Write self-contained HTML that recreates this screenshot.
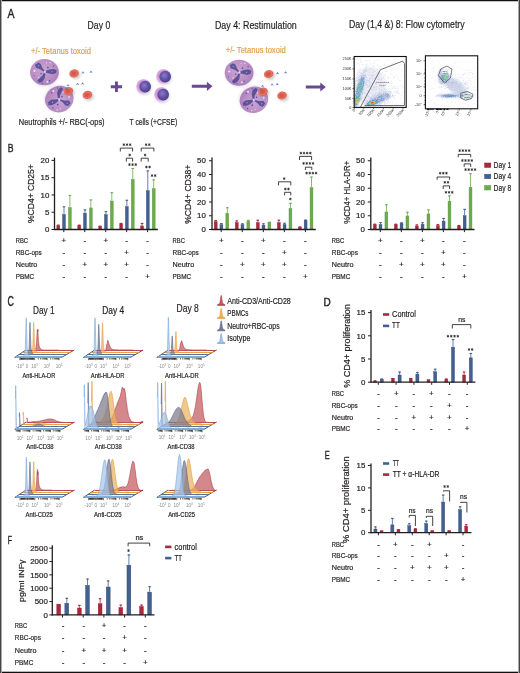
<!DOCTYPE html>
<html><head><meta charset="utf-8"><style>
html,body{margin:0;padding:0;background:#fff;}
svg{display:block;will-change:transform;}
text{font-family:"Liberation Sans", sans-serif;}
</style></head><body>
<svg width="520" height="673" viewBox="0 0 520 673" fill="#231f20" stroke="none">
<rect width="520" height="673" fill="#fff"/>
<defs>
<radialGradient id="neu" cx="0.45" cy="0.42" r="0.62">
 <stop offset="0" stop-color="#cca4d4"/><stop offset="0.6" stop-color="#bc90c6"/><stop offset="0.9" stop-color="#ae82bd"/><stop offset="1" stop-color="#bf95c9"/>
</radialGradient>
<radialGradient id="rbc" cx="0.46" cy="0.5" r="0.6">
 <stop offset="0" stop-color="#cf5a50"/><stop offset="0.35" stop-color="#d8584c"/><stop offset="0.62" stop-color="#ea7462"/><stop offset="1" stop-color="#d4483c"/>
</radialGradient>
<radialGradient id="tco" cx="0.5" cy="0.5" r="0.5">
 <stop offset="0.55" stop-color="#c98fd2"/><stop offset="0.85" stop-color="#d9a2db"/><stop offset="1" stop-color="#ecc3ec"/>
</radialGradient>
<radialGradient id="tci" cx="0.42" cy="0.4" r="0.62">
 <stop offset="0" stop-color="#8a7cc6"/><stop offset="0.55" stop-color="#6353a8"/><stop offset="0.9" stop-color="#514294"/><stop offset="1" stop-color="#45388a"/>
</radialGradient>
<filter id="blur1" x="-50%" y="-50%" width="200%" height="200%"><feGaussianBlur stdDeviation="1.2"/></filter>
<filter id="blur05" x="-50%" y="-50%" width="200%" height="200%"><feGaussianBlur stdDeviation="0.45"/></filter>
</defs>
<rect x="0" y="0" width="520" height="1" fill="#111"/>
<rect x="0" y="1" width="520" height="0.6" fill="#999"/>
<rect x="0" y="672" width="520" height="1" fill="#111"/>
<rect x="0" y="671" width="520" height="0.6" fill="#888"/>
<rect x="0" y="0" width="1" height="673" fill="#444"/>
<rect x="1" y="0" width="1" height="673" fill="#aaa"/>
<rect x="519" y="0" width="1" height="673" fill="#444"/>
<rect x="518" y="0" width="1" height="673" fill="#aaa"/>
<text x="7.8" y="152.2" font-size="11.83" stroke="#231f20" stroke-width="0.4" textLength="5.8" lengthAdjust="spacingAndGlyphs">B</text>
<rect x="56.85" y="225.55" width="2.9" height="3.95" fill="#a9283d" stroke="#9a1a30" stroke-width="0.4"/>
<line x1="58.3" y1="225.35" x2="58.3" y2="224.66" stroke="#a9283d" stroke-width="0.8"/>
<line x1="57" y1="225.16" x2="59.6" y2="225.16" stroke="#a9283d" stroke-width="1.1"/>
<rect x="62.55" y="214.5" width="2.9" height="15" fill="#44608e" stroke="#2f4a7c" stroke-width="0.4"/>
<line x1="64" y1="214.3" x2="64" y2="206.35" stroke="#44608e" stroke-width="0.8"/>
<line x1="62.7" y1="206.85" x2="65.3" y2="206.85" stroke="#44608e" stroke-width="1.1"/>
<rect x="68.45" y="207.59" width="2.9" height="21.91" fill="#6caa4c" stroke="#5a9a3e" stroke-width="0.4"/>
<line x1="69.9" y1="207.39" x2="69.9" y2="194.95" stroke="#6caa4c" stroke-width="0.8"/>
<line x1="68.6" y1="195.45" x2="71.2" y2="195.45" stroke="#6caa4c" stroke-width="1.1"/>
<rect x="77.8" y="225.21" width="2.9" height="4.29" fill="#a9283d" stroke="#9a1a30" stroke-width="0.4"/>
<line x1="79.25" y1="225.01" x2="79.25" y2="224.66" stroke="#a9283d" stroke-width="0.8"/>
<line x1="77.95" y1="225.16" x2="80.55" y2="225.16" stroke="#a9283d" stroke-width="1.1"/>
<rect x="83.5" y="213.12" width="2.9" height="16.38" fill="#44608e" stroke="#2f4a7c" stroke-width="0.4"/>
<line x1="84.95" y1="212.92" x2="84.95" y2="209.46" stroke="#44608e" stroke-width="0.8"/>
<line x1="83.65" y1="209.96" x2="86.25" y2="209.96" stroke="#44608e" stroke-width="1.1"/>
<rect x="89.4" y="207.93" width="2.9" height="21.57" fill="#6caa4c" stroke="#5a9a3e" stroke-width="0.4"/>
<line x1="90.85" y1="207.73" x2="90.85" y2="199.44" stroke="#6caa4c" stroke-width="0.8"/>
<line x1="89.55" y1="199.94" x2="92.15" y2="199.94" stroke="#6caa4c" stroke-width="1.1"/>
<rect x="98.75" y="226.59" width="2.9" height="2.91" fill="#a9283d" stroke="#9a1a30" stroke-width="0.4"/>
<line x1="100.2" y1="226.39" x2="100.2" y2="225.7" stroke="#a9283d" stroke-width="0.8"/>
<line x1="98.9" y1="226.2" x2="101.5" y2="226.2" stroke="#a9283d" stroke-width="1.1"/>
<rect x="104.45" y="214.5" width="2.9" height="15" fill="#44608e" stroke="#2f4a7c" stroke-width="0.4"/>
<line x1="105.9" y1="214.3" x2="105.9" y2="211.19" stroke="#44608e" stroke-width="0.8"/>
<line x1="104.6" y1="211.69" x2="107.2" y2="211.69" stroke="#44608e" stroke-width="1.1"/>
<rect x="110.35" y="201.02" width="2.9" height="28.48" fill="#6caa4c" stroke="#5a9a3e" stroke-width="0.4"/>
<line x1="111.8" y1="200.82" x2="111.8" y2="192.19" stroke="#6caa4c" stroke-width="0.8"/>
<line x1="110.5" y1="192.69" x2="113.1" y2="192.69" stroke="#6caa4c" stroke-width="1.1"/>
<rect x="119.7" y="223.83" width="2.9" height="5.67" fill="#a9283d" stroke="#9a1a30" stroke-width="0.4"/>
<line x1="121.15" y1="223.63" x2="121.15" y2="222.94" stroke="#a9283d" stroke-width="0.8"/>
<line x1="119.85" y1="223.44" x2="122.45" y2="223.44" stroke="#a9283d" stroke-width="1.1"/>
<rect x="125.4" y="206.55" width="2.9" height="22.95" fill="#44608e" stroke="#2f4a7c" stroke-width="0.4"/>
<line x1="126.85" y1="206.35" x2="126.85" y2="199.79" stroke="#44608e" stroke-width="0.8"/>
<line x1="125.55" y1="200.29" x2="128.15" y2="200.29" stroke="#44608e" stroke-width="1.1"/>
<rect x="131.3" y="179.26" width="2.9" height="50.24" fill="#6caa4c" stroke="#5a9a3e" stroke-width="0.4"/>
<line x1="132.75" y1="179.06" x2="132.75" y2="168" stroke="#6caa4c" stroke-width="0.8"/>
<line x1="131.45" y1="168.5" x2="134.05" y2="168.5" stroke="#6caa4c" stroke-width="1.1"/>
<rect x="140.65" y="225.9" width="2.9" height="3.6" fill="#a9283d" stroke="#9a1a30" stroke-width="0.4"/>
<line x1="142.1" y1="225.7" x2="142.1" y2="222.94" stroke="#a9283d" stroke-width="0.8"/>
<line x1="140.8" y1="223.44" x2="143.4" y2="223.44" stroke="#a9283d" stroke-width="1.1"/>
<rect x="146.35" y="190.66" width="2.9" height="38.84" fill="#44608e" stroke="#2f4a7c" stroke-width="0.4"/>
<line x1="147.8" y1="190.46" x2="147.8" y2="170.42" stroke="#44608e" stroke-width="0.8"/>
<line x1="146.5" y1="170.92" x2="149.1" y2="170.92" stroke="#44608e" stroke-width="1.1"/>
<rect x="152.25" y="188.59" width="2.9" height="40.91" fill="#6caa4c" stroke="#5a9a3e" stroke-width="0.4"/>
<line x1="153.7" y1="188.39" x2="153.7" y2="179.4" stroke="#6caa4c" stroke-width="0.8"/>
<line x1="152.4" y1="179.9" x2="155" y2="179.9" stroke="#6caa4c" stroke-width="1.1"/>
<line x1="54.5" y1="157.6" x2="54.5" y2="230.1" stroke="#231f20" stroke-width="1.3"/>
<line x1="53.9" y1="229.5" x2="157.9" y2="229.5" stroke="#231f20" stroke-width="1.3"/>
<line x1="51.5" y1="229.5" x2="54.5" y2="229.5" stroke="#231f20" stroke-width="1"/>
<text x="49.4" y="232.22" font-size="7.9" text-anchor="end" stroke="#231f20" stroke-width="0.2">0</text>
<line x1="51.5" y1="212.22" x2="54.5" y2="212.22" stroke="#231f20" stroke-width="1"/>
<text x="49.4" y="214.94" font-size="7.9" text-anchor="end" stroke="#231f20" stroke-width="0.2">5</text>
<line x1="51.5" y1="194.95" x2="54.5" y2="194.95" stroke="#231f20" stroke-width="1"/>
<text x="49.4" y="197.67" font-size="7.9" text-anchor="end" stroke="#231f20" stroke-width="0.2">10</text>
<line x1="51.5" y1="177.68" x2="54.5" y2="177.68" stroke="#231f20" stroke-width="1"/>
<text x="49.4" y="180.39" font-size="7.9" text-anchor="end" stroke="#231f20" stroke-width="0.2">15</text>
<line x1="51.5" y1="160.4" x2="54.5" y2="160.4" stroke="#231f20" stroke-width="1"/>
<text x="49.4" y="163.12" font-size="7.9" text-anchor="end" stroke="#231f20" stroke-width="0.2">20</text>
<line x1="63.8" y1="229.5" x2="63.8" y2="232.1" stroke="#231f20" stroke-width="1"/>
<line x1="84.75" y1="229.5" x2="84.75" y2="232.1" stroke="#231f20" stroke-width="1"/>
<line x1="105.7" y1="229.5" x2="105.7" y2="232.1" stroke="#231f20" stroke-width="1"/>
<line x1="126.65" y1="229.5" x2="126.65" y2="232.1" stroke="#231f20" stroke-width="1"/>
<line x1="147.6" y1="229.5" x2="147.6" y2="232.1" stroke="#231f20" stroke-width="1"/>
<text x="33.7" y="193.6" font-size="8.4" text-anchor="middle" stroke="#231f20" stroke-width="0.2" textLength="58.8" lengthAdjust="spacingAndGlyphs" transform="rotate(-90 33.7 193.6)">%CD4+ CD25+</text>
<text x="15.7" y="242.82" font-size="7.9" stroke="#231f20" stroke-width="0.2" textLength="12.3" lengthAdjust="spacingAndGlyphs">RBC</text>
<text x="63.8" y="242.82" font-size="7.9" text-anchor="middle" stroke="#231f20" stroke-width="0.2">+</text>
<text x="84.75" y="242.82" font-size="7.9" text-anchor="middle" stroke="#231f20" stroke-width="0.2">-</text>
<text x="105.7" y="242.82" font-size="7.9" text-anchor="middle" stroke="#231f20" stroke-width="0.2">+</text>
<text x="126.65" y="242.82" font-size="7.9" text-anchor="middle" stroke="#231f20" stroke-width="0.2">-</text>
<text x="147.6" y="242.82" font-size="7.9" text-anchor="middle" stroke="#231f20" stroke-width="0.2">-</text>
<text x="15.7" y="254.82" font-size="7.9" stroke="#231f20" stroke-width="0.2" textLength="26.1" lengthAdjust="spacingAndGlyphs">RBC-ops</text>
<text x="63.8" y="254.82" font-size="7.9" text-anchor="middle" stroke="#231f20" stroke-width="0.2">-</text>
<text x="84.75" y="254.82" font-size="7.9" text-anchor="middle" stroke="#231f20" stroke-width="0.2">-</text>
<text x="105.7" y="254.82" font-size="7.9" text-anchor="middle" stroke="#231f20" stroke-width="0.2">-</text>
<text x="126.65" y="254.82" font-size="7.9" text-anchor="middle" stroke="#231f20" stroke-width="0.2">+</text>
<text x="147.6" y="254.82" font-size="7.9" text-anchor="middle" stroke="#231f20" stroke-width="0.2">-</text>
<text x="15.7" y="266.82" font-size="7.9" stroke="#231f20" stroke-width="0.2" textLength="21.7" lengthAdjust="spacingAndGlyphs">Neutro</text>
<text x="63.8" y="266.82" font-size="7.9" text-anchor="middle" stroke="#231f20" stroke-width="0.2">-</text>
<text x="84.75" y="266.82" font-size="7.9" text-anchor="middle" stroke="#231f20" stroke-width="0.2">+</text>
<text x="105.7" y="266.82" font-size="7.9" text-anchor="middle" stroke="#231f20" stroke-width="0.2">+</text>
<text x="126.65" y="266.82" font-size="7.9" text-anchor="middle" stroke="#231f20" stroke-width="0.2">+</text>
<text x="147.6" y="266.82" font-size="7.9" text-anchor="middle" stroke="#231f20" stroke-width="0.2">-</text>
<text x="15.7" y="278.82" font-size="7.9" stroke="#231f20" stroke-width="0.2" textLength="18.5" lengthAdjust="spacingAndGlyphs">PBMC</text>
<text x="63.8" y="278.82" font-size="7.9" text-anchor="middle" stroke="#231f20" stroke-width="0.2">-</text>
<text x="84.75" y="278.82" font-size="7.9" text-anchor="middle" stroke="#231f20" stroke-width="0.2">-</text>
<text x="105.7" y="278.82" font-size="7.9" text-anchor="middle" stroke="#231f20" stroke-width="0.2">-</text>
<text x="126.65" y="278.82" font-size="7.9" text-anchor="middle" stroke="#231f20" stroke-width="0.2">-</text>
<text x="147.6" y="278.82" font-size="7.9" text-anchor="middle" stroke="#231f20" stroke-width="0.2">+</text>
<path d="M120.3 151.5V148.1H132.6V151.5" fill="none" stroke="#231f20" stroke-width="0.85"/>
<path d="M123.85 145.65L123.85 143.75M123.03 145.17L124.67 144.22M123.03 144.22L124.67 145.17M127.00 145.65L127.00 143.75M126.18 145.17L127.82 144.22M126.18 144.22L127.82 145.17M130.15 145.65L130.15 143.75M129.33 145.17L130.97 144.22M129.33 144.22L130.97 145.17" stroke="#2a2627" stroke-width="0.75" stroke-linecap="round" fill="none"/>
<path d="M126.3 161.6V158.2H132.6V161.6" fill="none" stroke="#231f20" stroke-width="0.85"/>
<path d="M129.70 155.95L129.70 154.05M128.88 155.47L130.52 154.53M128.88 154.53L130.52 155.47" stroke="#2a2627" stroke-width="0.75" stroke-linecap="round" fill="none"/>
<path d="M129.45 165.55L129.45 163.65M128.63 165.07L130.27 164.12M128.63 164.12L130.27 165.07M132.60 165.55L132.60 163.65M131.78 165.07L133.42 164.12M131.78 164.12L133.42 165.07M135.75 165.55L135.75 163.65M134.93 165.07L136.57 164.12M134.93 164.12L136.57 165.07" stroke="#2a2627" stroke-width="0.75" stroke-linecap="round" fill="none"/>
<path d="M141.2 151.5V148.1H153.9V151.5" fill="none" stroke="#231f20" stroke-width="0.85"/>
<path d="M146.12 145.65L146.12 143.75M145.30 145.17L146.95 144.22M145.30 144.22L146.95 145.17M149.27 145.65L149.27 143.75M148.45 145.17L150.10 144.22M148.45 144.22L150.10 145.17" stroke="#2a2627" stroke-width="0.75" stroke-linecap="round" fill="none"/>
<path d="M141.2 161.6V158.2H148.2V161.6" fill="none" stroke="#231f20" stroke-width="0.85"/>
<path d="M145.10 155.95L145.10 154.05M144.28 155.47L145.92 154.53M144.28 154.53L145.92 155.47" stroke="#2a2627" stroke-width="0.75" stroke-linecap="round" fill="none"/>
<path d="M146.43 167.95L146.43 166.05M145.60 167.47L147.25 166.53M145.60 166.53L147.25 167.47M149.57 167.95L149.57 166.05M148.75 167.47L150.40 166.53M148.75 166.53L150.40 167.47" stroke="#2a2627" stroke-width="0.75" stroke-linecap="round" fill="none"/>
<path d="M152.03 176.55L152.03 174.65M151.20 176.07L152.85 175.12M151.20 175.12L152.85 176.07M155.17 176.55L155.17 174.65M154.35 176.07L156.00 175.12M154.35 175.12L156.00 176.07" stroke="#2a2627" stroke-width="0.75" stroke-linecap="round" fill="none"/>
<rect x="214.25" y="221.72" width="2.9" height="7.77" fill="#a9283d" stroke="#9a1a30" stroke-width="0.4"/>
<line x1="215.7" y1="221.53" x2="215.7" y2="220.01" stroke="#a9283d" stroke-width="0.8"/>
<line x1="214.4" y1="220.51" x2="217" y2="220.51" stroke="#a9283d" stroke-width="1.1"/>
<rect x="219.95" y="224.75" width="2.9" height="4.75" fill="#44608e" stroke="#2f4a7c" stroke-width="0.4"/>
<line x1="221.4" y1="224.55" x2="221.4" y2="223.04" stroke="#44608e" stroke-width="0.8"/>
<line x1="220.1" y1="223.54" x2="222.7" y2="223.54" stroke="#44608e" stroke-width="1.1"/>
<rect x="225.85" y="213.2" width="2.9" height="16.3" fill="#6caa4c" stroke="#5a9a3e" stroke-width="0.4"/>
<line x1="227.3" y1="213" x2="227.3" y2="207.22" stroke="#6caa4c" stroke-width="0.8"/>
<line x1="226" y1="207.72" x2="228.6" y2="207.72" stroke="#6caa4c" stroke-width="1.1"/>
<rect x="235.3" y="222.55" width="2.9" height="6.95" fill="#a9283d" stroke="#9a1a30" stroke-width="0.4"/>
<line x1="236.75" y1="222.35" x2="236.75" y2="220.43" stroke="#a9283d" stroke-width="0.8"/>
<line x1="235.45" y1="220.93" x2="238.05" y2="220.93" stroke="#a9283d" stroke-width="1.1"/>
<rect x="241" y="224.75" width="2.9" height="4.75" fill="#44608e" stroke="#2f4a7c" stroke-width="0.4"/>
<line x1="242.45" y1="224.55" x2="242.45" y2="223.31" stroke="#44608e" stroke-width="0.8"/>
<line x1="241.15" y1="223.81" x2="243.75" y2="223.81" stroke="#44608e" stroke-width="1.1"/>
<rect x="246.9" y="221.31" width="2.9" height="8.19" fill="#6caa4c" stroke="#5a9a3e" stroke-width="0.4"/>
<line x1="248.35" y1="221.11" x2="248.35" y2="219.88" stroke="#6caa4c" stroke-width="0.8"/>
<line x1="247.05" y1="220.38" x2="249.65" y2="220.38" stroke="#6caa4c" stroke-width="1.1"/>
<rect x="256.35" y="222.55" width="2.9" height="6.95" fill="#a9283d" stroke="#9a1a30" stroke-width="0.4"/>
<line x1="257.8" y1="222.35" x2="257.8" y2="219.74" stroke="#a9283d" stroke-width="0.8"/>
<line x1="256.5" y1="220.24" x2="259.1" y2="220.24" stroke="#a9283d" stroke-width="1.1"/>
<rect x="262.05" y="225.16" width="2.9" height="4.34" fill="#44608e" stroke="#2f4a7c" stroke-width="0.4"/>
<line x1="263.5" y1="224.96" x2="263.5" y2="223.31" stroke="#44608e" stroke-width="0.8"/>
<line x1="262.2" y1="223.81" x2="264.8" y2="223.81" stroke="#44608e" stroke-width="1.1"/>
<rect x="267.95" y="222" width="2.9" height="7.5" fill="#6caa4c" stroke="#5a9a3e" stroke-width="0.4"/>
<rect x="277.4" y="222.55" width="2.9" height="6.95" fill="#a9283d" stroke="#9a1a30" stroke-width="0.4"/>
<line x1="278.85" y1="222.35" x2="278.85" y2="219.74" stroke="#a9283d" stroke-width="0.8"/>
<line x1="277.55" y1="220.24" x2="280.15" y2="220.24" stroke="#a9283d" stroke-width="1.1"/>
<rect x="283.1" y="224.47" width="2.9" height="5.02" fill="#44608e" stroke="#2f4a7c" stroke-width="0.4"/>
<line x1="284.55" y1="224.28" x2="284.55" y2="222.76" stroke="#44608e" stroke-width="0.8"/>
<line x1="283.25" y1="223.26" x2="285.85" y2="223.26" stroke="#44608e" stroke-width="1.1"/>
<rect x="289" y="208.39" width="2.9" height="21.11" fill="#6caa4c" stroke="#5a9a3e" stroke-width="0.4"/>
<line x1="290.45" y1="208.19" x2="290.45" y2="202.82" stroke="#6caa4c" stroke-width="0.8"/>
<line x1="289.15" y1="203.32" x2="291.75" y2="203.32" stroke="#6caa4c" stroke-width="1.1"/>
<rect x="298.45" y="227.09" width="2.9" height="2.41" fill="#a9283d" stroke="#9a1a30" stroke-width="0.4"/>
<line x1="299.9" y1="226.89" x2="299.9" y2="226.47" stroke="#a9283d" stroke-width="0.8"/>
<line x1="298.6" y1="226.97" x2="301.2" y2="226.97" stroke="#a9283d" stroke-width="1.1"/>
<rect x="304.15" y="220.21" width="2.9" height="9.29" fill="#44608e" stroke="#2f4a7c" stroke-width="0.4"/>
<line x1="305.6" y1="220.01" x2="305.6" y2="219.6" stroke="#44608e" stroke-width="0.8"/>
<line x1="304.3" y1="220.1" x2="306.9" y2="220.1" stroke="#44608e" stroke-width="1.1"/>
<rect x="310.05" y="187.62" width="2.9" height="41.87" fill="#6caa4c" stroke="#5a9a3e" stroke-width="0.4"/>
<line x1="311.5" y1="187.43" x2="311.5" y2="176.56" stroke="#6caa4c" stroke-width="0.8"/>
<line x1="310.2" y1="177.06" x2="312.8" y2="177.06" stroke="#6caa4c" stroke-width="1.1"/>
<line x1="212" y1="157.6" x2="212" y2="230.1" stroke="#231f20" stroke-width="1.3"/>
<line x1="211.4" y1="229.5" x2="315.8" y2="229.5" stroke="#231f20" stroke-width="1.3"/>
<line x1="209" y1="229.5" x2="212" y2="229.5" stroke="#231f20" stroke-width="1"/>
<text x="205.9" y="232.22" font-size="7.9" text-anchor="end" stroke="#231f20" stroke-width="0.2">0</text>
<line x1="209" y1="215.75" x2="212" y2="215.75" stroke="#231f20" stroke-width="1"/>
<text x="205.9" y="218.47" font-size="7.9" text-anchor="end" stroke="#231f20" stroke-width="0.2">10</text>
<line x1="209" y1="202" x2="212" y2="202" stroke="#231f20" stroke-width="1"/>
<text x="205.9" y="204.72" font-size="7.9" text-anchor="end" stroke="#231f20" stroke-width="0.2">20</text>
<line x1="209" y1="188.25" x2="212" y2="188.25" stroke="#231f20" stroke-width="1"/>
<text x="205.9" y="190.97" font-size="7.9" text-anchor="end" stroke="#231f20" stroke-width="0.2">30</text>
<line x1="209" y1="174.5" x2="212" y2="174.5" stroke="#231f20" stroke-width="1"/>
<text x="205.9" y="177.22" font-size="7.9" text-anchor="end" stroke="#231f20" stroke-width="0.2">40</text>
<line x1="209" y1="160.75" x2="212" y2="160.75" stroke="#231f20" stroke-width="1"/>
<text x="205.9" y="163.47" font-size="7.9" text-anchor="end" stroke="#231f20" stroke-width="0.2">50</text>
<line x1="221.2" y1="229.5" x2="221.2" y2="232.1" stroke="#231f20" stroke-width="1"/>
<line x1="242.25" y1="229.5" x2="242.25" y2="232.1" stroke="#231f20" stroke-width="1"/>
<line x1="263.3" y1="229.5" x2="263.3" y2="232.1" stroke="#231f20" stroke-width="1"/>
<line x1="284.35" y1="229.5" x2="284.35" y2="232.1" stroke="#231f20" stroke-width="1"/>
<line x1="305.4" y1="229.5" x2="305.4" y2="232.1" stroke="#231f20" stroke-width="1"/>
<text x="190.8" y="194.2" font-size="8.4" text-anchor="middle" stroke="#231f20" stroke-width="0.2" textLength="59.2" lengthAdjust="spacingAndGlyphs" transform="rotate(-90 190.8 194.2)">%CD4+ CD38+</text>
<text x="172.6" y="242.82" font-size="7.9" stroke="#231f20" stroke-width="0.2" textLength="12.3" lengthAdjust="spacingAndGlyphs">RBC</text>
<text x="221.2" y="242.82" font-size="7.9" text-anchor="middle" stroke="#231f20" stroke-width="0.2">+</text>
<text x="242.25" y="242.82" font-size="7.9" text-anchor="middle" stroke="#231f20" stroke-width="0.2">-</text>
<text x="263.3" y="242.82" font-size="7.9" text-anchor="middle" stroke="#231f20" stroke-width="0.2">+</text>
<text x="284.35" y="242.82" font-size="7.9" text-anchor="middle" stroke="#231f20" stroke-width="0.2">-</text>
<text x="305.4" y="242.82" font-size="7.9" text-anchor="middle" stroke="#231f20" stroke-width="0.2">-</text>
<text x="172.6" y="254.82" font-size="7.9" stroke="#231f20" stroke-width="0.2" textLength="26.1" lengthAdjust="spacingAndGlyphs">RBC-ops</text>
<text x="221.2" y="254.82" font-size="7.9" text-anchor="middle" stroke="#231f20" stroke-width="0.2">-</text>
<text x="242.25" y="254.82" font-size="7.9" text-anchor="middle" stroke="#231f20" stroke-width="0.2">-</text>
<text x="263.3" y="254.82" font-size="7.9" text-anchor="middle" stroke="#231f20" stroke-width="0.2">-</text>
<text x="284.35" y="254.82" font-size="7.9" text-anchor="middle" stroke="#231f20" stroke-width="0.2">+</text>
<text x="305.4" y="254.82" font-size="7.9" text-anchor="middle" stroke="#231f20" stroke-width="0.2">-</text>
<text x="172.6" y="266.82" font-size="7.9" stroke="#231f20" stroke-width="0.2" textLength="21.7" lengthAdjust="spacingAndGlyphs">Neutro</text>
<text x="221.2" y="266.82" font-size="7.9" text-anchor="middle" stroke="#231f20" stroke-width="0.2">-</text>
<text x="242.25" y="266.82" font-size="7.9" text-anchor="middle" stroke="#231f20" stroke-width="0.2">+</text>
<text x="263.3" y="266.82" font-size="7.9" text-anchor="middle" stroke="#231f20" stroke-width="0.2">+</text>
<text x="284.35" y="266.82" font-size="7.9" text-anchor="middle" stroke="#231f20" stroke-width="0.2">+</text>
<text x="305.4" y="266.82" font-size="7.9" text-anchor="middle" stroke="#231f20" stroke-width="0.2">-</text>
<text x="172.6" y="278.82" font-size="7.9" stroke="#231f20" stroke-width="0.2" textLength="18.5" lengthAdjust="spacingAndGlyphs">PBMC</text>
<text x="221.2" y="278.82" font-size="7.9" text-anchor="middle" stroke="#231f20" stroke-width="0.2">-</text>
<text x="242.25" y="278.82" font-size="7.9" text-anchor="middle" stroke="#231f20" stroke-width="0.2">-</text>
<text x="263.3" y="278.82" font-size="7.9" text-anchor="middle" stroke="#231f20" stroke-width="0.2">-</text>
<text x="284.35" y="278.82" font-size="7.9" text-anchor="middle" stroke="#231f20" stroke-width="0.2">-</text>
<text x="305.4" y="278.82" font-size="7.9" text-anchor="middle" stroke="#231f20" stroke-width="0.2">+</text>
<path d="M278.5 185.4V181.8H290.8V185.4" fill="none" stroke="#231f20" stroke-width="0.85"/>
<path d="M284.20 179.55L284.20 177.65M283.38 179.07L285.02 178.12M283.38 178.12L285.02 179.07" stroke="#2a2627" stroke-width="0.75" stroke-linecap="round" fill="none"/>
<path d="M284.6 195.4V192.3H290.8V195.4" fill="none" stroke="#231f20" stroke-width="0.85"/>
<path d="M285.32 189.95L285.32 188.05M284.50 189.47L286.15 188.53M284.50 188.53L286.15 189.47M288.47 189.95L288.47 188.05M287.65 189.47L289.30 188.53M287.65 188.53L289.30 189.47" stroke="#2a2627" stroke-width="0.75" stroke-linecap="round" fill="none"/>
<path d="M290.30 199.95L290.30 198.05M289.48 199.47L291.12 198.53M289.48 198.53L291.12 199.47" stroke="#2a2627" stroke-width="0.75" stroke-linecap="round" fill="none"/>
<path d="M299.5 160V156.4H311.6V160" fill="none" stroke="#231f20" stroke-width="0.85"/>
<path d="M300.88 154.05L300.88 152.15M300.05 153.57L301.70 152.62M300.05 152.62L301.70 153.57M304.03 154.05L304.03 152.15M303.20 153.57L304.85 152.62M303.20 152.62L304.85 153.57M307.18 154.05L307.18 152.15M306.35 153.57L308.00 152.62M306.35 152.62L308.00 153.57M310.33 154.05L310.33 152.15M309.50 153.57L311.15 152.62M309.50 152.62L311.15 153.57" stroke="#2a2627" stroke-width="0.75" stroke-linecap="round" fill="none"/>
<path d="M305.4 170V167.2H311.8V170" fill="none" stroke="#231f20" stroke-width="0.85"/>
<path d="M303.57 164.35L303.57 162.45M302.75 163.88L304.40 162.93M302.75 162.93L304.40 163.88M306.73 164.35L306.73 162.45M305.90 163.88L307.55 162.93M305.90 162.93L307.55 163.88M309.88 164.35L309.88 162.45M309.05 163.88L310.70 162.93M309.05 162.93L310.70 163.88M313.03 164.35L313.03 162.45M312.20 163.88L313.85 162.93M312.20 162.93L313.85 163.88" stroke="#2a2627" stroke-width="0.75" stroke-linecap="round" fill="none"/>
<path d="M306.57 174.05L306.57 172.15M305.75 173.57L307.40 172.62M305.75 172.62L307.40 173.57M309.73 174.05L309.73 172.15M308.90 173.57L310.55 172.62M308.90 172.62L310.55 173.57M312.88 174.05L312.88 172.15M312.05 173.57L313.70 172.62M312.05 172.62L313.70 173.57M316.03 174.05L316.03 172.15M315.20 173.57L316.85 172.62M315.20 172.62L316.85 173.57" stroke="#2a2627" stroke-width="0.75" stroke-linecap="round" fill="none"/>
<rect x="373.35" y="224.75" width="2.9" height="4.75" fill="#a9283d" stroke="#9a1a30" stroke-width="0.4"/>
<line x1="374.8" y1="224.55" x2="374.8" y2="223.72" stroke="#a9283d" stroke-width="0.8"/>
<line x1="373.5" y1="224.22" x2="376.1" y2="224.22" stroke="#a9283d" stroke-width="1.1"/>
<rect x="379.05" y="224.47" width="2.9" height="5.02" fill="#44608e" stroke="#2f4a7c" stroke-width="0.4"/>
<line x1="380.5" y1="224.28" x2="380.5" y2="222.07" stroke="#44608e" stroke-width="0.8"/>
<line x1="379.2" y1="222.57" x2="381.8" y2="222.57" stroke="#44608e" stroke-width="1.1"/>
<rect x="384.95" y="211.96" width="2.9" height="17.54" fill="#6caa4c" stroke="#5a9a3e" stroke-width="0.4"/>
<line x1="386.4" y1="211.76" x2="386.4" y2="204.2" stroke="#6caa4c" stroke-width="0.8"/>
<line x1="385.1" y1="204.7" x2="387.7" y2="204.7" stroke="#6caa4c" stroke-width="1.1"/>
<rect x="394.38" y="224.75" width="2.9" height="4.75" fill="#a9283d" stroke="#9a1a30" stroke-width="0.4"/>
<line x1="395.83" y1="224.55" x2="395.83" y2="223.72" stroke="#a9283d" stroke-width="0.8"/>
<line x1="394.53" y1="224.22" x2="397.13" y2="224.22" stroke="#a9283d" stroke-width="1.1"/>
<rect x="400.08" y="223.24" width="2.9" height="6.26" fill="#44608e" stroke="#2f4a7c" stroke-width="0.4"/>
<line x1="401.53" y1="223.04" x2="401.53" y2="222.35" stroke="#44608e" stroke-width="0.8"/>
<line x1="400.23" y1="222.85" x2="402.83" y2="222.85" stroke="#44608e" stroke-width="1.1"/>
<rect x="405.98" y="215.95" width="2.9" height="13.55" fill="#6caa4c" stroke="#5a9a3e" stroke-width="0.4"/>
<line x1="407.43" y1="215.75" x2="407.43" y2="211.76" stroke="#6caa4c" stroke-width="0.8"/>
<line x1="406.13" y1="212.26" x2="408.73" y2="212.26" stroke="#6caa4c" stroke-width="1.1"/>
<rect x="415.41" y="225.99" width="2.9" height="3.51" fill="#a9283d" stroke="#9a1a30" stroke-width="0.4"/>
<line x1="416.86" y1="225.79" x2="416.86" y2="224.41" stroke="#a9283d" stroke-width="0.8"/>
<line x1="415.56" y1="224.91" x2="418.16" y2="224.91" stroke="#a9283d" stroke-width="1.1"/>
<rect x="421.11" y="224.2" width="2.9" height="5.3" fill="#44608e" stroke="#2f4a7c" stroke-width="0.4"/>
<line x1="422.56" y1="224" x2="422.56" y2="222.21" stroke="#44608e" stroke-width="0.8"/>
<line x1="421.26" y1="222.71" x2="423.86" y2="222.71" stroke="#44608e" stroke-width="1.1"/>
<rect x="427.01" y="213.89" width="2.9" height="15.61" fill="#6caa4c" stroke="#5a9a3e" stroke-width="0.4"/>
<line x1="428.46" y1="213.69" x2="428.46" y2="209.43" stroke="#6caa4c" stroke-width="0.8"/>
<line x1="427.16" y1="209.93" x2="429.76" y2="209.93" stroke="#6caa4c" stroke-width="1.1"/>
<rect x="436.44" y="225.57" width="2.9" height="3.92" fill="#a9283d" stroke="#9a1a30" stroke-width="0.4"/>
<line x1="437.89" y1="225.38" x2="437.89" y2="224" stroke="#a9283d" stroke-width="0.8"/>
<line x1="436.59" y1="224.5" x2="439.19" y2="224.5" stroke="#a9283d" stroke-width="1.1"/>
<rect x="442.14" y="221.04" width="2.9" height="8.46" fill="#44608e" stroke="#2f4a7c" stroke-width="0.4"/>
<line x1="443.59" y1="220.84" x2="443.59" y2="217.95" stroke="#44608e" stroke-width="0.8"/>
<line x1="442.29" y1="218.45" x2="444.89" y2="218.45" stroke="#44608e" stroke-width="1.1"/>
<rect x="448.04" y="201.1" width="2.9" height="28.4" fill="#6caa4c" stroke="#5a9a3e" stroke-width="0.4"/>
<line x1="449.49" y1="200.9" x2="449.49" y2="195.4" stroke="#6caa4c" stroke-width="0.8"/>
<line x1="448.19" y1="195.9" x2="450.79" y2="195.9" stroke="#6caa4c" stroke-width="1.1"/>
<rect x="457.47" y="225.99" width="2.9" height="3.51" fill="#a9283d" stroke="#9a1a30" stroke-width="0.4"/>
<line x1="458.92" y1="225.79" x2="458.92" y2="224.96" stroke="#a9283d" stroke-width="0.8"/>
<line x1="457.62" y1="225.46" x2="460.22" y2="225.46" stroke="#a9283d" stroke-width="1.1"/>
<rect x="463.17" y="215.67" width="2.9" height="13.83" fill="#44608e" stroke="#2f4a7c" stroke-width="0.4"/>
<line x1="464.62" y1="215.47" x2="464.62" y2="208.88" stroke="#44608e" stroke-width="0.8"/>
<line x1="463.32" y1="209.38" x2="465.92" y2="209.38" stroke="#44608e" stroke-width="1.1"/>
<rect x="469.07" y="187.21" width="2.9" height="42.29" fill="#6caa4c" stroke="#5a9a3e" stroke-width="0.4"/>
<line x1="470.52" y1="187.01" x2="470.52" y2="173.26" stroke="#6caa4c" stroke-width="0.8"/>
<line x1="469.22" y1="173.76" x2="471.82" y2="173.76" stroke="#6caa4c" stroke-width="1.1"/>
<line x1="370.8" y1="157.6" x2="370.8" y2="230.1" stroke="#231f20" stroke-width="1.3"/>
<line x1="370.2" y1="229.5" x2="474.5" y2="229.5" stroke="#231f20" stroke-width="1.3"/>
<line x1="367.8" y1="229.5" x2="370.8" y2="229.5" stroke="#231f20" stroke-width="1"/>
<text x="364.9" y="232.22" font-size="7.9" text-anchor="end" stroke="#231f20" stroke-width="0.2">0</text>
<line x1="367.8" y1="215.75" x2="370.8" y2="215.75" stroke="#231f20" stroke-width="1"/>
<text x="364.9" y="218.47" font-size="7.9" text-anchor="end" stroke="#231f20" stroke-width="0.2">10</text>
<line x1="367.8" y1="202" x2="370.8" y2="202" stroke="#231f20" stroke-width="1"/>
<text x="364.9" y="204.72" font-size="7.9" text-anchor="end" stroke="#231f20" stroke-width="0.2">20</text>
<line x1="367.8" y1="188.25" x2="370.8" y2="188.25" stroke="#231f20" stroke-width="1"/>
<text x="364.9" y="190.97" font-size="7.9" text-anchor="end" stroke="#231f20" stroke-width="0.2">30</text>
<line x1="367.8" y1="174.5" x2="370.8" y2="174.5" stroke="#231f20" stroke-width="1"/>
<text x="364.9" y="177.22" font-size="7.9" text-anchor="end" stroke="#231f20" stroke-width="0.2">40</text>
<line x1="367.8" y1="160.75" x2="370.8" y2="160.75" stroke="#231f20" stroke-width="1"/>
<text x="364.9" y="163.47" font-size="7.9" text-anchor="end" stroke="#231f20" stroke-width="0.2">50</text>
<line x1="380.3" y1="229.5" x2="380.3" y2="232.1" stroke="#231f20" stroke-width="1"/>
<line x1="401.33" y1="229.5" x2="401.33" y2="232.1" stroke="#231f20" stroke-width="1"/>
<line x1="422.36" y1="229.5" x2="422.36" y2="232.1" stroke="#231f20" stroke-width="1"/>
<line x1="443.39" y1="229.5" x2="443.39" y2="232.1" stroke="#231f20" stroke-width="1"/>
<line x1="464.42" y1="229.5" x2="464.42" y2="232.1" stroke="#231f20" stroke-width="1"/>
<text x="350" y="192.3" font-size="8.4" text-anchor="middle" stroke="#231f20" stroke-width="0.2" textLength="63" lengthAdjust="spacingAndGlyphs" transform="rotate(-90 350 192.3)">%CD4+ HLA-DR+</text>
<text x="331.8" y="242.82" font-size="7.9" stroke="#231f20" stroke-width="0.2" textLength="12.3" lengthAdjust="spacingAndGlyphs">RBC</text>
<text x="380.3" y="242.82" font-size="7.9" text-anchor="middle" stroke="#231f20" stroke-width="0.2">+</text>
<text x="401.33" y="242.82" font-size="7.9" text-anchor="middle" stroke="#231f20" stroke-width="0.2">-</text>
<text x="422.36" y="242.82" font-size="7.9" text-anchor="middle" stroke="#231f20" stroke-width="0.2">+</text>
<text x="443.39" y="242.82" font-size="7.9" text-anchor="middle" stroke="#231f20" stroke-width="0.2">-</text>
<text x="464.42" y="242.82" font-size="7.9" text-anchor="middle" stroke="#231f20" stroke-width="0.2">-</text>
<text x="331.8" y="254.82" font-size="7.9" stroke="#231f20" stroke-width="0.2" textLength="26.1" lengthAdjust="spacingAndGlyphs">RBC-ops</text>
<text x="380.3" y="254.82" font-size="7.9" text-anchor="middle" stroke="#231f20" stroke-width="0.2">-</text>
<text x="401.33" y="254.82" font-size="7.9" text-anchor="middle" stroke="#231f20" stroke-width="0.2">-</text>
<text x="422.36" y="254.82" font-size="7.9" text-anchor="middle" stroke="#231f20" stroke-width="0.2">-</text>
<text x="443.39" y="254.82" font-size="7.9" text-anchor="middle" stroke="#231f20" stroke-width="0.2">+</text>
<text x="464.42" y="254.82" font-size="7.9" text-anchor="middle" stroke="#231f20" stroke-width="0.2">-</text>
<text x="331.8" y="266.82" font-size="7.9" stroke="#231f20" stroke-width="0.2" textLength="21.7" lengthAdjust="spacingAndGlyphs">Neutro</text>
<text x="380.3" y="266.82" font-size="7.9" text-anchor="middle" stroke="#231f20" stroke-width="0.2">-</text>
<text x="401.33" y="266.82" font-size="7.9" text-anchor="middle" stroke="#231f20" stroke-width="0.2">+</text>
<text x="422.36" y="266.82" font-size="7.9" text-anchor="middle" stroke="#231f20" stroke-width="0.2">+</text>
<text x="443.39" y="266.82" font-size="7.9" text-anchor="middle" stroke="#231f20" stroke-width="0.2">+</text>
<text x="464.42" y="266.82" font-size="7.9" text-anchor="middle" stroke="#231f20" stroke-width="0.2">-</text>
<text x="331.8" y="278.82" font-size="7.9" stroke="#231f20" stroke-width="0.2" textLength="18.5" lengthAdjust="spacingAndGlyphs">PBMC</text>
<text x="380.3" y="278.82" font-size="7.9" text-anchor="middle" stroke="#231f20" stroke-width="0.2">-</text>
<text x="401.33" y="278.82" font-size="7.9" text-anchor="middle" stroke="#231f20" stroke-width="0.2">-</text>
<text x="422.36" y="278.82" font-size="7.9" text-anchor="middle" stroke="#231f20" stroke-width="0.2">-</text>
<text x="443.39" y="278.82" font-size="7.9" text-anchor="middle" stroke="#231f20" stroke-width="0.2">-</text>
<text x="464.42" y="278.82" font-size="7.9" text-anchor="middle" stroke="#231f20" stroke-width="0.2">+</text>
<path d="M437.1 179.8V177H449.6V179.8" fill="none" stroke="#231f20" stroke-width="0.85"/>
<path d="M440.15 174.15L440.15 172.25M439.33 173.67L440.97 172.72M439.33 172.72L440.97 173.67M443.30 174.15L443.30 172.25M442.48 173.67L444.12 172.72M442.48 172.72L444.12 173.67M446.45 174.15L446.45 172.25M445.63 173.67L447.27 172.72M445.63 172.72L447.27 173.67" stroke="#2a2627" stroke-width="0.75" stroke-linecap="round" fill="none"/>
<path d="M443.2 189V185.9H449.6V189" fill="none" stroke="#231f20" stroke-width="0.85"/>
<path d="M444.82 183.25L444.82 181.35M444.00 182.78L445.65 181.83M444.00 181.83L445.65 182.78M447.97 183.25L447.97 181.35M447.15 182.78L448.80 181.83M447.15 181.83L448.80 182.78" stroke="#2a2627" stroke-width="0.75" stroke-linecap="round" fill="none"/>
<path d="M445.95 193.25L445.95 191.35M445.13 192.78L446.77 191.83M445.13 191.83L446.77 192.78M449.10 193.25L449.10 191.35M448.28 192.78L449.92 191.83M448.28 191.83L449.92 192.78M452.25 193.25L452.25 191.35M451.43 192.78L453.07 191.83M451.43 191.83L453.07 192.78" stroke="#2a2627" stroke-width="0.75" stroke-linecap="round" fill="none"/>
<path d="M458.2 157.3V154.4H470.7V157.3" fill="none" stroke="#231f20" stroke-width="0.85"/>
<path d="M459.67 151.55L459.67 149.65M458.85 151.07L460.50 150.12M458.85 150.12L460.50 151.07M462.82 151.55L462.82 149.65M462.00 151.07L463.65 150.12M462.00 150.12L463.65 151.07M465.97 151.55L465.97 149.65M465.15 151.07L466.80 150.12M465.15 150.12L466.80 151.07M469.12 151.55L469.12 149.65M468.30 151.07L469.95 150.12M468.30 150.12L469.95 151.07" stroke="#2a2627" stroke-width="0.75" stroke-linecap="round" fill="none"/>
<path d="M464.2 166.9V163.9H470.7V166.9" fill="none" stroke="#231f20" stroke-width="0.85"/>
<path d="M462.38 161.45L462.38 159.55M461.55 160.97L463.20 160.03M461.55 160.03L463.20 160.97M465.53 161.45L465.53 159.55M464.70 160.97L466.35 160.03M464.70 160.03L466.35 160.97M468.68 161.45L468.68 159.55M467.85 160.97L469.50 160.03M467.85 160.03L469.50 160.97M471.83 161.45L471.83 159.55M471.00 160.97L472.65 160.03M471.00 160.03L472.65 160.97" stroke="#2a2627" stroke-width="0.75" stroke-linecap="round" fill="none"/>
<path d="M465.57 170.55L465.57 168.65M464.75 170.07L466.40 169.12M464.75 169.12L466.40 170.07M468.73 170.55L468.73 168.65M467.90 170.07L469.55 169.12M467.90 169.12L469.55 170.07M471.88 170.55L471.88 168.65M471.05 170.07L472.70 169.12M471.05 169.12L472.70 170.07M475.03 170.55L475.03 168.65M474.20 170.07L475.85 169.12M474.20 169.12L475.85 170.07" stroke="#2a2627" stroke-width="0.75" stroke-linecap="round" fill="none"/>
<rect x="484.7" y="163" width="6.1" height="4.4" fill="#a9283d" stroke="#9a1a30" stroke-width="0.5"/>
<text x="493.6" y="168.1" font-size="9.27" stroke="#231f20" stroke-width="0.2" textLength="17.7" lengthAdjust="spacingAndGlyphs">Day 1</text>
<rect x="484.7" y="174.3" width="6.1" height="4.4" fill="#44608e" stroke="#2f4a7c" stroke-width="0.5"/>
<text x="493.6" y="179.4" font-size="9.27" stroke="#231f20" stroke-width="0.2" textLength="17.7" lengthAdjust="spacingAndGlyphs">Day 4</text>
<rect x="484.7" y="185.6" width="6.1" height="4.4" fill="#6caa4c" stroke="#5a9a3e" stroke-width="0.5"/>
<text x="493.6" y="190.7" font-size="9.27" stroke="#231f20" stroke-width="0.2" textLength="17.7" lengthAdjust="spacingAndGlyphs">Day 8</text>
<text x="323.5" y="305.9" font-size="11.83" stroke="#231f20" stroke-width="0.4" textLength="7.2" lengthAdjust="spacingAndGlyphs">D</text>
<rect x="373.65" y="381.01" width="2.9" height="1.19" fill="#a9283d" stroke="#9a1a30" stroke-width="0.4"/>
<line x1="375.1" y1="380.81" x2="375.1" y2="380.34" stroke="#a9283d" stroke-width="0.8"/>
<line x1="373.8" y1="380.84" x2="376.4" y2="380.84" stroke="#a9283d" stroke-width="1.1"/>
<rect x="380.25" y="379.15" width="3.1" height="3.05" fill="#44608e" stroke="#2f4a7c" stroke-width="0.4"/>
<line x1="381.8" y1="378.95" x2="381.8" y2="378.49" stroke="#44608e" stroke-width="0.8"/>
<line x1="380.5" y1="378.99" x2="383.1" y2="378.99" stroke="#44608e" stroke-width="1.1"/>
<rect x="391.45" y="378.69" width="2.9" height="3.51" fill="#a9283d" stroke="#9a1a30" stroke-width="0.4"/>
<line x1="392.9" y1="378.49" x2="392.9" y2="378.02" stroke="#a9283d" stroke-width="0.8"/>
<line x1="391.6" y1="378.52" x2="394.2" y2="378.52" stroke="#a9283d" stroke-width="1.1"/>
<rect x="398.05" y="374.98" width="3.1" height="7.22" fill="#44608e" stroke="#2f4a7c" stroke-width="0.4"/>
<line x1="399.6" y1="374.78" x2="399.6" y2="371.53" stroke="#44608e" stroke-width="0.8"/>
<line x1="398.3" y1="372.03" x2="400.9" y2="372.03" stroke="#44608e" stroke-width="1.1"/>
<rect x="409.25" y="378.69" width="2.9" height="3.51" fill="#a9283d" stroke="#9a1a30" stroke-width="0.4"/>
<line x1="410.7" y1="378.49" x2="410.7" y2="378.02" stroke="#a9283d" stroke-width="0.8"/>
<line x1="409.4" y1="378.52" x2="412" y2="378.52" stroke="#a9283d" stroke-width="1.1"/>
<rect x="415.85" y="374.05" width="3.1" height="8.15" fill="#44608e" stroke="#2f4a7c" stroke-width="0.4"/>
<line x1="417.4" y1="373.85" x2="417.4" y2="371.99" stroke="#44608e" stroke-width="0.8"/>
<line x1="416.1" y1="372.49" x2="418.7" y2="372.49" stroke="#44608e" stroke-width="1.1"/>
<rect x="427.05" y="379.62" width="2.9" height="2.58" fill="#a9283d" stroke="#9a1a30" stroke-width="0.4"/>
<rect x="433.65" y="371.73" width="3.1" height="10.47" fill="#44608e" stroke="#2f4a7c" stroke-width="0.4"/>
<line x1="435.2" y1="371.53" x2="435.2" y2="368.74" stroke="#44608e" stroke-width="0.8"/>
<line x1="433.9" y1="369.24" x2="436.5" y2="369.24" stroke="#44608e" stroke-width="1.1"/>
<rect x="444.85" y="379.15" width="2.9" height="3.05" fill="#a9283d" stroke="#9a1a30" stroke-width="0.4"/>
<line x1="446.3" y1="378.95" x2="446.3" y2="378.49" stroke="#a9283d" stroke-width="0.8"/>
<line x1="445" y1="378.99" x2="447.6" y2="378.99" stroke="#a9283d" stroke-width="1.1"/>
<rect x="451.45" y="347.14" width="3.1" height="35.06" fill="#44608e" stroke="#2f4a7c" stroke-width="0.4"/>
<line x1="453" y1="346.94" x2="453" y2="339.05" stroke="#44608e" stroke-width="0.8"/>
<line x1="451.7" y1="339.55" x2="454.3" y2="339.55" stroke="#44608e" stroke-width="1.1"/>
<rect x="462.65" y="374.98" width="2.9" height="7.22" fill="#a9283d" stroke="#9a1a30" stroke-width="0.4"/>
<line x1="464.1" y1="374.78" x2="464.1" y2="371.53" stroke="#a9283d" stroke-width="0.8"/>
<line x1="462.8" y1="372.03" x2="465.4" y2="372.03" stroke="#a9283d" stroke-width="1.1"/>
<rect x="469.25" y="357.81" width="3.1" height="24.39" fill="#44608e" stroke="#2f4a7c" stroke-width="0.4"/>
<line x1="470.8" y1="357.61" x2="470.8" y2="352.97" stroke="#44608e" stroke-width="0.8"/>
<line x1="469.5" y1="353.47" x2="472.1" y2="353.47" stroke="#44608e" stroke-width="1.1"/>
<line x1="371" y1="310" x2="371" y2="382.8" stroke="#231f20" stroke-width="1.3"/>
<line x1="370.4" y1="382.2" x2="475.4" y2="382.2" stroke="#231f20" stroke-width="1.3"/>
<line x1="368" y1="382.2" x2="371" y2="382.2" stroke="#231f20" stroke-width="1"/>
<text x="365.3" y="384.92" font-size="7.9" text-anchor="end" stroke="#231f20" stroke-width="0.2">0</text>
<line x1="368" y1="359" x2="371" y2="359" stroke="#231f20" stroke-width="1"/>
<text x="365.3" y="361.72" font-size="7.9" text-anchor="end" stroke="#231f20" stroke-width="0.2">5</text>
<line x1="368" y1="335.8" x2="371" y2="335.8" stroke="#231f20" stroke-width="1"/>
<text x="365.3" y="338.52" font-size="7.9" text-anchor="end" stroke="#231f20" stroke-width="0.2">10</text>
<line x1="368" y1="312.6" x2="371" y2="312.6" stroke="#231f20" stroke-width="1"/>
<text x="365.3" y="315.32" font-size="7.9" text-anchor="end" stroke="#231f20" stroke-width="0.2">15</text>
<line x1="378.3" y1="382.2" x2="378.3" y2="384.8" stroke="#231f20" stroke-width="1"/>
<line x1="396.1" y1="382.2" x2="396.1" y2="384.8" stroke="#231f20" stroke-width="1"/>
<line x1="413.9" y1="382.2" x2="413.9" y2="384.8" stroke="#231f20" stroke-width="1"/>
<line x1="431.7" y1="382.2" x2="431.7" y2="384.8" stroke="#231f20" stroke-width="1"/>
<line x1="449.5" y1="382.2" x2="449.5" y2="384.8" stroke="#231f20" stroke-width="1"/>
<line x1="467.3" y1="382.2" x2="467.3" y2="384.8" stroke="#231f20" stroke-width="1"/>
<text x="349.9" y="346" font-size="8.3" text-anchor="middle" stroke="#231f20" stroke-width="0.2" textLength="83.7" lengthAdjust="spacingAndGlyphs" transform="rotate(-90 349.9 346)">% CD4+ proliferation</text>
<rect x="383" y="313.2" width="6.2" height="2.6" fill="#a9283d"/>
<text x="392.1" y="317.2" font-size="8.47" stroke="#231f20" stroke-width="0.2" textLength="23.7" lengthAdjust="spacingAndGlyphs">Control</text>
<rect x="383" y="324.6" width="6.2" height="2.6" fill="#44608e"/>
<text x="392.1" y="328.4" font-size="8.47" stroke="#231f20" stroke-width="0.2" textLength="7.7" lengthAdjust="spacingAndGlyphs">TT</text>
<path d="M447.95 337.15L447.95 335.25M447.13 336.68L448.77 335.72M447.13 335.72L448.77 336.68M451.25 337.15L451.25 335.25M450.43 336.68L452.07 335.72M450.43 335.72L452.07 336.68M454.55 337.15L454.55 335.25M453.73 336.68L455.37 335.72M453.73 335.72L455.37 336.68M457.85 337.15L457.85 335.25M457.03 336.68L458.67 335.72M457.03 335.72L458.67 336.68" stroke="#2a2627" stroke-width="0.75" stroke-linecap="round" fill="none"/>
<path d="M469.03 350.45L469.03 348.55M468.20 349.98L469.85 349.02M468.20 349.02L469.85 349.98M472.18 350.45L472.18 348.55M471.35 349.98L473.00 349.02M471.35 349.02L473.00 349.98" stroke="#2a2627" stroke-width="0.75" stroke-linecap="round" fill="none"/>
<path d="M452.3 328.5V324.6H470.8V328.5" fill="none" stroke="#231f20" stroke-width="0.85"/>
<text x="461.8" y="321.6" font-size="7.3" text-anchor="middle" stroke="#231f20" stroke-width="0.2" textLength="7.2" lengthAdjust="spacingAndGlyphs">ns</text>
<text x="331.7" y="396.32" font-size="7.9" stroke="#231f20" stroke-width="0.2" textLength="12.3" lengthAdjust="spacingAndGlyphs">RBC</text>
<text x="378.5" y="396.32" font-size="7.9" text-anchor="middle" stroke="#231f20" stroke-width="0.2">-</text>
<text x="396.3" y="396.32" font-size="7.9" text-anchor="middle" stroke="#231f20" stroke-width="0.2">+</text>
<text x="413.8" y="396.32" font-size="7.9" text-anchor="middle" stroke="#231f20" stroke-width="0.2">-</text>
<text x="431.4" y="396.32" font-size="7.9" text-anchor="middle" stroke="#231f20" stroke-width="0.2">+</text>
<text x="449.2" y="396.32" font-size="7.9" text-anchor="middle" stroke="#231f20" stroke-width="0.2">-</text>
<text x="467.1" y="396.32" font-size="7.9" text-anchor="middle" stroke="#231f20" stroke-width="0.2">-</text>
<text x="331.7" y="407.92" font-size="7.9" stroke="#231f20" stroke-width="0.2" textLength="26.1" lengthAdjust="spacingAndGlyphs">RBC-ops</text>
<text x="378.5" y="407.92" font-size="7.9" text-anchor="middle" stroke="#231f20" stroke-width="0.2">-</text>
<text x="396.3" y="407.92" font-size="7.9" text-anchor="middle" stroke="#231f20" stroke-width="0.2">-</text>
<text x="413.8" y="407.92" font-size="7.9" text-anchor="middle" stroke="#231f20" stroke-width="0.2">-</text>
<text x="431.4" y="407.92" font-size="7.9" text-anchor="middle" stroke="#231f20" stroke-width="0.2">-</text>
<text x="449.2" y="407.92" font-size="7.9" text-anchor="middle" stroke="#231f20" stroke-width="0.2">+</text>
<text x="467.1" y="407.92" font-size="7.9" text-anchor="middle" stroke="#231f20" stroke-width="0.2">-</text>
<text x="331.7" y="419.52" font-size="7.9" stroke="#231f20" stroke-width="0.2" textLength="21.7" lengthAdjust="spacingAndGlyphs">Neutro</text>
<text x="378.5" y="419.52" font-size="7.9" text-anchor="middle" stroke="#231f20" stroke-width="0.2">-</text>
<text x="396.3" y="419.52" font-size="7.9" text-anchor="middle" stroke="#231f20" stroke-width="0.2">-</text>
<text x="413.8" y="419.52" font-size="7.9" text-anchor="middle" stroke="#231f20" stroke-width="0.2">+</text>
<text x="431.4" y="419.52" font-size="7.9" text-anchor="middle" stroke="#231f20" stroke-width="0.2">+</text>
<text x="449.2" y="419.52" font-size="7.9" text-anchor="middle" stroke="#231f20" stroke-width="0.2">+</text>
<text x="467.1" y="419.52" font-size="7.9" text-anchor="middle" stroke="#231f20" stroke-width="0.2">-</text>
<text x="331.7" y="431.12" font-size="7.9" stroke="#231f20" stroke-width="0.2" textLength="18.5" lengthAdjust="spacingAndGlyphs">PBMC</text>
<text x="378.5" y="431.12" font-size="7.9" text-anchor="middle" stroke="#231f20" stroke-width="0.2">-</text>
<text x="396.3" y="431.12" font-size="7.9" text-anchor="middle" stroke="#231f20" stroke-width="0.2">-</text>
<text x="413.8" y="431.12" font-size="7.9" text-anchor="middle" stroke="#231f20" stroke-width="0.2">-</text>
<text x="431.4" y="431.12" font-size="7.9" text-anchor="middle" stroke="#231f20" stroke-width="0.2">-</text>
<text x="449.2" y="431.12" font-size="7.9" text-anchor="middle" stroke="#231f20" stroke-width="0.2">-</text>
<text x="467.1" y="431.12" font-size="7.9" text-anchor="middle" stroke="#231f20" stroke-width="0.2">+</text>
<text x="324.8" y="459.3" font-size="11.83" stroke="#231f20" stroke-width="0.4" textLength="5" lengthAdjust="spacingAndGlyphs">E</text>
<rect x="373.9" y="529" width="3.1" height="3.7" fill="#44608e" stroke="#2f4a7c" stroke-width="0.4"/>
<line x1="375.45" y1="528.8" x2="375.45" y2="526.43" stroke="#44608e" stroke-width="0.8"/>
<line x1="374.15" y1="526.93" x2="376.75" y2="526.93" stroke="#44608e" stroke-width="1.1"/>
<rect x="380.1" y="530.66" width="2.9" height="2.04" fill="#a9283d" stroke="#9a1a30" stroke-width="0.4"/>
<rect x="390.83" y="524.84" width="3.1" height="7.86" fill="#44608e" stroke="#2f4a7c" stroke-width="0.4"/>
<line x1="392.38" y1="524.64" x2="392.38" y2="517.92" stroke="#44608e" stroke-width="0.8"/>
<line x1="391.08" y1="518.42" x2="393.68" y2="518.42" stroke="#44608e" stroke-width="1.1"/>
<rect x="397.03" y="529.76" width="2.9" height="2.94" fill="#a9283d" stroke="#9a1a30" stroke-width="0.4"/>
<line x1="398.48" y1="529.56" x2="398.48" y2="529.12" stroke="#a9283d" stroke-width="0.8"/>
<line x1="397.18" y1="529.62" x2="399.78" y2="529.62" stroke="#a9283d" stroke-width="1.1"/>
<rect x="407.76" y="525.73" width="3.1" height="6.97" fill="#44608e" stroke="#2f4a7c" stroke-width="0.4"/>
<line x1="409.31" y1="525.53" x2="409.31" y2="523.29" stroke="#44608e" stroke-width="0.8"/>
<line x1="408.01" y1="523.79" x2="410.61" y2="523.79" stroke="#44608e" stroke-width="1.1"/>
<rect x="413.96" y="529" width="2.9" height="3.7" fill="#a9283d" stroke="#9a1a30" stroke-width="0.4"/>
<line x1="415.41" y1="528.8" x2="415.41" y2="528.22" stroke="#a9283d" stroke-width="0.8"/>
<line x1="414.11" y1="528.72" x2="416.71" y2="528.72" stroke="#a9283d" stroke-width="1.1"/>
<rect x="424.69" y="523.49" width="3.1" height="9.21" fill="#44608e" stroke="#2f4a7c" stroke-width="0.4"/>
<line x1="426.24" y1="523.29" x2="426.24" y2="520.6" stroke="#44608e" stroke-width="0.8"/>
<line x1="424.94" y1="521.1" x2="427.54" y2="521.1" stroke="#44608e" stroke-width="1.1"/>
<rect x="430.89" y="530.39" width="2.9" height="2.31" fill="#a9283d" stroke="#9a1a30" stroke-width="0.4"/>
<rect x="441.62" y="501.99" width="3.1" height="30.71" fill="#44608e" stroke="#2f4a7c" stroke-width="0.4"/>
<line x1="443.17" y1="501.79" x2="443.17" y2="494.62" stroke="#44608e" stroke-width="0.8"/>
<line x1="441.87" y1="495.12" x2="444.47" y2="495.12" stroke="#44608e" stroke-width="1.1"/>
<rect x="447.82" y="530.39" width="2.9" height="2.31" fill="#a9283d" stroke="#9a1a30" stroke-width="0.4"/>
<rect x="458.55" y="509.6" width="3.1" height="23.1" fill="#44608e" stroke="#2f4a7c" stroke-width="0.4"/>
<line x1="460.1" y1="509.4" x2="460.1" y2="506.27" stroke="#44608e" stroke-width="0.8"/>
<line x1="458.8" y1="506.77" x2="461.4" y2="506.77" stroke="#44608e" stroke-width="1.1"/>
<rect x="464.75" y="526.18" width="2.9" height="6.52" fill="#a9283d" stroke="#9a1a30" stroke-width="0.4"/>
<line x1="466.2" y1="525.98" x2="466.2" y2="524.19" stroke="#a9283d" stroke-width="0.8"/>
<line x1="464.9" y1="524.69" x2="467.5" y2="524.69" stroke="#a9283d" stroke-width="1.1"/>
<line x1="371" y1="463.5" x2="371" y2="533.3" stroke="#231f20" stroke-width="1.3"/>
<line x1="370.4" y1="532.7" x2="471.5" y2="532.7" stroke="#231f20" stroke-width="1.3"/>
<line x1="368" y1="532.7" x2="371" y2="532.7" stroke="#231f20" stroke-width="1"/>
<text x="365.3" y="535.42" font-size="7.9" text-anchor="end" stroke="#231f20" stroke-width="0.2">0</text>
<line x1="368" y1="510.3" x2="371" y2="510.3" stroke="#231f20" stroke-width="1"/>
<text x="365.3" y="513.02" font-size="7.9" text-anchor="end" stroke="#231f20" stroke-width="0.2">5</text>
<line x1="368" y1="487.9" x2="371" y2="487.9" stroke="#231f20" stroke-width="1"/>
<text x="365.3" y="490.62" font-size="7.9" text-anchor="end" stroke="#231f20" stroke-width="0.2">10</text>
<line x1="368" y1="465.5" x2="371" y2="465.5" stroke="#231f20" stroke-width="1"/>
<text x="365.3" y="468.22" font-size="7.9" text-anchor="end" stroke="#231f20" stroke-width="0.2">15</text>
<line x1="378.4" y1="532.7" x2="378.4" y2="535.3" stroke="#231f20" stroke-width="1"/>
<line x1="395.33" y1="532.7" x2="395.33" y2="535.3" stroke="#231f20" stroke-width="1"/>
<line x1="412.26" y1="532.7" x2="412.26" y2="535.3" stroke="#231f20" stroke-width="1"/>
<line x1="429.19" y1="532.7" x2="429.19" y2="535.3" stroke="#231f20" stroke-width="1"/>
<line x1="446.12" y1="532.7" x2="446.12" y2="535.3" stroke="#231f20" stroke-width="1"/>
<line x1="463.05" y1="532.7" x2="463.05" y2="535.3" stroke="#231f20" stroke-width="1"/>
<text x="349.2" y="499.6" font-size="8.3" text-anchor="middle" stroke="#231f20" stroke-width="0.2" textLength="86.6" lengthAdjust="spacingAndGlyphs" transform="rotate(-90 349.2 499.6)">% CD4+ proliferation</text>
<rect x="383" y="462.2" width="6.2" height="2.6" fill="#44608e"/>
<text x="392.7" y="466.1" font-size="8.47" stroke="#231f20" stroke-width="0.2" textLength="6.3" lengthAdjust="spacingAndGlyphs">TT</text>
<rect x="383" y="473.3" width="6.2" height="2.6" fill="#a9283d"/>
<text x="392.7" y="477.3" font-size="8.47" stroke="#231f20" stroke-width="0.2" textLength="46.7" lengthAdjust="spacingAndGlyphs">TT + α-HLA-DR</text>
<path d="M409.2 517.5V515.4H415.4V526" fill="none" stroke="#231f20" stroke-width="0.85"/>
<text x="412.2" y="512.5" font-size="7.3" text-anchor="middle" stroke="#231f20" stroke-width="0.2" textLength="7" lengthAdjust="spacingAndGlyphs">ns</text>
<path d="M426.3 518V516.3H432.7V526" fill="none" stroke="#231f20" stroke-width="0.85"/>
<text x="429.5" y="512.5" font-size="7.3" text-anchor="middle" stroke="#231f20" stroke-width="0.2" textLength="7" lengthAdjust="spacingAndGlyphs">ns</text>
<path d="M443.3 491.5V490.8H449.6V501.5" fill="none" stroke="#231f20" stroke-width="0.85"/>
<path d="M444.62 487.45L444.62 485.55M443.80 486.98L445.45 486.02M443.80 486.02L445.45 486.98M447.77 487.45L447.77 485.55M446.95 486.98L448.60 486.02M446.95 486.02L448.60 486.98" stroke="#2a2627" stroke-width="0.75" stroke-linecap="round" fill="none"/>
<path d="M460.6 503V502.3H466.9V512.5" fill="none" stroke="#231f20" stroke-width="0.85"/>
<text x="463.6" y="499" font-size="7.3" text-anchor="middle" stroke="#231f20" stroke-width="0.2" textLength="7" lengthAdjust="spacingAndGlyphs">ns</text>
<text x="331.7" y="546.62" font-size="7.9" stroke="#231f20" stroke-width="0.2" textLength="12.3" lengthAdjust="spacingAndGlyphs">RBC</text>
<text x="378.5" y="546.62" font-size="7.9" text-anchor="middle" stroke="#231f20" stroke-width="0.2">-</text>
<text x="395.4" y="546.62" font-size="7.9" text-anchor="middle" stroke="#231f20" stroke-width="0.2">+</text>
<text x="412.3" y="546.62" font-size="7.9" text-anchor="middle" stroke="#231f20" stroke-width="0.2">-</text>
<text x="429.2" y="546.62" font-size="7.9" text-anchor="middle" stroke="#231f20" stroke-width="0.2">+</text>
<text x="463.1" y="546.62" font-size="7.9" text-anchor="middle" stroke="#231f20" stroke-width="0.2">-</text>
<text x="331.7" y="558.22" font-size="7.9" stroke="#231f20" stroke-width="0.2" textLength="26.1" lengthAdjust="spacingAndGlyphs">RBC-ops</text>
<text x="378.5" y="558.22" font-size="7.9" text-anchor="middle" stroke="#231f20" stroke-width="0.2">-</text>
<text x="395.4" y="558.22" font-size="7.9" text-anchor="middle" stroke="#231f20" stroke-width="0.2">-</text>
<text x="412.3" y="558.22" font-size="7.9" text-anchor="middle" stroke="#231f20" stroke-width="0.2">-</text>
<text x="429.2" y="558.22" font-size="7.9" text-anchor="middle" stroke="#231f20" stroke-width="0.2">-</text>
<text x="446.2" y="558.22" font-size="7.9" text-anchor="middle" stroke="#231f20" stroke-width="0.2">+</text>
<text x="463.1" y="558.22" font-size="7.9" text-anchor="middle" stroke="#231f20" stroke-width="0.2">-</text>
<text x="331.7" y="569.92" font-size="7.9" stroke="#231f20" stroke-width="0.2" textLength="21.7" lengthAdjust="spacingAndGlyphs">Neutro</text>
<text x="378.5" y="569.92" font-size="7.9" text-anchor="middle" stroke="#231f20" stroke-width="0.2">-</text>
<text x="395.4" y="569.92" font-size="7.9" text-anchor="middle" stroke="#231f20" stroke-width="0.2">-</text>
<text x="412.3" y="569.92" font-size="7.9" text-anchor="middle" stroke="#231f20" stroke-width="0.2">+</text>
<text x="429.2" y="569.92" font-size="7.9" text-anchor="middle" stroke="#231f20" stroke-width="0.2">+</text>
<text x="446.2" y="569.92" font-size="7.9" text-anchor="middle" stroke="#231f20" stroke-width="0.2">+</text>
<text x="463.1" y="569.92" font-size="7.9" text-anchor="middle" stroke="#231f20" stroke-width="0.2">-</text>
<text x="331.7" y="581.62" font-size="7.9" stroke="#231f20" stroke-width="0.2" textLength="18.5" lengthAdjust="spacingAndGlyphs">PBMC</text>
<text x="378.5" y="581.62" font-size="7.9" text-anchor="middle" stroke="#231f20" stroke-width="0.2">-</text>
<text x="395.4" y="581.62" font-size="7.9" text-anchor="middle" stroke="#231f20" stroke-width="0.2">-</text>
<text x="412.3" y="581.62" font-size="7.9" text-anchor="middle" stroke="#231f20" stroke-width="0.2">-</text>
<text x="429.2" y="581.62" font-size="7.9" text-anchor="middle" stroke="#231f20" stroke-width="0.2">-</text>
<text x="446.2" y="581.62" font-size="7.9" text-anchor="middle" stroke="#231f20" stroke-width="0.2">-</text>
<text x="463.1" y="581.62" font-size="7.9" text-anchor="middle" stroke="#231f20" stroke-width="0.2">+</text>
<text x="7.7" y="543.8" font-size="11.03" stroke="#231f20" stroke-width="0.4" textLength="4.3" lengthAdjust="spacingAndGlyphs">F</text>
<rect x="56.8" y="604.1" width="3.8" height="10.8" fill="#a9283d" stroke="#9a1a30" stroke-width="0.4"/>
<rect x="64.85" y="603.22" width="3.9" height="11.68" fill="#44608e" stroke="#2f4a7c" stroke-width="0.4"/>
<line x1="66.8" y1="603.02" x2="66.8" y2="597.81" stroke="#44608e" stroke-width="0.8"/>
<line x1="65.5" y1="598.31" x2="68.1" y2="598.31" stroke="#44608e" stroke-width="1.1"/>
<rect x="77.5" y="608" width="3.8" height="6.9" fill="#a9283d" stroke="#9a1a30" stroke-width="0.4"/>
<line x1="79.4" y1="607.8" x2="79.4" y2="604.89" stroke="#a9283d" stroke-width="0.8"/>
<line x1="78.1" y1="605.39" x2="80.7" y2="605.39" stroke="#a9283d" stroke-width="1.1"/>
<rect x="85.55" y="585.3" width="3.9" height="29.6" fill="#44608e" stroke="#2f4a7c" stroke-width="0.4"/>
<line x1="87.5" y1="585.1" x2="87.5" y2="578.59" stroke="#44608e" stroke-width="0.8"/>
<line x1="86.2" y1="579.09" x2="88.8" y2="579.09" stroke="#44608e" stroke-width="1.1"/>
<rect x="98.2" y="603.7" width="3.8" height="11.2" fill="#a9283d" stroke="#9a1a30" stroke-width="0.4"/>
<line x1="100.1" y1="603.5" x2="100.1" y2="598.19" stroke="#a9283d" stroke-width="0.8"/>
<line x1="98.8" y1="598.69" x2="101.4" y2="598.69" stroke="#a9283d" stroke-width="1.1"/>
<rect x="106.25" y="586.96" width="3.9" height="27.94" fill="#44608e" stroke="#2f4a7c" stroke-width="0.4"/>
<line x1="108.2" y1="586.76" x2="108.2" y2="580.46" stroke="#44608e" stroke-width="0.8"/>
<line x1="106.9" y1="580.96" x2="109.5" y2="580.96" stroke="#44608e" stroke-width="1.1"/>
<rect x="118.9" y="607.49" width="3.8" height="7.41" fill="#a9283d" stroke="#9a1a30" stroke-width="0.4"/>
<line x1="120.8" y1="607.29" x2="120.8" y2="604.59" stroke="#a9283d" stroke-width="0.8"/>
<line x1="119.5" y1="605.09" x2="122.1" y2="605.09" stroke="#a9283d" stroke-width="1.1"/>
<rect x="126.95" y="565.17" width="3.9" height="49.73" fill="#44608e" stroke="#2f4a7c" stroke-width="0.4"/>
<line x1="128.9" y1="564.97" x2="128.9" y2="554.4" stroke="#44608e" stroke-width="0.8"/>
<line x1="127.6" y1="554.9" x2="130.2" y2="554.9" stroke="#44608e" stroke-width="1.1"/>
<rect x="139.6" y="606.5" width="3.8" height="8.4" fill="#a9283d" stroke="#9a1a30" stroke-width="0.4"/>
<line x1="141.5" y1="606.3" x2="141.5" y2="604.59" stroke="#a9283d" stroke-width="0.8"/>
<line x1="140.2" y1="605.09" x2="142.8" y2="605.09" stroke="#a9283d" stroke-width="1.1"/>
<rect x="147.65" y="592.11" width="3.9" height="22.79" fill="#44608e" stroke="#2f4a7c" stroke-width="0.4"/>
<line x1="149.6" y1="591.91" x2="149.6" y2="586.2" stroke="#44608e" stroke-width="0.8"/>
<line x1="148.3" y1="586.7" x2="150.9" y2="586.7" stroke="#44608e" stroke-width="1.1"/>
<line x1="52.3" y1="545.2" x2="52.3" y2="615.5" stroke="#231f20" stroke-width="1.3"/>
<line x1="51.7" y1="614.9" x2="154.5" y2="614.9" stroke="#231f20" stroke-width="1.3"/>
<line x1="49.3" y1="614.9" x2="52.3" y2="614.9" stroke="#231f20" stroke-width="1"/>
<text x="47.8" y="617.62" font-size="7.9" text-anchor="end" stroke="#231f20" stroke-width="0.2">0</text>
<line x1="49.3" y1="601.55" x2="52.3" y2="601.55" stroke="#231f20" stroke-width="1"/>
<text x="47.8" y="604.27" font-size="7.9" text-anchor="end" stroke="#231f20" stroke-width="0.2">500</text>
<line x1="49.3" y1="588.2" x2="52.3" y2="588.2" stroke="#231f20" stroke-width="1"/>
<text x="47.8" y="590.92" font-size="7.9" text-anchor="end" stroke="#231f20" stroke-width="0.2">1000</text>
<line x1="49.3" y1="574.85" x2="52.3" y2="574.85" stroke="#231f20" stroke-width="1"/>
<text x="47.8" y="577.57" font-size="7.9" text-anchor="end" stroke="#231f20" stroke-width="0.2">1500</text>
<line x1="49.3" y1="561.5" x2="52.3" y2="561.5" stroke="#231f20" stroke-width="1"/>
<text x="47.8" y="564.22" font-size="7.9" text-anchor="end" stroke="#231f20" stroke-width="0.2">2000</text>
<line x1="49.3" y1="548.15" x2="52.3" y2="548.15" stroke="#231f20" stroke-width="1"/>
<text x="47.8" y="550.87" font-size="7.9" text-anchor="end" stroke="#231f20" stroke-width="0.2">2500</text>
<line x1="62.5" y1="614.9" x2="62.5" y2="617.5" stroke="#231f20" stroke-width="1"/>
<line x1="83.2" y1="614.9" x2="83.2" y2="617.5" stroke="#231f20" stroke-width="1"/>
<line x1="103.9" y1="614.9" x2="103.9" y2="617.5" stroke="#231f20" stroke-width="1"/>
<line x1="124.6" y1="614.9" x2="124.6" y2="617.5" stroke="#231f20" stroke-width="1"/>
<line x1="145.3" y1="614.9" x2="145.3" y2="617.5" stroke="#231f20" stroke-width="1"/>
<text x="23.5" y="580.75" font-size="7.3" text-anchor="middle" stroke="#231f20" stroke-width="0.2" textLength="42.3" lengthAdjust="spacingAndGlyphs" transform="rotate(-90 23.5 580.75)">pg/ml INFγ</text>
<path d="M128.50 551.55L128.50 549.65M127.68 551.08L129.32 550.12M127.68 550.12L129.32 551.08" stroke="#2a2627" stroke-width="0.75" stroke-linecap="round" fill="none"/>
<path d="M128.1 546.3V543.1H149.7V546.3" fill="none" stroke="#231f20" stroke-width="0.85"/>
<text x="139.4" y="540.3" font-size="7.3" text-anchor="middle" stroke="#231f20" stroke-width="0.2" textLength="7.8" lengthAdjust="spacingAndGlyphs">ns</text>
<rect x="165.1" y="545.6" width="6.3" height="2.6" fill="#a9283d"/>
<text x="174.6" y="550.2" font-size="8.47" stroke="#231f20" stroke-width="0.2" textLength="22.2" lengthAdjust="spacingAndGlyphs">control</text>
<rect x="165.1" y="556.8" width="6.3" height="2.6" fill="#44608e"/>
<text x="174.6" y="560.8" font-size="8.47" stroke="#231f20" stroke-width="0.2" textLength="7.4" lengthAdjust="spacingAndGlyphs">TT</text>
<text x="14.8" y="628.32" font-size="7.9" stroke="#231f20" stroke-width="0.2" textLength="12.3" lengthAdjust="spacingAndGlyphs">RBC</text>
<text x="63.1" y="628.32" font-size="7.9" text-anchor="middle" stroke="#231f20" stroke-width="0.2">-</text>
<text x="83.7" y="628.32" font-size="7.9" text-anchor="middle" stroke="#231f20" stroke-width="0.2">-</text>
<text x="104" y="628.32" font-size="7.9" text-anchor="middle" stroke="#231f20" stroke-width="0.2">+</text>
<text x="124.6" y="628.32" font-size="7.9" text-anchor="middle" stroke="#231f20" stroke-width="0.2">-</text>
<text x="145.2" y="628.32" font-size="7.9" text-anchor="middle" stroke="#231f20" stroke-width="0.2">-</text>
<text x="14.8" y="640.32" font-size="7.9" stroke="#231f20" stroke-width="0.2" textLength="26.1" lengthAdjust="spacingAndGlyphs">RBC-ops</text>
<text x="63.1" y="640.32" font-size="7.9" text-anchor="middle" stroke="#231f20" stroke-width="0.2">-</text>
<text x="83.7" y="640.32" font-size="7.9" text-anchor="middle" stroke="#231f20" stroke-width="0.2">-</text>
<text x="104" y="640.32" font-size="7.9" text-anchor="middle" stroke="#231f20" stroke-width="0.2">-</text>
<text x="124.6" y="640.32" font-size="7.9" text-anchor="middle" stroke="#231f20" stroke-width="0.2">+</text>
<text x="145.2" y="640.32" font-size="7.9" text-anchor="middle" stroke="#231f20" stroke-width="0.2">-</text>
<text x="14.8" y="652.52" font-size="7.9" stroke="#231f20" stroke-width="0.2" textLength="21.7" lengthAdjust="spacingAndGlyphs">Neutro</text>
<text x="63.1" y="652.52" font-size="7.9" text-anchor="middle" stroke="#231f20" stroke-width="0.2">-</text>
<text x="83.7" y="652.52" font-size="7.9" text-anchor="middle" stroke="#231f20" stroke-width="0.2">+</text>
<text x="104" y="652.52" font-size="7.9" text-anchor="middle" stroke="#231f20" stroke-width="0.2">+</text>
<text x="124.6" y="652.52" font-size="7.9" text-anchor="middle" stroke="#231f20" stroke-width="0.2">+</text>
<text x="145.2" y="652.52" font-size="7.9" text-anchor="middle" stroke="#231f20" stroke-width="0.2">-</text>
<text x="14.8" y="664.52" font-size="7.9" stroke="#231f20" stroke-width="0.2" textLength="18.5" lengthAdjust="spacingAndGlyphs">PBMC</text>
<text x="63.1" y="664.52" font-size="7.9" text-anchor="middle" stroke="#231f20" stroke-width="0.2">-</text>
<text x="83.7" y="664.52" font-size="7.9" text-anchor="middle" stroke="#231f20" stroke-width="0.2">-</text>
<text x="104" y="664.52" font-size="7.9" text-anchor="middle" stroke="#231f20" stroke-width="0.2">-</text>
<text x="124.6" y="664.52" font-size="7.9" text-anchor="middle" stroke="#231f20" stroke-width="0.2">-</text>
<text x="145.2" y="664.52" font-size="7.9" text-anchor="middle" stroke="#231f20" stroke-width="0.2">+</text>
<text x="7.6" y="17.6" font-size="13.11" stroke="#231f20" stroke-width="0.4" textLength="7" lengthAdjust="spacingAndGlyphs">A</text>
<text x="87.6" y="28.5" font-size="11.35" stroke="#231f20" stroke-width="0.2" textLength="22.6" lengthAdjust="spacingAndGlyphs">Day 0</text>
<text x="214.9" y="28.5" font-size="11.67" stroke="#231f20" stroke-width="0.2" textLength="81.9" lengthAdjust="spacingAndGlyphs">Day 4: Restimulation</text>
<text x="348.9" y="28.3" font-size="11.83" stroke="#231f20" stroke-width="0.2" textLength="115.8" lengthAdjust="spacingAndGlyphs">Day (1,4 &amp;) 8: Flow cytometry</text>
<text x="31" y="54.2" font-size="9.59" fill="#dc9f4f" stroke="#dc9f4f" stroke-width="0.2" textLength="60" lengthAdjust="spacingAndGlyphs">+/- Tetanus toxoid</text>
<text x="225.8" y="53.2" font-size="9.91" fill="#dc9f4f" stroke="#dc9f4f" stroke-width="0.2" textLength="60" lengthAdjust="spacingAndGlyphs">+/- Tetanus toxoid</text>
<text x="18.8" y="125.2" font-size="9.59" stroke="#231f20" stroke-width="0.2" textLength="85.8" lengthAdjust="spacingAndGlyphs">Neutrophils +/- RBC(-ops)</text>
<text x="129.5" y="125.2" font-size="9.27" stroke="#231f20" stroke-width="0.2" textLength="47.8" lengthAdjust="spacingAndGlyphs">T cells (+CFSE)</text>
<g transform="translate(44.5 72.2) rotate(0)">
<ellipse cx="0.6" cy="1.2" rx="14.4" ry="13.2" fill="#8a7090" opacity="0.18" filter="url(#blur1)"/>
<ellipse cx="0" cy="0" rx="14.4" ry="13.1" fill="url(#neu)"/>

<g fill="#44448e" opacity="0.8">
<path d="M-9.5 -7.5 L-6 -9.6 L-3.5 -8 L-2.2 -4.5 L0.2 -1.4 L-1.2 -0.8 L-4.5 -3 L-8.5 -4.5 Z"/>
<path d="M0.6 -1.1 L4.8 -2.8 L9 -3.2 L12.2 -2 L11.6 0.9 L8 2.1 L4.5 1.2 L0.8 0.4 Z"/>
<path d="M-0.6 0.6 L-2.2 3.5 L-4.8 6 L-7.2 8.4 L-5.6 10.6 L-2.5 9.7 L0 6.6 L1 1.8 Z"/>
<circle cx="3.4" cy="-4.6" r="0.9"/><circle cx="9" cy="-6.2" r="0.7"/><circle cx="-3.4" cy="1.4" r="0.8"/>
<circle cx="5.1" cy="8.5" r="0.7"/><circle cx="-2.1" cy="11" r="0.6"/><circle cx="-10.5" cy="3.5" r="0.5"/>
</g>
<g fill="#ffffff" opacity="0.7">
<circle cx="-10" cy="-1.3" r="1.1"/><circle cx="0.5" cy="-0.5" r="1"/><circle cx="2.8" cy="9.5" r="1"/>
<circle cx="-6" cy="5.2" r="0.7"/><circle cx="5.7" cy="-9.5" r="0.7"/><circle cx="2.1" cy="-9.5" r="0.6"/>
<circle cx="-6" cy="-6.5" r="0.5"/><circle cx="7.5" cy="-0.5" r="0.5"/>
</g>
</g>
<g transform="translate(59.3 99.1) rotate(160)">
<ellipse cx="0.6" cy="1.2" rx="14.4" ry="13.2" fill="#8a7090" opacity="0.18" filter="url(#blur1)"/>
<ellipse cx="0" cy="0" rx="14.4" ry="13.1" fill="url(#neu)"/>

<g fill="#44448e" opacity="0.8">
<path d="M-9.5 -7.5 L-6 -9.6 L-3.5 -8 L-2.2 -4.5 L0.2 -1.4 L-1.2 -0.8 L-4.5 -3 L-8.5 -4.5 Z"/>
<path d="M0.6 -1.1 L4.8 -2.8 L9 -3.2 L12.2 -2 L11.6 0.9 L8 2.1 L4.5 1.2 L0.8 0.4 Z"/>
<path d="M-0.6 0.6 L-2.2 3.5 L-4.8 6 L-7.2 8.4 L-5.6 10.6 L-2.5 9.7 L0 6.6 L1 1.8 Z"/>
<circle cx="3.4" cy="-4.6" r="0.9"/><circle cx="9" cy="-6.2" r="0.7"/><circle cx="-3.4" cy="1.4" r="0.8"/>
<circle cx="5.1" cy="8.5" r="0.7"/><circle cx="-2.1" cy="11" r="0.6"/><circle cx="-10.5" cy="3.5" r="0.5"/>
</g>
<g fill="#ffffff" opacity="0.7">
<circle cx="-10" cy="-1.3" r="1.1"/><circle cx="0.5" cy="-0.5" r="1"/><circle cx="2.8" cy="9.5" r="1"/>
<circle cx="-6" cy="5.2" r="0.7"/><circle cx="5.7" cy="-9.5" r="0.7"/><circle cx="2.1" cy="-9.5" r="0.6"/>
<circle cx="-6" cy="-6.5" r="0.5"/><circle cx="7.5" cy="-0.5" r="0.5"/>
</g>
</g>
<ellipse cx="75.5" cy="75" rx="5" ry="4.3" fill="#777" opacity="0.35" filter="url(#blur1)"/>
<ellipse cx="74.1" cy="73.4" rx="4.8" ry="4.0" fill="url(#rbc)" transform="rotate(-15 74.1 73.4)"/>
<ellipse cx="69.8" cy="92.6" rx="5" ry="4.3" fill="#777" opacity="0.35" filter="url(#blur1)"/>
<ellipse cx="68.4" cy="91" rx="4.8" ry="4.0" fill="url(#rbc)" transform="rotate(-15 68.4 91)"/>
<ellipse cx="88.8" cy="96.5" rx="5" ry="4.3" fill="#777" opacity="0.35" filter="url(#blur1)"/>
<ellipse cx="87.4" cy="94.9" rx="4.8" ry="4.0" fill="url(#rbc)" transform="rotate(-15 87.4 94.9)"/>
<path d="M81.7 73.4 L82.9 71.5 L84.1 73.4 L82.9 72.8 Z" fill="#4f72b8" stroke="#4f72b8" stroke-width="0.3"/>
<path d="M89.8 72.7 L91 70.8 L92.2 72.7 L91 72.1 Z" fill="#4f72b8" stroke="#4f72b8" stroke-width="0.3"/>
<path d="M76.3 84.8 L77.5 82.9 L78.7 84.8 L77.5 84.2 Z" fill="#4f72b8" stroke="#4f72b8" stroke-width="0.3"/>
<path d="M81.4 84.4 L82.6 82.5 L83.8 84.4 L82.6 83.8 Z" fill="#4f72b8" stroke="#4f72b8" stroke-width="0.3"/>
<path d="M66.8 86.2 L68 84.3 L69.2 86.2 L68 85.6 Z" fill="#4f72b8" stroke="#4f72b8" stroke-width="0.3"/>
<path d="M65.3 89.7 L66.5 87.8 L67.7 89.7 L66.5 89.1 Z" fill="#4f72b8" stroke="#4f72b8" stroke-width="0.3"/>
<g transform="translate(239.1 72.8) rotate(0)">
<ellipse cx="0.6" cy="1.2" rx="14.4" ry="13.2" fill="#8a7090" opacity="0.18" filter="url(#blur1)"/>
<ellipse cx="0" cy="0" rx="14.4" ry="13.1" fill="url(#neu)"/>

<g fill="#44448e" opacity="0.8">
<path d="M-9.5 -7.5 L-6 -9.6 L-3.5 -8 L-2.2 -4.5 L0.2 -1.4 L-1.2 -0.8 L-4.5 -3 L-8.5 -4.5 Z"/>
<path d="M0.6 -1.1 L4.8 -2.8 L9 -3.2 L12.2 -2 L11.6 0.9 L8 2.1 L4.5 1.2 L0.8 0.4 Z"/>
<path d="M-0.6 0.6 L-2.2 3.5 L-4.8 6 L-7.2 8.4 L-5.6 10.6 L-2.5 9.7 L0 6.6 L1 1.8 Z"/>
<circle cx="3.4" cy="-4.6" r="0.9"/><circle cx="9" cy="-6.2" r="0.7"/><circle cx="-3.4" cy="1.4" r="0.8"/>
<circle cx="5.1" cy="8.5" r="0.7"/><circle cx="-2.1" cy="11" r="0.6"/><circle cx="-10.5" cy="3.5" r="0.5"/>
</g>
<g fill="#ffffff" opacity="0.7">
<circle cx="-10" cy="-1.3" r="1.1"/><circle cx="0.5" cy="-0.5" r="1"/><circle cx="2.8" cy="9.5" r="1"/>
<circle cx="-6" cy="5.2" r="0.7"/><circle cx="5.7" cy="-9.5" r="0.7"/><circle cx="2.1" cy="-9.5" r="0.6"/>
<circle cx="-6" cy="-6.5" r="0.5"/><circle cx="7.5" cy="-0.5" r="0.5"/>
</g>
</g>
<g transform="translate(253.9 99.7) rotate(160)">
<ellipse cx="0.6" cy="1.2" rx="14.4" ry="13.2" fill="#8a7090" opacity="0.18" filter="url(#blur1)"/>
<ellipse cx="0" cy="0" rx="14.4" ry="13.1" fill="url(#neu)"/>

<g fill="#44448e" opacity="0.8">
<path d="M-9.5 -7.5 L-6 -9.6 L-3.5 -8 L-2.2 -4.5 L0.2 -1.4 L-1.2 -0.8 L-4.5 -3 L-8.5 -4.5 Z"/>
<path d="M0.6 -1.1 L4.8 -2.8 L9 -3.2 L12.2 -2 L11.6 0.9 L8 2.1 L4.5 1.2 L0.8 0.4 Z"/>
<path d="M-0.6 0.6 L-2.2 3.5 L-4.8 6 L-7.2 8.4 L-5.6 10.6 L-2.5 9.7 L0 6.6 L1 1.8 Z"/>
<circle cx="3.4" cy="-4.6" r="0.9"/><circle cx="9" cy="-6.2" r="0.7"/><circle cx="-3.4" cy="1.4" r="0.8"/>
<circle cx="5.1" cy="8.5" r="0.7"/><circle cx="-2.1" cy="11" r="0.6"/><circle cx="-10.5" cy="3.5" r="0.5"/>
</g>
<g fill="#ffffff" opacity="0.7">
<circle cx="-10" cy="-1.3" r="1.1"/><circle cx="0.5" cy="-0.5" r="1"/><circle cx="2.8" cy="9.5" r="1"/>
<circle cx="-6" cy="5.2" r="0.7"/><circle cx="5.7" cy="-9.5" r="0.7"/><circle cx="2.1" cy="-9.5" r="0.6"/>
<circle cx="-6" cy="-6.5" r="0.5"/><circle cx="7.5" cy="-0.5" r="0.5"/>
</g>
</g>
<ellipse cx="270.1" cy="75.6" rx="5" ry="4.3" fill="#777" opacity="0.35" filter="url(#blur1)"/>
<ellipse cx="268.7" cy="74" rx="4.8" ry="4.0" fill="url(#rbc)" transform="rotate(-15 268.7 74)"/>
<ellipse cx="264.4" cy="93.2" rx="5" ry="4.3" fill="#777" opacity="0.35" filter="url(#blur1)"/>
<ellipse cx="263" cy="91.6" rx="4.8" ry="4.0" fill="url(#rbc)" transform="rotate(-15 263 91.6)"/>
<ellipse cx="283.4" cy="97.1" rx="5" ry="4.3" fill="#777" opacity="0.35" filter="url(#blur1)"/>
<ellipse cx="282" cy="95.5" rx="4.8" ry="4.0" fill="url(#rbc)" transform="rotate(-15 282 95.5)"/>
<path d="M276.3 74 L277.5 72.1 L278.7 74 L277.5 73.4 Z" fill="#4f72b8" stroke="#4f72b8" stroke-width="0.3"/>
<path d="M284.4 73.3 L285.6 71.4 L286.8 73.3 L285.6 72.7 Z" fill="#4f72b8" stroke="#4f72b8" stroke-width="0.3"/>
<path d="M270.9 85.4 L272.1 83.5 L273.3 85.4 L272.1 84.8 Z" fill="#4f72b8" stroke="#4f72b8" stroke-width="0.3"/>
<path d="M276 85 L277.2 83.1 L278.4 85 L277.2 84.4 Z" fill="#4f72b8" stroke="#4f72b8" stroke-width="0.3"/>
<path d="M261.4 86.8 L262.6 84.9 L263.8 86.8 L262.6 86.2 Z" fill="#4f72b8" stroke="#4f72b8" stroke-width="0.3"/>
<path d="M259.9 90.3 L261.1 88.4 L262.3 90.3 L261.1 89.7 Z" fill="#4f72b8" stroke="#4f72b8" stroke-width="0.3"/>
<path d="M115 81.4 h2.9 v3.9 h4.2 v2.9 h-4.2 v3.9 h-2.9 v-3.9 h-4.2 v-2.9 h4.2 Z" fill="#6a4a8e"/>
<ellipse cx="144.3" cy="88.1" rx="7.6" ry="7.2" fill="#888" opacity="0.3" filter="url(#blur1)"/>
<circle cx="143.5" cy="86.3" r="7.4" fill="url(#tco)"/>
<circle cx="145.2" cy="86.6" r="5.8" fill="url(#tci)"/>
<ellipse cx="164.3" cy="78.1" rx="7.6" ry="7.2" fill="#888" opacity="0.3" filter="url(#blur1)"/>
<circle cx="163.5" cy="76.3" r="7.4" fill="url(#tco)"/>
<circle cx="165.2" cy="76.6" r="5.8" fill="url(#tci)"/>
<ellipse cx="162.3" cy="96.1" rx="7.6" ry="7.2" fill="#888" opacity="0.3" filter="url(#blur1)"/>
<circle cx="161.5" cy="94.3" r="7.4" fill="url(#tco)"/>
<circle cx="163.2" cy="94.6" r="5.8" fill="url(#tci)"/>
<path d="M191.8 84.8 H206.9 V81.7 L212.4 86.3 L206.9 90.9 V87.8 H191.8 Z" fill="#6a4a8e"/>
<path d="M305.8 85.5 H320.3 V82.4 L325.8 87 L320.3 91.6 V88.5 H305.8 Z" fill="#6a4a8e"/>
<g filter="url(#blur1)" opacity="0.55"><ellipse cx="370" cy="86" rx="16" ry="19" fill="#c8cce2" opacity="0.6"/><ellipse cx="359.5" cy="90" rx="3.6" ry="15" fill="#8fa6cc" transform="rotate(16 359.5 90)"/><ellipse cx="379" cy="99" rx="12" ry="4.5" fill="#9fb0d4" transform="rotate(-22 379 99)"/></g>
<path fill="#a5acd4" opacity="0.5" d="M356.2 63.9h.6v.6h-.6zM356.4 98.5h.6v.6h-.6zM357.1 94.2h.6v.6h-.6zM357.2 71.9h.6v.6h-.6zM357.6 78.7h.6v.6h-.6zM357.7 63.1h.6v.6h-.6zM357.9 96.9h.6v.6h-.6zM358.3 80.8h.6v.6h-.6zM358.6 71.6h.6v.6h-.6zM359.3 89.5h.6v.6h-.6zM359.6 81.5h.6v.6h-.6zM359.7 99.7h.6v.6h-.6zM359.7 79.1h.6v.6h-.6zM360.2 99.2h.6v.6h-.6zM360.4 78.3h.6v.6h-.6zM360.4 98.5h.6v.6h-.6zM360.4 60.3h.6v.6h-.6zM360.6 82.4h.6v.6h-.6zM360.9 96.9h.6v.6h-.6zM361.1 91.9h.6v.6h-.6zM361.2 85.0h.6v.6h-.6zM361.6 61.9h.6v.6h-.6zM361.7 64.3h.6v.6h-.6zM362.0 89.9h.6v.6h-.6zM362.5 93.0h.6v.6h-.6zM362.9 73.1h.6v.6h-.6zM363.2 89.2h.6v.6h-.6zM363.2 68.0h.6v.6h-.6zM363.7 69.6h.6v.6h-.6zM363.7 79.2h.6v.6h-.6zM363.9 102.7h.6v.6h-.6zM364.3 97.2h.6v.6h-.6zM365.2 104.2h.6v.6h-.6zM365.2 100.0h.6v.6h-.6zM365.5 104.9h.6v.6h-.6zM365.6 60.4h.6v.6h-.6zM365.6 93.1h.6v.6h-.6zM365.9 70.7h.6v.6h-.6zM366.1 105.8h.6v.6h-.6zM366.1 94.0h.6v.6h-.6zM366.2 84.0h.6v.6h-.6zM366.6 63.4h.6v.6h-.6zM366.6 95.7h.6v.6h-.6zM366.8 100.5h.6v.6h-.6zM366.9 60.0h.6v.6h-.6zM367.2 79.2h.6v.6h-.6zM367.3 97.3h.6v.6h-.6zM367.9 96.4h.6v.6h-.6zM368.2 74.0h.6v.6h-.6zM368.3 86.3h.6v.6h-.6zM368.3 68.5h.6v.6h-.6zM368.5 80.9h.6v.6h-.6zM368.6 96.4h.6v.6h-.6zM368.6 94.8h.6v.6h-.6zM368.9 83.6h.6v.6h-.6zM369.9 87.0h.6v.6h-.6zM370.3 63.3h.6v.6h-.6zM370.6 96.5h.6v.6h-.6zM370.8 103.7h.6v.6h-.6zM371.2 87.9h.6v.6h-.6zM371.3 88.4h.6v.6h-.6zM371.4 68.5h.6v.6h-.6zM371.5 97.4h.6v.6h-.6zM371.7 71.9h.6v.6h-.6zM372.0 83.6h.6v.6h-.6zM372.6 78.7h.6v.6h-.6zM372.8 90.6h.6v.6h-.6zM373.2 100.3h.6v.6h-.6zM373.6 71.6h.6v.6h-.6zM373.8 102.0h.6v.6h-.6zM374.1 98.7h.6v.6h-.6zM374.4 81.3h.6v.6h-.6zM374.6 99.9h.6v.6h-.6zM375.4 102.1h.6v.6h-.6zM375.6 97.8h.6v.6h-.6zM375.6 62.7h.6v.6h-.6zM375.9 81.9h.6v.6h-.6zM376.1 81.5h.6v.6h-.6zM376.2 101.3h.6v.6h-.6zM376.3 89.2h.6v.6h-.6zM376.5 86.8h.6v.6h-.6zM377.4 97.7h.6v.6h-.6zM377.8 103.5h.6v.6h-.6zM378.0 59.6h.6v.6h-.6zM378.1 100.1h.6v.6h-.6zM378.2 100.8h.6v.6h-.6zM378.7 82.6h.6v.6h-.6zM379.3 78.8h.6v.6h-.6zM379.4 65.8h.6v.6h-.6zM379.5 73.2h.6v.6h-.6zM380.1 70.0h.6v.6h-.6zM380.1 99.3h.6v.6h-.6zM380.4 103.9h.6v.6h-.6zM380.5 59.9h.6v.6h-.6zM380.9 98.4h.6v.6h-.6zM381.3 78.1h.6v.6h-.6zM381.5 105.3h.6v.6h-.6zM381.6 91.1h.6v.6h-.6zM383.1 99.8h.6v.6h-.6zM383.5 95.3h.6v.6h-.6zM383.8 88.6h.6v.6h-.6zM384.0 63.8h.6v.6h-.6zM384.2 75.0h.6v.6h-.6zM384.4 103.9h.6v.6h-.6zM384.8 71.1h.6v.6h-.6zM384.9 76.7h.6v.6h-.6zM385.2 74.1h.6v.6h-.6zM385.3 73.9h.6v.6h-.6zM385.5 68.9h.6v.6h-.6zM386.5 65.5h.6v.6h-.6zM387.6 80.7h.6v.6h-.6zM387.6 101.1h.6v.6h-.6zM387.8 58.6h.6v.6h-.6zM388.5 81.9h.6v.6h-.6zM388.6 102.4h.6v.6h-.6zM389.6 96.0h.6v.6h-.6zM390.1 77.5h.6v.6h-.6zM390.3 67.8h.6v.6h-.6zM390.4 67.6h.6v.6h-.6zM390.5 101.3h.6v.6h-.6zM390.6 69.0h.6v.6h-.6zM390.7 63.2h.6v.6h-.6zM390.7 83.7h.6v.6h-.6zM390.8 69.8h.6v.6h-.6zM390.8 83.1h.6v.6h-.6zM390.9 105.9h.6v.6h-.6zM391.0 80.8h.6v.6h-.6zM391.1 85.2h.6v.6h-.6zM391.1 65.0h.6v.6h-.6zM392.9 97.1h.6v.6h-.6zM392.9 68.3h.6v.6h-.6zM393.0 65.2h.6v.6h-.6zM393.1 101.2h.6v.6h-.6zM394.3 76.0h.6v.6h-.6zM394.3 76.8h.6v.6h-.6zM394.8 99.5h.6v.6h-.6zM394.8 58.6h.6v.6h-.6zM395.3 103.2h.6v.6h-.6zM396.2 87.6h.6v.6h-.6zM396.5 68.3h.6v.6h-.6zM396.7 75.6h.6v.6h-.6zM396.8 59.2h.6v.6h-.6zM397.6 62.5h.6v.6h-.6zM398.8 67.9h.6v.6h-.6zM398.9 80.3h.6v.6h-.6zM399.7 95.0h.6v.6h-.6zM400.3 64.6h.6v.6h-.6zM400.6 79.9h.6v.6h-.6zM401.2 74.4h.6v.6h-.6zM401.2 70.1h.6v.6h-.6zM401.2 60.9h.6v.6h-.6zM401.4 75.9h.6v.6h-.6zM401.9 103.1h.6v.6h-.6zM402.3 86.6h.6v.6h-.6zM403.1 64.9h.6v.6h-.6zM403.2 101.9h.6v.6h-.6zM403.5 96.5h.6v.6h-.6zM403.6 87.0h.6v.6h-.6zM403.8 102.9h.6v.6h-.6zM403.9 59.3h.6v.6h-.6zM392.3 63.5h.6v.6h-.6zM362.5 101.3h.6v.6h-.6zM396.0 103.8h.6v.6h-.6zM392.9 68.9h.6v.6h-.6zM398.0 77.2h.6v.6h-.6zM398.3 78.4h.6v.6h-.6zM398.6 93.0h.6v.6h-.6zM364.2 107.4h.6v.6h-.6zM358.2 104.1h.6v.6h-.6zM360.9 56.5h.6v.6h-.6zM364.8 95.9h.6v.6h-.6zM361.5 91.4h.6v.6h-.6zM384.4 65.0h.6v.6h-.6zM376.5 60.3h.6v.6h-.6zM389.8 105.1h.6v.6h-.6zM393.4 77.3h.6v.6h-.6zM391.1 73.4h.6v.6h-.6zM356.1 58.2h.6v.6h-.6zM359.7 57.9h.6v.6h-.6zM400.1 97.8h.6v.6h-.6zM387.5 102.3h.6v.6h-.6zM357.0 58.4h.6v.6h-.6zM384.0 104.0h.6v.6h-.6zM354.6 99.3h.6v.6h-.6zM354.9 99.5h.6v.6h-.6zM384.6 103.2h.6v.6h-.6zM392.6 95.8h.6v.6h-.6zM390.6 74.2h.6v.6h-.6zM394.7 85.8h.6v.6h-.6zM361.5 58.5h.6v.6h-.6zM367.6 104.6h.6v.6h-.6zM391.9 95.5h.6v.6h-.6zM374.3 61.6h.6v.6h-.6zM363.8 103.1h.6v.6h-.6zM392.9 93.0h.6v.6h-.6zM359.9 69.3h.6v.6h-.6zM402.0 95.1h.6v.6h-.6zM358.1 59.6h.6v.6h-.6zM369.1 72.0h.6v.6h-.6zM387.5 71.5h.6v.6h-.6zM384.7 68.6h.6v.6h-.6zM359.6 59.6h.6v.6h-.6zM365.9 59.8h.6v.6h-.6zM370.2 93.0h.6v.6h-.6zM368.9 60.4h.6v.6h-.6zM393.4 86.0h.6v.6h-.6zM384.7 68.9h.6v.6h-.6zM385.5 106.6h.6v.6h-.6zM386.4 71.0h.6v.6h-.6zM397.1 83.9h.6v.6h-.6zM368.9 72.5h.6v.6h-.6zM386.6 71.5h.6v.6h-.6zM392.8 85.8h.6v.6h-.6zM380.3 66.0h.6v.6h-.6zM392.4 82.9h.6v.6h-.6zM368.0 60.9h.6v.6h-.6zM366.9 60.9h.6v.6h-.6zM380.0 102.6h.6v.6h-.6zM388.7 97.1h.6v.6h-.6zM379.6 102.5h.6v.6h-.6zM363.8 60.8h.6v.6h-.6zM354.7 95.2h.6v.6h-.6zM356.4 61.8h.6v.6h-.6zM379.8 102.1h.6v.6h-.6zM390.8 80.3h.6v.6h-.6zM376.3 102.8h.6v.6h-.6zM376.2 64.5h.6v.6h-.6zM376.2 64.5h.6v.6h-.6zM392.1 102.6h.6v.6h-.6zM373.0 63.3h.6v.6h-.6zM359.1 105.5h.6v.6h-.6zM369.0 69.5h.6v.6h-.6zM390.9 82.6h.6v.6h-.6zM361.6 61.5h.6v.6h-.6zM384.9 99.0h.6v.6h-.6zM368.9 70.2h.6v.6h-.6zM360.7 101.5h.6v.6h-.6zM390.8 83.3h.6v.6h-.6zM361.3 99.1h.6v.6h-.6zM360.2 62.0h.6v.6h-.6zM389.2 93.7h.6v.6h-.6zM364.0 100.5h.6v.6h-.6zM367.2 101.3h.6v.6h-.6zM388.2 76.9h.6v.6h-.6zM370.7 101.8h.6v.6h-.6zM363.4 100.1h.6v.6h-.6zM388.4 77.8h.6v.6h-.6zM400.7 85.5h.6v.6h-.6zM378.4 67.2h.6v.6h-.6zM388.6 85.7h.6v.6h-.6zM370.7 101.4h.6v.6h-.6zM402.6 92.1h.6v.6h-.6zM378.1 104.3h.6v.6h-.6zM389.7 83.3h.6v.6h-.6zM387.3 77.0h.6v.6h-.6zM399.5 85.5h.6v.6h-.6zM389.0 82.4h.6v.6h-.6zM387.6 78.4h.6v.6h-.6zM361.3 103.7h.6v.6h-.6zM373.1 65.2h.6v.6h-.6zM366.5 100.0h.6v.6h-.6zM367.6 96.0h.6v.6h-.6zM370.5 64.4h.6v.6h-.6zM359.1 63.8h.6v.6h-.6zM387.1 93.5h.6v.6h-.6zM389.0 88.5h.6v.6h-.6zM373.4 65.8h.6v.6h-.6zM368.6 70.3h.6v.6h-.6zM372.3 65.6h.6v.6h-.6zM382.0 106.9h.6v.6h-.6zM370.8 107.0h.6v.6h-.6zM399.6 85.9h.6v.6h-.6zM366.2 64.2h.6v.6h-.6zM361.7 104.4h.6v.6h-.6zM367.1 64.8h.6v.6h-.6zM362.9 64.6h.6v.6h-.6zM365.6 98.4h.6v.6h-.6zM377.3 69.1h.6v.6h-.6zM386.8 90.2h.6v.6h-.6zM363.2 101.4h.6v.6h-.6zM360.9 96.1h.6v.6h-.6zM361.3 97.9h.6v.6h-.6zM358.6 105.9h.6v.6h-.6zM377.4 69.4h.6v.6h-.6zM357.0 93.5h.6v.6h-.6zM387.1 83.7h.6v.6h-.6zM362.3 97.1h.6v.6h-.6zM359.1 65.7h.6v.6h-.6zM377.7 98.0h.6v.6h-.6zM375.3 98.5h.6v.6h-.6zM368.1 98.2h.6v.6h-.6zM386.6 82.8h.6v.6h-.6zM374.9 98.4h.6v.6h-.6zM360.1 95.1h.6v.6h-.6zM386.3 104.7h.6v.6h-.6zM370.6 98.6h.6v.6h-.6zM381.0 96.1h.6v.6h-.6zM382.7 94.5h.6v.6h-.6zM400.2 94.0h.6v.6h-.6zM382.4 94.7h.6v.6h-.6zM385.9 89.0h.6v.6h-.6zM382.2 94.4h.6v.6h-.6zM365.7 66.2h.6v.6h-.6zM370.4 97.7h.6v.6h-.6zM383.0 76.6h.6v.6h-.6zM360.2 94.3h.6v.6h-.6zM385.8 83.9h.6v.6h-.6zM376.8 97.0h.6v.6h-.6zM385.1 89.6h.6v.6h-.6zM379.1 72.3h.6v.6h-.6zM379.6 89.6h.6v.6h-.6zM379.9 73.3h.6v.6h-.6zM386.2 104.5h.6v.6h-.6zM385.1 82.3h.6v.6h-.6zM366.1 66.8h.6v.6h-.6zM358.8 92.8h.6v.6h-.6zM369.5 97.1h.6v.6h-.6zM389.9 102.5h.6v.6h-.6zM397.1 86.3h.6v.6h-.6zM369.9 96.9h.6v.6h-.6zM384.7 88.5h.6v.6h-.6zM358.6 68.0h.6v.6h-.6zM370.5 68.1h.6v.6h-.6zM361.3 99.3h.6v.6h-.6zM384.9 84.2h.6v.6h-.6zM354.4 88.0h.6v.6h-.6zM384.3 81.5h.6v.6h-.6zM372.7 69.0h.6v.6h-.6zM358.6 92.2h.6v.6h-.6zM381.3 93.4h.6v.6h-.6zM383.3 105.7h.6v.6h-.6zM380.1 74.5h.6v.6h-.6zM384.1 81.1h.6v.6h-.6zM373.7 69.8h.6v.6h-.6zM355.4 94.9h.6v.6h-.6zM368.3 96.2h.6v.6h-.6zM383.2 90.6h.6v.6h-.6zM374.4 97.8h.6v.6h-.6zM355.4 83.6h.6v.6h-.6zM384.0 88.3h.6v.6h-.6zM373.5 96.2h.6v.6h-.6zM381.6 92.2h.6v.6h-.6zM376.3 71.7h.6v.6h-.6zM365.5 64.3h.6v.6h-.6zM354.2 72.2h.6v.6h-.6zM357.7 69.5h.6v.6h-.6zM366.4 68.1h.6v.6h-.6zM365.1 100.3h.6v.6h-.6zM379.1 74.4h.6v.6h-.6zM362.4 93.7h.6v.6h-.6zM365.4 64.4h.6v.6h-.6zM377.8 73.3h.6v.6h-.6zM375.1 71.3h.6v.6h-.6zM376.8 72.5h.6v.6h-.6zM357.0 89.5h.6v.6h-.6zM370.8 69.3h.6v.6h-.6zM367.7 74.0h.6v.6h-.6zM371.1 106.7h.6v.6h-.6zM366.9 95.0h.6v.6h-.6zM374.0 70.9h.6v.6h-.6zM365.6 94.6h.6v.6h-.6zM360.9 99.8h.6v.6h-.6zM360.4 69.2h.6v.6h-.6zM379.1 93.1h.6v.6h-.6zM379.1 93.1h.6v.6h-.6zM359.0 69.7h.6v.6h-.6zM354.8 85.8h.6v.6h-.6zM383.0 83.1h.6v.6h-.6zM378.0 93.7h.6v.6h-.6zM378.5 90.6h.6v.6h-.6zM376.1 91.8h.6v.6h-.6zM365.4 68.9h.6v.6h-.6zM358.7 90.2h.6v.6h-.6zM381.5 79.1h.6v.6h-.6zM379.4 92.4h.6v.6h-.6zM382.8 86.6h.6v.6h-.6zM379.4 92.4h.6v.6h-.6zM361.3 92.0h.6v.6h-.6zM372.8 71.0h.6v.6h-.6zM380.8 78.2h.6v.6h-.6zM381.8 89.2h.6v.6h-.6zM374.9 94.5h.6v.6h-.6zM356.2 87.2h.6v.6h-.6zM381.0 90.5h.6v.6h-.6zM381.1 89.5h.6v.6h-.6zM381.3 89.9h.6v.6h-.6zM358.7 70.4h.6v.6h-.6zM360.6 91.4h.6v.6h-.6zM366.3 69.2h.6v.6h-.6zM377.5 93.4h.6v.6h-.6zM364.6 93.5h.6v.6h-.6zM361.8 92.1h.6v.6h-.6zM363.7 91.8h.6v.6h-.6zM354.3 83.3h.6v.6h-.6zM363.1 92.7h.6v.6h-.6zM378.4 92.4h.6v.6h-.6zM378.2 92.6h.6v.6h-.6zM381.8 87.7h.6v.6h-.6zM357.2 87.7h.6v.6h-.6zM358.7 71.1h.6v.6h-.6zM360.8 99.7h.6v.6h-.6zM382.1 84.8h.6v.6h-.6zM355.6 85.2h.6v.6h-.6zM365.9 93.5h.6v.6h-.6zM363.9 92.6h.6v.6h-.6zM354.6 76.0h.6v.6h-.6zM381.8 86.7h.6v.6h-.6zM357.6 72.0h.6v.6h-.6zM354.4 77.2h.6v.6h-.6zM398.8 93.8h.6v.6h-.6zM381.0 80.6h.6v.6h-.6zM355.0 83.2h.6v.6h-.6zM377.7 75.6h.6v.6h-.6zM375.1 97.9h.6v.6h-.6zM367.0 70.2h.6v.6h-.6zM355.2 83.3h.6v.6h-.6zM354.7 81.2h.6v.6h-.6zM355.2 83.0h.6v.6h-.6zM388.8 102.4h.6v.6h-.6zM377.3 92.0h.6v.6h-.6zM366.9 70.4h.6v.6h-.6zM398.9 93.4h.6v.6h-.6zM375.8 74.3h.6v.6h-.6zM398.0 87.9h.6v.6h-.6zM356.9 86.1h.6v.6h-.6zM379.6 89.8h.6v.6h-.6zM373.2 93.8h.6v.6h-.6zM364.1 92.1h.6v.6h-.6zM362.7 70.6h.6v.6h-.6zM380.8 87.0h.6v.6h-.6zM364.4 103.8h.6v.6h-.6zM378.1 76.9h.6v.6h-.6zM371.7 72.0h.6v.6h-.6zM378.7 90.5h.6v.6h-.6zM355.2 81.7h.6v.6h-.6zM355.0 80.6h.6v.6h-.6zM381.0 85.0h.6v.6h-.6zM380.6 81.8h.6v.6h-.6zM372.7 72.6h.6v.6h-.6zM364.8 70.6h.6v.6h-.6zM359.3 72.1h.6v.6h-.6zM364.9 92.1h.6v.6h-.6zM356.8 74.3h.6v.6h-.6zM357.2 73.9h.6v.6h-.6zM380.8 85.1h.6v.6h-.6zM379.6 88.9h.6v.6h-.6zM361.6 97.4h.6v.6h-.6zM372.2 94.6h.6v.6h-.6zM379.3 89.1h.6v.6h-.6zM375.0 92.4h.6v.6h-.6zM367.5 92.7h.6v.6h-.6zM360.9 89.5h.6v.6h-.6zM379.3 79.5h.6v.6h-.6zM371.9 93.0h.6v.6h-.6zM358.1 86.7h.6v.6h-.6zM364.0 71.0h.6v.6h-.6zM375.5 92.0h.6v.6h-.6zM355.7 78.0h.6v.6h-.6zM377.2 76.6h.6v.6h-.6zM372.3 72.9h.6v.6h-.6zM378.8 79.0h.6v.6h-.6zM377.3 76.8h.6v.6h-.6zM358.5 86.9h.6v.6h-.6zM363.8 71.3h.6v.6h-.6zM358.0 86.0h.6v.6h-.6zM355.9 80.1h.6v.6h-.6zM356.9 84.0h.6v.6h-.6zM366.7 71.4h.6v.6h-.6zM368.4 71.7h.6v.6h-.6zM380.0 84.5h.6v.6h-.6zM380.7 99.8h.6v.6h-.6zM364.7 71.5h.6v.6h-.6zM378.9 88.5h.6v.6h-.6zM379.1 98.3h.6v.6h-.6zM379.1 87.9h.6v.6h-.6zM356.5 77.2h.6v.6h-.6zM394.0 87.2h.6v.6h-.6zM395.8 96.9h.6v.6h-.6zM379.7 85.7h.6v.6h-.6zM366.3 100.3h.6v.6h-.6zM376.5 76.7h.6v.6h-.6zM376.0 76.1h.6v.6h-.6zM378.0 78.7h.6v.6h-.6zM356.5 77.8h.6v.6h-.6zM360.6 72.8h.6v.6h-.6zM356.4 80.8h.6v.6h-.6zM373.5 74.4h.6v.6h-.6zM378.7 87.8h.6v.6h-.6zM369.2 92.1h.6v.6h-.6zM361.9 89.2h.6v.6h-.6zM372.3 73.7h.6v.6h-.6zM368.1 91.9h.6v.6h-.6zM377.9 79.1h.6v.6h-.6zM379.1 86.5h.6v.6h-.6zM362.1 89.2h.6v.6h-.6zM362.6 89.6h.6v.6h-.6zM357.5 76.3h.6v.6h-.6zM361.2 73.0h.6v.6h-.6zM369.7 91.9h.6v.6h-.6zM371.3 91.9h.6v.6h-.6zM357.9 84.2h.6v.6h-.6zM358.9 85.7h.6v.6h-.6zM361.8 88.8h.6v.6h-.6zM372.7 91.6h.6v.6h-.6zM363.3 72.4h.6v.6h-.6zM361.5 88.4h.6v.6h-.6zM373.7 75.0h.6v.6h-.6z"/>
<path fill="#91a0d0" opacity="0.5" d="M380.2 99.0h.6v.6h-.6zM378.9 84.3h.6v.6h-.6zM392.8 87.4h.6v.6h-.6zM376.7 89.2h.6v.6h-.6zM378.7 82.9h.6v.6h-.6zM358.7 75.4h.6v.6h-.6zM377.0 78.8h.6v.6h-.6zM381.5 90.0h.6v.6h-.6zM358.4 84.2h.6v.6h-.6zM365.2 104.0h.6v.6h-.6zM366.3 90.6h.6v.6h-.6zM372.5 74.7h.6v.6h-.6zM375.8 98.0h.6v.6h-.6zM367.5 90.8h.6v.6h-.6zM378.0 81.6h.6v.6h-.6zM374.5 76.4h.6v.6h-.6zM377.8 81.3h.6v.6h-.6zM377.8 81.6h.6v.6h-.6zM373.8 94.0h.6v.6h-.6zM373.2 75.5h.6v.6h-.6zM359.1 76.1h.6v.6h-.6zM358.1 81.7h.6v.6h-.6zM365.6 66.1h.6v.6h-.6zM359.0 76.3h.6v.6h-.6zM372.0 74.9h.6v.6h-.6zM358.0 79.8h.6v.6h-.6zM385.7 103.5h.6v.6h-.6zM376.6 87.9h.6v.6h-.6zM375.2 89.2h.6v.6h-.6zM375.7 88.7h.6v.6h-.6zM378.9 98.3h.6v.6h-.6zM358.7 83.0h.6v.6h-.6zM371.4 74.8h.6v.6h-.6zM369.8 74.1h.6v.6h-.6zM365.4 103.9h.6v.6h-.6zM374.1 89.6h.6v.6h-.6zM358.4 78.8h.6v.6h-.6zM358.8 77.7h.6v.6h-.6zM365.7 89.5h.6v.6h-.6zM369.2 90.4h.6v.6h-.6zM367.4 73.7h.6v.6h-.6zM380.1 105.8h.6v.6h-.6zM358.5 80.1h.6v.6h-.6zM358.6 80.2h.6v.6h-.6zM360.2 75.9h.6v.6h-.6zM367.5 73.9h.6v.6h-.6zM367.8 90.0h.6v.6h-.6zM372.5 75.9h.6v.6h-.6zM375.1 78.3h.6v.6h-.6zM370.2 90.2h.6v.6h-.6zM365.1 73.9h.6v.6h-.6zM376.8 86.1h.6v.6h-.6zM360.2 84.6h.6v.6h-.6zM386.7 102.9h.6v.6h-.6zM372.4 89.7h.6v.6h-.6zM359.2 82.2h.6v.6h-.6zM396.9 88.6h.6v.6h-.6zM375.1 107.0h.6v.6h-.6zM362.2 86.7h.6v.6h-.6zM359.2 79.0h.6v.6h-.6zM392.1 87.7h.6v.6h-.6zM365.9 102.1h.6v.6h-.6zM373.8 77.4h.6v.6h-.6zM394.3 97.8h.6v.6h-.6zM361.5 75.6h.6v.6h-.6zM363.3 74.6h.6v.6h-.6zM374.4 78.0h.6v.6h-.6zM369.0 106.7h.6v.6h-.6zM361.0 85.3h.6v.6h-.6zM376.4 86.1h.6v.6h-.6zM374.0 88.7h.6v.6h-.6zM364.5 74.5h.6v.6h-.6zM371.3 75.8h.6v.6h-.6zM376.5 84.4h.6v.6h-.6zM371.6 89.3h.6v.6h-.6zM364.7 74.7h.6v.6h-.6zM378.5 98.3h.6v.6h-.6zM359.7 79.1h.6v.6h-.6zM366.7 100.8h.6v.6h-.6zM379.7 98.9h.6v.6h-.6zM370.5 75.7h.6v.6h-.6zM360.7 77.5h.6v.6h-.6zM374.6 87.4h.6v.6h-.6zM369.3 75.4h.6v.6h-.6zM394.8 88.1h.6v.6h-.6zM371.8 88.8h.6v.6h-.6zM361.4 84.6h.6v.6h-.6zM398.0 92.4h.6v.6h-.6zM361.2 77.0h.6v.6h-.6zM360.5 78.0h.6v.6h-.6zM373.7 87.9h.6v.6h-.6zM373.7 78.5h.6v.6h-.6zM375.8 83.7h.6v.6h-.6zM373.9 87.4h.6v.6h-.6zM394.4 97.5h.6v.6h-.6zM363.9 89.4h.6v.6h-.6zM367.0 100.6h.6v.6h-.6zM362.1 85.0h.6v.6h-.6zM375.6 82.7h.6v.6h-.6zM371.5 76.9h.6v.6h-.6zM361.4 77.5h.6v.6h-.6zM394.1 88.0h.6v.6h-.6zM374.9 86.0h.6v.6h-.6zM360.7 95.0h.6v.6h-.6zM397.8 90.1h.6v.6h-.6zM388.8 88.2h.6v.6h-.6zM361.8 84.4h.6v.6h-.6zM365.9 87.7h.6v.6h-.6zM375.3 84.2h.6v.6h-.6zM373.8 87.0h.6v.6h-.6zM363.7 104.5h.6v.6h-.6zM375.2 82.9h.6v.6h-.6zM361.0 79.0h.6v.6h-.6zM361.0 81.9h.6v.6h-.6zM365.0 102.3h.6v.6h-.6zM374.9 82.6h.6v.6h-.6zM373.8 86.5h.6v.6h-.6zM361.6 82.9h.6v.6h-.6zM370.4 107.0h.6v.6h-.6zM374.7 81.9h.6v.6h-.6zM361.2 81.1h.6v.6h-.6zM373.6 86.4h.6v.6h-.6zM365.8 81.8h.6v.6h-.6zM363.1 85.0h.6v.6h-.6zM373.2 86.6h.6v.6h-.6zM357.8 104.9h.6v.6h-.6zM362.3 78.0h.6v.6h-.6zM368.0 106.3h.6v.6h-.6zM368.0 87.5h.6v.6h-.6zM370.6 77.4h.6v.6h-.6zM372.2 95.5h.6v.6h-.6zM371.8 78.3h.6v.6h-.6zM370.3 87.6h.6v.6h-.6zM367.1 87.2h.6v.6h-.6zM372.9 86.2h.6v.6h-.6zM362.6 83.3h.6v.6h-.6zM363.8 84.9h.6v.6h-.6zM386.6 88.8h.6v.6h-.6zM361.0 97.9h.6v.6h-.6zM364.4 85.2h.6v.6h-.6zM362.6 79.3h.6v.6h-.6zM362.4 80.1h.6v.6h-.6zM391.3 99.7h.6v.6h-.6zM364.7 77.6h.6v.6h-.6zM367.3 86.6h.6v.6h-.6zM372.2 79.8h.6v.6h-.6zM371.9 95.8h.6v.6h-.6zM370.7 86.5h.6v.6h-.6zM363.6 78.5h.6v.6h-.6zM366.3 77.3h.6v.6h-.6zM373.3 83.6h.6v.6h-.6zM373.3 83.0h.6v.6h-.6zM372.8 95.2h.6v.6h-.6zM363.3 83.0h.6v.6h-.6zM364.0 78.4h.6v.6h-.6zM373.2 106.8h.6v.6h-.6zM370.0 78.5h.6v.6h-.6zM369.1 78.1h.6v.6h-.6zM363.1 81.1h.6v.6h-.6zM372.8 83.5h.6v.6h-.6zM365.9 85.2h.6v.6h-.6zM369.5 78.5h.6v.6h-.6zM364.6 84.0h.6v.6h-.6zM364.0 79.4h.6v.6h-.6zM368.1 85.9h.6v.6h-.6zM363.7 80.2h.6v.6h-.6zM369.6 78.8h.6v.6h-.6zM372.4 83.2h.6v.6h-.6zM363.6 81.1h.6v.6h-.6zM363.7 81.5h.6v.6h-.6zM366.7 78.2h.6v.6h-.6zM380.7 105.1h.6v.6h-.6zM375.7 93.4h.6v.6h-.6zM363.8 81.7h.6v.6h-.6zM363.9 81.9h.6v.6h-.6zM373.5 98.4h.6v.6h-.6zM368.9 85.6h.6v.6h-.6zM367.4 85.3h.6v.6h-.6zM364.0 80.9h.6v.6h-.6zM371.6 83.9h.6v.6h-.6zM365.9 84.3h.6v.6h-.6zM370.0 85.2h.6v.6h-.6zM369.4 85.2h.6v.6h-.6zM379.4 91.5h.6v.6h-.6zM365.6 79.2h.6v.6h-.6zM369.1 85.1h.6v.6h-.6zM369.2 79.5h.6v.6h-.6zM371.2 81.7h.6v.6h-.6zM371.2 83.2h.6v.6h-.6zM365.9 83.8h.6v.6h-.6zM397.0 93.3h.6v.6h-.6zM368.9 84.5h.6v.6h-.6zM384.9 89.5h.6v.6h-.6zM367.3 84.2h.6v.6h-.6zM368.7 79.9h.6v.6h-.6zM370.1 81.3h.6v.6h-.6zM397.2 90.8h.6v.6h-.6zM367.5 79.9h.6v.6h-.6zM366.4 80.1h.6v.6h-.6zM366.0 82.4h.6v.6h-.6zM366.7 80.4h.6v.6h-.6zM368.6 80.5h.6v.6h-.6zM366.6 80.6h.6v.6h-.6zM369.1 80.9h.6v.6h-.6zM369.5 81.4h.6v.6h-.6zM369.8 82.6h.6v.6h-.6zM367.0 80.5h.6v.6h-.6zM369.0 83.4h.6v.6h-.6zM368.1 80.5h.6v.6h-.6zM366.6 82.1h.6v.6h-.6zM362.4 93.8h.6v.6h-.6zM369.3 82.3h.6v.6h-.6zM365.5 67.5h.6v.6h-.6zM376.3 104.3h.6v.6h-.6zM392.9 98.2h.6v.6h-.6zM384.2 103.5h.6v.6h-.6zM392.4 88.5h.6v.6h-.6zM365.5 82.4h.6v.6h-.6zM397.0 92.0h.6v.6h-.6zM394.7 89.0h.6v.6h-.6zM374.7 106.3h.6v.6h-.6zM378.9 105.3h.6v.6h-.6zM369.9 106.0h.6v.6h-.6zM379.7 99.5h.6v.6h-.6zM391.2 88.7h.6v.6h-.6zM378.7 105.3h.6v.6h-.6zM368.9 105.4h.6v.6h-.6zM395.4 94.9h.6v.6h-.6zM366.0 101.7h.6v.6h-.6zM366.1 106.3h.6v.6h-.6zM360.0 93.9h.6v.6h-.6zM369.0 105.4h.6v.6h-.6zM379.3 105.1h.6v.6h-.6zM369.1 99.9h.6v.6h-.6zM374.9 94.4h.6v.6h-.6zM365.4 106.1h.6v.6h-.6zM356.7 105.7h.6v.6h-.6zM366.2 69.7h.6v.6h-.6zM389.8 89.0h.6v.6h-.6zM366.8 106.4h.6v.6h-.6zM371.1 97.5h.6v.6h-.6zM373.8 95.3h.6v.6h-.6zM396.0 91.0h.6v.6h-.6zM366.2 76.6h.6v.6h-.6zM358.1 78.7h.6v.6h-.6zM396.1 92.3h.6v.6h-.6zM381.1 104.3h.6v.6h-.6zM379.1 92.3h.6v.6h-.6zM366.3 71.3h.6v.6h-.6zM384.5 90.2h.6v.6h-.6zM387.9 89.4h.6v.6h-.6zM394.9 94.9h.6v.6h-.6zM369.9 98.9h.6v.6h-.6zM388.0 101.0h.6v.6h-.6zM385.4 102.4h.6v.6h-.6zM370.5 98.3h.6v.6h-.6zM359.5 93.5h.6v.6h-.6zM357.4 80.8h.6v.6h-.6zM395.7 93.0h.6v.6h-.6zM358.6 93.3h.6v.6h-.6zM394.3 95.7h.6v.6h-.6zM380.3 91.9h.6v.6h-.6zM375.2 94.6h.6v.6h-.6zM365.1 82.8h.6v.6h-.6zM358.2 78.7h.6v.6h-.6zM395.5 91.3h.6v.6h-.6zM356.5 106.9h.6v.6h-.6zM370.8 105.3h.6v.6h-.6zM360.1 99.0h.6v.6h-.6zM361.1 72.7h.6v.6h-.6zM368.7 101.4h.6v.6h-.6zM360.4 98.0h.6v.6h-.6zM378.8 104.7h.6v.6h-.6zM383.1 90.9h.6v.6h-.6zM358.1 104.8h.6v.6h-.6zM395.1 91.4h.6v.6h-.6zM376.9 103.7h.6v.6h-.6zM368.9 103.5h.6v.6h-.6zM370.4 99.0h.6v.6h-.6zM362.3 92.8h.6v.6h-.6zM359.2 100.6h.6v.6h-.6zM371.0 98.3h.6v.6h-.6zM372.2 105.3h.6v.6h-.6zM365.3 69.6h.6v.6h-.6zM376.3 105.1h.6v.6h-.6zM369.7 104.2h.6v.6h-.6zM377.8 98.7h.6v.6h-.6zM363.8 87.8h.6v.6h-.6zM377.4 98.7h.6v.6h-.6zM376.6 104.9h.6v.6h-.6zM369.7 100.6h.6v.6h-.6zM355.3 107.4h.6v.6h-.6zM369.3 101.6h.6v.6h-.6zM388.1 100.3h.6v.6h-.6zM358.9 101.0h.6v.6h-.6zM363.6 70.0h.6v.6h-.6zM379.4 104.2h.6v.6h-.6zM355.5 87.5h.6v.6h-.6zM394.5 91.9h.6v.6h-.6zM373.3 98.8h.6v.6h-.6zM358.7 101.4h.6v.6h-.6zM355.6 87.2h.6v.6h-.6zM378.5 99.1h.6v.6h-.6zM371.8 98.1h.6v.6h-.6zM371.3 104.5h.6v.6h-.6zM369.9 103.5h.6v.6h-.6zM379.0 93.1h.6v.6h-.6zM394.1 91.9h.6v.6h-.6zM384.9 90.9h.6v.6h-.6zM370.1 103.5h.6v.6h-.6zM381.2 103.4h.6v.6h-.6zM383.9 102.3h.6v.6h-.6zM393.7 91.4h.6v.6h-.6zM365.2 70.5h.6v.6h-.6zM370.3 100.4h.6v.6h-.6zM358.9 103.0h.6v.6h-.6zM389.9 90.2h.6v.6h-.6zM375.5 104.7h.6v.6h-.6zM377.4 94.1h.6v.6h-.6zM359.7 100.6h.6v.6h-.6zM354.5 91.8h.6v.6h-.6zM378.5 102.1h.6v.6h-.6zM390.7 97.9h.6v.6h-.6zM392.7 95.9h.6v.6h-.6zM393.2 95.0h.6v.6h-.6zM360.6 74.5h.6v.6h-.6zM356.2 85.5h.6v.6h-.6zM372.4 98.0h.6v.6h-.6zM356.0 95.7h.6v.6h-.6zM373.8 104.5h.6v.6h-.6zM370.3 101.4h.6v.6h-.6zM363.9 70.5h.6v.6h-.6zM359.2 102.0h.6v.6h-.6zM371.2 103.6h.6v.6h-.6zM364.7 82.9h.6v.6h-.6zM385.4 91.1h.6v.6h-.6zM392.6 95.7h.6v.6h-.6zM375.9 95.3h.6v.6h-.6zM364.2 70.6h.6v.6h-.6zM378.3 93.9h.6v.6h-.6zM363.0 89.5h.6v.6h-.6zM360.4 97.0h.6v.6h-.6zM377.5 103.0h.6v.6h-.6zM361.6 73.0h.6v.6h-.6zM388.5 99.3h.6v.6h-.6zM370.6 101.9h.6v.6h-.6zM392.3 95.8h.6v.6h-.6zM383.1 91.9h.6v.6h-.6zM387.5 90.8h.6v.6h-.6zM370.9 100.7h.6v.6h-.6zM356.8 84.1h.6v.6h-.6zM357.6 105.2h.6v.6h-.6zM372.8 104.0h.6v.6h-.6zM356.4 104.2h.6v.6h-.6zM372.7 98.2h.6v.6h-.6zM387.2 90.9h.6v.6h-.6zM371.0 102.8h.6v.6h-.6zM373.4 104.0h.6v.6h-.6zM374.7 98.8h.6v.6h-.6zM374.1 104.1h.6v.6h-.6zM390.2 90.9h.6v.6h-.6z"/>
<path fill="#7e94cd" opacity="0.5" d="M376.8 98.9h.6v.6h-.6zM371.0 101.1h.6v.6h-.6zM389.9 98.0h.6v.6h-.6zM384.2 91.7h.6v.6h-.6zM387.5 99.7h.6v.6h-.6zM354.3 106.7h.6v.6h-.6zM379.7 103.3h.6v.6h-.6zM389.6 91.0h.6v.6h-.6zM355.6 104.6h.6v.6h-.6zM392.8 93.9h.6v.6h-.6zM360.5 75.3h.6v.6h-.6zM392.0 95.5h.6v.6h-.6zM371.3 101.9h.6v.6h-.6zM372.5 105.3h.6v.6h-.6zM391.5 96.1h.6v.6h-.6zM376.0 95.8h.6v.6h-.6zM377.5 99.1h.6v.6h-.6zM356.3 106.4h.6v.6h-.6zM355.6 106.8h.6v.6h-.6zM387.7 91.3h.6v.6h-.6zM365.4 76.1h.6v.6h-.6zM371.6 100.7h.6v.6h-.6zM359.7 98.2h.6v.6h-.6zM365.3 73.9h.6v.6h-.6zM376.2 95.7h.6v.6h-.6zM382.9 92.4h.6v.6h-.6zM390.4 91.5h.6v.6h-.6zM377.3 99.1h.6v.6h-.6zM390.2 97.3h.6v.6h-.6zM369.9 100.0h.6v.6h-.6zM365.6 103.0h.6v.6h-.6zM361.7 73.5h.6v.6h-.6zM372.1 99.3h.6v.6h-.6zM386.0 91.6h.6v.6h-.6zM392.0 94.8h.6v.6h-.6zM379.8 102.9h.6v.6h-.6zM378.8 100.6h.6v.6h-.6zM388.3 91.4h.6v.6h-.6zM390.9 96.4h.6v.6h-.6zM367.3 101.5h.6v.6h-.6zM373.7 98.0h.6v.6h-.6zM392.0 94.6h.6v.6h-.6zM376.6 99.0h.6v.6h-.6zM377.3 102.9h.6v.6h-.6zM389.5 91.5h.6v.6h-.6zM357.7 104.8h.6v.6h-.6zM378.1 94.7h.6v.6h-.6zM355.3 106.7h.6v.6h-.6zM376.3 103.5h.6v.6h-.6zM380.7 93.4h.6v.6h-.6zM358.7 79.5h.6v.6h-.6zM365.2 75.6h.6v.6h-.6zM374.4 97.4h.6v.6h-.6zM378.7 94.4h.6v.6h-.6zM390.7 91.9h.6v.6h-.6zM377.1 95.4h.6v.6h-.6zM372.6 105.2h.6v.6h-.6zM357.9 101.4h.6v.6h-.6zM380.3 93.7h.6v.6h-.6zM386.0 100.1h.6v.6h-.6zM382.2 102.0h.6v.6h-.6zM372.1 101.2h.6v.6h-.6zM384.9 92.1h.6v.6h-.6zM355.1 97.6h.6v.6h-.6zM374.2 104.6h.6v.6h-.6zM372.2 101.3h.6v.6h-.6zM364.5 72.2h.6v.6h-.6zM366.2 102.5h.6v.6h-.6zM379.4 94.2h.6v.6h-.6zM376.5 103.4h.6v.6h-.6zM358.6 94.3h.6v.6h-.6zM384.9 92.1h.6v.6h-.6zM354.5 103.6h.6v.6h-.6zM373.3 102.8h.6v.6h-.6zM366.1 105.3h.6v.6h-.6zM391.1 92.6h.6v.6h-.6zM375.2 103.2h.6v.6h-.6zM354.5 94.0h.6v.6h-.6zM375.6 96.8h.6v.6h-.6zM355.5 106.6h.6v.6h-.6zM356.0 103.4h.6v.6h-.6zM372.9 102.0h.6v.6h-.6zM363.9 72.3h.6v.6h-.6zM377.7 99.4h.6v.6h-.6zM378.0 95.2h.6v.6h-.6zM355.1 91.3h.6v.6h-.6zM375.6 103.0h.6v.6h-.6zM388.4 98.1h.6v.6h-.6zM359.6 99.9h.6v.6h-.6zM374.0 102.7h.6v.6h-.6zM376.3 99.1h.6v.6h-.6zM371.3 105.5h.6v.6h-.6zM382.2 101.6h.6v.6h-.6zM385.9 99.8h.6v.6h-.6zM383.3 92.8h.6v.6h-.6zM390.1 92.5h.6v.6h-.6zM354.4 106.2h.6v.6h-.6zM388.6 97.8h.6v.6h-.6zM359.4 78.4h.6v.6h-.6zM375.4 97.2h.6v.6h-.6zM375.7 102.9h.6v.6h-.6zM387.5 98.7h.6v.6h-.6zM375.9 102.9h.6v.6h-.6zM376.0 102.9h.6v.6h-.6zM384.4 92.6h.6v.6h-.6zM389.3 97.1h.6v.6h-.6zM387.6 98.6h.6v.6h-.6zM384.0 100.7h.6v.6h-.6zM357.7 94.6h.6v.6h-.6zM354.5 102.9h.6v.6h-.6zM363.3 86.8h.6v.6h-.6zM388.6 97.7h.6v.6h-.6zM390.4 92.9h.6v.6h-.6zM360.9 94.4h.6v.6h-.6zM387.1 98.9h.6v.6h-.6zM373.4 101.7h.6v.6h-.6zM355.9 88.6h.6v.6h-.6zM374.8 104.3h.6v.6h-.6zM388.5 92.3h.6v.6h-.6zM389.7 92.6h.6v.6h-.6zM390.2 95.7h.6v.6h-.6zM389.2 97.0h.6v.6h-.6zM366.1 105.1h.6v.6h-.6zM378.3 102.5h.6v.6h-.6zM374.6 99.1h.6v.6h-.6zM373.3 100.8h.6v.6h-.6zM364.2 82.7h.6v.6h-.6zM361.3 75.0h.6v.6h-.6zM389.3 96.8h.6v.6h-.6zM369.5 100.4h.6v.6h-.6zM363.6 72.9h.6v.6h-.6zM362.9 73.2h.6v.6h-.6zM368.3 105.7h.6v.6h-.6zM378.8 102.3h.6v.6h-.6zM377.4 102.5h.6v.6h-.6zM354.5 95.7h.6v.6h-.6zM386.3 92.5h.6v.6h-.6zM355.7 103.0h.6v.6h-.6zM389.0 97.0h.6v.6h-.6zM382.2 101.3h.6v.6h-.6zM373.8 101.4h.6v.6h-.6zM387.1 98.6h.6v.6h-.6zM361.4 92.9h.6v.6h-.6zM357.0 101.9h.6v.6h-.6zM359.2 95.0h.6v.6h-.6zM386.3 92.7h.6v.6h-.6zM362.3 89.8h.6v.6h-.6zM364.8 76.7h.6v.6h-.6zM374.3 99.2h.6v.6h-.6zM359.8 98.4h.6v.6h-.6zM381.1 94.2h.6v.6h-.6zM365.9 104.7h.6v.6h-.6zM374.0 100.1h.6v.6h-.6zM389.8 95.4h.6v.6h-.6zM374.1 99.8h.6v.6h-.6zM390.0 94.2h.6v.6h-.6zM386.7 98.6h.6v.6h-.6zM374.2 99.8h.6v.6h-.6zM375.4 102.1h.6v.6h-.6zM358.8 94.8h.6v.6h-.6zM363.3 86.2h.6v.6h-.6zM387.9 97.7h.6v.6h-.6zM359.8 97.3h.6v.6h-.6zM358.0 100.4h.6v.6h-.6zM364.6 75.0h.6v.6h-.6zM389.4 96.0h.6v.6h-.6zM374.5 101.5h.6v.6h-.6zM389.7 95.2h.6v.6h-.6zM374.7 101.6h.6v.6h-.6zM385.1 93.0h.6v.6h-.6zM355.0 102.4h.6v.6h-.6zM354.8 94.4h.6v.6h-.6zM354.4 100.9h.6v.6h-.6zM376.3 102.1h.6v.6h-.6zM355.1 106.3h.6v.6h-.6zM389.1 96.2h.6v.6h-.6zM378.9 101.9h.6v.6h-.6zM375.1 98.6h.6v.6h-.6zM383.7 100.3h.6v.6h-.6zM354.5 101.3h.6v.6h-.6zM375.3 101.8h.6v.6h-.6zM356.9 85.7h.6v.6h-.6zM366.2 105.0h.6v.6h-.6zM380.8 101.4h.6v.6h-.6zM364.6 75.4h.6v.6h-.6zM362.0 74.5h.6v.6h-.6zM371.9 99.6h.6v.6h-.6zM369.4 100.6h.6v.6h-.6zM376.5 103.2h.6v.6h-.6zM389.3 95.5h.6v.6h-.6zM359.7 96.5h.6v.6h-.6zM388.7 96.4h.6v.6h-.6zM388.8 96.3h.6v.6h-.6zM376.4 97.4h.6v.6h-.6zM381.1 94.5h.6v.6h-.6zM382.5 100.7h.6v.6h-.6zM356.3 105.8h.6v.6h-.6zM380.8 94.6h.6v.6h-.6zM369.6 100.5h.6v.6h-.6zM378.1 96.1h.6v.6h-.6zM354.9 98.6h.6v.6h-.6zM355.3 97.7h.6v.6h-.6zM388.1 93.4h.6v.6h-.6zM355.5 91.2h.6v.6h-.6zM358.3 81.7h.6v.6h-.6zM355.3 102.2h.6v.6h-.6zM388.6 93.7h.6v.6h-.6zM381.0 94.7h.6v.6h-.6zM387.3 97.6h.6v.6h-.6zM383.3 100.2h.6v.6h-.6zM387.1 97.8h.6v.6h-.6zM383.1 100.3h.6v.6h-.6zM374.4 99.2h.6v.6h-.6zM384.5 99.5h.6v.6h-.6zM377.8 101.6h.6v.6h-.6zM356.2 101.9h.6v.6h-.6zM367.0 105.3h.6v.6h-.6zM375.5 101.1h.6v.6h-.6zM354.5 99.9h.6v.6h-.6zM373.1 104.8h.6v.6h-.6zM364.5 76.9h.6v.6h-.6zM379.2 95.7h.6v.6h-.6zM379.5 95.6h.6v.6h-.6zM386.4 93.4h.6v.6h-.6zM388.7 95.2h.6v.6h-.6zM385.1 93.5h.6v.6h-.6zM388.3 94.0h.6v.6h-.6zM387.1 93.5h.6v.6h-.6zM386.7 97.9h.6v.6h-.6zM368.2 105.5h.6v.6h-.6z"/>
<path fill="#6a89ca" opacity="0.85" d="M381.7 94.6h.6v.6h-.6zM377.1 101.4h.6v.6h-.6zM375.5 100.6h.6v.6h-.6zM388.4 94.3h.6v.6h-.6zM377.5 101.4h.6v.6h-.6zM385.5 93.6h.6v.6h-.6zM380.7 100.9h.6v.6h-.6zM385.6 93.6h.6v.6h-.6zM378.4 101.4h.6v.6h-.6zM377.3 102.3h.6v.6h-.6zM376.8 99.5h.6v.6h-.6zM359.5 96.2h.6v.6h-.6zM387.7 96.7h.6v.6h-.6zM371.7 99.8h.6v.6h-.6zM376.5 103.0h.6v.6h-.6zM388.3 95.9h.6v.6h-.6zM376.8 99.5h.6v.6h-.6zM355.0 94.2h.6v.6h-.6zM386.7 93.7h.6v.6h-.6zM382.4 100.3h.6v.6h-.6zM378.7 101.3h.6v.6h-.6zM375.7 100.5h.6v.6h-.6zM375.6 100.3h.6v.6h-.6zM361.6 91.6h.6v.6h-.6zM387.9 94.2h.6v.6h-.6zM376.9 101.2h.6v.6h-.6zM379.5 101.1h.6v.6h-.6zM387.2 93.8h.6v.6h-.6zM383.4 94.1h.6v.6h-.6zM355.6 91.1h.6v.6h-.6zM379.8 95.6h.6v.6h-.6zM357.5 100.4h.6v.6h-.6zM372.7 104.9h.6v.6h-.6zM386.8 97.5h.6v.6h-.6zM364.0 74.9h.6v.6h-.6zM354.6 99.7h.6v.6h-.6zM377.6 97.3h.6v.6h-.6zM379.0 96.3h.6v.6h-.6zM382.2 100.2h.6v.6h-.6zM363.3 85.2h.6v.6h-.6zM376.5 100.7h.6v.6h-.6zM356.1 89.3h.6v.6h-.6zM380.5 100.7h.6v.6h-.6zM379.4 96.1h.6v.6h-.6zM387.9 95.0h.6v.6h-.6zM383.2 94.4h.6v.6h-.6zM387.8 95.3h.6v.6h-.6zM378.6 96.7h.6v.6h-.6zM376.7 100.6h.6v.6h-.6zM385.2 94.1h.6v.6h-.6zM380.2 95.7h.6v.6h-.6zM377.9 97.2h.6v.6h-.6zM377.6 101.7h.6v.6h-.6zM381.4 95.2h.6v.6h-.6zM387.2 96.4h.6v.6h-.6zM383.9 99.2h.6v.6h-.6zM362.2 75.2h.6v.6h-.6zM377.2 98.0h.6v.6h-.6zM386.4 94.3h.6v.6h-.6zM358.7 95.2h.6v.6h-.6zM379.2 96.4h.6v.6h-.6zM381.1 100.3h.6v.6h-.6zM381.5 100.2h.6v.6h-.6zM382.9 99.6h.6v.6h-.6zM359.1 100.9h.6v.6h-.6zM378.1 97.3h.6v.6h-.6zM355.1 94.2h.6v.6h-.6zM381.5 95.2h.6v.6h-.6zM380.1 95.9h.6v.6h-.6zM377.0 102.5h.6v.6h-.6zM375.5 99.4h.6v.6h-.6zM354.8 99.3h.6v.6h-.6zM361.5 76.1h.6v.6h-.6zM387.2 94.9h.6v.6h-.6zM377.1 98.4h.6v.6h-.6zM376.8 100.0h.6v.6h-.6zM355.0 95.2h.6v.6h-.6zM376.9 102.5h.6v.6h-.6zM373.8 99.4h.6v.6h-.6zM386.3 94.5h.6v.6h-.6zM383.2 99.4h.6v.6h-.6zM379.2 96.5h.6v.6h-.6zM386.6 94.6h.6v.6h-.6zM359.4 79.8h.6v.6h-.6zM376.9 99.0h.6v.6h-.6zM378.4 97.1h.6v.6h-.6zM378.7 97.0h.6v.6h-.6zM355.5 101.0h.6v.6h-.6zM363.4 84.1h.6v.6h-.6zM358.5 98.3h.6v.6h-.6zM372.6 104.8h.6v.6h-.6zM382.6 95.0h.6v.6h-.6zM373.9 99.4h.6v.6h-.6zM377.3 102.1h.6v.6h-.6zM378.6 97.1h.6v.6h-.6zM356.1 101.0h.6v.6h-.6zM377.7 101.4h.6v.6h-.6zM372.1 99.8h.6v.6h-.6zM386.8 95.5h.6v.6h-.6zM380.0 100.3h.6v.6h-.6zM381.3 99.9h.6v.6h-.6zM380.1 100.2h.6v.6h-.6zM379.7 96.5h.6v.6h-.6zM381.0 95.8h.6v.6h-.6zM378.8 97.1h.6v.6h-.6zM384.6 94.7h.6v.6h-.6zM359.5 98.0h.6v.6h-.6zM359.4 96.5h.6v.6h-.6zM380.0 96.3h.6v.6h-.6zM377.4 99.3h.6v.6h-.6zM363.4 83.6h.6v.6h-.6zM369.9 100.6h.6v.6h-.6zM377.6 99.6h.6v.6h-.6zM383.5 98.8h.6v.6h-.6zM386.3 96.3h.6v.6h-.6zM372.8 99.7h.6v.6h-.6zM363.1 85.4h.6v.6h-.6zM363.2 84.7h.6v.6h-.6zM384.2 98.3h.6v.6h-.6zM377.7 99.2h.6v.6h-.6zM377.4 101.7h.6v.6h-.6zM357.1 100.1h.6v.6h-.6zM384.6 98.0h.6v.6h-.6zM378.3 99.7h.6v.6h-.6zM386.1 95.9h.6v.6h-.6zM356.8 87.2h.6v.6h-.6zM362.8 75.4h.6v.6h-.6zM378.8 99.8h.6v.6h-.6zM385.9 95.7h.6v.6h-.6zM382.2 99.2h.6v.6h-.6zM379.8 99.8h.6v.6h-.6zM366.3 104.0h.6v.6h-.6zM380.0 99.8h.6v.6h-.6zM379.5 97.1h.6v.6h-.6zM385.4 96.9h.6v.6h-.6zM381.4 99.4h.6v.6h-.6zM381.4 96.1h.6v.6h-.6zM373.3 104.5h.6v.6h-.6zM375.1 99.5h.6v.6h-.6zM355.8 91.5h.6v.6h-.6zM385.6 96.0h.6v.6h-.6zM384.7 95.4h.6v.6h-.6zM359.5 96.0h.6v.6h-.6zM361.4 91.0h.6v.6h-.6zM385.3 95.7h.6v.6h-.6zM355.1 96.2h.6v.6h-.6zM355.2 96.0h.6v.6h-.6zM355.3 94.4h.6v.6h-.6zM382.1 95.9h.6v.6h-.6zM385.1 97.0h.6v.6h-.6zM379.6 99.5h.6v.6h-.6zM382.0 96.0h.6v.6h-.6zM363.8 80.8h.6v.6h-.6zM383.5 98.3h.6v.6h-.6zM379.0 99.3h.6v.6h-.6zM384.3 95.6h.6v.6h-.6zM355.2 98.6h.6v.6h-.6zM355.7 100.1h.6v.6h-.6zM379.0 99.2h.6v.6h-.6zM379.6 99.3h.6v.6h-.6zM381.0 99.2h.6v.6h-.6zM359.4 96.2h.6v.6h-.6zM355.2 95.8h.6v.6h-.6zM363.5 82.4h.6v.6h-.6zM366.6 103.2h.6v.6h-.6zM381.6 98.9h.6v.6h-.6zM362.2 88.1h.6v.6h-.6zM368.5 105.3h.6v.6h-.6zM375.9 99.6h.6v.6h-.6zM381.7 98.8h.6v.6h-.6zM379.9 97.6h.6v.6h-.6zM360.7 77.9h.6v.6h-.6zM355.7 97.6h.6v.6h-.6zM380.9 96.9h.6v.6h-.6zM382.5 98.4h.6v.6h-.6zM358.2 83.5h.6v.6h-.6zM357.9 84.3h.6v.6h-.6zM355.4 94.6h.6v.6h-.6zM383.2 98.0h.6v.6h-.6zM382.6 96.2h.6v.6h-.6zM357.0 99.7h.6v.6h-.6zM355.2 98.0h.6v.6h-.6zM363.5 76.7h.6v.6h-.6zM373.2 104.5h.6v.6h-.6zM380.4 97.7h.6v.6h-.6zM356.0 105.5h.6v.6h-.6zM383.7 96.6h.6v.6h-.6zM381.6 98.5h.6v.6h-.6zM363.8 78.7h.6v.6h-.6zM382.8 96.6h.6v.6h-.6zM372.6 99.8h.6v.6h-.6zM355.5 105.6h.6v.6h-.6zM363.4 82.8h.6v.6h-.6zM380.9 98.2h.6v.6h-.6zM380.9 97.7h.6v.6h-.6zM381.4 98.1h.6v.6h-.6zM382.5 97.7h.6v.6h-.6zM366.5 103.8h.6v.6h-.6zM363.7 78.6h.6v.6h-.6zM381.5 97.5h.6v.6h-.6zM382.3 97.6h.6v.6h-.6zM381.6 97.5h.6v.6h-.6zM356.6 99.8h.6v.6h-.6zM377.2 101.7h.6v.6h-.6zM366.8 104.5h.6v.6h-.6zM359.4 97.9h.6v.6h-.6zM355.7 105.5h.6v.6h-.6zM369.4 105.2h.6v.6h-.6zM366.6 104.0h.6v.6h-.6zM361.6 89.9h.6v.6h-.6zM357.7 85.1h.6v.6h-.6zM363.2 83.6h.6v.6h-.6zM355.2 105.4h.6v.6h-.6zM360.2 79.2h.6v.6h-.6zM358.2 97.9h.6v.6h-.6zM363.3 82.7h.6v.6h-.6zM361.4 77.3h.6v.6h-.6zM367.0 102.8h.6v.6h-.6zM376.0 99.7h.6v.6h-.6zM371.2 105.0h.6v.6h-.6zM369.5 105.2h.6v.6h-.6zM359.3 98.2h.6v.6h-.6z"/>
<path fill="#5988c3" opacity="0.85" d="M357.3 86.4h.6v.6h-.6zM376.3 102.7h.6v.6h-.6zM354.3 102.0h.6v.6h-.6zM372.8 99.8h.6v.6h-.6zM362.0 88.4h.6v.6h-.6zM356.7 99.4h.6v.6h-.6zM369.5 100.9h.6v.6h-.6zM360.7 92.2h.6v.6h-.6zM369.8 105.1h.6v.6h-.6zM376.9 100.2h.6v.6h-.6zM359.9 79.9h.6v.6h-.6zM358.4 83.5h.6v.6h-.6zM355.6 95.2h.6v.6h-.6zM373.1 99.8h.6v.6h-.6zM356.8 88.6h.6v.6h-.6zM377.0 101.8h.6v.6h-.6zM359.8 94.4h.6v.6h-.6zM374.9 99.7h.6v.6h-.6zM369.3 105.1h.6v.6h-.6zM363.0 77.1h.6v.6h-.6zM355.9 98.6h.6v.6h-.6zM359.8 94.3h.6v.6h-.6zM363.4 78.8h.6v.6h-.6zM360.1 93.7h.6v.6h-.6zM362.1 87.5h.6v.6h-.6zM372.5 99.9h.6v.6h-.6zM356.9 96.3h.6v.6h-.6zM355.1 105.2h.6v.6h-.6zM363.2 78.1h.6v.6h-.6zM361.0 78.4h.6v.6h-.6zM372.6 99.9h.6v.6h-.6zM366.8 103.7h.6v.6h-.6zM369.4 105.1h.6v.6h-.6zM362.0 77.4h.6v.6h-.6zM354.6 100.8h.6v.6h-.6zM361.0 78.4h.6v.6h-.6zM374.9 103.6h.6v.6h-.6zM354.9 99.9h.6v.6h-.6zM372.8 99.9h.6v.6h-.6zM359.2 81.8h.6v.6h-.6zM354.8 100.3h.6v.6h-.6zM371.7 100.2h.6v.6h-.6zM359.8 94.1h.6v.6h-.6zM359.1 82.2h.6v.6h-.6zM377.1 100.7h.6v.6h-.6zM358.6 96.0h.6v.6h-.6zM355.9 97.5h.6v.6h-.6zM361.8 88.2h.6v.6h-.6zM356.0 93.4h.6v.6h-.6zM363.1 78.2h.6v.6h-.6zM363.1 81.8h.6v.6h-.6zM368.0 102.0h.6v.6h-.6zM362.2 86.7h.6v.6h-.6zM376.6 100.2h.6v.6h-.6zM367.2 103.0h.6v.6h-.6zM362.8 77.8h.6v.6h-.6zM362.9 83.2h.6v.6h-.6zM355.9 96.9h.6v.6h-.6zM363.1 81.6h.6v.6h-.6zM367.0 103.6h.6v.6h-.6zM367.1 104.3h.6v.6h-.6zM362.5 77.7h.6v.6h-.6zM358.2 95.9h.6v.6h-.6zM376.8 101.8h.6v.6h-.6zM359.0 95.6h.6v.6h-.6zM362.0 87.3h.6v.6h-.6zM362.3 86.2h.6v.6h-.6zM360.9 78.9h.6v.6h-.6zM356.5 90.9h.6v.6h-.6zM357.2 98.0h.6v.6h-.6zM357.1 88.2h.6v.6h-.6zM356.8 89.6h.6v.6h-.6zM356.4 91.3h.6v.6h-.6zM357.1 104.1h.6v.6h-.6zM356.9 98.1h.6v.6h-.6zM359.5 94.6h.6v.6h-.6zM357.4 87.5h.6v.6h-.6zM363.0 80.9h.6v.6h-.6zM356.9 96.5h.6v.6h-.6zM373.0 104.3h.6v.6h-.6zM355.9 105.0h.6v.6h-.6zM363.0 81.5h.6v.6h-.6zM356.0 97.7h.6v.6h-.6zM359.4 94.5h.6v.6h-.6zM358.5 96.1h.6v.6h-.6zM362.7 83.6h.6v.6h-.6zM362.9 82.1h.6v.6h-.6zM362.7 78.6h.6v.6h-.6zM357.1 104.0h.6v.6h-.6zM358.7 83.7h.6v.6h-.6zM376.9 100.8h.6v.6h-.6zM368.1 102.1h.6v.6h-.6zM357.0 89.0h.6v.6h-.6zM376.1 100.1h.6v.6h-.6zM376.4 100.3h.6v.6h-.6zM361.1 79.1h.6v.6h-.6zM356.6 91.2h.6v.6h-.6zM374.5 103.6h.6v.6h-.6zM361.3 89.5h.6v.6h-.6zM367.4 103.0h.6v.6h-.6zM367.3 104.2h.6v.6h-.6zM357.3 97.4h.6v.6h-.6zM356.3 93.1h.6v.6h-.6zM356.3 92.9h.6v.6h-.6zM357.7 103.0h.6v.6h-.6zM362.5 78.8h.6v.6h-.6zM369.6 101.2h.6v.6h-.6zM354.5 102.4h.6v.6h-.6zM356.2 95.9h.6v.6h-.6zM376.3 102.2h.6v.6h-.6zM358.5 84.4h.6v.6h-.6zM356.3 96.7h.6v.6h-.6zM361.8 87.2h.6v.6h-.6zM357.1 96.5h.6v.6h-.6zM355.9 97.9h.6v.6h-.6z"/>
<path fill="#4a99b9" opacity="0.85" d="M367.2 103.5h.6v.6h-.6zM356.5 92.1h.6v.6h-.6zM370.2 100.9h.6v.6h-.6zM361.6 88.1h.6v.6h-.6zM362.7 82.7h.6v.6h-.6zM361.0 79.5h.6v.6h-.6zM356.3 93.8h.6v.6h-.6zM356.2 95.2h.6v.6h-.6zM361.5 88.3h.6v.6h-.6zM368.7 101.8h.6v.6h-.6zM372.7 100.1h.6v.6h-.6zM362.5 79.4h.6v.6h-.6zM374.6 103.5h.6v.6h-.6zM360.2 80.8h.6v.6h-.6zM359.0 98.7h.6v.6h-.6zM360.7 90.7h.6v.6h-.6zM357.0 97.0h.6v.6h-.6zM356.7 104.3h.6v.6h-.6zM357.4 88.4h.6v.6h-.6zM362.5 79.6h.6v.6h-.6zM356.7 96.8h.6v.6h-.6zM361.9 86.7h.6v.6h-.6zM360.8 90.4h.6v.6h-.6zM356.4 97.3h.6v.6h-.6zM362.7 81.2h.6v.6h-.6zM356.9 90.3h.6v.6h-.6zM371.8 100.4h.6v.6h-.6zM362.6 80.1h.6v.6h-.6zM362.5 79.9h.6v.6h-.6zM367.5 103.0h.6v.6h-.6zM356.4 95.8h.6v.6h-.6zM356.6 91.9h.6v.6h-.6zM369.7 101.2h.6v.6h-.6zM360.8 90.2h.6v.6h-.6zM354.9 104.2h.6v.6h-.6zM362.5 80.6h.6v.6h-.6zM358.3 95.7h.6v.6h-.6zM359.1 83.5h.6v.6h-.6zM361.3 79.6h.6v.6h-.6zM361.1 89.1h.6v.6h-.6zM357.1 89.7h.6v.6h-.6zM361.6 87.5h.6v.6h-.6zM360.1 92.1h.6v.6h-.6zM357.6 103.0h.6v.6h-.6zM357.0 96.5h.6v.6h-.6zM358.3 85.6h.6v.6h-.6zM367.8 104.4h.6v.6h-.6zM371.3 104.6h.6v.6h-.6zM359.0 94.4h.6v.6h-.6zM368.3 104.6h.6v.6h-.6zM373.6 100.1h.6v.6h-.6zM362.0 85.6h.6v.6h-.6zM361.1 89.0h.6v.6h-.6zM374.6 100.0h.6v.6h-.6zM369.3 104.8h.6v.6h-.6zM370.2 101.0h.6v.6h-.6zM358.8 94.7h.6v.6h-.6zM358.9 99.4h.6v.6h-.6zM357.2 89.5h.6v.6h-.6zM368.4 104.6h.6v.6h-.6zM373.8 103.8h.6v.6h-.6zM354.7 102.7h.6v.6h-.6zM356.3 97.6h.6v.6h-.6zM361.9 79.8h.6v.6h-.6zM358.9 99.2h.6v.6h-.6zM361.8 79.7h.6v.6h-.6zM356.9 91.1h.6v.6h-.6zM360.7 90.1h.6v.6h-.6zM371.1 104.6h.6v.6h-.6zM358.7 84.6h.6v.6h-.6zM361.0 80.3h.6v.6h-.6zM358.5 95.0h.6v.6h-.6zM368.5 104.6h.6v.6h-.6zM357.1 90.8h.6v.6h-.6zM356.0 104.5h.6v.6h-.6zM356.8 92.8h.6v.6h-.6zM358.3 101.5h.6v.6h-.6zM372.9 100.2h.6v.6h-.6zM371.5 104.5h.6v.6h-.6zM368.0 102.6h.6v.6h-.6zM355.4 104.5h.6v.6h-.6zM370.2 104.7h.6v.6h-.6zM358.0 86.9h.6v.6h-.6zM359.1 93.7h.6v.6h-.6zM372.9 104.1h.6v.6h-.6zM362.2 81.1h.6v.6h-.6zM359.1 84.0h.6v.6h-.6zM368.9 101.8h.6v.6h-.6zM360.1 91.4h.6v.6h-.6zM360.3 81.6h.6v.6h-.6zM360.7 89.8h.6v.6h-.6zM355.8 104.5h.6v.6h-.6zM359.8 82.5h.6v.6h-.6zM361.0 88.6h.6v.6h-.6zM358.5 94.6h.6v.6h-.6zM370.0 104.7h.6v.6h-.6zM358.6 100.2h.6v.6h-.6zM375.6 100.3h.6v.6h-.6zM355.3 104.3h.6v.6h-.6zM358.9 84.6h.6v.6h-.6zM369.9 104.7h.6v.6h-.6zM360.7 89.5h.6v.6h-.6zM375.6 102.5h.6v.6h-.6zM361.0 81.0h.6v.6h-.6zM361.5 86.4h.6v.6h-.6zM372.2 104.3h.6v.6h-.6zM360.1 82.2h.6v.6h-.6zM358.9 84.8h.6v.6h-.6zM358.5 94.4h.6v.6h-.6zM358.0 87.6h.6v.6h-.6zM367.8 104.0h.6v.6h-.6zM375.0 103.0h.6v.6h-.6zM370.1 104.6h.6v.6h-.6zM369.7 101.4h.6v.6h-.6zM356.8 97.2h.6v.6h-.6zM358.9 85.0h.6v.6h-.6zM358.5 100.7h.6v.6h-.6zM368.3 104.3h.6v.6h-.6zM376.3 101.4h.6v.6h-.6z"/>
<path fill="#3caaaf" opacity="0.85" d="M356.4 104.2h.6v.6h-.6zM358.7 85.5h.6v.6h-.6zM357.5 96.7h.6v.6h-.6zM357.6 94.9h.6v.6h-.6zM372.9 100.3h.6v.6h-.6zM357.2 94.5h.6v.6h-.6zM357.6 89.6h.6v.6h-.6zM361.8 84.2h.6v.6h-.6zM358.7 98.0h.6v.6h-.6zM361.5 86.1h.6v.6h-.6zM367.8 103.2h.6v.6h-.6zM376.1 100.9h.6v.6h-.6zM375.5 102.5h.6v.6h-.6zM354.9 103.2h.6v.6h-.6zM358.0 88.0h.6v.6h-.6zM355.3 104.1h.6v.6h-.6zM357.5 90.3h.6v.6h-.6zM367.9 103.0h.6v.6h-.6zM357.4 94.4h.6v.6h-.6zM357.2 93.5h.6v.6h-.6zM368.6 102.2h.6v.6h-.6zM371.5 104.4h.6v.6h-.6zM358.4 97.0h.6v.6h-.6zM368.1 104.1h.6v.6h-.6zM355.1 103.8h.6v.6h-.6zM358.7 93.6h.6v.6h-.6zM371.2 104.4h.6v.6h-.6zM356.5 97.6h.6v.6h-.6zM357.5 90.0h.6v.6h-.6zM361.8 82.4h.6v.6h-.6zM358.1 96.8h.6v.6h-.6zM356.8 97.3h.6v.6h-.6zM359.7 83.5h.6v.6h-.6zM357.7 102.4h.6v.6h-.6zM360.4 89.8h.6v.6h-.6zM361.3 81.7h.6v.6h-.6zM375.3 102.6h.6v.6h-.6zM354.9 101.5h.6v.6h-.6zM361.4 85.9h.6v.6h-.6zM373.8 100.3h.6v.6h-.6zM360.8 82.0h.6v.6h-.6zM368.6 104.3h.6v.6h-.6zM355.0 103.4h.6v.6h-.6zM361.7 83.3h.6v.6h-.6zM360.4 82.4h.6v.6h-.6zM357.4 91.3h.6v.6h-.6zM358.7 98.4h.6v.6h-.6zM354.9 102.7h.6v.6h-.6zM357.5 93.7h.6v.6h-.6zM357.4 92.6h.6v.6h-.6zM358.1 93.9h.6v.6h-.6zM359.0 85.3h.6v.6h-.6zM356.4 104.0h.6v.6h-.6zM358.1 93.8h.6v.6h-.6zM372.9 100.4h.6v.6h-.6zM355.2 100.5h.6v.6h-.6zM358.5 93.4h.6v.6h-.6zM355.0 101.7h.6v.6h-.6zM376.0 101.3h.6v.6h-.6zM355.0 101.2h.6v.6h-.6zM358.4 87.4h.6v.6h-.6zM355.8 99.0h.6v.6h-.6zM361.5 84.0h.6v.6h-.6zM360.4 82.8h.6v.6h-.6zM358.2 101.1h.6v.6h-.6zM372.4 104.1h.6v.6h-.6zM357.8 89.9h.6v.6h-.6zM361.5 83.1h.6v.6h-.6zM358.8 86.3h.6v.6h-.6zM358.1 88.3h.6v.6h-.6zM361.4 84.8h.6v.6h-.6zM357.6 96.9h.6v.6h-.6zM357.5 92.4h.6v.6h-.6zM358.2 93.4h.6v.6h-.6zM358.7 86.6h.6v.6h-.6zM357.8 93.4h.6v.6h-.6zM368.7 102.3h.6v.6h-.6zM359.8 90.9h.6v.6h-.6zM357.6 91.5h.6v.6h-.6zM360.6 88.4h.6v.6h-.6zM355.2 103.7h.6v.6h-.6zM368.0 103.4h.6v.6h-.6zM359.0 92.3h.6v.6h-.6zM374.9 102.8h.6v.6h-.6zM361.4 83.5h.6v.6h-.6zM357.9 93.2h.6v.6h-.6zM357.6 92.2h.6v.6h-.6zM359.4 91.6h.6v.6h-.6zM361.3 84.0h.6v.6h-.6zM358.9 92.5h.6v.6h-.6zM358.1 101.2h.6v.6h-.6zM370.7 104.4h.6v.6h-.6zM360.9 82.9h.6v.6h-.6zM360.8 87.2h.6v.6h-.6zM357.4 97.1h.6v.6h-.6zM375.6 100.8h.6v.6h-.6zM361.3 83.5h.6v.6h-.6zM373.0 103.8h.6v.6h-.6zM369.2 101.9h.6v.6h-.6zM368.6 102.5h.6v.6h-.6zM361.3 84.3h.6v.6h-.6zM355.3 103.7h.6v.6h-.6zM360.0 89.9h.6v.6h-.6zM358.6 98.8h.6v.6h-.6zM358.3 97.4h.6v.6h-.6zM360.4 83.4h.6v.6h-.6zM373.5 103.6h.6v.6h-.6zM359.6 90.9h.6v.6h-.6zM374.4 100.4h.6v.6h-.6zM358.7 87.0h.6v.6h-.6zM358.5 92.5h.6v.6h-.6zM358.5 97.9h.6v.6h-.6zM369.0 104.3h.6v.6h-.6zM368.9 102.2h.6v.6h-.6zM369.5 104.4h.6v.6h-.6zM358.5 92.4h.6v.6h-.6zM360.0 84.2h.6v.6h-.6zM360.9 86.2h.6v.6h-.6zM358.0 92.1h.6v.6h-.6zM358.7 92.1h.6v.6h-.6zM360.6 83.6h.6v.6h-.6zM368.4 103.8h.6v.6h-.6zM360.1 89.2h.6v.6h-.6z"/>
<path fill="#5cb787" opacity="0.85" d="M360.9 83.9h.6v.6h-.6zM360.0 89.6h.6v.6h-.6zM360.0 84.4h.6v.6h-.6zM370.2 104.4h.6v.6h-.6zM361.0 85.2h.6v.6h-.6zM359.8 90.0h.6v.6h-.6zM361.0 84.7h.6v.6h-.6zM355.1 102.1h.6v.6h-.6zM359.2 86.1h.6v.6h-.6zM358.9 87.0h.6v.6h-.6zM358.1 90.1h.6v.6h-.6zM358.4 99.8h.6v.6h-.6zM360.5 84.0h.6v.6h-.6zM360.8 84.4h.6v.6h-.6zM368.6 104.0h.6v.6h-.6zM360.2 88.7h.6v.6h-.6zM358.2 91.4h.6v.6h-.6zM375.7 101.7h.6v.6h-.6zM359.3 86.2h.6v.6h-.6zM358.8 87.4h.6v.6h-.6zM358.2 91.0h.6v.6h-.6zM360.1 88.7h.6v.6h-.6zM358.4 89.1h.6v.6h-.6zM375.6 101.1h.6v.6h-.6zM371.3 101.0h.6v.6h-.6zM355.7 99.5h.6v.6h-.6zM370.3 101.4h.6v.6h-.6zM357.1 97.4h.6v.6h-.6zM358.4 97.9h.6v.6h-.6zM356.1 103.8h.6v.6h-.6zM359.7 85.4h.6v.6h-.6zM358.9 87.3h.6v.6h-.6zM359.3 90.5h.6v.6h-.6zM359.7 89.8h.6v.6h-.6zM358.6 88.5h.6v.6h-.6zM368.9 102.4h.6v.6h-.6zM360.3 84.8h.6v.6h-.6zM359.4 90.3h.6v.6h-.6zM355.8 103.8h.6v.6h-.6zM357.5 97.3h.6v.6h-.6zM359.7 85.8h.6v.6h-.6zM357.6 102.1h.6v.6h-.6zM359.9 89.0h.6v.6h-.6zM370.3 104.3h.6v.6h-.6zM358.9 87.7h.6v.6h-.6zM357.2 97.4h.6v.6h-.6zM360.3 87.1h.6v.6h-.6zM359.3 90.2h.6v.6h-.6zM375.6 101.5h.6v.6h-.6zM360.2 87.7h.6v.6h-.6zM360.5 86.2h.6v.6h-.6zM359.7 85.8h.6v.6h-.6zM360.4 86.3h.6v.6h-.6zM355.6 103.6h.6v.6h-.6zM372.1 100.8h.6v.6h-.6zM368.4 103.5h.6v.6h-.6zM372.6 103.8h.6v.6h-.6zM359.4 86.7h.6v.6h-.6zM355.2 101.7h.6v.6h-.6zM360.2 87.4h.6v.6h-.6zM360.3 85.6h.6v.6h-.6zM360.3 85.8h.6v.6h-.6zM369.3 104.1h.6v.6h-.6zM359.2 89.9h.6v.6h-.6zM358.8 88.6h.6v.6h-.6zM360.1 87.7h.6v.6h-.6zM360.0 87.8h.6v.6h-.6zM374.4 102.9h.6v.6h-.6zM373.6 103.4h.6v.6h-.6zM359.2 87.5h.6v.6h-.6zM359.8 88.6h.6v.6h-.6zM368.5 103.4h.6v.6h-.6zM370.2 101.5h.6v.6h-.6zM359.9 86.1h.6v.6h-.6zM358.0 97.5h.6v.6h-.6zM355.9 99.1h.6v.6h-.6zM356.2 103.6h.6v.6h-.6zM375.5 101.3h.6v.6h-.6zM359.4 87.3h.6v.6h-.6zM359.3 89.2h.6v.6h-.6zM359.2 89.3h.6v.6h-.6zM359.9 87.6h.6v.6h-.6zM375.1 102.3h.6v.6h-.6zM359.9 87.6h.6v.6h-.6zM368.6 103.5h.6v.6h-.6zM359.4 88.7h.6v.6h-.6zM369.8 101.8h.6v.6h-.6zM359.6 87.9h.6v.6h-.6zM375.4 101.7h.6v.6h-.6zM358.3 98.1h.6v.6h-.6zM356.2 98.7h.6v.6h-.6zM368.7 103.7h.6v.6h-.6zM355.3 101.4h.6v.6h-.6zM355.9 99.2h.6v.6h-.6zM358.2 100.2h.6v.6h-.6zM355.3 102.7h.6v.6h-.6zM355.4 100.6h.6v.6h-.6zM374.0 103.1h.6v.6h-.6zM358.3 99.9h.6v.6h-.6zM375.2 102.0h.6v.6h-.6zM356.4 103.4h.6v.6h-.6zM372.0 100.9h.6v.6h-.6zM375.2 102.1h.6v.6h-.6zM358.3 98.6h.6v.6h-.6zM375.3 101.7h.6v.6h-.6zM370.1 101.6h.6v.6h-.6zM355.3 102.6h.6v.6h-.6zM368.9 103.8h.6v.6h-.6zM355.8 99.6h.6v.6h-.6zM369.5 104.0h.6v.6h-.6z"/>
<path fill="#7cc560" opacity="0.85" d="M374.9 102.4h.6v.6h-.6zM369.5 104.0h.6v.6h-.6zM357.7 101.6h.6v.6h-.6zM372.6 100.8h.6v.6h-.6zM372.6 103.7h.6v.6h-.6zM356.9 102.8h.6v.6h-.6zM368.9 102.9h.6v.6h-.6zM357.9 101.1h.6v.6h-.6zM370.3 101.6h.6v.6h-.6zM368.8 103.3h.6v.6h-.6zM368.8 103.2h.6v.6h-.6zM369.9 104.0h.6v.6h-.6zM357.7 101.4h.6v.6h-.6zM355.5 102.9h.6v.6h-.6zM369.0 103.6h.6v.6h-.6zM371.3 101.2h.6v.6h-.6zM356.1 103.2h.6v.6h-.6zM372.4 103.7h.6v.6h-.6zM369.2 103.8h.6v.6h-.6zM369.5 102.2h.6v.6h-.6zM357.0 98.0h.6v.6h-.6zM371.5 101.2h.6v.6h-.6zM355.4 102.1h.6v.6h-.6zM373.6 103.2h.6v.6h-.6zM369.6 102.2h.6v.6h-.6zM355.6 100.6h.6v.6h-.6zM355.6 102.8h.6v.6h-.6zM356.9 98.1h.6v.6h-.6zM369.7 103.9h.6v.6h-.6zM369.2 103.6h.6v.6h-.6zM373.3 103.3h.6v.6h-.6zM369.4 102.4h.6v.6h-.6zM374.3 102.6h.6v.6h-.6zM372.5 101.0h.6v.6h-.6zM370.4 101.7h.6v.6h-.6zM374.6 102.3h.6v.6h-.6zM357.8 100.9h.6v.6h-.6zM373.1 100.9h.6v.6h-.6zM370.9 103.9h.6v.6h-.6zM356.3 103.0h.6v.6h-.6zM355.9 102.9h.6v.6h-.6zM356.4 102.9h.6v.6h-.6zM373.1 103.3h.6v.6h-.6zM373.9 100.9h.6v.6h-.6zM374.8 102.0h.6v.6h-.6zM374.1 101.0h.6v.6h-.6z"/>
<path fill="#b9d241" opacity="0.85" d="M370.3 103.9h.6v.6h-.6zM355.6 101.2h.6v.6h-.6zM369.8 103.8h.6v.6h-.6zM355.9 102.9h.6v.6h-.6zM357.1 98.2h.6v.6h-.6zM356.3 99.0h.6v.6h-.6zM370.8 101.6h.6v.6h-.6zM356.8 102.5h.6v.6h-.6zM373.0 103.3h.6v.6h-.6zM369.6 103.7h.6v.6h-.6zM370.0 102.1h.6v.6h-.6zM355.7 102.5h.6v.6h-.6zM355.7 102.4h.6v.6h-.6zM371.7 103.7h.6v.6h-.6zM373.0 103.3h.6v.6h-.6zM358.0 100.0h.6v.6h-.6zM356.3 99.2h.6v.6h-.6zM370.3 101.9h.6v.6h-.6zM370.0 103.7h.6v.6h-.6zM357.7 98.3h.6v.6h-.6zM356.5 102.7h.6v.6h-.6zM369.4 103.4h.6v.6h-.6zM374.7 101.7h.6v.6h-.6zM374.5 101.4h.6v.6h-.6zM373.6 102.9h.6v.6h-.6zM372.5 103.4h.6v.6h-.6zM357.0 98.4h.6v.6h-.6zM371.9 103.6h.6v.6h-.6zM357.0 98.4h.6v.6h-.6zM357.7 100.8h.6v.6h-.6zM374.6 101.9h.6v.6h-.6zM374.6 101.7h.6v.6h-.6zM356.2 99.6h.6v.6h-.6zM374.3 102.3h.6v.6h-.6zM369.8 103.6h.6v.6h-.6zM357.3 101.6h.6v.6h-.6zM370.3 103.7h.6v.6h-.6zM374.1 101.2h.6v.6h-.6zM357.4 101.4h.6v.6h-.6zM369.6 103.4h.6v.6h-.6zM355.7 101.7h.6v.6h-.6zM373.1 101.1h.6v.6h-.6zM369.5 103.2h.6v.6h-.6zM374.4 102.1h.6v.6h-.6zM374.1 101.2h.6v.6h-.6zM369.9 102.3h.6v.6h-.6zM373.9 101.2h.6v.6h-.6zM371.1 101.6h.6v.6h-.6zM369.5 103.1h.6v.6h-.6zM357.8 98.8h.6v.6h-.6zM356.3 102.6h.6v.6h-.6zM357.8 99.7h.6v.6h-.6zM374.1 101.3h.6v.6h-.6zM357.0 102.0h.6v.6h-.6zM357.0 98.6h.6v.6h-.6zM373.6 101.2h.6v.6h-.6zM355.9 100.7h.6v.6h-.6zM371.2 101.6h.6v.6h-.6zM356.2 99.8h.6v.6h-.6zM357.6 98.7h.6v.6h-.6zM374.3 102.1h.6v.6h-.6zM372.3 103.4h.6v.6h-.6zM357.8 99.8h.6v.6h-.6zM370.5 103.6h.6v.6h-.6zM372.1 101.3h.6v.6h-.6zM356.4 99.4h.6v.6h-.6z"/>
<path fill="#f0d126" opacity="0.85" d="M357.7 98.9h.6v.6h-.6zM357.8 99.6h.6v.6h-.6zM356.1 102.4h.6v.6h-.6zM369.9 102.6h.6v.6h-.6zM371.8 101.4h.6v.6h-.6zM357.6 100.6h.6v.6h-.6zM374.3 101.9h.6v.6h-.6zM371.0 101.8h.6v.6h-.6zM373.1 101.2h.6v.6h-.6zM374.2 102.1h.6v.6h-.6zM371.4 103.5h.6v.6h-.6zM356.8 102.1h.6v.6h-.6zM371.7 101.5h.6v.6h-.6zM371.8 103.4h.6v.6h-.6zM357.5 98.8h.6v.6h-.6zM373.3 102.8h.6v.6h-.6zM370.6 102.0h.6v.6h-.6zM374.1 101.7h.6v.6h-.6zM357.5 100.9h.6v.6h-.6zM371.4 103.5h.6v.6h-.6zM374.0 102.3h.6v.6h-.6zM356.7 102.1h.6v.6h-.6zM373.3 102.8h.6v.6h-.6zM356.8 101.9h.6v.6h-.6zM357.7 99.4h.6v.6h-.6zM356.1 100.3h.6v.6h-.6zM371.8 101.5h.6v.6h-.6zM356.1 100.6h.6v.6h-.6zM356.1 100.6h.6v.6h-.6zM373.5 101.4h.6v.6h-.6zM374.0 101.7h.6v.6h-.6zM373.4 101.4h.6v.6h-.6zM371.6 103.4h.6v.6h-.6zM356.6 99.4h.6v.6h-.6zM356.1 100.5h.6v.6h-.6zM372.4 101.4h.6v.6h-.6zM357.2 101.3h.6v.6h-.6zM372.5 103.1h.6v.6h-.6zM374.0 101.8h.6v.6h-.6zM357.5 99.2h.6v.6h-.6zM357.5 99.2h.6v.6h-.6zM357.6 99.6h.6v.6h-.6zM356.0 101.1h.6v.6h-.6zM356.1 101.4h.6v.6h-.6zM356.7 101.9h.6v.6h-.6zM370.1 103.0h.6v.6h-.6zM357.4 99.1h.6v.6h-.6zM356.5 99.6h.6v.6h-.6zM370.5 103.3h.6v.6h-.6zM356.2 101.7h.6v.6h-.6zM372.9 102.9h.6v.6h-.6zM356.4 99.9h.6v.6h-.6zM357.4 100.5h.6v.6h-.6zM373.8 101.8h.6v.6h-.6z"/>
<path fill="#f48e1e" opacity="0.85" d="M357.2 99.2h.6v.6h-.6zM371.6 101.7h.6v.6h-.6zM356.4 100.0h.6v.6h-.6zM370.7 103.2h.6v.6h-.6zM370.4 102.6h.6v.6h-.6zM370.9 103.3h.6v.6h-.6zM371.8 101.7h.6v.6h-.6zM371.2 101.9h.6v.6h-.6zM373.5 102.4h.6v.6h-.6zM370.4 102.8h.6v.6h-.6zM370.3 102.9h.6v.6h-.6zM356.2 101.3h.6v.6h-.6zM370.6 103.1h.6v.6h-.6zM372.4 103.0h.6v.6h-.6zM356.5 100.1h.6v.6h-.6zM373.6 102.0h.6v.6h-.6zM373.5 101.8h.6v.6h-.6zM357.3 100.1h.6v.6h-.6zM372.6 101.6h.6v.6h-.6zM356.3 101.4h.6v.6h-.6zM370.7 102.3h.6v.6h-.6zM356.7 99.8h.6v.6h-.6zM356.5 100.1h.6v.6h-.6zM357.3 99.9h.6v.6h-.6zM372.1 101.7h.6v.6h-.6zM356.6 101.4h.6v.6h-.6zM356.3 101.1h.6v.6h-.6zM370.5 102.7h.6v.6h-.6zM356.3 101.0h.6v.6h-.6zM372.6 101.6h.6v.6h-.6zM370.6 102.6h.6v.6h-.6zM373.1 101.7h.6v.6h-.6zM356.6 100.0h.6v.6h-.6zM356.8 101.1h.6v.6h-.6zM372.3 101.7h.6v.6h-.6zM356.5 100.6h.6v.6h-.6zM371.2 103.1h.6v.6h-.6zM356.9 99.8h.6v.6h-.6zM371.7 101.9h.6v.6h-.6zM356.5 100.7h.6v.6h-.6zM371.5 102.0h.6v.6h-.6zM372.9 102.6h.6v.6h-.6zM356.7 100.2h.6v.6h-.6zM372.7 102.7h.6v.6h-.6zM371.1 102.2h.6v.6h-.6zM371.2 102.2h.6v.6h-.6zM356.9 100.1h.6v.6h-.6zM371.4 102.1h.6v.6h-.6zM371.3 103.0h.6v.6h-.6zM356.6 100.7h.6v.6h-.6zM371.1 103.0h.6v.6h-.6zM357.0 100.4h.6v.6h-.6zM370.9 102.7h.6v.6h-.6zM356.9 100.6h.6v.6h-.6zM370.9 102.5h.6v.6h-.6zM373.1 102.1h.6v.6h-.6z"/>
<path fill="#dc281e" opacity="0.85" d="M371.0 102.7h.6v.6h-.6zM372.2 101.9h.6v.6h-.6zM372.6 102.6h.6v.6h-.6zM372.9 102.1h.6v.6h-.6zM372.9 102.2h.6v.6h-.6zM372.6 102.5h.6v.6h-.6zM371.4 102.8h.6v.6h-.6zM371.7 102.8h.6v.6h-.6zM372.7 102.1h.6v.6h-.6zM371.4 102.7h.6v.6h-.6zM371.3 102.5h.6v.6h-.6zM371.9 102.7h.6v.6h-.6zM371.6 102.4h.6v.6h-.6zM372.4 102.3h.6v.6h-.6zM372.1 102.2h.6v.6h-.6zM372.2 102.4h.6v.6h-.6zM372.0 102.4h.6v.6h-.6z"/>
<rect x="354.2" y="56.5" width="52" height="50.9" fill="none" stroke="#111" stroke-width="1.1"/>
<path d="M360.4 107.2 L380.4 69.7 L402.7 61.1 L404.5 63.6 L404.5 105.5 L364.5 105.5" fill="none" stroke="#444" stroke-width="0.75"/>
<text x="382.7" y="83.4" font-size="2.2" text-anchor="middle" fill="#222">Lymphocytes</text>
<text x="382.7" y="86" font-size="2.2" text-anchor="middle" fill="#222">66.7%</text>
<line x1="352.4" y1="58.9" x2="354.2" y2="58.9" stroke="#222" stroke-width="0.6"/>
<text x="351.4" y="60.2" font-size="3.8" text-anchor="end" fill="#333">250K</text>
<line x1="352.4" y1="68.8" x2="354.2" y2="68.8" stroke="#222" stroke-width="0.6"/>
<text x="351.4" y="70.1" font-size="3.8" text-anchor="end" fill="#333">200K</text>
<line x1="352.4" y1="78.9" x2="354.2" y2="78.9" stroke="#222" stroke-width="0.6"/>
<text x="351.4" y="80.2" font-size="3.8" text-anchor="end" fill="#333">150K</text>
<line x1="352.4" y1="88.6" x2="354.2" y2="88.6" stroke="#222" stroke-width="0.6"/>
<text x="351.4" y="89.9" font-size="3.8" text-anchor="end" fill="#333">100K</text>
<line x1="352.4" y1="98.5" x2="354.2" y2="98.5" stroke="#222" stroke-width="0.6"/>
<text x="351.4" y="99.8" font-size="3.8" text-anchor="end" fill="#333">50K</text>
<line x1="352.4" y1="107.6" x2="354.2" y2="107.6" stroke="#222" stroke-width="0.6"/>
<text x="351.4" y="108.9" font-size="3.8" text-anchor="end" fill="#333">0</text>
<line x1="353.3" y1="107.4" x2="354.2" y2="107.4" stroke="#333" stroke-width="0.4"/>
<line x1="353.3" y1="105.4" x2="354.2" y2="105.4" stroke="#333" stroke-width="0.4"/>
<line x1="353.3" y1="103.4" x2="354.2" y2="103.4" stroke="#333" stroke-width="0.4"/>
<line x1="353.3" y1="101.4" x2="354.2" y2="101.4" stroke="#333" stroke-width="0.4"/>
<line x1="353.3" y1="99.4" x2="354.2" y2="99.4" stroke="#333" stroke-width="0.4"/>
<line x1="353.3" y1="97.4" x2="354.2" y2="97.4" stroke="#333" stroke-width="0.4"/>
<line x1="353.3" y1="95.4" x2="354.2" y2="95.4" stroke="#333" stroke-width="0.4"/>
<line x1="353.3" y1="93.4" x2="354.2" y2="93.4" stroke="#333" stroke-width="0.4"/>
<line x1="353.3" y1="91.4" x2="354.2" y2="91.4" stroke="#333" stroke-width="0.4"/>
<line x1="353.3" y1="89.4" x2="354.2" y2="89.4" stroke="#333" stroke-width="0.4"/>
<line x1="353.3" y1="87.4" x2="354.2" y2="87.4" stroke="#333" stroke-width="0.4"/>
<line x1="353.3" y1="85.4" x2="354.2" y2="85.4" stroke="#333" stroke-width="0.4"/>
<line x1="353.3" y1="83.4" x2="354.2" y2="83.4" stroke="#333" stroke-width="0.4"/>
<line x1="353.3" y1="81.4" x2="354.2" y2="81.4" stroke="#333" stroke-width="0.4"/>
<line x1="353.3" y1="79.4" x2="354.2" y2="79.4" stroke="#333" stroke-width="0.4"/>
<line x1="353.3" y1="77.4" x2="354.2" y2="77.4" stroke="#333" stroke-width="0.4"/>
<line x1="353.3" y1="75.4" x2="354.2" y2="75.4" stroke="#333" stroke-width="0.4"/>
<line x1="353.3" y1="73.4" x2="354.2" y2="73.4" stroke="#333" stroke-width="0.4"/>
<line x1="353.3" y1="71.4" x2="354.2" y2="71.4" stroke="#333" stroke-width="0.4"/>
<line x1="353.3" y1="69.4" x2="354.2" y2="69.4" stroke="#333" stroke-width="0.4"/>
<line x1="353.3" y1="67.4" x2="354.2" y2="67.4" stroke="#333" stroke-width="0.4"/>
<line x1="353.3" y1="65.4" x2="354.2" y2="65.4" stroke="#333" stroke-width="0.4"/>
<line x1="353.3" y1="63.4" x2="354.2" y2="63.4" stroke="#333" stroke-width="0.4"/>
<line x1="353.3" y1="61.4" x2="354.2" y2="61.4" stroke="#333" stroke-width="0.4"/>
<line x1="353.3" y1="59.4" x2="354.2" y2="59.4" stroke="#333" stroke-width="0.4"/>
<line x1="353.3" y1="57.4" x2="354.2" y2="57.4" stroke="#333" stroke-width="0.4"/>
<line x1="354.2" y1="107.4" x2="354.2" y2="109.3" stroke="#222" stroke-width="0.6"/>
<text x="355.4" y="110.6" font-size="3.8" text-anchor="end" fill="#333" transform="rotate(-45 355.4 110.6)">0</text>
<line x1="363.8" y1="107.4" x2="363.8" y2="109.3" stroke="#222" stroke-width="0.6"/>
<text x="365" y="110.6" font-size="3.8" text-anchor="end" fill="#333" transform="rotate(-45 365 110.6)">50K</text>
<line x1="373.6" y1="107.4" x2="373.6" y2="109.3" stroke="#222" stroke-width="0.6"/>
<text x="374.8" y="110.6" font-size="3.8" text-anchor="end" fill="#333" transform="rotate(-45 374.8 110.6)">100K</text>
<line x1="383.4" y1="107.4" x2="383.4" y2="109.3" stroke="#222" stroke-width="0.6"/>
<text x="384.6" y="110.6" font-size="3.8" text-anchor="end" fill="#333" transform="rotate(-45 384.6 110.6)">150K</text>
<line x1="393.2" y1="107.4" x2="393.2" y2="109.3" stroke="#222" stroke-width="0.6"/>
<text x="394.4" y="110.6" font-size="3.8" text-anchor="end" fill="#333" transform="rotate(-45 394.4 110.6)">200K</text>
<line x1="403" y1="107.4" x2="403" y2="109.3" stroke="#222" stroke-width="0.6"/>
<text x="404.2" y="110.6" font-size="3.8" text-anchor="end" fill="#333" transform="rotate(-45 404.2 110.6)">250K</text>
<line x1="354.2" y1="107.4" x2="354.2" y2="108.3" stroke="#333" stroke-width="0.4"/>
<line x1="356.2" y1="107.4" x2="356.2" y2="108.3" stroke="#333" stroke-width="0.4"/>
<line x1="358.2" y1="107.4" x2="358.2" y2="108.3" stroke="#333" stroke-width="0.4"/>
<line x1="360.2" y1="107.4" x2="360.2" y2="108.3" stroke="#333" stroke-width="0.4"/>
<line x1="362.2" y1="107.4" x2="362.2" y2="108.3" stroke="#333" stroke-width="0.4"/>
<line x1="364.2" y1="107.4" x2="364.2" y2="108.3" stroke="#333" stroke-width="0.4"/>
<line x1="366.2" y1="107.4" x2="366.2" y2="108.3" stroke="#333" stroke-width="0.4"/>
<line x1="368.2" y1="107.4" x2="368.2" y2="108.3" stroke="#333" stroke-width="0.4"/>
<line x1="370.2" y1="107.4" x2="370.2" y2="108.3" stroke="#333" stroke-width="0.4"/>
<line x1="372.2" y1="107.4" x2="372.2" y2="108.3" stroke="#333" stroke-width="0.4"/>
<line x1="374.2" y1="107.4" x2="374.2" y2="108.3" stroke="#333" stroke-width="0.4"/>
<line x1="376.2" y1="107.4" x2="376.2" y2="108.3" stroke="#333" stroke-width="0.4"/>
<line x1="378.2" y1="107.4" x2="378.2" y2="108.3" stroke="#333" stroke-width="0.4"/>
<line x1="380.2" y1="107.4" x2="380.2" y2="108.3" stroke="#333" stroke-width="0.4"/>
<line x1="382.2" y1="107.4" x2="382.2" y2="108.3" stroke="#333" stroke-width="0.4"/>
<line x1="384.2" y1="107.4" x2="384.2" y2="108.3" stroke="#333" stroke-width="0.4"/>
<line x1="386.2" y1="107.4" x2="386.2" y2="108.3" stroke="#333" stroke-width="0.4"/>
<line x1="388.2" y1="107.4" x2="388.2" y2="108.3" stroke="#333" stroke-width="0.4"/>
<line x1="390.2" y1="107.4" x2="390.2" y2="108.3" stroke="#333" stroke-width="0.4"/>
<line x1="392.2" y1="107.4" x2="392.2" y2="108.3" stroke="#333" stroke-width="0.4"/>
<line x1="394.2" y1="107.4" x2="394.2" y2="108.3" stroke="#333" stroke-width="0.4"/>
<line x1="396.2" y1="107.4" x2="396.2" y2="108.3" stroke="#333" stroke-width="0.4"/>
<line x1="398.2" y1="107.4" x2="398.2" y2="108.3" stroke="#333" stroke-width="0.4"/>
<line x1="400.2" y1="107.4" x2="400.2" y2="108.3" stroke="#333" stroke-width="0.4"/>
<line x1="402.2" y1="107.4" x2="402.2" y2="108.3" stroke="#333" stroke-width="0.4"/>
<line x1="404.2" y1="107.4" x2="404.2" y2="108.3" stroke="#333" stroke-width="0.4"/>
<g filter="url(#blur1)" opacity="0.55"><ellipse cx="455" cy="86" rx="15" ry="6" fill="#b4bedc" transform="rotate(35 455 86)"/><ellipse cx="449" cy="95.6" rx="12" ry="1.6" fill="#8fa6cc"/><ellipse cx="441" cy="76" rx="3" ry="8" fill="#aab6da"/></g>
<path fill="#a5acd4" opacity="0.5" d="M427.3 65.6h.6v.6h-.6zM428.9 101.7h.6v.6h-.6zM429.4 102.5h.6v.6h-.6zM429.6 86.0h.6v.6h-.6zM430.1 74.9h.6v.6h-.6zM431.2 99.9h.6v.6h-.6zM431.6 77.6h.6v.6h-.6zM432.0 61.4h.6v.6h-.6zM432.2 87.8h.6v.6h-.6zM433.1 67.5h.6v.6h-.6zM434.6 103.3h.6v.6h-.6zM435.8 80.1h.6v.6h-.6zM436.0 94.6h.6v.6h-.6zM437.1 99.7h.6v.6h-.6zM437.5 60.6h.6v.6h-.6zM439.2 62.2h.6v.6h-.6zM439.5 92.9h.6v.6h-.6zM440.9 95.9h.6v.6h-.6zM442.2 98.8h.6v.6h-.6zM442.3 93.9h.6v.6h-.6zM443.2 76.9h.6v.6h-.6zM443.8 71.1h.6v.6h-.6zM444.2 61.2h.6v.6h-.6zM446.3 105.1h.6v.6h-.6zM446.5 94.4h.6v.6h-.6zM447.2 66.7h.6v.6h-.6zM447.5 101.3h.6v.6h-.6zM448.7 78.4h.6v.6h-.6zM448.9 87.0h.6v.6h-.6zM450.0 94.2h.6v.6h-.6zM451.8 101.1h.6v.6h-.6zM453.8 83.4h.6v.6h-.6zM454.4 61.9h.6v.6h-.6zM454.5 68.7h.6v.6h-.6zM454.8 96.8h.6v.6h-.6zM455.2 81.8h.6v.6h-.6zM455.2 102.1h.6v.6h-.6zM455.3 92.6h.6v.6h-.6zM457.5 86.1h.6v.6h-.6zM458.4 74.5h.6v.6h-.6zM460.4 97.3h.6v.6h-.6zM461.1 94.6h.6v.6h-.6zM461.8 75.7h.6v.6h-.6zM462.4 68.3h.6v.6h-.6zM462.8 102.5h.6v.6h-.6zM464.7 95.0h.6v.6h-.6zM465.7 84.0h.6v.6h-.6zM466.0 99.0h.6v.6h-.6zM466.1 100.9h.6v.6h-.6zM466.8 73.3h.6v.6h-.6zM467.2 80.5h.6v.6h-.6zM467.4 70.3h.6v.6h-.6zM468.0 68.7h.6v.6h-.6zM469.9 70.5h.6v.6h-.6zM471.3 71.9h.6v.6h-.6zM471.9 73.3h.6v.6h-.6zM472.2 102.7h.6v.6h-.6zM473.7 81.0h.6v.6h-.6zM474.1 66.8h.6v.6h-.6zM475.7 97.0h.6v.6h-.6zM450.7 103.2h.6v.6h-.6zM430.6 63.2h.6v.6h-.6zM463.3 106.8h.6v.6h-.6zM434.5 88.1h.6v.6h-.6zM442.6 65.2h.6v.6h-.6zM457.0 92.4h.6v.6h-.6zM451.2 68.3h.6v.6h-.6zM454.9 63.2h.6v.6h-.6zM464.2 93.7h.6v.6h-.6zM449.9 65.5h.6v.6h-.6zM429.5 72.2h.6v.6h-.6zM432.8 68.1h.6v.6h-.6zM470.1 105.2h.6v.6h-.6zM444.9 67.7h.6v.6h-.6zM443.9 67.6h.6v.6h-.6zM470.6 83.9h.6v.6h-.6zM468.4 104.8h.6v.6h-.6zM431.6 70.2h.6v.6h-.6zM475.1 90.2h.6v.6h-.6zM474.7 103.3h.6v.6h-.6zM467.0 104.5h.6v.6h-.6zM473.2 87.5h.6v.6h-.6zM473.0 103.7h.6v.6h-.6zM468.6 82.3h.6v.6h-.6zM462.0 103.2h.6v.6h-.6zM433.0 70.2h.6v.6h-.6zM473.8 89.2h.6v.6h-.6zM432.9 70.8h.6v.6h-.6zM449.8 82.9h.6v.6h-.6zM437.4 86.8h.6v.6h-.6zM447.5 69.3h.6v.6h-.6zM445.2 69.0h.6v.6h-.6zM442.2 91.6h.6v.6h-.6zM453.0 98.9h.6v.6h-.6zM465.1 103.1h.6v.6h-.6zM435.3 83.2h.6v.6h-.6zM460.9 77.0h.6v.6h-.6zM474.9 93.5h.6v.6h-.6zM442.5 69.5h.6v.6h-.6zM457.4 66.8h.6v.6h-.6zM434.6 80.8h.6v.6h-.6zM451.0 68.8h.6v.6h-.6zM439.6 87.8h.6v.6h-.6zM466.8 82.6h.6v.6h-.6zM435.0 71.7h.6v.6h-.6zM451.6 68.7h.6v.6h-.6zM445.6 80.8h.6v.6h-.6zM453.3 68.4h.6v.6h-.6zM474.0 95.6h.6v.6h-.6zM445.5 80.3h.6v.6h-.6zM455.4 74.6h.6v.6h-.6zM448.4 71.5h.6v.6h-.6zM461.7 91.8h.6v.6h-.6zM439.2 85.8h.6v.6h-.6zM471.4 90.2h.6v.6h-.6zM435.4 75.7h.6v.6h-.6zM463.2 100.5h.6v.6h-.6zM448.0 74.1h.6v.6h-.6zM454.7 93.2h.6v.6h-.6zM444.4 90.7h.6v.6h-.6zM455.4 97.9h.6v.6h-.6zM453.2 87.2h.6v.6h-.6zM447.1 72.3h.6v.6h-.6zM455.8 97.9h.6v.6h-.6zM469.1 87.8h.6v.6h-.6zM477.1 72.1h.6v.6h-.6zM444.7 72.1h.6v.6h-.6zM468.5 87.1h.6v.6h-.6zM454.8 87.7h.6v.6h-.6zM441.4 87.1h.6v.6h-.6zM467.9 86.6h.6v.6h-.6zM448.4 93.3h.6v.6h-.6zM444.6 74.2h.6v.6h-.6zM437.3 74.9h.6v.6h-.6zM443.3 86.4h.6v.6h-.6zM465.4 84.0h.6v.6h-.6zM441.2 72.7h.6v.6h-.6zM465.9 90.8h.6v.6h-.6zM453.8 70.9h.6v.6h-.6zM448.9 76.3h.6v.6h-.6zM469.3 97.5h.6v.6h-.6zM462.6 99.0h.6v.6h-.6zM441.2 86.0h.6v.6h-.6zM438.0 81.8h.6v.6h-.6zM450.3 94.0h.6v.6h-.6zM456.1 77.0h.6v.6h-.6zM446.3 73.2h.6v.6h-.6zM463.9 83.0h.6v.6h-.6zM449.1 76.4h.6v.6h-.6zM460.4 69.5h.6v.6h-.6zM475.8 97.0h.6v.6h-.6zM453.5 85.7h.6v.6h-.6zM476.0 89.6h.6v.6h-.6zM440.3 73.9h.6v.6h-.6zM443.4 68.9h.6v.6h-.6zM467.9 88.1h.6v.6h-.6zM438.9 75.4h.6v.6h-.6zM445.0 89.4h.6v.6h-.6zM449.1 92.8h.6v.6h-.6zM448.9 74.3h.6v.6h-.6zM444.2 88.6h.6v.6h-.6zM438.4 76.8h.6v.6h-.6zM455.6 96.4h.6v.6h-.6zM467.0 87.2h.6v.6h-.6zM449.8 79.3h.6v.6h-.6zM477.5 88.3h.6v.6h-.6zM435.0 96.4h.6v.6h-.6zM441.4 89.8h.6v.6h-.6zM466.6 97.8h.6v.6h-.6zM464.9 70.1h.6v.6h-.6zM467.3 88.1h.6v.6h-.6zM457.2 78.4h.6v.6h-.6zM450.1 75.0h.6v.6h-.6zM451.4 82.3h.6v.6h-.6zM461.2 97.9h.6v.6h-.6zM463.0 94.9h.6v.6h-.6zM447.3 90.9h.6v.6h-.6zM454.9 71.9h.6v.6h-.6zM453.1 94.7h.6v.6h-.6zM450.8 93.3h.6v.6h-.6zM440.2 82.5h.6v.6h-.6zM445.7 97.9h.6v.6h-.6zM461.5 97.7h.6v.6h-.6zM473.2 89.1h.6v.6h-.6zM459.2 97.1h.6v.6h-.6zM468.6 92.6h.6v.6h-.6zM467.5 89.5h.6v.6h-.6zM451.9 74.8h.6v.6h-.6zM441.7 74.9h.6v.6h-.6zM467.1 96.6h.6v.6h-.6zM441.0 89.6h.6v.6h-.6zM439.6 79.5h.6v.6h-.6zM467.0 96.5h.6v.6h-.6zM448.7 75.1h.6v.6h-.6zM444.8 88.2h.6v.6h-.6zM441.2 75.5h.6v.6h-.6zM466.0 96.9h.6v.6h-.6zM465.8 86.9h.6v.6h-.6zM461.2 97.2h.6v.6h-.6zM467.9 94.5h.6v.6h-.6zM448.0 75.1h.6v.6h-.6zM458.4 93.6h.6v.6h-.6zM461.0 82.1h.6v.6h-.6zM453.3 77.0h.6v.6h-.6zM461.9 97.1h.6v.6h-.6zM474.7 73.8h.6v.6h-.6zM466.5 96.0h.6v.6h-.6zM470.4 72.1h.6v.6h-.6zM463.7 96.9h.6v.6h-.6zM456.9 95.7h.6v.6h-.6zM442.8 75.6h.6v.6h-.6zM463.4 84.7h.6v.6h-.6zM440.7 80.9h.6v.6h-.6zM443.9 86.4h.6v.6h-.6zM467.5 93.7h.6v.6h-.6zM457.1 95.7h.6v.6h-.6zM460.4 81.9h.6v.6h-.6zM459.7 96.4h.6v.6h-.6zM459.0 96.1h.6v.6h-.6zM443.3 85.5h.6v.6h-.6zM445.7 75.4h.6v.6h-.6zM466.5 95.1h.6v.6h-.6zM474.8 87.5h.6v.6h-.6zM465.9 95.5h.6v.6h-.6zM468.8 72.1h.6v.6h-.6zM455.0 78.4h.6v.6h-.6zM445.3 87.6h.6v.6h-.6zM442.2 76.6h.6v.6h-.6zM442.6 84.2h.6v.6h-.6zM453.7 82.3h.6v.6h-.6zM451.8 92.8h.6v.6h-.6zM460.2 82.1h.6v.6h-.6zM461.3 96.3h.6v.6h-.6zM463.2 96.2h.6v.6h-.6zM453.7 77.9h.6v.6h-.6zM441.5 81.3h.6v.6h-.6zM441.2 79.7h.6v.6h-.6zM461.5 96.1h.6v.6h-.6zM466.1 94.6h.6v.6h-.6zM456.1 79.3h.6v.6h-.6zM461.8 96.1h.6v.6h-.6zM464.6 95.6h.6v.6h-.6zM466.1 94.4h.6v.6h-.6zM472.4 73.6h.6v.6h-.6zM442.7 83.7h.6v.6h-.6zM458.4 95.5h.6v.6h-.6zM456.8 73.2h.6v.6h-.6zM441.4 79.6h.6v.6h-.6zM453.3 93.4h.6v.6h-.6zM452.9 79.6h.6v.6h-.6zM475.1 94.6h.6v.6h-.6zM466.2 88.1h.6v.6h-.6zM435.8 96.3h.6v.6h-.6zM437.8 75.7h.6v.6h-.6zM448.6 76.3h.6v.6h-.6zM439.2 87.1h.6v.6h-.6zM464.2 71.9h.6v.6h-.6zM460.6 82.8h.6v.6h-.6zM453.2 93.2h.6v.6h-.6zM451.0 91.9h.6v.6h-.6zM462.7 95.7h.6v.6h-.6zM453.2 79.1h.6v.6h-.6zM472.4 73.9h.6v.6h-.6zM450.8 97.8h.6v.6h-.6zM445.9 97.8h.6v.6h-.6zM456.6 84.3h.6v.6h-.6zM443.7 84.8h.6v.6h-.6zM452.7 92.8h.6v.6h-.6zM453.4 79.8h.6v.6h-.6zM441.9 79.4h.6v.6h-.6zM443.3 77.1h.6v.6h-.6zM447.8 76.5h.6v.6h-.6zM466.0 90.9h.6v.6h-.6zM450.0 91.0h.6v.6h-.6zM456.1 94.4h.6v.6h-.6zM467.0 87.8h.6v.6h-.6zM443.5 84.3h.6v.6h-.6zM459.0 81.9h.6v.6h-.6zM443.6 77.1h.6v.6h-.6zM456.5 74.0h.6v.6h-.6zM443.6 84.6h.6v.6h-.6zM451.9 77.8h.6v.6h-.6zM465.8 91.7h.6v.6h-.6zM453.8 79.6h.6v.6h-.6zM475.5 76.4h.6v.6h-.6zM454.6 93.5h.6v.6h-.6zM450.6 91.1h.6v.6h-.6zM461.2 86.3h.6v.6h-.6zM442.7 81.7h.6v.6h-.6zM462.2 95.1h.6v.6h-.6zM438.1 82.4h.6v.6h-.6zM446.2 87.2h.6v.6h-.6zM455.1 75.7h.6v.6h-.6zM468.0 92.4h.6v.6h-.6zM474.6 76.0h.6v.6h-.6zM452.9 92.3h.6v.6h-.6zM445.8 77.1h.6v.6h-.6zM459.8 85.4h.6v.6h-.6zM439.0 82.3h.6v.6h-.6zM443.5 83.0h.6v.6h-.6zM442.9 80.0h.6v.6h-.6zM456.9 80.9h.6v.6h-.6zM443.9 78.2h.6v.6h-.6zM460.2 94.7h.6v.6h-.6zM456.9 94.0h.6v.6h-.6zM456.7 80.8h.6v.6h-.6zM460.5 83.9h.6v.6h-.6zM445.4 85.9h.6v.6h-.6zM444.0 75.0h.6v.6h-.6zM443.5 78.8h.6v.6h-.6zM473.7 85.9h.6v.6h-.6zM458.2 94.2h.6v.6h-.6zM476.3 78.4h.6v.6h-.6zM446.7 87.2h.6v.6h-.6zM475.0 76.9h.6v.6h-.6zM461.8 94.4h.6v.6h-.6zM454.1 79.5h.6v.6h-.6zM461.1 96.5h.6v.6h-.6zM464.2 92.9h.6v.6h-.6zM446.5 67.7h.6v.6h-.6zM459.4 94.3h.6v.6h-.6zM465.0 73.2h.6v.6h-.6zM453.4 92.2h.6v.6h-.6zM464.5 91.4h.6v.6h-.6zM444.2 78.8h.6v.6h-.6zM444.0 76.0h.6v.6h-.6zM460.1 84.0h.6v.6h-.6zM462.9 87.4h.6v.6h-.6zM453.3 79.4h.6v.6h-.6zM448.9 88.8h.6v.6h-.6zM462.1 93.8h.6v.6h-.6zM450.3 78.4h.6v.6h-.6zM449.8 89.5h.6v.6h-.6zM464.0 90.2h.6v.6h-.6zM460.6 84.7h.6v.6h-.6zM464.3 86.2h.6v.6h-.6zM449.6 89.3h.6v.6h-.6zM457.4 96.5h.6v.6h-.6zM447.3 87.2h.6v.6h-.6zM444.0 80.8h.6v.6h-.6zM447.2 87.0h.6v.6h-.6zM447.4 87.2h.6v.6h-.6zM458.3 93.7h.6v.6h-.6zM444.6 79.3h.6v.6h-.6zM445.7 78.5h.6v.6h-.6zM455.9 81.0h.6v.6h-.6zM475.7 83.2h.6v.6h-.6zM460.0 84.3h.6v.6h-.6zM451.0 78.8h.6v.6h-.6zM461.2 96.4h.6v.6h-.6zM469.0 74.4h.6v.6h-.6zM460.7 85.1h.6v.6h-.6zM456.0 81.2h.6v.6h-.6zM444.8 79.6h.6v.6h-.6zM436.2 95.2h.6v.6h-.6zM463.2 73.8h.6v.6h-.6zM449.2 68.9h.6v.6h-.6zM459.0 83.5h.6v.6h-.6zM456.1 79.4h.6v.6h-.6zM448.8 88.3h.6v.6h-.6zM445.1 79.4h.6v.6h-.6zM447.2 78.5h.6v.6h-.6zM453.9 91.7h.6v.6h-.6zM458.9 83.5h.6v.6h-.6zM475.2 78.9h.6v.6h-.6zM451.9 90.6h.6v.6h-.6zM450.1 89.2h.6v.6h-.6zM447.7 87.1h.6v.6h-.6zM453.8 80.2h.6v.6h-.6zM445.8 84.5h.6v.6h-.6zM457.3 76.4h.6v.6h-.6zM447.5 78.7h.6v.6h-.6zM456.8 82.0h.6v.6h-.6zM462.7 92.1h.6v.6h-.6zM458.4 93.1h.6v.6h-.6zM446.0 79.3h.6v.6h-.6zM461.5 74.3h.6v.6h-.6zM448.7 81.4h.6v.6h-.6zM450.6 89.5h.6v.6h-.6zM445.2 80.2h.6v.6h-.6zM451.7 90.2h.6v.6h-.6zM445.3 80.4h.6v.6h-.6zM458.5 97.5h.6v.6h-.6zM449.3 88.2h.6v.6h-.6zM455.7 93.8h.6v.6h-.6zM449.1 88.0h.6v.6h-.6zM445.3 81.5h.6v.6h-.6zM463.9 74.3h.6v.6h-.6zM457.5 92.7h.6v.6h-.6zM455.1 81.3h.6v.6h-.6zM460.0 98.2h.6v.6h-.6zM446.8 85.3h.6v.6h-.6zM461.7 84.4h.6v.6h-.6zM463.1 74.4h.6v.6h-.6zM457.0 78.6h.6v.6h-.6zM462.0 92.0h.6v.6h-.6zM462.5 89.5h.6v.6h-.6zM451.9 90.1h.6v.6h-.6zM467.6 85.6h.6v.6h-.6zM467.6 74.8h.6v.6h-.6zM455.8 81.8h.6v.6h-.6zM448.5 87.2h.6v.6h-.6zM460.4 92.6h.6v.6h-.6zM454.9 91.6h.6v.6h-.6zM446.7 79.7h.6v.6h-.6zM446.4 80.0h.6v.6h-.6zM458.0 83.5h.6v.6h-.6zM450.8 89.1h.6v.6h-.6zM448.2 86.7h.6v.6h-.6zM458.4 76.7h.6v.6h-.6zM472.6 77.3h.6v.6h-.6zM460.6 92.3h.6v.6h-.6zM456.7 82.7h.6v.6h-.6zM446.1 83.0h.6v.6h-.6zM459.2 76.2h.6v.6h-.6zM446.5 83.9h.6v.6h-.6zM463.3 74.9h.6v.6h-.6zM457.5 95.7h.6v.6h-.6zM461.7 91.1h.6v.6h-.6zM451.1 80.0h.6v.6h-.6zM450.9 88.9h.6v.6h-.6zM452.1 89.8h.6v.6h-.6zM474.0 82.0h.6v.6h-.6zM458.7 76.9h.6v.6h-.6zM447.1 80.3h.6v.6h-.6zM446.2 82.0h.6v.6h-.6zM461.7 90.2h.6v.6h-.6zM439.0 76.6h.6v.6h-.6zM446.6 83.2h.6v.6h-.6zM448.5 86.4h.6v.6h-.6zM449.4 87.4h.6v.6h-.6zM449.5 87.4h.6v.6h-.6zM447.4 80.5h.6v.6h-.6zM448.6 86.4h.6v.6h-.6zM450.9 88.6h.6v.6h-.6zM452.7 89.9h.6v.6h-.6zM449.3 80.1h.6v.6h-.6zM449.6 87.4h.6v.6h-.6zM458.5 80.3h.6v.6h-.6zM470.3 98.7h.6v.6h-.6zM448.2 85.9h.6v.6h-.6zM458.9 91.9h.6v.6h-.6zM446.7 82.1h.6v.6h-.6zM446.8 81.6h.6v.6h-.6zM454.4 81.7h.6v.6h-.6zM443.5 82.4h.6v.6h-.6zM458.5 79.1h.6v.6h-.6zM459.3 85.7h.6v.6h-.6zM457.8 91.6h.6v.6h-.6zM460.5 87.4h.6v.6h-.6zM448.8 86.3h.6v.6h-.6zM452.0 80.8h.6v.6h-.6zM449.3 80.4h.6v.6h-.6zM465.0 84.3h.6v.6h-.6zM448.3 80.6h.6v.6h-.6zM452.7 81.1h.6v.6h-.6zM463.6 83.9h.6v.6h-.6zM459.2 77.7h.6v.6h-.6zM453.6 90.0h.6v.6h-.6zM448.1 80.8h.6v.6h-.6zM459.6 91.3h.6v.6h-.6zM460.3 90.8h.6v.6h-.6zM467.1 84.4h.6v.6h-.6zM459.0 91.4h.6v.6h-.6zM460.0 87.1h.6v.6h-.6zM447.3 83.4h.6v.6h-.6zM452.3 93.6h.6v.6h-.6zM457.8 84.5h.6v.6h-.6zM450.2 87.4h.6v.6h-.6zM470.8 83.6h.6v.6h-.6zM444.8 84.5h.6v.6h-.6zM459.4 80.4h.6v.6h-.6zM448.4 81.1h.6v.6h-.6zM459.5 78.2h.6v.6h-.6zM459.9 90.6h.6v.6h-.6zM457.7 97.0h.6v.6h-.6zM455.3 82.8h.6v.6h-.6zM460.1 87.9h.6v.6h-.6zM459.1 86.3h.6v.6h-.6zM464.4 83.7h.6v.6h-.6zM456.1 83.4h.6v.6h-.6zM466.6 84.1h.6v.6h-.6zM448.4 84.9h.6v.6h-.6zM458.4 85.4h.6v.6h-.6zM448.7 85.4h.6v.6h-.6zM470.5 98.6h.6v.6h-.6zM436.7 95.8h.6v.6h-.6zM448.0 82.0h.6v.6h-.6zM457.0 90.8h.6v.6h-.6zM473.8 97.3h.6v.6h-.6zM461.7 82.4h.6v.6h-.6zM437.5 94.9h.6v.6h-.6zM462.6 82.9h.6v.6h-.6zM457.4 97.1h.6v.6h-.6zM459.6 90.2h.6v.6h-.6zM448.5 68.9h.6v.6h-.6z"/>
<path fill="#91a0d0" opacity="0.5" d="M448.1 83.2h.6v.6h-.6zM465.8 83.8h.6v.6h-.6zM456.2 83.8h.6v.6h-.6zM441.2 97.1h.6v.6h-.6zM456.5 90.5h.6v.6h-.6zM454.1 82.5h.6v.6h-.6zM449.6 81.5h.6v.6h-.6zM448.6 82.0h.6v.6h-.6zM459.8 89.2h.6v.6h-.6zM464.1 83.3h.6v.6h-.6zM457.5 85.0h.6v.6h-.6zM452.7 81.9h.6v.6h-.6zM448.6 84.4h.6v.6h-.6zM448.6 82.4h.6v.6h-.6zM441.3 71.5h.6v.6h-.6zM451.0 87.3h.6v.6h-.6zM452.5 82.0h.6v.6h-.6zM460.9 77.9h.6v.6h-.6zM447.4 82.5h.6v.6h-.6zM438.1 94.7h.6v.6h-.6zM455.6 89.9h.6v.6h-.6zM458.8 87.0h.6v.6h-.6zM457.0 90.2h.6v.6h-.6zM459.2 88.9h.6v.6h-.6zM457.0 84.9h.6v.6h-.6zM440.2 69.3h.6v.6h-.6zM454.1 89.2h.6v.6h-.6zM469.7 78.1h.6v.6h-.6zM465.2 83.1h.6v.6h-.6zM449.2 82.6h.6v.6h-.6zM440.8 87.1h.6v.6h-.6zM449.5 85.0h.6v.6h-.6zM462.7 82.1h.6v.6h-.6zM452.5 82.3h.6v.6h-.6zM455.5 83.9h.6v.6h-.6zM458.8 89.1h.6v.6h-.6zM453.1 82.6h.6v.6h-.6zM451.4 82.1h.6v.6h-.6zM453.0 82.6h.6v.6h-.6zM450.7 82.2h.6v.6h-.6zM451.8 87.5h.6v.6h-.6zM449.4 84.2h.6v.6h-.6zM457.9 86.4h.6v.6h-.6zM451.8 82.4h.6v.6h-.6zM462.3 77.6h.6v.6h-.6zM458.5 87.8h.6v.6h-.6zM466.9 77.3h.6v.6h-.6zM452.8 82.7h.6v.6h-.6zM457.6 86.2h.6v.6h-.6zM447.1 82.8h.6v.6h-.6zM455.1 84.0h.6v.6h-.6zM454.6 88.9h.6v.6h-.6zM450.6 85.5h.6v.6h-.6zM464.8 82.2h.6v.6h-.6zM462.1 80.0h.6v.6h-.6zM451.1 83.1h.6v.6h-.6zM450.5 83.5h.6v.6h-.6zM457.7 87.5h.6v.6h-.6zM469.8 80.3h.6v.6h-.6zM456.8 88.8h.6v.6h-.6zM451.6 86.5h.6v.6h-.6zM452.1 83.3h.6v.6h-.6zM465.7 82.1h.6v.6h-.6zM463.3 80.9h.6v.6h-.6zM450.9 84.9h.6v.6h-.6zM449.5 79.2h.6v.6h-.6zM451.4 85.6h.6v.6h-.6zM450.5 73.0h.6v.6h-.6zM456.3 88.2h.6v.6h-.6zM463.3 80.4h.6v.6h-.6zM452.3 83.8h.6v.6h-.6zM465.7 78.4h.6v.6h-.6zM451.8 84.3h.6v.6h-.6zM452.3 84.1h.6v.6h-.6zM463.6 79.7h.6v.6h-.6zM465.3 81.3h.6v.6h-.6zM455.2 87.7h.6v.6h-.6zM454.6 85.0h.6v.6h-.6zM468.1 79.6h.6v.6h-.6zM452.7 84.3h.6v.6h-.6zM437.2 95.6h.6v.6h-.6zM455.5 86.0h.6v.6h-.6zM455.7 86.5h.6v.6h-.6zM442.6 71.1h.6v.6h-.6zM454.3 86.9h.6v.6h-.6zM438.4 77.6h.6v.6h-.6zM453.4 85.8h.6v.6h-.6zM465.5 92.7h.6v.6h-.6zM446.4 68.6h.6v.6h-.6zM440.1 69.9h.6v.6h-.6zM439.2 76.9h.6v.6h-.6zM441.2 83.8h.6v.6h-.6zM460.2 96.2h.6v.6h-.6zM450.3 76.1h.6v.6h-.6zM449.4 70.4h.6v.6h-.6zM440.9 72.7h.6v.6h-.6zM447.8 81.6h.6v.6h-.6zM457.8 94.4h.6v.6h-.6zM440.8 86.3h.6v.6h-.6zM460.3 95.4h.6v.6h-.6zM439.4 80.3h.6v.6h-.6zM464.4 98.8h.6v.6h-.6zM438.5 94.9h.6v.6h-.6zM467.1 98.8h.6v.6h-.6zM439.6 75.9h.6v.6h-.6zM460.2 93.8h.6v.6h-.6zM443.2 81.2h.6v.6h-.6zM438.3 95.1h.6v.6h-.6zM437.9 95.5h.6v.6h-.6zM443.4 78.6h.6v.6h-.6zM440.4 70.4h.6v.6h-.6zM441.8 97.0h.6v.6h-.6zM457.9 94.6h.6v.6h-.6zM445.2 97.3h.6v.6h-.6zM461.4 98.2h.6v.6h-.6zM451.7 97.3h.6v.6h-.6zM441.1 96.8h.6v.6h-.6zM440.6 94.5h.6v.6h-.6zM444.3 94.0h.6v.6h-.6zM461.8 98.2h.6v.6h-.6zM446.4 69.0h.6v.6h-.6zM439.4 78.9h.6v.6h-.6zM441.8 96.9h.6v.6h-.6zM469.3 98.5h.6v.6h-.6zM459.6 95.9h.6v.6h-.6zM449.3 78.7h.6v.6h-.6zM455.3 97.0h.6v.6h-.6zM466.8 92.9h.6v.6h-.6zM438.8 79.1h.6v.6h-.6zM441.2 96.8h.6v.6h-.6zM441.1 70.6h.6v.6h-.6zM465.6 98.7h.6v.6h-.6zM445.8 83.1h.6v.6h-.6zM439.7 76.8h.6v.6h-.6zM443.0 80.9h.6v.6h-.6zM455.4 97.0h.6v.6h-.6zM441.0 82.9h.6v.6h-.6zM439.8 76.2h.6v.6h-.6zM445.7 69.2h.6v.6h-.6zM438.6 95.8h.6v.6h-.6zM469.7 98.4h.6v.6h-.6zM439.8 94.8h.6v.6h-.6zM458.2 96.4h.6v.6h-.6zM448.4 70.0h.6v.6h-.6zM441.6 96.8h.6v.6h-.6zM448.9 79.2h.6v.6h-.6zM459.5 97.1h.6v.6h-.6zM441.7 83.3h.6v.6h-.6zM449.8 93.9h.6v.6h-.6zM442.4 83.6h.6v.6h-.6zM440.4 71.2h.6v.6h-.6zM443.1 78.1h.6v.6h-.6zM458.9 95.2h.6v.6h-.6zM446.2 94.0h.6v.6h-.6zM440.5 74.4h.6v.6h-.6zM442.9 80.2h.6v.6h-.6zM442.0 83.7h.6v.6h-.6zM462.0 98.1h.6v.6h-.6zM461.0 97.7h.6v.6h-.6zM473.2 96.5h.6v.6h-.6zM442.5 82.2h.6v.6h-.6zM458.6 96.0h.6v.6h-.6zM466.5 98.5h.6v.6h-.6zM446.3 82.3h.6v.6h-.6zM442.9 78.5h.6v.6h-.6zM458.1 96.2h.6v.6h-.6zM441.6 82.8h.6v.6h-.6zM458.7 95.7h.6v.6h-.6zM441.2 84.2h.6v.6h-.6zM442.4 94.5h.6v.6h-.6zM471.9 97.4h.6v.6h-.6zM457.2 94.8h.6v.6h-.6zM442.7 75.6h.6v.6h-.6zM440.1 83.4h.6v.6h-.6zM439.4 75.3h.6v.6h-.6zM459.2 95.5h.6v.6h-.6zM451.4 97.1h.6v.6h-.6zM444.3 94.3h.6v.6h-.6zM445.1 97.0h.6v.6h-.6zM469.6 98.1h.6v.6h-.6zM440.0 95.2h.6v.6h-.6zM451.6 97.1h.6v.6h-.6zM440.3 72.7h.6v.6h-.6zM447.4 97.1h.6v.6h-.6zM455.7 94.5h.6v.6h-.6zM445.2 97.0h.6v.6h-.6zM460.3 94.4h.6v.6h-.6zM442.0 82.6h.6v.6h-.6zM442.1 82.3h.6v.6h-.6zM441.4 96.5h.6v.6h-.6zM443.8 96.9h.6v.6h-.6zM447.6 70.2h.6v.6h-.6zM457.7 96.1h.6v.6h-.6zM439.7 81.8h.6v.6h-.6zM456.2 94.6h.6v.6h-.6zM442.6 79.8h.6v.6h-.6zM447.1 70.0h.6v.6h-.6zM449.3 76.7h.6v.6h-.6zM453.7 96.9h.6v.6h-.6zM447.1 94.1h.6v.6h-.6zM456.5 94.8h.6v.6h-.6zM441.7 73.1h.6v.6h-.6zM458.0 95.6h.6v.6h-.6zM463.4 98.2h.6v.6h-.6zM442.3 74.7h.6v.6h-.6zM440.7 83.2h.6v.6h-.6zM446.5 97.0h.6v.6h-.6zM449.4 76.1h.6v.6h-.6zM442.5 76.4h.6v.6h-.6zM447.9 97.0h.6v.6h-.6zM442.2 81.2h.6v.6h-.6zM441.1 72.8h.6v.6h-.6zM447.2 94.2h.6v.6h-.6zM446.0 97.0h.6v.6h-.6zM446.3 94.2h.6v.6h-.6zM448.9 97.1h.6v.6h-.6zM440.8 72.9h.6v.6h-.6z"/>
<path fill="#7e94cd" opacity="0.5" d="M444.6 96.8h.6v.6h-.6zM457.3 95.1h.6v.6h-.6zM447.1 70.3h.6v.6h-.6zM442.4 96.5h.6v.6h-.6zM463.4 93.5h.6v.6h-.6zM455.4 96.6h.6v.6h-.6zM456.7 96.2h.6v.6h-.6zM439.6 78.5h.6v.6h-.6zM446.8 97.0h.6v.6h-.6zM448.8 78.0h.6v.6h-.6zM442.9 71.7h.6v.6h-.6zM440.9 73.3h.6v.6h-.6zM440.3 78.9h.6v.6h-.6zM442.6 96.5h.6v.6h-.6zM453.4 94.4h.6v.6h-.6zM443.9 94.5h.6v.6h-.6zM472.7 96.1h.6v.6h-.6zM440.2 74.2h.6v.6h-.6zM463.7 98.1h.6v.6h-.6zM440.4 82.0h.6v.6h-.6zM443.2 96.6h.6v.6h-.6zM442.5 72.2h.6v.6h-.6zM445.2 70.4h.6v.6h-.6zM439.7 77.4h.6v.6h-.6zM467.6 98.2h.6v.6h-.6zM441.1 95.1h.6v.6h-.6zM445.1 94.4h.6v.6h-.6zM444.9 94.4h.6v.6h-.6zM442.3 78.5h.6v.6h-.6zM441.9 81.1h.6v.6h-.6zM441.8 74.5h.6v.6h-.6zM441.1 73.7h.6v.6h-.6zM439.8 76.8h.6v.6h-.6zM443.9 71.0h.6v.6h-.6zM442.3 77.8h.6v.6h-.6zM440.4 76.9h.6v.6h-.6zM460.1 96.6h.6v.6h-.6zM456.4 95.0h.6v.6h-.6zM442.0 80.8h.6v.6h-.6zM448.5 78.4h.6v.6h-.6zM442.8 96.5h.6v.6h-.6zM460.7 97.0h.6v.6h-.6zM449.0 76.7h.6v.6h-.6zM445.1 82.2h.6v.6h-.6zM441.0 95.9h.6v.6h-.6zM450.5 94.3h.6v.6h-.6zM442.1 76.2h.6v.6h-.6zM442.1 79.7h.6v.6h-.6zM440.9 95.6h.6v.6h-.6zM453.9 96.7h.6v.6h-.6zM439.8 78.6h.6v.6h-.6zM444.7 96.7h.6v.6h-.6zM441.3 95.2h.6v.6h-.6zM447.3 94.3h.6v.6h-.6zM441.3 74.4h.6v.6h-.6zM442.7 96.4h.6v.6h-.6zM442.2 77.9h.6v.6h-.6zM441.4 81.5h.6v.6h-.6zM441.8 81.9h.6v.6h-.6zM440.3 75.0h.6v.6h-.6zM465.7 98.2h.6v.6h-.6zM441.9 75.8h.6v.6h-.6zM441.3 74.5h.6v.6h-.6zM440.8 75.8h.6v.6h-.6zM443.6 96.5h.6v.6h-.6zM441.5 74.9h.6v.6h-.6zM443.2 94.7h.6v.6h-.6zM441.4 74.7h.6v.6h-.6zM443.3 94.7h.6v.6h-.6zM455.2 94.8h.6v.6h-.6zM440.0 77.8h.6v.6h-.6zM455.7 95.0h.6v.6h-.6zM441.8 76.1h.6v.6h-.6zM445.7 94.5h.6v.6h-.6zM441.9 77.1h.6v.6h-.6zM448.7 94.3h.6v.6h-.6zM461.8 97.4h.6v.6h-.6zM453.5 96.6h.6v.6h-.6zM443.9 94.7h.6v.6h-.6zM460.3 96.3h.6v.6h-.6zM447.2 96.8h.6v.6h-.6zM449.9 94.4h.6v.6h-.6zM446.5 81.0h.6v.6h-.6zM442.0 95.1h.6v.6h-.6zM445.0 94.5h.6v.6h-.6zM440.6 77.8h.6v.6h-.6zM471.8 96.7h.6v.6h-.6zM455.6 96.2h.6v.6h-.6zM455.2 94.9h.6v.6h-.6zM449.4 96.8h.6v.6h-.6zM461.6 97.3h.6v.6h-.6zM441.7 79.6h.6v.6h-.6zM440.4 75.9h.6v.6h-.6zM456.0 95.2h.6v.6h-.6zM441.7 95.4h.6v.6h-.6zM446.1 81.3h.6v.6h-.6zM446.4 70.8h.6v.6h-.6zM454.4 94.8h.6v.6h-.6zM445.2 94.6h.6v.6h-.6zM440.7 79.1h.6v.6h-.6zM443.1 96.3h.6v.6h-.6zM441.7 77.5h.6v.6h-.6zM441.8 78.0h.6v.6h-.6zM440.3 77.7h.6v.6h-.6zM465.2 93.6h.6v.6h-.6zM445.3 96.6h.6v.6h-.6zM453.1 96.6h.6v.6h-.6zM469.7 94.0h.6v.6h-.6zM440.8 76.5h.6v.6h-.6zM445.0 96.6h.6v.6h-.6zM441.7 95.6h.6v.6h-.6zM454.7 94.9h.6v.6h-.6zM445.3 70.9h.6v.6h-.6zM461.6 94.4h.6v.6h-.6zM446.5 70.9h.6v.6h-.6zM441.6 77.1h.6v.6h-.6zM443.7 94.8h.6v.6h-.6zM440.8 76.0h.6v.6h-.6zM443.4 82.2h.6v.6h-.6zM462.1 94.2h.6v.6h-.6zM445.9 81.3h.6v.6h-.6zM453.0 96.6h.6v.6h-.6zM442.3 95.2h.6v.6h-.6zM444.6 71.1h.6v.6h-.6zM472.0 95.7h.6v.6h-.6zM445.1 96.6h.6v.6h-.6zM442.3 95.2h.6v.6h-.6zM472.0 95.5h.6v.6h-.6zM446.7 94.5h.6v.6h-.6zM455.0 96.2h.6v.6h-.6zM441.4 78.5h.6v.6h-.6zM440.8 79.3h.6v.6h-.6zM441.3 77.1h.6v.6h-.6zM442.3 95.4h.6v.6h-.6zM455.9 95.7h.6v.6h-.6zM446.8 80.4h.6v.6h-.6zM461.2 96.9h.6v.6h-.6zM445.0 96.5h.6v.6h-.6zM440.8 77.6h.6v.6h-.6zM470.7 94.5h.6v.6h-.6zM442.2 95.4h.6v.6h-.6zM455.2 95.1h.6v.6h-.6zM442.2 73.5h.6v.6h-.6zM451.4 94.6h.6v.6h-.6zM465.6 93.6h.6v.6h-.6zM451.5 96.6h.6v.6h-.6zM448.0 94.5h.6v.6h-.6zM441.3 75.4h.6v.6h-.6zM442.3 95.5h.6v.6h-.6zM444.1 71.6h.6v.6h-.6z"/>
<path fill="#6a89ca" opacity="0.85" d="M454.1 94.9h.6v.6h-.6zM446.7 96.6h.6v.6h-.6zM463.8 97.7h.6v.6h-.6zM444.6 81.7h.6v.6h-.6zM445.8 81.1h.6v.6h-.6zM445.3 94.7h.6v.6h-.6zM454.2 96.2h.6v.6h-.6zM448.3 96.7h.6v.6h-.6zM448.7 96.7h.6v.6h-.6zM451.8 96.6h.6v.6h-.6zM443.2 96.1h.6v.6h-.6zM455.2 95.3h.6v.6h-.6zM460.9 95.1h.6v.6h-.6zM442.6 95.6h.6v.6h-.6zM447.8 96.6h.6v.6h-.6zM444.9 96.4h.6v.6h-.6zM455.1 95.9h.6v.6h-.6zM452.8 94.8h.6v.6h-.6zM442.7 81.6h.6v.6h-.6zM464.2 97.8h.6v.6h-.6zM448.7 94.6h.6v.6h-.6zM442.9 95.8h.6v.6h-.6zM449.3 96.6h.6v.6h-.6zM451.0 96.6h.6v.6h-.6zM445.4 94.8h.6v.6h-.6zM446.0 71.2h.6v.6h-.6zM451.7 94.7h.6v.6h-.6zM448.8 94.6h.6v.6h-.6zM446.1 71.3h.6v.6h-.6zM442.8 95.7h.6v.6h-.6zM466.5 97.9h.6v.6h-.6zM470.4 97.1h.6v.6h-.6zM446.1 80.7h.6v.6h-.6zM454.7 96.0h.6v.6h-.6zM447.2 79.5h.6v.6h-.6zM446.5 96.5h.6v.6h-.6zM447.9 78.3h.6v.6h-.6zM470.6 94.6h.6v.6h-.6zM448.6 94.6h.6v.6h-.6zM454.9 95.4h.6v.6h-.6zM450.1 94.6h.6v.6h-.6zM468.0 97.7h.6v.6h-.6zM451.0 96.5h.6v.6h-.6zM444.1 95.0h.6v.6h-.6zM447.9 94.6h.6v.6h-.6zM454.1 95.1h.6v.6h-.6zM451.7 94.7h.6v.6h-.6zM453.7 96.2h.6v.6h-.6zM443.7 95.2h.6v.6h-.6zM443.3 95.3h.6v.6h-.6zM460.9 95.6h.6v.6h-.6zM441.2 78.9h.6v.6h-.6zM461.0 95.5h.6v.6h-.6zM471.4 96.1h.6v.6h-.6zM447.7 78.3h.6v.6h-.6zM454.8 95.6h.6v.6h-.6zM452.4 94.8h.6v.6h-.6zM445.4 71.5h.6v.6h-.6zM460.9 95.8h.6v.6h-.6zM466.9 93.8h.6v.6h-.6zM448.2 76.9h.6v.6h-.6zM453.5 95.0h.6v.6h-.6zM450.5 96.5h.6v.6h-.6zM444.0 95.2h.6v.6h-.6zM451.6 94.8h.6v.6h-.6zM447.8 96.5h.6v.6h-.6zM448.2 77.0h.6v.6h-.6zM448.3 96.5h.6v.6h-.6zM444.8 96.2h.6v.6h-.6zM448.3 74.0h.6v.6h-.6zM471.2 96.4h.6v.6h-.6zM454.1 96.0h.6v.6h-.6zM442.1 74.4h.6v.6h-.6zM451.9 94.8h.6v.6h-.6zM470.9 95.0h.6v.6h-.6zM462.6 94.4h.6v.6h-.6zM447.4 72.2h.6v.6h-.6zM446.5 71.7h.6v.6h-.6zM443.9 81.4h.6v.6h-.6zM445.8 96.3h.6v.6h-.6zM441.6 75.8h.6v.6h-.6zM441.4 76.6h.6v.6h-.6zM447.0 79.4h.6v.6h-.6zM441.7 75.4h.6v.6h-.6zM448.5 96.5h.6v.6h-.6zM464.4 97.6h.6v.6h-.6zM466.3 97.7h.6v.6h-.6zM453.3 95.1h.6v.6h-.6zM449.1 94.7h.6v.6h-.6zM444.0 72.2h.6v.6h-.6zM444.7 71.8h.6v.6h-.6zM451.8 96.3h.6v.6h-.6zM447.2 94.8h.6v.6h-.6zM466.6 93.9h.6v.6h-.6zM447.0 72.0h.6v.6h-.6zM448.2 76.3h.6v.6h-.6zM448.7 94.8h.6v.6h-.6zM448.9 94.8h.6v.6h-.6zM453.2 95.1h.6v.6h-.6zM447.3 78.6h.6v.6h-.6zM453.6 95.3h.6v.6h-.6zM446.7 96.3h.6v.6h-.6zM448.0 73.5h.6v.6h-.6zM449.6 96.4h.6v.6h-.6zM448.0 94.8h.6v.6h-.6zM451.6 94.9h.6v.6h-.6zM442.1 80.4h.6v.6h-.6zM447.4 72.5h.6v.6h-.6zM461.4 95.3h.6v.6h-.6zM444.9 95.2h.6v.6h-.6zM448.2 75.2h.6v.6h-.6zM451.5 96.3h.6v.6h-.6zM453.3 96.0h.6v.6h-.6zM462.1 96.8h.6v.6h-.6zM453.9 95.6h.6v.6h-.6zM470.2 96.9h.6v.6h-.6zM444.9 96.0h.6v.6h-.6zM441.4 78.3h.6v.6h-.6zM470.6 95.0h.6v.6h-.6zM445.2 95.1h.6v.6h-.6zM448.2 75.7h.6v.6h-.6zM453.5 95.9h.6v.6h-.6zM449.9 96.4h.6v.6h-.6zM449.8 96.4h.6v.6h-.6zM444.7 95.3h.6v.6h-.6zM453.7 95.5h.6v.6h-.6zM452.9 95.2h.6v.6h-.6zM453.7 95.6h.6v.6h-.6zM468.6 94.2h.6v.6h-.6zM447.2 78.7h.6v.6h-.6zM443.4 73.0h.6v.6h-.6zM450.2 96.3h.6v.6h-.6zM444.4 95.6h.6v.6h-.6z"/>
<path fill="#5988c3" opacity="0.85" d="M453.1 95.9h.6v.6h-.6zM462.5 94.6h.6v.6h-.6zM449.2 94.9h.6v.6h-.6zM444.8 95.9h.6v.6h-.6zM447.1 72.4h.6v.6h-.6zM444.7 95.4h.6v.6h-.6zM468.5 97.4h.6v.6h-.6zM441.6 79.0h.6v.6h-.6zM449.6 94.9h.6v.6h-.6zM447.3 94.9h.6v.6h-.6zM444.7 95.4h.6v.6h-.6zM444.0 72.6h.6v.6h-.6zM462.0 95.0h.6v.6h-.6zM444.2 81.0h.6v.6h-.6zM444.9 95.3h.6v.6h-.6zM469.0 97.3h.6v.6h-.6zM451.1 95.0h.6v.6h-.6zM453.3 95.5h.6v.6h-.6zM468.9 94.3h.6v.6h-.6zM452.3 96.1h.6v.6h-.6zM448.0 94.9h.6v.6h-.6zM470.2 96.8h.6v.6h-.6zM448.3 96.3h.6v.6h-.6zM453.0 95.3h.6v.6h-.6zM465.4 97.6h.6v.6h-.6zM465.9 97.6h.6v.6h-.6zM443.4 73.1h.6v.6h-.6zM449.9 96.3h.6v.6h-.6zM447.0 95.0h.6v.6h-.6zM447.4 95.0h.6v.6h-.6zM465.3 94.1h.6v.6h-.6zM446.1 80.0h.6v.6h-.6zM446.8 96.2h.6v.6h-.6zM461.9 96.5h.6v.6h-.6zM441.6 76.9h.6v.6h-.6zM447.5 73.2h.6v.6h-.6zM469.6 94.6h.6v.6h-.6zM450.8 96.2h.6v.6h-.6zM446.6 96.1h.6v.6h-.6zM452.7 95.4h.6v.6h-.6zM445.6 95.9h.6v.6h-.6zM449.1 96.2h.6v.6h-.6zM452.8 95.4h.6v.6h-.6zM463.2 94.5h.6v.6h-.6zM462.0 95.1h.6v.6h-.6zM452.3 95.3h.6v.6h-.6zM447.5 77.6h.6v.6h-.6zM445.4 80.4h.6v.6h-.6zM447.6 96.2h.6v.6h-.6zM461.7 95.9h.6v.6h-.6zM443.4 73.3h.6v.6h-.6zM445.6 95.3h.6v.6h-.6zM446.9 95.1h.6v.6h-.6zM449.5 95.0h.6v.6h-.6zM451.5 95.1h.6v.6h-.6zM451.7 95.2h.6v.6h-.6zM452.7 95.6h.6v.6h-.6zM447.8 76.7h.6v.6h-.6zM446.1 79.8h.6v.6h-.6zM441.8 78.6h.6v.6h-.6zM470.6 95.5h.6v.6h-.6zM442.2 79.8h.6v.6h-.6zM445.6 95.4h.6v.6h-.6zM467.3 97.5h.6v.6h-.6zM442.2 79.8h.6v.6h-.6zM447.6 77.2h.6v.6h-.6zM452.1 95.3h.6v.6h-.6zM444.1 80.8h.6v.6h-.6zM445.0 80.5h.6v.6h-.6zM443.1 80.6h.6v.6h-.6zM447.9 95.1h.6v.6h-.6zM466.5 94.1h.6v.6h-.6zM452.1 95.4h.6v.6h-.6zM461.8 95.7h.6v.6h-.6zM470.3 95.2h.6v.6h-.6zM444.3 72.7h.6v.6h-.6zM445.7 95.7h.6v.6h-.6zM451.2 95.2h.6v.6h-.6zM445.1 80.4h.6v.6h-.6zM446.5 95.3h.6v.6h-.6zM465.9 97.5h.6v.6h-.6zM449.9 96.1h.6v.6h-.6zM447.6 77.1h.6v.6h-.6zM447.5 77.4h.6v.6h-.6zM446.1 95.4h.6v.6h-.6zM469.7 96.8h.6v.6h-.6zM445.9 95.6h.6v.6h-.6zM464.6 97.3h.6v.6h-.6zM450.7 96.0h.6v.6h-.6zM442.1 75.9h.6v.6h-.6zM447.0 95.2h.6v.6h-.6zM443.0 80.4h.6v.6h-.6zM446.1 72.4h.6v.6h-.6zM447.2 96.0h.6v.6h-.6zM451.1 95.9h.6v.6h-.6zM447.6 74.1h.6v.6h-.6zM465.9 94.2h.6v.6h-.6zM446.4 95.4h.6v.6h-.6zM451.9 95.6h.6v.6h-.6zM470.4 96.1h.6v.6h-.6zM451.8 95.7h.6v.6h-.6zM444.3 72.8h.6v.6h-.6zM470.4 96.0h.6v.6h-.6zM447.8 96.0h.6v.6h-.6zM451.7 95.5h.6v.6h-.6zM446.0 72.4h.6v.6h-.6zM451.6 95.7h.6v.6h-.6zM449.3 96.0h.6v.6h-.6zM462.0 95.7h.6v.6h-.6zM451.4 95.4h.6v.6h-.6zM446.4 72.6h.6v.6h-.6zM446.0 72.5h.6v.6h-.6zM449.3 96.0h.6v.6h-.6zM442.2 79.2h.6v.6h-.6zM463.3 94.6h.6v.6h-.6zM446.5 95.5h.6v.6h-.6zM442.0 76.8h.6v.6h-.6zM449.9 95.2h.6v.6h-.6zM443.7 80.5h.6v.6h-.6zM462.5 95.1h.6v.6h-.6zM447.0 95.8h.6v.6h-.6zM451.2 95.7h.6v.6h-.6zM464.4 97.2h.6v.6h-.6zM446.8 95.7h.6v.6h-.6zM446.7 95.6h.6v.6h-.6zM468.6 97.1h.6v.6h-.6zM450.6 95.3h.6v.6h-.6zM468.6 94.5h.6v.6h-.6zM451.0 95.8h.6v.6h-.6zM450.9 95.8h.6v.6h-.6zM447.6 74.9h.6v.6h-.6zM467.3 94.3h.6v.6h-.6zM466.4 97.4h.6v.6h-.6z"/>
<path fill="#4a99b9" opacity="0.85" d="M450.7 95.8h.6v.6h-.6zM450.0 95.9h.6v.6h-.6zM450.7 95.4h.6v.6h-.6zM450.4 95.8h.6v.6h-.6zM443.2 74.1h.6v.6h-.6zM447.6 95.8h.6v.6h-.6zM450.2 95.4h.6v.6h-.6zM462.7 95.0h.6v.6h-.6zM470.0 95.3h.6v.6h-.6zM447.7 95.8h.6v.6h-.6zM449.9 95.8h.6v.6h-.6zM448.8 95.9h.6v.6h-.6zM448.0 95.8h.6v.6h-.6zM446.4 72.9h.6v.6h-.6zM448.7 95.4h.6v.6h-.6zM468.0 97.2h.6v.6h-.6zM445.6 72.7h.6v.6h-.6zM446.4 72.9h.6v.6h-.6zM468.7 94.6h.6v.6h-.6zM447.3 74.0h.6v.6h-.6zM449.2 95.4h.6v.6h-.6zM468.1 97.1h.6v.6h-.6zM447.9 95.5h.6v.6h-.6zM445.1 80.0h.6v.6h-.6zM447.8 95.6h.6v.6h-.6zM448.2 95.7h.6v.6h-.6zM450.0 95.7h.6v.6h-.6zM442.2 76.4h.6v.6h-.6zM469.8 95.2h.6v.6h-.6zM449.9 95.5h.6v.6h-.6zM442.6 75.3h.6v.6h-.6zM448.9 95.5h.6v.6h-.6zM442.1 77.2h.6v.6h-.6zM447.3 74.2h.6v.6h-.6zM449.4 95.5h.6v.6h-.6zM447.5 75.8h.6v.6h-.6zM447.4 74.5h.6v.6h-.6zM448.8 95.5h.6v.6h-.6zM449.4 95.5h.6v.6h-.6zM449.5 95.5h.6v.6h-.6zM463.6 94.7h.6v.6h-.6zM469.4 95.0h.6v.6h-.6zM446.9 73.5h.6v.6h-.6zM442.2 76.5h.6v.6h-.6zM448.7 95.6h.6v.6h-.6zM468.3 97.0h.6v.6h-.6zM449.0 95.6h.6v.6h-.6zM445.2 79.9h.6v.6h-.6zM462.6 95.3h.6v.6h-.6zM445.7 72.8h.6v.6h-.6zM469.3 96.6h.6v.6h-.6zM469.5 96.5h.6v.6h-.6zM463.5 94.8h.6v.6h-.6zM468.0 94.5h.6v.6h-.6zM467.2 94.4h.6v.6h-.6zM446.4 73.2h.6v.6h-.6zM442.3 76.7h.6v.6h-.6zM465.1 94.4h.6v.6h-.6zM442.2 77.0h.6v.6h-.6zM464.8 97.1h.6v.6h-.6zM465.3 97.2h.6v.6h-.6zM462.8 95.2h.6v.6h-.6zM468.8 96.8h.6v.6h-.6zM444.4 73.3h.6v.6h-.6zM447.3 76.1h.6v.6h-.6zM446.4 78.4h.6v.6h-.6zM442.4 78.4h.6v.6h-.6zM445.8 79.2h.6v.6h-.6zM467.6 94.5h.6v.6h-.6zM445.4 79.5h.6v.6h-.6zM443.0 79.5h.6v.6h-.6zM446.0 78.9h.6v.6h-.6zM469.6 95.4h.6v.6h-.6zM464.3 97.0h.6v.6h-.6zM467.6 97.0h.6v.6h-.6zM447.3 75.8h.6v.6h-.6zM465.7 97.1h.6v.6h-.6zM442.5 76.3h.6v.6h-.6zM442.6 75.8h.6v.6h-.6zM446.0 73.2h.6v.6h-.6zM469.2 95.1h.6v.6h-.6zM446.8 77.5h.6v.6h-.6zM442.6 78.4h.6v.6h-.6z"/>
<path fill="#3caaaf" opacity="0.85" d="M467.5 94.6h.6v.6h-.6zM462.9 96.0h.6v.6h-.6zM442.5 78.2h.6v.6h-.6zM469.5 95.5h.6v.6h-.6zM464.9 94.6h.6v.6h-.6zM463.0 95.5h.6v.6h-.6zM469.2 95.2h.6v.6h-.6zM443.3 79.4h.6v.6h-.6zM446.3 73.6h.6v.6h-.6zM444.4 73.6h.6v.6h-.6zM463.0 96.1h.6v.6h-.6zM464.2 96.8h.6v.6h-.6zM446.6 73.9h.6v.6h-.6zM465.5 97.0h.6v.6h-.6zM442.9 75.5h.6v.6h-.6zM443.0 78.9h.6v.6h-.6zM466.5 97.0h.6v.6h-.6zM443.3 79.3h.6v.6h-.6zM444.1 73.9h.6v.6h-.6zM463.2 96.3h.6v.6h-.6zM468.9 95.2h.6v.6h-.6zM468.9 95.1h.6v.6h-.6zM442.6 77.6h.6v.6h-.6zM445.4 79.1h.6v.6h-.6zM463.0 95.6h.6v.6h-.6zM445.2 79.2h.6v.6h-.6zM468.2 94.9h.6v.6h-.6zM444.0 79.5h.6v.6h-.6zM445.2 79.2h.6v.6h-.6zM444.7 73.7h.6v.6h-.6zM444.3 79.5h.6v.6h-.6zM443.7 79.4h.6v.6h-.6zM465.3 94.7h.6v.6h-.6zM444.2 79.5h.6v.6h-.6zM443.0 75.6h.6v.6h-.6zM443.7 79.4h.6v.6h-.6zM467.1 96.9h.6v.6h-.6zM443.0 78.6h.6v.6h-.6zM468.4 95.0h.6v.6h-.6zM443.1 78.8h.6v.6h-.6zM443.1 78.6h.6v.6h-.6zM444.8 73.8h.6v.6h-.6zM446.8 75.9h.6v.6h-.6zM444.3 79.3h.6v.6h-.6zM442.8 77.8h.6v.6h-.6zM444.4 74.0h.6v.6h-.6zM442.8 77.4h.6v.6h-.6zM465.6 96.9h.6v.6h-.6zM468.6 96.4h.6v.6h-.6zM446.6 77.0h.6v.6h-.6zM468.8 96.3h.6v.6h-.6zM446.6 74.8h.6v.6h-.6zM445.9 73.9h.6v.6h-.6zM443.3 78.8h.6v.6h-.6zM443.2 75.5h.6v.6h-.6zM443.6 79.0h.6v.6h-.6zM464.1 95.1h.6v.6h-.6zM443.9 74.6h.6v.6h-.6zM463.5 95.6h.6v.6h-.6zM443.5 75.1h.6v.6h-.6zM443.5 78.9h.6v.6h-.6zM468.6 95.3h.6v.6h-.6zM443.1 76.0h.6v.6h-.6zM468.7 96.2h.6v.6h-.6zM444.7 74.0h.6v.6h-.6zM468.6 95.3h.6v.6h-.6zM463.8 95.3h.6v.6h-.6z"/>
<path fill="#5cb787" opacity="0.85" d="M467.8 95.0h.6v.6h-.6zM465.3 94.8h.6v.6h-.6zM466.3 94.8h.6v.6h-.6zM468.8 96.0h.6v.6h-.6zM466.1 96.8h.6v.6h-.6zM445.0 78.9h.6v.6h-.6zM466.3 96.8h.6v.6h-.6zM445.3 74.0h.6v.6h-.6zM468.8 95.7h.6v.6h-.6zM464.7 95.0h.6v.6h-.6zM443.6 78.7h.6v.6h-.6zM446.5 76.6h.6v.6h-.6zM466.2 96.8h.6v.6h-.6zM443.9 74.8h.6v.6h-.6zM468.2 96.4h.6v.6h-.6zM444.9 78.8h.6v.6h-.6zM443.2 78.1h.6v.6h-.6zM445.1 78.6h.6v.6h-.6zM443.7 78.7h.6v.6h-.6zM466.5 96.7h.6v.6h-.6zM446.5 75.9h.6v.6h-.6zM464.4 96.4h.6v.6h-.6zM446.5 75.7h.6v.6h-.6zM445.5 74.2h.6v.6h-.6zM468.6 95.8h.6v.6h-.6zM467.5 95.0h.6v.6h-.6zM464.3 95.2h.6v.6h-.6zM443.6 75.4h.6v.6h-.6zM446.4 75.5h.6v.6h-.6zM468.0 96.4h.6v.6h-.6zM468.3 95.5h.6v.6h-.6zM465.8 94.9h.6v.6h-.6zM468.0 96.3h.6v.6h-.6zM446.4 75.6h.6v.6h-.6zM468.0 95.3h.6v.6h-.6zM467.1 95.0h.6v.6h-.6zM468.3 96.0h.6v.6h-.6zM443.3 76.9h.6v.6h-.6zM446.0 77.1h.6v.6h-.6zM464.6 95.3h.6v.6h-.6zM443.3 76.9h.6v.6h-.6zM467.9 96.3h.6v.6h-.6zM465.0 96.5h.6v.6h-.6zM446.0 77.2h.6v.6h-.6zM464.2 96.0h.6v.6h-.6zM468.2 95.6h.6v.6h-.6zM444.9 74.5h.6v.6h-.6zM465.5 95.1h.6v.6h-.6zM443.4 77.4h.6v.6h-.6zM445.9 77.2h.6v.6h-.6zM443.6 77.9h.6v.6h-.6zM445.3 74.6h.6v.6h-.6zM446.1 76.8h.6v.6h-.6zM444.2 75.1h.6v.6h-.6zM443.5 76.3h.6v.6h-.6zM446.1 75.5h.6v.6h-.6zM445.0 74.6h.6v.6h-.6zM444.8 74.7h.6v.6h-.6zM443.6 77.7h.6v.6h-.6z"/>
<path fill="#7cc560" opacity="0.85" d="M465.2 95.2h.6v.6h-.6zM464.7 95.4h.6v.6h-.6zM446.0 75.2h.6v.6h-.6zM443.5 77.4h.6v.6h-.6zM445.1 78.1h.6v.6h-.6zM446.1 76.1h.6v.6h-.6zM446.1 76.4h.6v.6h-.6zM443.6 77.5h.6v.6h-.6zM464.7 96.2h.6v.6h-.6zM445.7 77.3h.6v.6h-.6zM446.0 75.5h.6v.6h-.6zM444.3 78.2h.6v.6h-.6zM466.0 96.5h.6v.6h-.6zM445.0 74.8h.6v.6h-.6zM446.1 75.9h.6v.6h-.6zM443.6 77.5h.6v.6h-.6zM445.1 78.0h.6v.6h-.6zM444.7 74.9h.6v.6h-.6zM465.3 96.4h.6v.6h-.6zM467.2 96.3h.6v.6h-.6zM445.8 76.9h.6v.6h-.6zM464.8 96.1h.6v.6h-.6zM465.7 95.2h.6v.6h-.6zM443.9 75.9h.6v.6h-.6zM467.9 95.7h.6v.6h-.6zM445.9 75.4h.6v.6h-.6zM467.8 96.0h.6v.6h-.6zM467.6 95.5h.6v.6h-.6zM465.0 95.4h.6v.6h-.6zM465.8 95.2h.6v.6h-.6zM464.9 96.1h.6v.6h-.6zM467.5 95.4h.6v.6h-.6zM444.1 77.9h.6v.6h-.6zM443.8 77.3h.6v.6h-.6zM466.0 96.4h.6v.6h-.6zM445.0 77.8h.6v.6h-.6zM467.0 95.3h.6v.6h-.6zM466.6 95.3h.6v.6h-.6zM467.6 95.6h.6v.6h-.6zM443.9 76.1h.6v.6h-.6zM444.5 75.4h.6v.6h-.6zM465.4 95.4h.6v.6h-.6zM444.0 76.0h.6v.6h-.6zM465.9 95.3h.6v.6h-.6zM467.4 96.0h.6v.6h-.6zM467.4 96.0h.6v.6h-.6zM465.9 96.3h.6v.6h-.6zM444.7 75.3h.6v.6h-.6zM445.7 76.3h.6v.6h-.6zM467.3 95.5h.6v.6h-.6zM444.5 75.6h.6v.6h-.6zM444.0 76.5h.6v.6h-.6zM444.1 76.2h.6v.6h-.6zM444.0 77.2h.6v.6h-.6zM444.8 75.4h.6v.6h-.6zM445.4 77.1h.6v.6h-.6zM445.4 75.6h.6v.6h-.6zM465.1 95.8h.6v.6h-.6zM465.1 95.8h.6v.6h-.6zM466.9 95.5h.6v.6h-.6zM444.0 76.6h.6v.6h-.6zM445.1 75.4h.6v.6h-.6zM444.2 76.2h.6v.6h-.6zM445.3 77.0h.6v.6h-.6zM444.4 75.8h.6v.6h-.6zM445.3 77.0h.6v.6h-.6zM445.1 75.5h.6v.6h-.6zM444.2 77.2h.6v.6h-.6zM445.0 77.3h.6v.6h-.6zM467.2 95.8h.6v.6h-.6zM445.0 77.3h.6v.6h-.6zM466.9 96.1h.6v.6h-.6zM444.3 76.0h.6v.6h-.6zM444.2 77.0h.6v.6h-.6zM465.6 96.1h.6v.6h-.6zM444.4 76.0h.6v.6h-.6zM444.7 75.7h.6v.6h-.6zM467.0 95.9h.6v.6h-.6zM465.9 95.5h.6v.6h-.6zM444.4 76.1h.6v.6h-.6zM445.1 75.8h.6v.6h-.6zM465.8 95.6h.6v.6h-.6zM466.4 95.6h.6v.6h-.6z"/>
<path fill="#b9d241" opacity="0.85" d="M465.9 95.6h.6v.6h-.6zM465.9 95.7h.6v.6h-.6zM445.0 76.2h.6v.6h-.6zM466.3 95.9h.6v.6h-.6zM466.0 95.7h.6v.6h-.6zM466.1 95.7h.6v.6h-.6zM444.9 76.4h.6v.6h-.6zM444.9 76.5h.6v.6h-.6z"/>
<rect x="425.4" y="55.8" width="52.3" height="53" fill="none" stroke="#111" stroke-width="1.1"/>
<path d="M440.8 69.0 L446.9 66.0 L452.0 69.2 L450.4 78.0 L444.6 83.2 L438.4 75.4 Z" fill="none" stroke="#444" stroke-width="0.7"/>
<path d="M460.8 93.1 L467.7 91.5 L473.1 94.3 L471.5 98.6 L465.4 100.2 L460.6 97.8 Z" fill="none" stroke="#444" stroke-width="0.7"/>
<rect x="441.7" y="69.9" width="7.2" height="4.4" fill="#ffffff" opacity="0.55"/>
<text x="445.3" y="71.5" font-size="2.1" text-anchor="middle" fill="#333">CD4+</text>
<text x="445.3" y="73.8" font-size="2.1" text-anchor="middle" fill="#333">45.2%</text>
<rect x="463.4" y="93.6" width="7.2" height="4.4" fill="#ffffff" opacity="0.55"/>
<text x="467" y="95.2" font-size="2.1" text-anchor="middle" fill="#333">CD4+</text>
<text x="467" y="97.5" font-size="2.1" text-anchor="middle" fill="#333">45.2%</text>
<line x1="423.6" y1="60.8" x2="425.4" y2="60.8" stroke="#222" stroke-width="0.6"/>
<text x="421.6" y="62.1" font-size="3.8" text-anchor="end" fill="#333">10<tspan font-size="2.36" dy="-1.44">5</tspan></text>
<line x1="423.6" y1="73.8" x2="425.4" y2="73.8" stroke="#222" stroke-width="0.6"/>
<text x="421.6" y="75.1" font-size="3.8" text-anchor="end" fill="#333">10<tspan font-size="2.36" dy="-1.44">4</tspan></text>
<line x1="423.6" y1="86.9" x2="425.4" y2="86.9" stroke="#222" stroke-width="0.6"/>
<text x="421.6" y="88.2" font-size="3.8" text-anchor="end" fill="#333">10<tspan font-size="2.36" dy="-1.44">3</tspan></text>
<line x1="423.6" y1="95.7" x2="425.4" y2="95.7" stroke="#222" stroke-width="0.6"/>
<text x="421.6" y="97" font-size="3.8" text-anchor="end" fill="#333">0</text>
<line x1="423.6" y1="104.6" x2="425.4" y2="104.6" stroke="#222" stroke-width="0.6"/>
<text x="421.6" y="105.9" font-size="3.8" text-anchor="end" fill="#333">-10<tspan font-size="2.36" dy="-1.44">3</tspan></text>
<line x1="428.8" y1="108.8" x2="428.8" y2="110.6" stroke="#222" stroke-width="0.6"/>
<line x1="437.8" y1="108.8" x2="437.8" y2="110.6" stroke="#222" stroke-width="0.6"/>
<line x1="444.6" y1="108.8" x2="444.6" y2="110.6" stroke="#222" stroke-width="0.6"/>
<line x1="459.2" y1="108.8" x2="459.2" y2="110.6" stroke="#222" stroke-width="0.6"/>
<line x1="470.8" y1="108.8" x2="470.8" y2="110.6" stroke="#222" stroke-width="0.6"/>
<text x="429.8" y="111.8" font-size="3.8" text-anchor="end" fill="#333" transform="rotate(-60 429.8 111.8)">-10<tspan font-size="2.36" dy="-1.44">3</tspan></text>
<text x="438.8" y="111.8" font-size="3.8" text-anchor="end" fill="#333" transform="rotate(-60 438.8 111.8)">0</text>
<text x="445.6" y="111.8" font-size="3.8" text-anchor="end" fill="#333" transform="rotate(-60 445.6 111.8)">10<tspan font-size="2.36" dy="-1.44">3</tspan></text>
<text x="460.2" y="111.8" font-size="3.8" text-anchor="end" fill="#333" transform="rotate(-60 460.2 111.8)">10<tspan font-size="2.36" dy="-1.44">4</tspan></text>
<text x="471.8" y="111.8" font-size="3.8" text-anchor="end" fill="#333" transform="rotate(-60 471.8 111.8)">10<tspan font-size="2.36" dy="-1.44">5</tspan></text>
<line x1="436.5" y1="108.8" x2="436.5" y2="110" stroke="#111" stroke-width="0.6"/>
<line x1="438.76" y1="108.8" x2="438.76" y2="110" stroke="#111" stroke-width="0.6"/>
<line x1="446.41" y1="108.8" x2="446.41" y2="110" stroke="#111" stroke-width="0.6"/>
<line x1="436.78" y1="108.8" x2="436.78" y2="110" stroke="#111" stroke-width="0.6"/>
<line x1="437.66" y1="108.8" x2="437.66" y2="110" stroke="#111" stroke-width="0.6"/>
<line x1="439.34" y1="108.8" x2="439.34" y2="110" stroke="#111" stroke-width="0.6"/>
<line x1="430.88" y1="108.8" x2="430.88" y2="110" stroke="#111" stroke-width="0.6"/>
<line x1="437.75" y1="108.8" x2="437.75" y2="110" stroke="#111" stroke-width="0.6"/>
<line x1="440.23" y1="108.8" x2="440.23" y2="110" stroke="#111" stroke-width="0.6"/>
<line x1="443.65" y1="108.8" x2="443.65" y2="110" stroke="#111" stroke-width="0.6"/>
<line x1="428.98" y1="108.8" x2="428.98" y2="110" stroke="#111" stroke-width="0.6"/>
<line x1="433.37" y1="108.8" x2="433.37" y2="110" stroke="#111" stroke-width="0.6"/>
<line x1="428.9" y1="108.8" x2="428.9" y2="110" stroke="#111" stroke-width="0.6"/>
<line x1="444" y1="108.8" x2="444" y2="110" stroke="#111" stroke-width="0.6"/>
<line x1="441.56" y1="108.8" x2="441.56" y2="110" stroke="#111" stroke-width="0.6"/>
<line x1="427.88" y1="108.8" x2="427.88" y2="110" stroke="#111" stroke-width="0.6"/>
<line x1="447.63" y1="108.8" x2="447.63" y2="110" stroke="#111" stroke-width="0.6"/>
<line x1="447.26" y1="108.8" x2="447.26" y2="110" stroke="#111" stroke-width="0.6"/>
<line x1="440.73" y1="108.8" x2="440.73" y2="110" stroke="#111" stroke-width="0.6"/>
<line x1="439.93" y1="108.8" x2="439.93" y2="110" stroke="#111" stroke-width="0.6"/>
<line x1="430.31" y1="108.8" x2="430.31" y2="110" stroke="#111" stroke-width="0.6"/>
<line x1="427.32" y1="108.8" x2="427.32" y2="110" stroke="#111" stroke-width="0.6"/>
<line x1="438.1" y1="108.8" x2="438.1" y2="110" stroke="#111" stroke-width="0.6"/>
<line x1="428.25" y1="108.8" x2="428.25" y2="110" stroke="#111" stroke-width="0.6"/>
<line x1="430.99" y1="108.8" x2="430.99" y2="110" stroke="#111" stroke-width="0.6"/>
<line x1="432.08" y1="108.8" x2="432.08" y2="110" stroke="#111" stroke-width="0.6"/>
<line x1="427.63" y1="108.8" x2="427.63" y2="110" stroke="#111" stroke-width="0.6"/>
<line x1="436.74" y1="108.8" x2="436.74" y2="110" stroke="#111" stroke-width="0.6"/>
<line x1="436.25" y1="108.8" x2="436.25" y2="110" stroke="#111" stroke-width="0.6"/>
<line x1="444.69" y1="108.8" x2="444.69" y2="110" stroke="#111" stroke-width="0.6"/>
<line x1="437.9" y1="108.8" x2="437.9" y2="110" stroke="#111" stroke-width="0.6"/>
<line x1="440.45" y1="108.8" x2="440.45" y2="110" stroke="#111" stroke-width="0.6"/>
<line x1="437.5" y1="108.8" x2="437.5" y2="110" stroke="#111" stroke-width="0.6"/>
<line x1="440.91" y1="108.8" x2="440.91" y2="110" stroke="#111" stroke-width="0.6"/>
<line x1="436.6" y1="108.8" x2="436.6" y2="110" stroke="#111" stroke-width="0.6"/>
<line x1="432.84" y1="108.8" x2="432.84" y2="110" stroke="#111" stroke-width="0.6"/>
<line x1="447.95" y1="108.8" x2="447.95" y2="110" stroke="#111" stroke-width="0.6"/>
<line x1="447.91" y1="108.8" x2="447.91" y2="110" stroke="#111" stroke-width="0.6"/>
<line x1="444.64" y1="108.8" x2="444.64" y2="110" stroke="#111" stroke-width="0.6"/>
<line x1="441.86" y1="108.8" x2="441.86" y2="110" stroke="#111" stroke-width="0.6"/>
<line x1="424.6" y1="81.35" x2="425.4" y2="81.35" stroke="#222" stroke-width="0.5"/>
<line x1="424.6" y1="78.27" x2="425.4" y2="78.27" stroke="#222" stroke-width="0.5"/>
<line x1="424.6" y1="80.41" x2="425.4" y2="80.41" stroke="#222" stroke-width="0.5"/>
<line x1="424.6" y1="72.53" x2="425.4" y2="72.53" stroke="#222" stroke-width="0.5"/>
<line x1="424.6" y1="97.59" x2="425.4" y2="97.59" stroke="#222" stroke-width="0.5"/>
<line x1="424.6" y1="84.41" x2="425.4" y2="84.41" stroke="#222" stroke-width="0.5"/>
<line x1="424.6" y1="100.48" x2="425.4" y2="100.48" stroke="#222" stroke-width="0.5"/>
<line x1="424.6" y1="83.91" x2="425.4" y2="83.91" stroke="#222" stroke-width="0.5"/>
<line x1="424.6" y1="104.49" x2="425.4" y2="104.49" stroke="#222" stroke-width="0.5"/>
<line x1="424.6" y1="100.5" x2="425.4" y2="100.5" stroke="#222" stroke-width="0.5"/>
<line x1="424.6" y1="70.02" x2="425.4" y2="70.02" stroke="#222" stroke-width="0.5"/>
<line x1="424.6" y1="77.55" x2="425.4" y2="77.55" stroke="#222" stroke-width="0.5"/>
<line x1="424.6" y1="102.77" x2="425.4" y2="102.77" stroke="#222" stroke-width="0.5"/>
<line x1="424.6" y1="86.92" x2="425.4" y2="86.92" stroke="#222" stroke-width="0.5"/>
<line x1="424.6" y1="105.29" x2="425.4" y2="105.29" stroke="#222" stroke-width="0.5"/>
<line x1="424.6" y1="84.31" x2="425.4" y2="84.31" stroke="#222" stroke-width="0.5"/>
<line x1="424.6" y1="72.63" x2="425.4" y2="72.63" stroke="#222" stroke-width="0.5"/>
<line x1="424.6" y1="92.66" x2="425.4" y2="92.66" stroke="#222" stroke-width="0.5"/>
<text x="7.4" y="305.9" font-size="14.23" stroke="#231f20" stroke-width="0.4" textLength="6.4" lengthAdjust="spacingAndGlyphs">C</text>
<text x="33" y="314" font-size="10.71" stroke="#231f20" stroke-width="0.2" textLength="21.6" lengthAdjust="spacingAndGlyphs">Day 1</text>
<text x="102.2" y="313.6" font-size="10.39" stroke="#231f20" stroke-width="0.2" textLength="21.9" lengthAdjust="spacingAndGlyphs">Day 4</text>
<text x="176.5" y="312.3" font-size="10.71" stroke="#231f20" stroke-width="0.2" textLength="22.3" lengthAdjust="spacingAndGlyphs">Day 8</text>
<path d="M14.6 357.5 L25.91 350 M61.5 357.5 L74.31 350" fill="none" stroke="#111" stroke-width="0.7"/>
<path d="M26.51 350.5 L26.5 350.5 L27.0 350.5 L27.5 350.5 L28.0 350.5 L28.5 350.5 L29.0 350.5 L29.5 350.5 L30.0 350.5 L30.5 350.5 L31.0 350.5 L31.5 350.5 L32.0 350.5 L32.5 350.5 L33.0 350.5 L33.5 350.5 L34.0 350.4 L34.5 350.3 L35.0 350.1 L35.5 349.6 L36.0 348.2 L36.5 343.4 L36.6 341.8 L36.9 335.9 L37.0 334.0 L37.1 332.3 L37.2 330.9 L37.3 330.4 L37.4 329.7 L37.5 329.9 L37.6 330.2 L37.7 331.9 L37.9 329.1 L37.9 330.2 L38.0 332.4 L38.2 336.6 L38.5 341.4 L39.0 345.3 L39.5 347.0 L40.0 348.0 L40.5 348.8 L41.0 349.2 L41.5 349.5 L42.0 349.7 L42.5 349.8 L43.0 349.9 L43.5 349.9 L44.0 349.9 L44.5 350.0 L45.0 350.0 L45.5 350.0 L46.0 350.0 L46.5 350.0 L47.0 350.0 L47.5 350.0 L48.0 350.0 L48.5 350.0 L49.0 350.0 L49.5 350.0 L50.0 350.0 L50.5 350.0 L51.0 350.0 L51.5 350.0 L52.0 350.0 L52.5 350.0 L53.0 350.0 L53.5 350.0 L54.0 350.0 L54.5 350.0 L55.0 350.0 L55.5 350.0 L56.0 350.0 L56.5 350.0 L57.0 350.0 L57.5 350.0 L58.0 350.0 L58.5 350.0 L59.0 350.5 L59.5 350.5 L60.0 350.5 L60.5 350.5 L61.0 350.5 L61.5 350.5 L62.0 350.5 L62.5 350.5 L63.0 350.5 L63.5 350.5 L64.0 350.5 L64.5 350.5 L65.0 350.5 L65.5 350.5 L66.0 350.5 L66.5 350.5 L67.0 350.5 L67.5 350.5 L68.0 350.5 L68.5 350.5 L69.0 350.5 L69.5 350.5 L70.0 350.5 L70.5 350.5 L71.0 350.5 L71.5 350.5 L72.0 350.5 L72.5 350.5 L73.0 350.5 L73.5 350.5 L74.0 350.5 L74.01 350.5 Z" fill="#c25c60" fill-opacity="0.72"/>
<path d="M26.5 350.5 L27.0 350.5 L27.5 350.5 L28.0 350.5 L28.5 350.5 L29.0 350.5 L29.5 350.5 L30.0 350.5 L30.5 350.5 L31.0 350.5 L31.5 350.5 L32.0 350.5 L32.5 350.5 L33.0 350.5 L33.5 350.5 L34.0 350.4 L34.5 350.3 L35.0 350.1 L35.5 349.6 L36.0 348.2 L36.5 343.4 L36.6 341.8 L36.9 335.9 L37.0 334.0 L37.1 332.3 L37.2 330.9 L37.3 330.4 L37.4 329.7 L37.5 329.9 L37.6 330.2 L37.7 331.9 L37.9 329.1 L37.9 330.2 L38.0 332.4 L38.2 336.6 L38.5 341.4 L39.0 345.3 L39.5 347.0 L40.0 348.0 L40.5 348.8 L41.0 349.2 L41.5 349.5 L42.0 349.7 L42.5 349.8 L43.0 349.9 L43.5 349.9 L44.0 349.9 L44.5 350.0 L45.0 350.0 L45.5 350.0 L46.0 350.0 L46.5 350.0 L47.0 350.0 L47.5 350.0 L48.0 350.0 L48.5 350.0 L49.0 350.0 L49.5 350.0 L50.0 350.0 L50.5 350.0 L51.0 350.0 L51.5 350.0 L52.0 350.0 L52.5 350.0 L53.0 350.0 L53.5 350.0 L54.0 350.0 L54.5 350.0 L55.0 350.0 L55.5 350.0 L56.0 350.0 L56.5 350.0 L57.0 350.0 L57.5 350.0 L58.0 350.0 L58.5 350.0 L59.0 350.5 L59.5 350.5 L60.0 350.5 L60.5 350.5 L61.0 350.5 L61.5 350.5 L62.0 350.5 L62.5 350.5 L63.0 350.5 L63.5 350.5 L64.0 350.5 L64.5 350.5 L65.0 350.5 L65.5 350.5 L66.0 350.5 L66.5 350.5 L67.0 350.5 L67.5 350.5 L68.0 350.5 L68.5 350.5 L69.0 350.5 L69.5 350.5 L70.0 350.5 L70.5 350.5 L71.0 350.5 L71.5 350.5 L72.0 350.5 L72.5 350.5 L73.0 350.5 L73.5 350.5 L74.0 350.5 L74.01 350.5" fill="none" stroke="#b0333c" stroke-width="0.55"/>
<line x1="26.31" y1="350.5" x2="74.01" y2="350.5" stroke="#b0333c" stroke-width="0.8"/>
<path d="M22.74 352.5 L22.7 352.5 L23.2 352.5 L23.7 352.5 L24.2 352.5 L24.7 352.5 L25.2 352.5 L25.7 352.5 L26.2 352.5 L26.7 352.5 L27.2 352.5 L27.7 352.5 L28.2 352.5 L28.7 352.5 L29.2 352.5 L29.7 352.5 L30.2 352.4 L30.7 352.3 L31.2 352.0 L31.7 351.4 L32.2 350.5 L32.7 347.5 L32.9 344.1 L33.2 335.1 L33.4 327.9 L33.5 325.0 L33.6 323.9 L33.7 322.3 L33.9 323.7 L34.0 327.4 L34.2 332.5 L34.2 334.2 L34.3 337.6 L34.5 342.9 L34.7 346.2 L34.8 347.2 L35.2 349.1 L35.7 350.3 L36.2 351.3 L36.7 351.9 L37.2 352.3 L37.7 352.4 L38.2 352.5 L38.7 352.5 L39.2 352.5 L39.7 352.5 L40.2 352.5 L40.7 352.5 L41.2 352.5 L41.7 352.5 L42.2 352.5 L42.7 352.5 L43.2 352.5 L43.7 352.5 L44.2 352.5 L44.7 352.5 L45.2 352.5 L45.7 352.5 L46.2 352.5 L46.7 352.5 L47.2 352.5 L47.7 352.5 L48.2 352.5 L48.7 352.5 L49.2 352.5 L49.7 352.5 L50.2 352.5 L50.7 352.5 L51.2 352.5 L51.7 352.5 L52.2 352.5 L52.7 352.5 L53.2 352.5 L53.7 352.5 L54.2 352.5 L54.7 352.5 L55.2 352.5 L55.7 352.5 L56.2 352.5 L56.7 352.5 L57.2 352.5 L57.7 352.5 L58.2 352.5 L58.7 352.5 L59.2 352.5 L59.7 352.5 L60.2 352.5 L60.7 352.5 L61.2 352.5 L61.7 352.5 L62.2 352.5 L62.7 352.5 L63.2 352.5 L63.7 352.5 L64.2 352.5 L64.7 352.5 L65.2 352.5 L65.7 352.5 L66.2 352.5 L66.7 352.5 L67.2 352.5 L67.7 352.5 L68.2 352.5 L68.7 352.5 L69.2 352.5 L69.7 352.5 L70.2 352.5 L70.24 352.5 Z" fill="#ebb15e" fill-opacity="0.72"/>
<path d="M22.7 352.5 L23.2 352.5 L23.7 352.5 L24.2 352.5 L24.7 352.5 L25.2 352.5 L25.7 352.5 L26.2 352.5 L26.7 352.5 L27.2 352.5 L27.7 352.5 L28.2 352.5 L28.7 352.5 L29.2 352.5 L29.7 352.5 L30.2 352.4 L30.7 352.3 L31.2 352.0 L31.7 351.4 L32.2 350.5 L32.7 347.5 L32.9 344.1 L33.2 335.1 L33.4 327.9 L33.5 325.0 L33.6 323.9 L33.7 322.3 L33.9 323.7 L34.0 327.4 L34.2 332.5 L34.2 334.2 L34.3 337.6 L34.5 342.9 L34.7 346.2 L34.8 347.2 L35.2 349.1 L35.7 350.3 L36.2 351.3 L36.7 351.9 L37.2 352.3 L37.7 352.4 L38.2 352.5 L38.7 352.5 L39.2 352.5 L39.7 352.5 L40.2 352.5 L40.7 352.5 L41.2 352.5 L41.7 352.5 L42.2 352.5 L42.7 352.5 L43.2 352.5 L43.7 352.5 L44.2 352.5 L44.7 352.5 L45.2 352.5 L45.7 352.5 L46.2 352.5 L46.7 352.5 L47.2 352.5 L47.7 352.5 L48.2 352.5 L48.7 352.5 L49.2 352.5 L49.7 352.5 L50.2 352.5 L50.7 352.5 L51.2 352.5 L51.7 352.5 L52.2 352.5 L52.7 352.5 L53.2 352.5 L53.7 352.5 L54.2 352.5 L54.7 352.5 L55.2 352.5 L55.7 352.5 L56.2 352.5 L56.7 352.5 L57.2 352.5 L57.7 352.5 L58.2 352.5 L58.7 352.5 L59.2 352.5 L59.7 352.5 L60.2 352.5 L60.7 352.5 L61.2 352.5 L61.7 352.5 L62.2 352.5 L62.7 352.5 L63.2 352.5 L63.7 352.5 L64.2 352.5 L64.7 352.5 L65.2 352.5 L65.7 352.5 L66.2 352.5 L66.7 352.5 L67.2 352.5 L67.7 352.5 L68.2 352.5 L68.7 352.5 L69.2 352.5 L69.7 352.5 L70.2 352.5 L70.24 352.5" fill="none" stroke="#e09a30" stroke-width="0.55"/>
<line x1="22.54" y1="352.5" x2="70.24" y2="352.5" stroke="#e09a30" stroke-width="0.8"/>
<path d="M18.97 354.5 L19.0 354.5 L19.5 354.5 L20.0 354.5 L20.5 354.5 L21.0 354.5 L21.5 354.5 L22.0 354.5 L22.5 354.5 L23.0 354.5 L23.5 354.5 L24.0 354.5 L24.5 354.5 L25.0 354.5 L25.5 354.5 L26.0 354.5 L26.5 354.4 L27.0 354.3 L27.5 354.0 L28.0 353.4 L28.5 352.3 L29.0 349.2 L29.2 345.5 L29.5 335.9 L29.7 328.3 L29.8 325.2 L29.8 324.0 L30.0 322.3 L30.1 323.7 L30.3 327.8 L30.4 333.2 L30.5 335.0 L30.6 338.6 L30.8 344.3 L31.0 347.8 L31.1 348.8 L31.5 350.9 L32.0 352.2 L32.5 353.2 L33.0 353.9 L33.5 354.2 L34.0 354.4 L34.5 354.5 L35.0 354.5 L35.5 354.5 L36.0 354.5 L36.5 354.5 L37.0 354.5 L37.5 354.5 L38.0 354.5 L38.5 354.5 L39.0 354.5 L39.5 354.5 L40.0 354.5 L40.5 354.5 L41.0 354.5 L41.5 354.5 L42.0 354.5 L42.5 354.5 L43.0 354.5 L43.5 354.5 L44.0 354.5 L44.5 354.5 L45.0 354.5 L45.5 354.5 L46.0 354.5 L46.5 354.5 L47.0 354.5 L47.5 354.5 L48.0 354.5 L48.5 354.5 L49.0 354.5 L49.5 354.5 L50.0 354.5 L50.5 354.5 L51.0 354.5 L51.5 354.5 L52.0 354.5 L52.5 354.5 L53.0 354.5 L53.5 354.5 L54.0 354.5 L54.5 354.5 L55.0 354.5 L55.5 354.5 L56.0 354.5 L56.5 354.5 L57.0 354.5 L57.5 354.5 L58.0 354.5 L58.5 354.5 L59.0 354.5 L59.5 354.5 L60.0 354.5 L60.5 354.5 L61.0 354.5 L61.5 354.5 L62.0 354.5 L62.5 354.5 L63.0 354.5 L63.5 354.5 L64.0 354.5 L64.5 354.5 L65.0 354.5 L65.5 354.5 L66.0 354.5 L66.5 354.5 L66.47 354.5 Z" fill="#7e7a8c" fill-opacity="0.72"/>
<path d="M19.0 354.5 L19.5 354.5 L20.0 354.5 L20.5 354.5 L21.0 354.5 L21.5 354.5 L22.0 354.5 L22.5 354.5 L23.0 354.5 L23.5 354.5 L24.0 354.5 L24.5 354.5 L25.0 354.5 L25.5 354.5 L26.0 354.5 L26.5 354.4 L27.0 354.3 L27.5 354.0 L28.0 353.4 L28.5 352.3 L29.0 349.2 L29.2 345.5 L29.5 335.9 L29.7 328.3 L29.8 325.2 L29.8 324.0 L30.0 322.3 L30.1 323.7 L30.3 327.8 L30.4 333.2 L30.5 335.0 L30.6 338.6 L30.8 344.3 L31.0 347.8 L31.1 348.8 L31.5 350.9 L32.0 352.2 L32.5 353.2 L33.0 353.9 L33.5 354.2 L34.0 354.4 L34.5 354.5 L35.0 354.5 L35.5 354.5 L36.0 354.5 L36.5 354.5 L37.0 354.5 L37.5 354.5 L38.0 354.5 L38.5 354.5 L39.0 354.5 L39.5 354.5 L40.0 354.5 L40.5 354.5 L41.0 354.5 L41.5 354.5 L42.0 354.5 L42.5 354.5 L43.0 354.5 L43.5 354.5 L44.0 354.5 L44.5 354.5 L45.0 354.5 L45.5 354.5 L46.0 354.5 L46.5 354.5 L47.0 354.5 L47.5 354.5 L48.0 354.5 L48.5 354.5 L49.0 354.5 L49.5 354.5 L50.0 354.5 L50.5 354.5 L51.0 354.5 L51.5 354.5 L52.0 354.5 L52.5 354.5 L53.0 354.5 L53.5 354.5 L54.0 354.5 L54.5 354.5 L55.0 354.5 L55.5 354.5 L56.0 354.5 L56.5 354.5 L57.0 354.5 L57.5 354.5 L58.0 354.5 L58.5 354.5 L59.0 354.5 L59.5 354.5 L60.0 354.5 L60.5 354.5 L61.0 354.5 L61.5 354.5 L62.0 354.5 L62.5 354.5 L63.0 354.5 L63.5 354.5 L64.0 354.5 L64.5 354.5 L65.0 354.5 L65.5 354.5 L66.0 354.5 L66.5 354.5 L66.47 354.5" fill="none" stroke="#4d5d8a" stroke-width="0.55"/>
<line x1="18.77" y1="354.5" x2="66.47" y2="354.5" stroke="#4d5d8a" stroke-width="0.8"/>
<path d="M15.2 356.5 L15.2 356.5 L15.7 356.5 L16.2 356.5 L16.7 356.5 L17.2 356.5 L17.7 356.5 L18.2 356.5 L18.7 356.5 L19.2 356.5 L19.7 356.5 L20.2 356.5 L20.7 356.5 L21.2 356.5 L21.7 356.5 L22.2 356.5 L22.7 356.4 L23.2 356.2 L23.7 355.9 L24.2 355.1 L24.7 353.9 L25.2 350.1 L25.4 345.7 L25.7 334.1 L25.9 325.0 L26.0 321.3 L26.0 319.8 L26.2 317.8 L26.4 319.5 L26.5 324.3 L26.6 330.8 L26.7 333.1 L26.8 337.4 L27.0 344.2 L27.2 348.4 L27.3 349.7 L27.7 352.1 L28.2 353.7 L28.7 354.9 L29.2 355.7 L29.7 356.2 L30.2 356.4 L30.7 356.5 L31.2 356.5 L31.7 356.5 L32.2 356.5 L32.7 356.5 L33.2 356.5 L33.7 356.5 L34.2 356.5 L34.7 356.5 L35.2 356.5 L35.7 356.5 L36.2 356.5 L36.7 356.5 L37.2 356.5 L37.7 356.5 L38.2 356.5 L38.7 356.5 L39.2 356.5 L39.7 356.5 L40.2 356.5 L40.7 356.5 L41.2 356.5 L41.7 356.5 L42.2 356.5 L42.7 356.5 L43.2 356.5 L43.7 356.5 L44.2 356.5 L44.7 356.5 L45.2 356.5 L45.7 356.5 L46.2 356.5 L46.7 356.5 L47.2 356.5 L47.7 356.5 L48.2 356.5 L48.7 356.5 L49.2 356.5 L49.7 356.5 L50.2 356.5 L50.7 356.5 L51.2 356.5 L51.7 356.5 L52.2 356.5 L52.7 356.5 L53.2 356.5 L53.7 356.5 L54.2 356.5 L54.7 356.5 L55.2 356.5 L55.7 356.5 L56.2 356.5 L56.7 356.5 L57.2 356.5 L57.7 356.5 L58.2 356.5 L58.7 356.5 L59.2 356.5 L59.7 356.5 L60.2 356.5 L60.7 356.5 L61.2 356.5 L61.7 356.5 L62.2 356.5 L62.7 356.5 L62.7 356.5 Z" fill="#a7c6ea" fill-opacity="0.72"/>
<path d="M15.2 356.5 L15.7 356.5 L16.2 356.5 L16.7 356.5 L17.2 356.5 L17.7 356.5 L18.2 356.5 L18.7 356.5 L19.2 356.5 L19.7 356.5 L20.2 356.5 L20.7 356.5 L21.2 356.5 L21.7 356.5 L22.2 356.5 L22.7 356.4 L23.2 356.2 L23.7 355.9 L24.2 355.1 L24.7 353.9 L25.2 350.1 L25.4 345.7 L25.7 334.1 L25.9 325.0 L26.0 321.3 L26.0 319.8 L26.2 317.8 L26.4 319.5 L26.5 324.3 L26.6 330.8 L26.7 333.1 L26.8 337.4 L27.0 344.2 L27.2 348.4 L27.3 349.7 L27.7 352.1 L28.2 353.7 L28.7 354.9 L29.2 355.7 L29.7 356.2 L30.2 356.4 L30.7 356.5 L31.2 356.5 L31.7 356.5 L32.2 356.5 L32.7 356.5 L33.2 356.5 L33.7 356.5 L34.2 356.5 L34.7 356.5 L35.2 356.5 L35.7 356.5 L36.2 356.5 L36.7 356.5 L37.2 356.5 L37.7 356.5 L38.2 356.5 L38.7 356.5 L39.2 356.5 L39.7 356.5 L40.2 356.5 L40.7 356.5 L41.2 356.5 L41.7 356.5 L42.2 356.5 L42.7 356.5 L43.2 356.5 L43.7 356.5 L44.2 356.5 L44.7 356.5 L45.2 356.5 L45.7 356.5 L46.2 356.5 L46.7 356.5 L47.2 356.5 L47.7 356.5 L48.2 356.5 L48.7 356.5 L49.2 356.5 L49.7 356.5 L50.2 356.5 L50.7 356.5 L51.2 356.5 L51.7 356.5 L52.2 356.5 L52.7 356.5 L53.2 356.5 L53.7 356.5 L54.2 356.5 L54.7 356.5 L55.2 356.5 L55.7 356.5 L56.2 356.5 L56.7 356.5 L57.2 356.5 L57.7 356.5 L58.2 356.5 L58.7 356.5 L59.2 356.5 L59.7 356.5 L60.2 356.5 L60.7 356.5 L61.2 356.5 L61.7 356.5 L62.2 356.5 L62.7 356.5 L62.7 356.5" fill="none" stroke="#6fa3d8" stroke-width="0.55"/>
<line x1="15" y1="356.5" x2="62.7" y2="356.5" stroke="#6fa3d8" stroke-width="0.8"/>
<line x1="14.6" y1="357.5" x2="61.5" y2="357.5" stroke="#444" stroke-width="0.5"/>
<path d="M20.65 358.00v1.6M21.06 358.00v1.6M21.48 358.00v1.6M21.90 358.00v1.6M22.34 358.00v1.6M22.80 358.00v1.6M23.27 358.00v1.6M23.76 358.00v1.6M24.27 358.00v1.6M24.82 358.00v1.6M25.42 358.00v1.6M26.10 358.00v1.6M27.10 358.00v1.6M28.10 358.00v1.6M28.78 358.00v1.6M29.38 358.00v1.6M29.93 358.00v1.6M30.44 358.00v1.6M30.93 358.00v1.6M31.40 358.00v1.6M31.86 358.00v1.6M32.30 358.00v1.6M32.72 358.00v1.6M33.14 358.00v1.6M33.55 358.00v1.6M19.80 358.00v2.2M27.10 358.00v2.2M34.60 358.00v2.2M47.10 358.00v2.2M59.00 358.00v2.2M38.36 358.00v1.5M40.56 358.00v1.5M42.13 358.00v1.5M43.34 358.00v1.5M44.33 358.00v1.5M45.16 358.00v1.5M45.89 358.00v1.5M46.53 358.00v1.5M50.68 358.00v1.5M52.78 358.00v1.5M54.26 358.00v1.5M55.42 358.00v1.5M56.36 358.00v1.5M57.16 358.00v1.5M57.85 358.00v1.5M58.46 358.00v1.5" stroke="#111" stroke-width="0.6" fill="none"/>
<text x="19.8" y="367.6" font-size="4.6" text-anchor="middle" fill="#8a8a8a">-10<tspan font-size="2.85" dy="-1.75">3</tspan></text>
<text x="27.1" y="367.6" font-size="4.6" text-anchor="middle" fill="#8a8a8a">0</text>
<text x="34.6" y="367.6" font-size="4.6" text-anchor="middle" fill="#8a8a8a">10<tspan font-size="2.85" dy="-1.75">3</tspan></text>
<text x="47.1" y="367.6" font-size="4.6" text-anchor="middle" fill="#8a8a8a">10<tspan font-size="2.85" dy="-1.75">4</tspan></text>
<text x="59" y="367.6" font-size="4.6" text-anchor="middle" fill="#8a8a8a">10<tspan font-size="2.85" dy="-1.75">5</tspan></text>
<text x="22.6" y="377.9" font-size="7.03" stroke="#231f20" stroke-width="0.2" textLength="32.7" lengthAdjust="spacingAndGlyphs">Anti-HLA-DR</text>
<path d="M83.4 357.5 L94.71 350 M130.3 357.5 L143.11 350" fill="none" stroke="#111" stroke-width="0.7"/>
<path d="M95.31 350.5 L95.3 350.5 L95.8 350.5 L96.3 350.5 L96.8 350.5 L97.3 350.5 L97.8 350.5 L98.3 350.5 L98.8 350.5 L99.3 350.5 L99.8 350.5 L100.3 350.5 L100.8 350.5 L101.3 350.5 L101.8 350.5 L102.3 350.5 L102.8 350.5 L103.3 350.5 L103.8 350.5 L104.3 350.5 L104.8 350.5 L105.3 350.4 L105.8 349.8 L106.3 347.5 L106.8 344.1 L107.3 343.3 L107.8 340.3 L108.3 341.6 L108.8 343.2 L109.3 344.7 L109.8 346.1 L110.3 347.2 L110.8 348.0 L111.3 348.5 L111.8 348.9 L112.3 349.2 L112.8 349.3 L113.3 349.5 L113.8 349.5 L114.3 349.6 L114.8 349.7 L115.3 349.7 L115.8 349.7 L116.3 349.8 L116.8 349.8 L117.3 349.8 L117.8 349.8 L118.3 349.9 L118.8 349.9 L119.3 349.9 L119.8 349.9 L120.3 349.9 L120.8 349.9 L121.3 349.9 L121.8 349.9 L122.3 349.9 L122.8 349.9 L123.3 349.9 L123.8 349.9 L124.3 349.9 L124.8 349.9 L125.3 349.9 L125.8 349.9 L126.3 349.9 L126.8 349.9 L127.3 349.9 L127.8 349.9 L128.3 349.9 L128.8 349.9 L129.3 349.9 L129.8 349.9 L130.3 349.9 L130.8 349.9 L131.3 349.9 L131.8 349.9 L132.3 349.9 L132.8 349.9 L133.3 349.9 L133.8 350.5 L134.3 350.5 L134.8 350.5 L135.3 350.5 L135.8 350.5 L136.3 350.5 L136.8 350.5 L137.3 350.5 L137.8 350.5 L138.3 350.5 L138.8 350.5 L139.3 350.5 L139.8 350.5 L140.3 350.5 L140.8 350.5 L141.3 350.5 L141.8 350.5 L142.3 350.5 L142.8 350.5 L142.81 350.5 Z" fill="#c25c60" fill-opacity="0.72"/>
<path d="M95.3 350.5 L95.8 350.5 L96.3 350.5 L96.8 350.5 L97.3 350.5 L97.8 350.5 L98.3 350.5 L98.8 350.5 L99.3 350.5 L99.8 350.5 L100.3 350.5 L100.8 350.5 L101.3 350.5 L101.8 350.5 L102.3 350.5 L102.8 350.5 L103.3 350.5 L103.8 350.5 L104.3 350.5 L104.8 350.5 L105.3 350.4 L105.8 349.8 L106.3 347.5 L106.8 344.1 L107.3 343.3 L107.8 340.3 L108.3 341.6 L108.8 343.2 L109.3 344.7 L109.8 346.1 L110.3 347.2 L110.8 348.0 L111.3 348.5 L111.8 348.9 L112.3 349.2 L112.8 349.3 L113.3 349.5 L113.8 349.5 L114.3 349.6 L114.8 349.7 L115.3 349.7 L115.8 349.7 L116.3 349.8 L116.8 349.8 L117.3 349.8 L117.8 349.8 L118.3 349.9 L118.8 349.9 L119.3 349.9 L119.8 349.9 L120.3 349.9 L120.8 349.9 L121.3 349.9 L121.8 349.9 L122.3 349.9 L122.8 349.9 L123.3 349.9 L123.8 349.9 L124.3 349.9 L124.8 349.9 L125.3 349.9 L125.8 349.9 L126.3 349.9 L126.8 349.9 L127.3 349.9 L127.8 349.9 L128.3 349.9 L128.8 349.9 L129.3 349.9 L129.8 349.9 L130.3 349.9 L130.8 349.9 L131.3 349.9 L131.8 349.9 L132.3 349.9 L132.8 349.9 L133.3 349.9 L133.8 350.5 L134.3 350.5 L134.8 350.5 L135.3 350.5 L135.8 350.5 L136.3 350.5 L136.8 350.5 L137.3 350.5 L137.8 350.5 L138.3 350.5 L138.8 350.5 L139.3 350.5 L139.8 350.5 L140.3 350.5 L140.8 350.5 L141.3 350.5 L141.8 350.5 L142.3 350.5 L142.8 350.5 L142.81 350.5" fill="none" stroke="#b0333c" stroke-width="0.55"/>
<line x1="95.11" y1="350.5" x2="142.81" y2="350.5" stroke="#b0333c" stroke-width="0.8"/>
<path d="M91.54 352.5 L91.5 352.5 L92.0 352.5 L92.5 352.5 L93.0 352.5 L93.5 352.5 L94.0 352.5 L94.5 352.5 L95.0 352.5 L95.5 352.5 L96.0 352.5 L96.5 352.5 L97.0 352.5 L97.5 352.5 L98.0 352.5 L98.5 352.5 L99.0 352.4 L99.5 352.3 L100.0 352.0 L100.5 351.5 L101.0 350.5 L101.5 347.6 L101.7 344.2 L102.0 335.4 L102.2 328.4 L102.3 325.5 L102.4 324.4 L102.5 322.8 L102.7 324.1 L102.8 327.8 L103.0 332.8 L103.0 334.6 L103.1 337.8 L103.3 343.1 L103.5 346.3 L103.6 347.3 L104.0 349.2 L104.5 350.4 L105.0 351.3 L105.5 351.9 L106.0 352.3 L106.5 352.4 L107.0 352.5 L107.5 352.5 L108.0 352.5 L108.5 352.5 L109.0 352.5 L109.5 352.5 L110.0 352.5 L110.5 352.5 L111.0 352.5 L111.5 352.5 L112.0 352.5 L112.5 352.5 L113.0 352.5 L113.5 352.5 L114.0 352.5 L114.5 352.5 L115.0 352.5 L115.5 352.5 L116.0 352.5 L116.5 352.5 L117.0 352.5 L117.5 352.5 L118.0 352.5 L118.5 352.5 L119.0 352.5 L119.5 352.5 L120.0 352.5 L120.5 352.5 L121.0 352.5 L121.5 352.5 L122.0 352.5 L122.5 352.5 L123.0 352.5 L123.5 352.5 L124.0 352.5 L124.5 352.5 L125.0 352.5 L125.5 352.5 L126.0 352.5 L126.5 352.5 L127.0 352.5 L127.5 352.5 L128.0 352.5 L128.5 352.5 L129.0 352.5 L129.5 352.5 L130.0 352.5 L130.5 352.5 L131.0 352.5 L131.5 352.5 L132.0 352.5 L132.5 352.5 L133.0 352.5 L133.5 352.5 L134.0 352.5 L134.5 352.5 L135.0 352.5 L135.5 352.5 L136.0 352.5 L136.5 352.5 L137.0 352.5 L137.5 352.5 L138.0 352.5 L138.5 352.5 L139.0 352.5 L139.04 352.5 Z" fill="#ebb15e" fill-opacity="0.72"/>
<path d="M91.5 352.5 L92.0 352.5 L92.5 352.5 L93.0 352.5 L93.5 352.5 L94.0 352.5 L94.5 352.5 L95.0 352.5 L95.5 352.5 L96.0 352.5 L96.5 352.5 L97.0 352.5 L97.5 352.5 L98.0 352.5 L98.5 352.5 L99.0 352.4 L99.5 352.3 L100.0 352.0 L100.5 351.5 L101.0 350.5 L101.5 347.6 L101.7 344.2 L102.0 335.4 L102.2 328.4 L102.3 325.5 L102.4 324.4 L102.5 322.8 L102.7 324.1 L102.8 327.8 L103.0 332.8 L103.0 334.6 L103.1 337.8 L103.3 343.1 L103.5 346.3 L103.6 347.3 L104.0 349.2 L104.5 350.4 L105.0 351.3 L105.5 351.9 L106.0 352.3 L106.5 352.4 L107.0 352.5 L107.5 352.5 L108.0 352.5 L108.5 352.5 L109.0 352.5 L109.5 352.5 L110.0 352.5 L110.5 352.5 L111.0 352.5 L111.5 352.5 L112.0 352.5 L112.5 352.5 L113.0 352.5 L113.5 352.5 L114.0 352.5 L114.5 352.5 L115.0 352.5 L115.5 352.5 L116.0 352.5 L116.5 352.5 L117.0 352.5 L117.5 352.5 L118.0 352.5 L118.5 352.5 L119.0 352.5 L119.5 352.5 L120.0 352.5 L120.5 352.5 L121.0 352.5 L121.5 352.5 L122.0 352.5 L122.5 352.5 L123.0 352.5 L123.5 352.5 L124.0 352.5 L124.5 352.5 L125.0 352.5 L125.5 352.5 L126.0 352.5 L126.5 352.5 L127.0 352.5 L127.5 352.5 L128.0 352.5 L128.5 352.5 L129.0 352.5 L129.5 352.5 L130.0 352.5 L130.5 352.5 L131.0 352.5 L131.5 352.5 L132.0 352.5 L132.5 352.5 L133.0 352.5 L133.5 352.5 L134.0 352.5 L134.5 352.5 L135.0 352.5 L135.5 352.5 L136.0 352.5 L136.5 352.5 L137.0 352.5 L137.5 352.5 L138.0 352.5 L138.5 352.5 L139.0 352.5 L139.04 352.5" fill="none" stroke="#e09a30" stroke-width="0.55"/>
<line x1="91.34" y1="352.5" x2="139.04" y2="352.5" stroke="#e09a30" stroke-width="0.8"/>
<path d="M87.77 354.5 L87.8 354.5 L88.3 354.5 L88.8 354.5 L89.3 354.5 L89.8 354.5 L90.3 354.5 L90.8 354.5 L91.3 354.5 L91.8 354.5 L92.3 354.5 L92.8 354.5 L93.3 354.5 L93.8 354.5 L94.3 354.5 L94.8 354.5 L95.3 354.4 L95.8 354.3 L96.3 354.0 L96.8 353.4 L97.3 352.5 L97.8 349.5 L98.0 346.1 L98.3 337.1 L98.5 329.9 L98.6 327.0 L98.6 325.9 L98.8 324.3 L98.9 325.7 L99.1 329.4 L99.2 334.5 L99.3 336.2 L99.4 339.6 L99.6 344.9 L99.8 348.2 L99.9 349.2 L100.3 351.1 L100.8 352.3 L101.3 353.3 L101.8 353.9 L102.3 354.3 L102.8 354.4 L103.3 354.5 L103.8 354.5 L104.3 354.5 L104.8 354.5 L105.3 354.5 L105.8 354.5 L106.3 354.5 L106.8 354.5 L107.3 354.5 L107.8 354.5 L108.3 354.5 L108.8 354.5 L109.3 354.5 L109.8 354.5 L110.3 354.5 L110.8 354.5 L111.3 354.5 L111.8 354.5 L112.3 354.5 L112.8 354.5 L113.3 354.5 L113.8 354.5 L114.3 354.5 L114.8 354.5 L115.3 354.5 L115.8 354.5 L116.3 354.5 L116.8 354.5 L117.3 354.5 L117.8 354.5 L118.3 354.5 L118.8 354.5 L119.3 354.5 L119.8 354.5 L120.3 354.5 L120.8 354.5 L121.3 354.5 L121.8 354.5 L122.3 354.5 L122.8 354.5 L123.3 354.5 L123.8 354.5 L124.3 354.5 L124.8 354.5 L125.3 354.5 L125.8 354.5 L126.3 354.5 L126.8 354.5 L127.3 354.5 L127.8 354.5 L128.3 354.5 L128.8 354.5 L129.3 354.5 L129.8 354.5 L130.3 354.5 L130.8 354.5 L131.3 354.5 L131.8 354.5 L132.3 354.5 L132.8 354.5 L133.3 354.5 L133.8 354.5 L134.3 354.5 L134.8 354.5 L135.3 354.5 L135.27 354.5 Z" fill="#7e7a8c" fill-opacity="0.72"/>
<path d="M87.8 354.5 L88.3 354.5 L88.8 354.5 L89.3 354.5 L89.8 354.5 L90.3 354.5 L90.8 354.5 L91.3 354.5 L91.8 354.5 L92.3 354.5 L92.8 354.5 L93.3 354.5 L93.8 354.5 L94.3 354.5 L94.8 354.5 L95.3 354.4 L95.8 354.3 L96.3 354.0 L96.8 353.4 L97.3 352.5 L97.8 349.5 L98.0 346.1 L98.3 337.1 L98.5 329.9 L98.6 327.0 L98.6 325.9 L98.8 324.3 L98.9 325.7 L99.1 329.4 L99.2 334.5 L99.3 336.2 L99.4 339.6 L99.6 344.9 L99.8 348.2 L99.9 349.2 L100.3 351.1 L100.8 352.3 L101.3 353.3 L101.8 353.9 L102.3 354.3 L102.8 354.4 L103.3 354.5 L103.8 354.5 L104.3 354.5 L104.8 354.5 L105.3 354.5 L105.8 354.5 L106.3 354.5 L106.8 354.5 L107.3 354.5 L107.8 354.5 L108.3 354.5 L108.8 354.5 L109.3 354.5 L109.8 354.5 L110.3 354.5 L110.8 354.5 L111.3 354.5 L111.8 354.5 L112.3 354.5 L112.8 354.5 L113.3 354.5 L113.8 354.5 L114.3 354.5 L114.8 354.5 L115.3 354.5 L115.8 354.5 L116.3 354.5 L116.8 354.5 L117.3 354.5 L117.8 354.5 L118.3 354.5 L118.8 354.5 L119.3 354.5 L119.8 354.5 L120.3 354.5 L120.8 354.5 L121.3 354.5 L121.8 354.5 L122.3 354.5 L122.8 354.5 L123.3 354.5 L123.8 354.5 L124.3 354.5 L124.8 354.5 L125.3 354.5 L125.8 354.5 L126.3 354.5 L126.8 354.5 L127.3 354.5 L127.8 354.5 L128.3 354.5 L128.8 354.5 L129.3 354.5 L129.8 354.5 L130.3 354.5 L130.8 354.5 L131.3 354.5 L131.8 354.5 L132.3 354.5 L132.8 354.5 L133.3 354.5 L133.8 354.5 L134.3 354.5 L134.8 354.5 L135.3 354.5 L135.27 354.5" fill="none" stroke="#4d5d8a" stroke-width="0.55"/>
<line x1="87.57" y1="354.5" x2="135.27" y2="354.5" stroke="#4d5d8a" stroke-width="0.8"/>
<path d="M84 356.5 L84.0 356.5 L84.5 356.5 L85.0 356.5 L85.5 356.5 L86.0 356.5 L86.5 356.5 L87.0 356.5 L87.5 356.5 L88.0 356.5 L88.5 356.5 L89.0 356.5 L89.5 356.5 L90.0 356.5 L90.5 356.5 L91.0 356.5 L91.5 356.4 L92.0 356.2 L92.5 355.9 L93.0 355.1 L93.5 353.9 L94.0 350.1 L94.2 345.7 L94.5 334.1 L94.7 325.0 L94.8 321.3 L94.8 319.8 L95.0 317.8 L95.2 319.5 L95.3 324.3 L95.5 330.8 L95.5 333.1 L95.6 337.4 L95.8 344.2 L96.0 348.4 L96.1 349.7 L96.5 352.1 L97.0 353.7 L97.5 354.9 L98.0 355.7 L98.5 356.2 L99.0 356.4 L99.5 356.5 L100.0 356.5 L100.5 356.5 L101.0 356.5 L101.5 356.5 L102.0 356.5 L102.5 356.5 L103.0 356.5 L103.5 356.5 L104.0 356.5 L104.5 356.5 L105.0 356.5 L105.5 356.5 L106.0 356.5 L106.5 356.5 L107.0 356.5 L107.5 356.5 L108.0 356.5 L108.5 356.5 L109.0 356.5 L109.5 356.5 L110.0 356.5 L110.5 356.5 L111.0 356.5 L111.5 356.5 L112.0 356.5 L112.5 356.5 L113.0 356.5 L113.5 356.5 L114.0 356.5 L114.5 356.5 L115.0 356.5 L115.5 356.5 L116.0 356.5 L116.5 356.5 L117.0 356.5 L117.5 356.5 L118.0 356.5 L118.5 356.5 L119.0 356.5 L119.5 356.5 L120.0 356.5 L120.5 356.5 L121.0 356.5 L121.5 356.5 L122.0 356.5 L122.5 356.5 L123.0 356.5 L123.5 356.5 L124.0 356.5 L124.5 356.5 L125.0 356.5 L125.5 356.5 L126.0 356.5 L126.5 356.5 L127.0 356.5 L127.5 356.5 L128.0 356.5 L128.5 356.5 L129.0 356.5 L129.5 356.5 L130.0 356.5 L130.5 356.5 L131.0 356.5 L131.5 356.5 L131.5 356.5 Z" fill="#a7c6ea" fill-opacity="0.72"/>
<path d="M84.0 356.5 L84.5 356.5 L85.0 356.5 L85.5 356.5 L86.0 356.5 L86.5 356.5 L87.0 356.5 L87.5 356.5 L88.0 356.5 L88.5 356.5 L89.0 356.5 L89.5 356.5 L90.0 356.5 L90.5 356.5 L91.0 356.5 L91.5 356.4 L92.0 356.2 L92.5 355.9 L93.0 355.1 L93.5 353.9 L94.0 350.1 L94.2 345.7 L94.5 334.1 L94.7 325.0 L94.8 321.3 L94.8 319.8 L95.0 317.8 L95.2 319.5 L95.3 324.3 L95.5 330.8 L95.5 333.1 L95.6 337.4 L95.8 344.2 L96.0 348.4 L96.1 349.7 L96.5 352.1 L97.0 353.7 L97.5 354.9 L98.0 355.7 L98.5 356.2 L99.0 356.4 L99.5 356.5 L100.0 356.5 L100.5 356.5 L101.0 356.5 L101.5 356.5 L102.0 356.5 L102.5 356.5 L103.0 356.5 L103.5 356.5 L104.0 356.5 L104.5 356.5 L105.0 356.5 L105.5 356.5 L106.0 356.5 L106.5 356.5 L107.0 356.5 L107.5 356.5 L108.0 356.5 L108.5 356.5 L109.0 356.5 L109.5 356.5 L110.0 356.5 L110.5 356.5 L111.0 356.5 L111.5 356.5 L112.0 356.5 L112.5 356.5 L113.0 356.5 L113.5 356.5 L114.0 356.5 L114.5 356.5 L115.0 356.5 L115.5 356.5 L116.0 356.5 L116.5 356.5 L117.0 356.5 L117.5 356.5 L118.0 356.5 L118.5 356.5 L119.0 356.5 L119.5 356.5 L120.0 356.5 L120.5 356.5 L121.0 356.5 L121.5 356.5 L122.0 356.5 L122.5 356.5 L123.0 356.5 L123.5 356.5 L124.0 356.5 L124.5 356.5 L125.0 356.5 L125.5 356.5 L126.0 356.5 L126.5 356.5 L127.0 356.5 L127.5 356.5 L128.0 356.5 L128.5 356.5 L129.0 356.5 L129.5 356.5 L130.0 356.5 L130.5 356.5 L131.0 356.5 L131.5 356.5 L131.5 356.5" fill="none" stroke="#6fa3d8" stroke-width="0.55"/>
<line x1="83.8" y1="356.5" x2="131.5" y2="356.5" stroke="#6fa3d8" stroke-width="0.8"/>
<line x1="83.4" y1="357.5" x2="130.3" y2="357.5" stroke="#444" stroke-width="0.5"/>
<path d="M89.45 358.00v1.6M89.86 358.00v1.6M90.28 358.00v1.6M90.70 358.00v1.6M91.14 358.00v1.6M91.60 358.00v1.6M92.07 358.00v1.6M92.56 358.00v1.6M93.07 358.00v1.6M93.62 358.00v1.6M94.22 358.00v1.6M94.90 358.00v1.6M95.90 358.00v1.6M96.90 358.00v1.6M97.58 358.00v1.6M98.18 358.00v1.6M98.73 358.00v1.6M99.24 358.00v1.6M99.73 358.00v1.6M100.20 358.00v1.6M100.66 358.00v1.6M101.10 358.00v1.6M101.52 358.00v1.6M101.94 358.00v1.6M102.35 358.00v1.6M88.60 358.00v2.2M95.90 358.00v2.2M103.40 358.00v2.2M115.90 358.00v2.2M127.80 358.00v2.2M107.16 358.00v1.5M109.36 358.00v1.5M110.93 358.00v1.5M112.14 358.00v1.5M113.13 358.00v1.5M113.96 358.00v1.5M114.69 358.00v1.5M115.33 358.00v1.5M119.48 358.00v1.5M121.58 358.00v1.5M123.06 358.00v1.5M124.22 358.00v1.5M125.16 358.00v1.5M125.96 358.00v1.5M126.65 358.00v1.5M127.26 358.00v1.5" stroke="#111" stroke-width="0.6" fill="none"/>
<text x="88.6" y="367.6" font-size="4.6" text-anchor="middle" fill="#8a8a8a">-10<tspan font-size="2.85" dy="-1.75">3</tspan></text>
<text x="95.9" y="367.6" font-size="4.6" text-anchor="middle" fill="#8a8a8a">0</text>
<text x="103.4" y="367.6" font-size="4.6" text-anchor="middle" fill="#8a8a8a">10<tspan font-size="2.85" dy="-1.75">3</tspan></text>
<text x="115.9" y="367.6" font-size="4.6" text-anchor="middle" fill="#8a8a8a">10<tspan font-size="2.85" dy="-1.75">4</tspan></text>
<text x="127.8" y="367.6" font-size="4.6" text-anchor="middle" fill="#8a8a8a">10<tspan font-size="2.85" dy="-1.75">5</tspan></text>
<text x="90.8" y="378" font-size="7.03" stroke="#231f20" stroke-width="0.2" textLength="33.6" lengthAdjust="spacingAndGlyphs">Anti-HLA-DR</text>
<path d="M156.8 357.5 L168.11 350 M203.7 357.5 L216.51 350" fill="none" stroke="#111" stroke-width="0.7"/>
<path d="M168.71 350.5 L168.7 350.5 L169.2 350.5 L169.7 350.5 L170.2 350.5 L170.7 350.5 L171.2 350.5 L171.7 350.5 L172.2 350.5 L172.7 350.5 L173.2 350.5 L173.7 350.5 L174.2 350.5 L174.7 350.5 L175.2 350.5 L175.7 350.5 L176.2 350.5 L176.7 350.5 L177.2 350.5 L177.7 350.5 L178.2 350.5 L178.7 350.5 L179.2 350.2 L179.7 348.6 L180.2 345.0 L180.7 342.7 L181.2 343.0 L181.7 340.6 L182.2 342.2 L182.7 343.9 L183.2 345.4 L183.7 346.7 L184.2 347.6 L184.7 348.3 L185.2 348.8 L185.7 349.1 L186.2 349.3 L186.7 349.4 L187.2 349.5 L187.7 349.6 L188.2 349.6 L188.7 349.7 L189.2 349.7 L189.7 349.8 L190.2 349.8 L190.7 349.8 L191.2 349.8 L191.7 349.9 L192.2 349.9 L192.7 349.9 L193.2 349.9 L193.7 349.9 L194.2 349.9 L194.7 349.9 L195.2 349.9 L195.7 349.9 L196.2 349.9 L196.7 349.9 L197.2 349.9 L197.7 349.9 L198.2 349.9 L198.7 349.9 L199.2 349.9 L199.7 349.9 L200.2 349.9 L200.7 349.9 L201.2 349.9 L201.7 349.9 L202.2 349.9 L202.7 349.9 L203.2 349.9 L203.7 349.9 L204.2 349.9 L204.7 349.9 L205.2 349.9 L205.7 349.9 L206.2 349.9 L206.7 349.9 L207.2 350.5 L207.7 350.5 L208.2 350.5 L208.7 350.5 L209.2 350.5 L209.7 350.5 L210.2 350.5 L210.7 350.5 L211.2 350.5 L211.7 350.5 L212.2 350.5 L212.7 350.5 L213.2 350.5 L213.7 350.5 L214.2 350.5 L214.7 350.5 L215.2 350.5 L215.7 350.5 L216.2 350.5 L216.21 350.5 Z" fill="#c25c60" fill-opacity="0.72"/>
<path d="M168.7 350.5 L169.2 350.5 L169.7 350.5 L170.2 350.5 L170.7 350.5 L171.2 350.5 L171.7 350.5 L172.2 350.5 L172.7 350.5 L173.2 350.5 L173.7 350.5 L174.2 350.5 L174.7 350.5 L175.2 350.5 L175.7 350.5 L176.2 350.5 L176.7 350.5 L177.2 350.5 L177.7 350.5 L178.2 350.5 L178.7 350.5 L179.2 350.2 L179.7 348.6 L180.2 345.0 L180.7 342.7 L181.2 343.0 L181.7 340.6 L182.2 342.2 L182.7 343.9 L183.2 345.4 L183.7 346.7 L184.2 347.6 L184.7 348.3 L185.2 348.8 L185.7 349.1 L186.2 349.3 L186.7 349.4 L187.2 349.5 L187.7 349.6 L188.2 349.6 L188.7 349.7 L189.2 349.7 L189.7 349.8 L190.2 349.8 L190.7 349.8 L191.2 349.8 L191.7 349.9 L192.2 349.9 L192.7 349.9 L193.2 349.9 L193.7 349.9 L194.2 349.9 L194.7 349.9 L195.2 349.9 L195.7 349.9 L196.2 349.9 L196.7 349.9 L197.2 349.9 L197.7 349.9 L198.2 349.9 L198.7 349.9 L199.2 349.9 L199.7 349.9 L200.2 349.9 L200.7 349.9 L201.2 349.9 L201.7 349.9 L202.2 349.9 L202.7 349.9 L203.2 349.9 L203.7 349.9 L204.2 349.9 L204.7 349.9 L205.2 349.9 L205.7 349.9 L206.2 349.9 L206.7 349.9 L207.2 350.5 L207.7 350.5 L208.2 350.5 L208.7 350.5 L209.2 350.5 L209.7 350.5 L210.2 350.5 L210.7 350.5 L211.2 350.5 L211.7 350.5 L212.2 350.5 L212.7 350.5 L213.2 350.5 L213.7 350.5 L214.2 350.5 L214.7 350.5 L215.2 350.5 L215.7 350.5 L216.2 350.5 L216.21 350.5" fill="none" stroke="#b0333c" stroke-width="0.55"/>
<line x1="168.51" y1="350.5" x2="216.21" y2="350.5" stroke="#b0333c" stroke-width="0.8"/>
<path d="M164.94 352.5 L164.9 352.5 L165.4 352.5 L165.9 352.5 L166.4 352.5 L166.9 352.5 L167.4 352.5 L167.9 352.5 L168.4 352.5 L168.9 352.5 L169.4 352.5 L169.9 352.5 L170.4 352.5 L170.9 352.5 L171.4 352.5 L171.9 352.5 L172.4 352.5 L172.9 352.4 L173.4 352.1 L173.9 351.8 L174.4 351.1 L174.9 349.0 L175.1 346.6 L175.4 340.3 L175.6 335.3 L175.7 333.3 L175.8 332.5 L175.9 331.4 L176.1 332.3 L176.2 334.9 L176.4 338.5 L176.4 339.7 L176.5 342.1 L176.7 345.8 L176.9 348.1 L177.0 348.8 L177.4 350.1 L177.9 351.0 L178.4 351.6 L178.9 352.1 L179.4 352.3 L179.9 352.4 L180.4 352.5 L180.9 352.5 L181.4 352.5 L181.9 352.5 L182.4 352.5 L182.9 352.5 L183.4 352.5 L183.9 352.5 L184.4 352.5 L184.9 352.5 L185.4 352.5 L185.9 352.5 L186.4 352.5 L186.9 352.5 L187.4 352.5 L187.9 352.5 L188.4 352.5 L188.9 352.5 L189.4 352.5 L189.9 352.5 L190.4 352.5 L190.9 352.5 L191.4 352.5 L191.9 352.5 L192.4 352.5 L192.9 352.5 L193.4 352.5 L193.9 352.5 L194.4 352.5 L194.9 352.5 L195.4 352.5 L195.9 352.5 L196.4 352.5 L196.9 352.5 L197.4 352.5 L197.9 352.5 L198.4 352.5 L198.9 352.5 L199.4 352.5 L199.9 352.5 L200.4 352.5 L200.9 352.5 L201.4 352.5 L201.9 352.5 L202.4 352.5 L202.9 352.5 L203.4 352.5 L203.9 352.5 L204.4 352.5 L204.9 352.5 L205.4 352.5 L205.9 352.5 L206.4 352.5 L206.9 352.5 L207.4 352.5 L207.9 352.5 L208.4 352.5 L208.9 352.5 L209.4 352.5 L209.9 352.5 L210.4 352.5 L210.9 352.5 L211.4 352.5 L211.9 352.5 L212.4 352.5 L212.44 352.5 Z" fill="#ebb15e" fill-opacity="0.72"/>
<path d="M164.9 352.5 L165.4 352.5 L165.9 352.5 L166.4 352.5 L166.9 352.5 L167.4 352.5 L167.9 352.5 L168.4 352.5 L168.9 352.5 L169.4 352.5 L169.9 352.5 L170.4 352.5 L170.9 352.5 L171.4 352.5 L171.9 352.5 L172.4 352.5 L172.9 352.4 L173.4 352.1 L173.9 351.8 L174.4 351.1 L174.9 349.0 L175.1 346.6 L175.4 340.3 L175.6 335.3 L175.7 333.3 L175.8 332.5 L175.9 331.4 L176.1 332.3 L176.2 334.9 L176.4 338.5 L176.4 339.7 L176.5 342.1 L176.7 345.8 L176.9 348.1 L177.0 348.8 L177.4 350.1 L177.9 351.0 L178.4 351.6 L178.9 352.1 L179.4 352.3 L179.9 352.4 L180.4 352.5 L180.9 352.5 L181.4 352.5 L181.9 352.5 L182.4 352.5 L182.9 352.5 L183.4 352.5 L183.9 352.5 L184.4 352.5 L184.9 352.5 L185.4 352.5 L185.9 352.5 L186.4 352.5 L186.9 352.5 L187.4 352.5 L187.9 352.5 L188.4 352.5 L188.9 352.5 L189.4 352.5 L189.9 352.5 L190.4 352.5 L190.9 352.5 L191.4 352.5 L191.9 352.5 L192.4 352.5 L192.9 352.5 L193.4 352.5 L193.9 352.5 L194.4 352.5 L194.9 352.5 L195.4 352.5 L195.9 352.5 L196.4 352.5 L196.9 352.5 L197.4 352.5 L197.9 352.5 L198.4 352.5 L198.9 352.5 L199.4 352.5 L199.9 352.5 L200.4 352.5 L200.9 352.5 L201.4 352.5 L201.9 352.5 L202.4 352.5 L202.9 352.5 L203.4 352.5 L203.9 352.5 L204.4 352.5 L204.9 352.5 L205.4 352.5 L205.9 352.5 L206.4 352.5 L206.9 352.5 L207.4 352.5 L207.9 352.5 L208.4 352.5 L208.9 352.5 L209.4 352.5 L209.9 352.5 L210.4 352.5 L210.9 352.5 L211.4 352.5 L211.9 352.5 L212.4 352.5 L212.44 352.5" fill="none" stroke="#e09a30" stroke-width="0.55"/>
<line x1="164.74" y1="352.5" x2="212.44" y2="352.5" stroke="#e09a30" stroke-width="0.8"/>
<path d="M161.17 354.5 L161.2 354.5 L161.7 354.5 L162.2 354.5 L162.7 354.5 L163.2 354.5 L163.7 354.5 L164.2 354.5 L164.7 354.5 L165.2 354.5 L165.7 354.5 L166.2 354.5 L166.7 354.5 L167.2 354.5 L167.7 354.5 L168.2 354.5 L168.7 354.5 L169.2 354.4 L169.7 354.2 L170.2 353.8 L170.7 353.2 L171.2 351.4 L171.4 349.3 L171.7 343.7 L171.9 339.4 L172.0 337.6 L172.0 336.9 L172.2 335.9 L172.3 336.7 L172.5 339.0 L172.6 342.2 L172.7 343.2 L172.8 345.3 L173.0 348.6 L173.2 350.6 L173.3 351.2 L173.7 352.4 L174.2 353.2 L174.7 353.7 L175.2 354.1 L175.7 354.3 L176.2 354.4 L176.7 354.5 L177.2 354.5 L177.7 354.5 L178.2 354.5 L178.7 354.5 L179.2 354.5 L179.7 354.5 L180.2 354.5 L180.7 354.5 L181.2 354.5 L181.7 354.5 L182.2 354.5 L182.7 354.5 L183.2 354.5 L183.7 354.5 L184.2 354.5 L184.7 354.5 L185.2 354.5 L185.7 354.5 L186.2 354.5 L186.7 354.5 L187.2 354.5 L187.7 354.5 L188.2 354.5 L188.7 354.5 L189.2 354.5 L189.7 354.5 L190.2 354.5 L190.7 354.5 L191.2 354.5 L191.7 354.5 L192.2 354.5 L192.7 354.5 L193.2 354.5 L193.7 354.5 L194.2 354.5 L194.7 354.5 L195.2 354.5 L195.7 354.5 L196.2 354.5 L196.7 354.5 L197.2 354.5 L197.7 354.5 L198.2 354.5 L198.7 354.5 L199.2 354.5 L199.7 354.5 L200.2 354.5 L200.7 354.5 L201.2 354.5 L201.7 354.5 L202.2 354.5 L202.7 354.5 L203.2 354.5 L203.7 354.5 L204.2 354.5 L204.7 354.5 L205.2 354.5 L205.7 354.5 L206.2 354.5 L206.7 354.5 L207.2 354.5 L207.7 354.5 L208.2 354.5 L208.7 354.5 L208.67 354.5 Z" fill="#7e7a8c" fill-opacity="0.72"/>
<path d="M161.2 354.5 L161.7 354.5 L162.2 354.5 L162.7 354.5 L163.2 354.5 L163.7 354.5 L164.2 354.5 L164.7 354.5 L165.2 354.5 L165.7 354.5 L166.2 354.5 L166.7 354.5 L167.2 354.5 L167.7 354.5 L168.2 354.5 L168.7 354.5 L169.2 354.4 L169.7 354.2 L170.2 353.8 L170.7 353.2 L171.2 351.4 L171.4 349.3 L171.7 343.7 L171.9 339.4 L172.0 337.6 L172.0 336.9 L172.2 335.9 L172.3 336.7 L172.5 339.0 L172.6 342.2 L172.7 343.2 L172.8 345.3 L173.0 348.6 L173.2 350.6 L173.3 351.2 L173.7 352.4 L174.2 353.2 L174.7 353.7 L175.2 354.1 L175.7 354.3 L176.2 354.4 L176.7 354.5 L177.2 354.5 L177.7 354.5 L178.2 354.5 L178.7 354.5 L179.2 354.5 L179.7 354.5 L180.2 354.5 L180.7 354.5 L181.2 354.5 L181.7 354.5 L182.2 354.5 L182.7 354.5 L183.2 354.5 L183.7 354.5 L184.2 354.5 L184.7 354.5 L185.2 354.5 L185.7 354.5 L186.2 354.5 L186.7 354.5 L187.2 354.5 L187.7 354.5 L188.2 354.5 L188.7 354.5 L189.2 354.5 L189.7 354.5 L190.2 354.5 L190.7 354.5 L191.2 354.5 L191.7 354.5 L192.2 354.5 L192.7 354.5 L193.2 354.5 L193.7 354.5 L194.2 354.5 L194.7 354.5 L195.2 354.5 L195.7 354.5 L196.2 354.5 L196.7 354.5 L197.2 354.5 L197.7 354.5 L198.2 354.5 L198.7 354.5 L199.2 354.5 L199.7 354.5 L200.2 354.5 L200.7 354.5 L201.2 354.5 L201.7 354.5 L202.2 354.5 L202.7 354.5 L203.2 354.5 L203.7 354.5 L204.2 354.5 L204.7 354.5 L205.2 354.5 L205.7 354.5 L206.2 354.5 L206.7 354.5 L207.2 354.5 L207.7 354.5 L208.2 354.5 L208.7 354.5 L208.67 354.5" fill="none" stroke="#4d5d8a" stroke-width="0.55"/>
<line x1="160.97" y1="354.5" x2="208.67" y2="354.5" stroke="#4d5d8a" stroke-width="0.8"/>
<path d="M157.4 356.5 L157.4 356.5 L157.9 356.5 L158.4 356.5 L158.9 356.5 L159.4 356.5 L159.9 356.5 L160.4 356.5 L160.9 356.5 L161.4 356.5 L161.9 356.5 L162.4 356.5 L162.9 356.5 L163.4 356.5 L163.9 356.5 L164.4 356.5 L164.9 356.4 L165.4 356.2 L165.9 355.8 L166.4 355.1 L166.9 353.9 L167.4 350.0 L167.6 345.6 L167.9 333.8 L168.1 324.6 L168.2 320.8 L168.2 319.3 L168.4 317.3 L168.6 319.0 L168.7 323.9 L168.8 330.5 L168.9 332.8 L169.0 337.1 L169.2 344.1 L169.4 348.3 L169.5 349.6 L169.9 352.1 L170.4 353.7 L170.9 354.9 L171.4 355.7 L171.9 356.2 L172.4 356.4 L172.9 356.5 L173.4 356.5 L173.9 356.5 L174.4 356.5 L174.9 356.5 L175.4 356.5 L175.9 356.5 L176.4 356.5 L176.9 356.5 L177.4 356.5 L177.9 356.5 L178.4 356.5 L178.9 356.5 L179.4 356.5 L179.9 356.5 L180.4 356.5 L180.9 356.5 L181.4 356.5 L181.9 356.5 L182.4 356.5 L182.9 356.5 L183.4 356.5 L183.9 356.5 L184.4 356.5 L184.9 356.5 L185.4 356.5 L185.9 356.5 L186.4 356.5 L186.9 356.5 L187.4 356.5 L187.9 356.5 L188.4 356.5 L188.9 356.5 L189.4 356.5 L189.9 356.5 L190.4 356.5 L190.9 356.5 L191.4 356.5 L191.9 356.5 L192.4 356.5 L192.9 356.5 L193.4 356.5 L193.9 356.5 L194.4 356.5 L194.9 356.5 L195.4 356.5 L195.9 356.5 L196.4 356.5 L196.9 356.5 L197.4 356.5 L197.9 356.5 L198.4 356.5 L198.9 356.5 L199.4 356.5 L199.9 356.5 L200.4 356.5 L200.9 356.5 L201.4 356.5 L201.9 356.5 L202.4 356.5 L202.9 356.5 L203.4 356.5 L203.9 356.5 L204.4 356.5 L204.9 356.5 L204.9 356.5 Z" fill="#a7c6ea" fill-opacity="0.72"/>
<path d="M157.4 356.5 L157.9 356.5 L158.4 356.5 L158.9 356.5 L159.4 356.5 L159.9 356.5 L160.4 356.5 L160.9 356.5 L161.4 356.5 L161.9 356.5 L162.4 356.5 L162.9 356.5 L163.4 356.5 L163.9 356.5 L164.4 356.5 L164.9 356.4 L165.4 356.2 L165.9 355.8 L166.4 355.1 L166.9 353.9 L167.4 350.0 L167.6 345.6 L167.9 333.8 L168.1 324.6 L168.2 320.8 L168.2 319.3 L168.4 317.3 L168.6 319.0 L168.7 323.9 L168.8 330.5 L168.9 332.8 L169.0 337.1 L169.2 344.1 L169.4 348.3 L169.5 349.6 L169.9 352.1 L170.4 353.7 L170.9 354.9 L171.4 355.7 L171.9 356.2 L172.4 356.4 L172.9 356.5 L173.4 356.5 L173.9 356.5 L174.4 356.5 L174.9 356.5 L175.4 356.5 L175.9 356.5 L176.4 356.5 L176.9 356.5 L177.4 356.5 L177.9 356.5 L178.4 356.5 L178.9 356.5 L179.4 356.5 L179.9 356.5 L180.4 356.5 L180.9 356.5 L181.4 356.5 L181.9 356.5 L182.4 356.5 L182.9 356.5 L183.4 356.5 L183.9 356.5 L184.4 356.5 L184.9 356.5 L185.4 356.5 L185.9 356.5 L186.4 356.5 L186.9 356.5 L187.4 356.5 L187.9 356.5 L188.4 356.5 L188.9 356.5 L189.4 356.5 L189.9 356.5 L190.4 356.5 L190.9 356.5 L191.4 356.5 L191.9 356.5 L192.4 356.5 L192.9 356.5 L193.4 356.5 L193.9 356.5 L194.4 356.5 L194.9 356.5 L195.4 356.5 L195.9 356.5 L196.4 356.5 L196.9 356.5 L197.4 356.5 L197.9 356.5 L198.4 356.5 L198.9 356.5 L199.4 356.5 L199.9 356.5 L200.4 356.5 L200.9 356.5 L201.4 356.5 L201.9 356.5 L202.4 356.5 L202.9 356.5 L203.4 356.5 L203.9 356.5 L204.4 356.5 L204.9 356.5 L204.9 356.5" fill="none" stroke="#6fa3d8" stroke-width="0.55"/>
<line x1="157.2" y1="356.5" x2="204.9" y2="356.5" stroke="#6fa3d8" stroke-width="0.8"/>
<line x1="156.8" y1="357.5" x2="203.7" y2="357.5" stroke="#444" stroke-width="0.5"/>
<path d="M162.85 358.00v1.6M163.26 358.00v1.6M163.68 358.00v1.6M164.10 358.00v1.6M164.54 358.00v1.6M165.00 358.00v1.6M165.47 358.00v1.6M165.96 358.00v1.6M166.47 358.00v1.6M167.02 358.00v1.6M167.62 358.00v1.6M168.30 358.00v1.6M169.30 358.00v1.6M170.30 358.00v1.6M170.98 358.00v1.6M171.58 358.00v1.6M172.13 358.00v1.6M172.64 358.00v1.6M173.13 358.00v1.6M173.60 358.00v1.6M174.06 358.00v1.6M174.50 358.00v1.6M174.92 358.00v1.6M175.34 358.00v1.6M175.75 358.00v1.6M162.00 358.00v2.2M169.30 358.00v2.2M176.80 358.00v2.2M189.30 358.00v2.2M201.20 358.00v2.2M180.56 358.00v1.5M182.76 358.00v1.5M184.33 358.00v1.5M185.54 358.00v1.5M186.53 358.00v1.5M187.36 358.00v1.5M188.09 358.00v1.5M188.73 358.00v1.5M192.88 358.00v1.5M194.98 358.00v1.5M196.46 358.00v1.5M197.62 358.00v1.5M198.56 358.00v1.5M199.36 358.00v1.5M200.05 358.00v1.5M200.66 358.00v1.5" stroke="#111" stroke-width="0.6" fill="none"/>
<text x="162" y="367.6" font-size="4.6" text-anchor="middle" fill="#8a8a8a">-10<tspan font-size="2.85" dy="-1.75">3</tspan></text>
<text x="169.3" y="367.6" font-size="4.6" text-anchor="middle" fill="#8a8a8a">0</text>
<text x="176.8" y="367.6" font-size="4.6" text-anchor="middle" fill="#8a8a8a">10<tspan font-size="2.85" dy="-1.75">3</tspan></text>
<text x="189.3" y="367.6" font-size="4.6" text-anchor="middle" fill="#8a8a8a">10<tspan font-size="2.85" dy="-1.75">4</tspan></text>
<text x="201.2" y="367.6" font-size="4.6" text-anchor="middle" fill="#8a8a8a">10<tspan font-size="2.85" dy="-1.75">5</tspan></text>
<text x="165" y="378.4" font-size="7.03" stroke="#231f20" stroke-width="0.2" textLength="33.8" lengthAdjust="spacingAndGlyphs">Anti-HLA-DR</text>
<path d="M14.8 429.5 L26.11 422 M61.7 429.5 L74.51 422" fill="none" stroke="#111" stroke-width="0.7"/>
<path d="M26.71 422.5 L26.7 419.0 L26.9 418.2 L27.0 417.9 L27.2 418.2 L27.2 418.4 L27.3 419.0 L27.5 420.3 L27.7 421.3 L27.8 421.7 L28.2 422.2 L28.7 422.2 L29.2 422.2 L29.7 422.1 L30.2 422.0 L30.7 422.0 L31.2 421.9 L31.7 421.8 L32.2 421.8 L32.7 421.7 L33.2 421.6 L33.7 421.6 L34.2 421.5 L34.7 421.5 L35.2 421.5 L35.7 421.4 L36.2 421.4 L36.7 421.4 L37.2 421.3 L37.7 421.3 L38.2 421.2 L38.7 421.1 L39.2 421.1 L39.7 421.0 L40.2 420.9 L40.7 420.8 L41.2 420.7 L41.7 420.6 L42.2 420.5 L42.7 420.4 L43.2 420.3 L43.7 420.1 L44.2 420.0 L44.7 419.8 L45.2 419.7 L45.7 419.6 L46.2 419.5 L46.7 419.3 L47.2 419.2 L47.7 419.1 L48.2 419.0 L48.7 419.0 L49.2 418.9 L49.7 418.9 L50.2 418.9 L50.7 418.9 L51.2 418.9 L51.7 419.0 L52.2 419.1 L52.7 419.3 L53.2 419.4 L53.7 419.6 L54.2 419.8 L54.7 420.0 L55.2 420.2 L55.7 420.4 L56.2 420.7 L56.7 420.9 L57.2 421.1 L57.7 421.3 L58.2 421.4 L58.7 421.6 L59.2 421.7 L59.7 421.9 L60.2 422.0 L60.7 422.1 L61.2 422.2 L61.7 422.2 L62.2 422.3 L62.7 422.3 L63.2 422.4 L63.7 422.4 L64.2 422.4 L64.7 422.4 L65.2 422.5 L65.7 422.5 L66.2 422.5 L66.7 422.5 L67.2 422.5 L67.7 422.5 L68.2 422.5 L68.7 422.5 L69.2 422.5 L69.7 422.5 L70.2 422.5 L70.7 422.5 L71.2 422.5 L71.7 422.5 L72.2 422.5 L72.7 422.5 L73.2 422.5 L73.7 422.5 L74.2 422.5 L74.21 422.5 Z" fill="#c25c60" fill-opacity="0.72"/>
<path d="M26.7 419.0 L26.9 418.2 L27.0 417.9 L27.2 418.2 L27.2 418.4 L27.3 419.0 L27.5 420.3 L27.7 421.3 L27.8 421.7 L28.2 422.2 L28.7 422.2 L29.2 422.2 L29.7 422.1 L30.2 422.0 L30.7 422.0 L31.2 421.9 L31.7 421.8 L32.2 421.8 L32.7 421.7 L33.2 421.6 L33.7 421.6 L34.2 421.5 L34.7 421.5 L35.2 421.5 L35.7 421.4 L36.2 421.4 L36.7 421.4 L37.2 421.3 L37.7 421.3 L38.2 421.2 L38.7 421.1 L39.2 421.1 L39.7 421.0 L40.2 420.9 L40.7 420.8 L41.2 420.7 L41.7 420.6 L42.2 420.5 L42.7 420.4 L43.2 420.3 L43.7 420.1 L44.2 420.0 L44.7 419.8 L45.2 419.7 L45.7 419.6 L46.2 419.5 L46.7 419.3 L47.2 419.2 L47.7 419.1 L48.2 419.0 L48.7 419.0 L49.2 418.9 L49.7 418.9 L50.2 418.9 L50.7 418.9 L51.2 418.9 L51.7 419.0 L52.2 419.1 L52.7 419.3 L53.2 419.4 L53.7 419.6 L54.2 419.8 L54.7 420.0 L55.2 420.2 L55.7 420.4 L56.2 420.7 L56.7 420.9 L57.2 421.1 L57.7 421.3 L58.2 421.4 L58.7 421.6 L59.2 421.7 L59.7 421.9 L60.2 422.0 L60.7 422.1 L61.2 422.2 L61.7 422.2 L62.2 422.3 L62.7 422.3 L63.2 422.4 L63.7 422.4 L64.2 422.4 L64.7 422.4 L65.2 422.5 L65.7 422.5 L66.2 422.5 L66.7 422.5 L67.2 422.5 L67.7 422.5 L68.2 422.5 L68.7 422.5 L69.2 422.5 L69.7 422.5 L70.2 422.5 L70.7 422.5 L71.2 422.5 L71.7 422.5 L72.2 422.5 L72.7 422.5 L73.2 422.5 L73.7 422.5 L74.2 422.5 L74.21 422.5" fill="none" stroke="#b0333c" stroke-width="0.55"/>
<line x1="26.51" y1="422.5" x2="74.21" y2="422.5" stroke="#b0333c" stroke-width="0.8"/>
<path d="M22.94 424.5 L22.9 415.1 L23.1 412.8 L23.2 412.0 L23.4 412.8 L23.4 413.5 L23.5 415.1 L23.7 418.8 L23.9 421.8 L24.0 422.8 L24.4 424.4 L24.9 424.5 L25.4 424.5 L25.9 424.5 L26.4 424.5 L26.9 424.5 L27.4 424.5 L27.9 424.5 L28.4 424.5 L28.9 424.5 L29.4 424.4 L29.9 424.4 L30.4 424.4 L30.9 424.3 L31.4 424.3 L31.9 424.2 L32.4 424.2 L32.9 424.1 L33.4 424.0 L33.9 423.9 L34.4 423.7 L34.9 423.6 L35.4 423.4 L35.9 423.3 L36.4 423.1 L36.9 423.0 L37.4 422.9 L37.9 422.7 L38.4 422.6 L38.9 422.6 L39.4 422.5 L39.9 422.5 L40.4 422.5 L40.9 422.6 L41.4 422.6 L41.9 422.7 L42.4 422.9 L42.9 423.0 L43.4 423.1 L43.9 423.3 L44.4 423.4 L44.9 423.6 L45.4 423.7 L45.9 423.9 L46.4 424.0 L46.9 424.1 L47.4 424.2 L47.9 424.2 L48.4 424.3 L48.9 424.3 L49.4 424.4 L49.9 424.4 L50.4 424.4 L50.9 424.5 L51.4 424.5 L51.9 424.5 L52.4 424.5 L52.9 424.5 L53.4 424.5 L53.9 424.5 L54.4 424.5 L54.9 424.5 L55.4 424.5 L55.9 424.5 L56.4 424.5 L56.9 424.5 L57.4 424.5 L57.9 424.5 L58.4 424.5 L58.9 424.5 L59.4 424.5 L59.9 424.5 L60.4 424.5 L60.9 424.5 L61.4 424.5 L61.9 424.5 L62.4 424.5 L62.9 424.5 L63.4 424.5 L63.9 424.5 L64.4 424.5 L64.9 424.5 L65.4 424.5 L65.9 424.5 L66.4 424.5 L66.9 424.5 L67.4 424.5 L67.9 424.5 L68.4 424.5 L68.9 424.5 L69.4 424.5 L69.9 424.5 L70.4 424.5 L70.44 424.5 Z" fill="#ebb15e" fill-opacity="0.72"/>
<path d="M22.9 415.1 L23.1 412.8 L23.2 412.0 L23.4 412.8 L23.4 413.5 L23.5 415.1 L23.7 418.8 L23.9 421.8 L24.0 422.8 L24.4 424.4 L24.9 424.5 L25.4 424.5 L25.9 424.5 L26.4 424.5 L26.9 424.5 L27.4 424.5 L27.9 424.5 L28.4 424.5 L28.9 424.5 L29.4 424.4 L29.9 424.4 L30.4 424.4 L30.9 424.3 L31.4 424.3 L31.9 424.2 L32.4 424.2 L32.9 424.1 L33.4 424.0 L33.9 423.9 L34.4 423.7 L34.9 423.6 L35.4 423.4 L35.9 423.3 L36.4 423.1 L36.9 423.0 L37.4 422.9 L37.9 422.7 L38.4 422.6 L38.9 422.6 L39.4 422.5 L39.9 422.5 L40.4 422.5 L40.9 422.6 L41.4 422.6 L41.9 422.7 L42.4 422.9 L42.9 423.0 L43.4 423.1 L43.9 423.3 L44.4 423.4 L44.9 423.6 L45.4 423.7 L45.9 423.9 L46.4 424.0 L46.9 424.1 L47.4 424.2 L47.9 424.2 L48.4 424.3 L48.9 424.3 L49.4 424.4 L49.9 424.4 L50.4 424.4 L50.9 424.5 L51.4 424.5 L51.9 424.5 L52.4 424.5 L52.9 424.5 L53.4 424.5 L53.9 424.5 L54.4 424.5 L54.9 424.5 L55.4 424.5 L55.9 424.5 L56.4 424.5 L56.9 424.5 L57.4 424.5 L57.9 424.5 L58.4 424.5 L58.9 424.5 L59.4 424.5 L59.9 424.5 L60.4 424.5 L60.9 424.5 L61.4 424.5 L61.9 424.5 L62.4 424.5 L62.9 424.5 L63.4 424.5 L63.9 424.5 L64.4 424.5 L64.9 424.5 L65.4 424.5 L65.9 424.5 L66.4 424.5 L66.9 424.5 L67.4 424.5 L67.9 424.5 L68.4 424.5 L68.9 424.5 L69.4 424.5 L69.9 424.5 L70.4 424.5 L70.44 424.5" fill="none" stroke="#e09a30" stroke-width="0.55"/>
<line x1="22.74" y1="424.5" x2="70.44" y2="424.5" stroke="#e09a30" stroke-width="0.8"/>
<path d="M19.17 426.5 L19.2 416.8 L19.3 413.7 L19.5 412.5 L19.6 413.7 L19.7 414.6 L19.8 416.8 L20.0 421.5 L20.2 424.6 L20.3 425.5 L20.7 426.5 L21.2 426.5 L21.7 426.5 L22.2 426.5 L22.7 426.5 L23.2 426.5 L23.7 426.5 L24.2 426.5 L24.7 426.5 L25.2 426.5 L25.7 426.5 L26.2 426.5 L26.7 426.5 L27.2 426.5 L27.7 426.5 L28.2 426.5 L28.7 426.5 L29.2 426.4 L29.7 426.4 L30.2 426.4 L30.7 426.3 L31.2 426.3 L31.7 426.2 L32.2 426.1 L32.7 426.0 L33.2 425.8 L33.7 425.6 L34.2 425.4 L34.7 425.2 L35.2 425.0 L35.7 424.8 L36.2 424.6 L36.7 424.4 L37.2 424.2 L37.7 424.0 L38.2 424.0 L38.7 423.9 L39.2 423.9 L39.7 424.0 L40.2 424.1 L40.7 424.3 L41.2 424.6 L41.7 424.8 L42.2 425.1 L42.7 425.3 L43.2 425.6 L43.7 425.8 L44.2 426.0 L44.7 426.1 L45.2 426.2 L45.7 426.3 L46.2 426.4 L46.7 426.4 L47.2 426.4 L47.7 426.5 L48.2 426.5 L48.7 426.5 L49.2 426.5 L49.7 426.5 L50.2 426.5 L50.7 426.5 L51.2 426.5 L51.7 426.5 L52.2 426.5 L52.7 426.5 L53.2 426.5 L53.7 426.5 L54.2 426.5 L54.7 426.5 L55.2 426.5 L55.7 426.5 L56.2 426.5 L56.7 426.5 L57.2 426.5 L57.7 426.5 L58.2 426.5 L58.7 426.5 L59.2 426.5 L59.7 426.5 L60.2 426.5 L60.7 426.5 L61.2 426.5 L61.7 426.5 L62.2 426.5 L62.7 426.5 L63.2 426.5 L63.7 426.5 L64.2 426.5 L64.7 426.5 L65.2 426.5 L65.7 426.5 L66.2 426.5 L66.7 426.5 L66.67 426.5 Z" fill="#7e7a8c" fill-opacity="0.72"/>
<path d="M19.2 416.8 L19.3 413.7 L19.5 412.5 L19.6 413.7 L19.7 414.6 L19.8 416.8 L20.0 421.5 L20.2 424.6 L20.3 425.5 L20.7 426.5 L21.2 426.5 L21.7 426.5 L22.2 426.5 L22.7 426.5 L23.2 426.5 L23.7 426.5 L24.2 426.5 L24.7 426.5 L25.2 426.5 L25.7 426.5 L26.2 426.5 L26.7 426.5 L27.2 426.5 L27.7 426.5 L28.2 426.5 L28.7 426.5 L29.2 426.4 L29.7 426.4 L30.2 426.4 L30.7 426.3 L31.2 426.3 L31.7 426.2 L32.2 426.1 L32.7 426.0 L33.2 425.8 L33.7 425.6 L34.2 425.4 L34.7 425.2 L35.2 425.0 L35.7 424.8 L36.2 424.6 L36.7 424.4 L37.2 424.2 L37.7 424.0 L38.2 424.0 L38.7 423.9 L39.2 423.9 L39.7 424.0 L40.2 424.1 L40.7 424.3 L41.2 424.6 L41.7 424.8 L42.2 425.1 L42.7 425.3 L43.2 425.6 L43.7 425.8 L44.2 426.0 L44.7 426.1 L45.2 426.2 L45.7 426.3 L46.2 426.4 L46.7 426.4 L47.2 426.4 L47.7 426.5 L48.2 426.5 L48.7 426.5 L49.2 426.5 L49.7 426.5 L50.2 426.5 L50.7 426.5 L51.2 426.5 L51.7 426.5 L52.2 426.5 L52.7 426.5 L53.2 426.5 L53.7 426.5 L54.2 426.5 L54.7 426.5 L55.2 426.5 L55.7 426.5 L56.2 426.5 L56.7 426.5 L57.2 426.5 L57.7 426.5 L58.2 426.5 L58.7 426.5 L59.2 426.5 L59.7 426.5 L60.2 426.5 L60.7 426.5 L61.2 426.5 L61.7 426.5 L62.2 426.5 L62.7 426.5 L63.2 426.5 L63.7 426.5 L64.2 426.5 L64.7 426.5 L65.2 426.5 L65.7 426.5 L66.2 426.5 L66.7 426.5 L66.67 426.5" fill="none" stroke="#4d5d8a" stroke-width="0.55"/>
<line x1="18.97" y1="426.5" x2="66.67" y2="426.5" stroke="#4d5d8a" stroke-width="0.8"/>
<path d="M15.4 428.5 L15.4 398.7 L15.6 389.3 L15.7 385.5 L15.8 389.3 L15.9 392.0 L16.0 398.7 L16.2 413.0 L16.4 422.7 L16.5 425.3 L16.9 428.4 L17.4 428.5 L17.9 428.5 L18.4 428.5 L18.9 428.5 L19.4 428.5 L19.9 428.5 L20.4 428.5 L20.9 428.5 L21.4 428.5 L21.9 428.5 L22.4 428.5 L22.9 428.5 L23.4 428.5 L23.9 428.5 L24.4 428.5 L24.9 428.5 L25.4 428.5 L25.9 428.5 L26.4 428.5 L26.9 428.5 L27.4 428.5 L27.9 428.5 L28.4 428.5 L28.9 428.5 L29.4 428.5 L29.9 428.5 L30.4 428.5 L30.9 428.5 L31.4 428.5 L31.9 428.5 L32.4 428.5 L32.9 428.5 L33.4 428.5 L33.9 428.5 L34.4 428.5 L34.9 428.5 L35.4 428.5 L35.9 428.5 L36.4 428.5 L36.9 428.5 L37.4 428.5 L37.9 428.5 L38.4 428.5 L38.9 428.5 L39.4 428.5 L39.9 428.5 L40.4 428.5 L40.9 428.5 L41.4 428.5 L41.9 428.5 L42.4 428.5 L42.9 428.5 L43.4 428.5 L43.9 428.5 L44.4 428.5 L44.9 428.5 L45.4 428.5 L45.9 428.5 L46.4 428.5 L46.9 428.5 L47.4 428.5 L47.9 428.5 L48.4 428.5 L48.9 428.5 L49.4 428.5 L49.9 428.5 L50.4 428.5 L50.9 428.5 L51.4 428.5 L51.9 428.5 L52.4 428.5 L52.9 428.5 L53.4 428.5 L53.9 428.5 L54.4 428.5 L54.9 428.5 L55.4 428.5 L55.9 428.5 L56.4 428.5 L56.9 428.5 L57.4 428.5 L57.9 428.5 L58.4 428.5 L58.9 428.5 L59.4 428.5 L59.9 428.5 L60.4 428.5 L60.9 428.5 L61.4 428.5 L61.9 428.5 L62.4 428.5 L62.9 428.5 L62.9 428.5 Z" fill="#a7c6ea" fill-opacity="0.72"/>
<path d="M15.4 398.7 L15.6 389.3 L15.7 385.5 L15.8 389.3 L15.9 392.0 L16.0 398.7 L16.2 413.0 L16.4 422.7 L16.5 425.3 L16.9 428.4 L17.4 428.5 L17.9 428.5 L18.4 428.5 L18.9 428.5 L19.4 428.5 L19.9 428.5 L20.4 428.5 L20.9 428.5 L21.4 428.5 L21.9 428.5 L22.4 428.5 L22.9 428.5 L23.4 428.5 L23.9 428.5 L24.4 428.5 L24.9 428.5 L25.4 428.5 L25.9 428.5 L26.4 428.5 L26.9 428.5 L27.4 428.5 L27.9 428.5 L28.4 428.5 L28.9 428.5 L29.4 428.5 L29.9 428.5 L30.4 428.5 L30.9 428.5 L31.4 428.5 L31.9 428.5 L32.4 428.5 L32.9 428.5 L33.4 428.5 L33.9 428.5 L34.4 428.5 L34.9 428.5 L35.4 428.5 L35.9 428.5 L36.4 428.5 L36.9 428.5 L37.4 428.5 L37.9 428.5 L38.4 428.5 L38.9 428.5 L39.4 428.5 L39.9 428.5 L40.4 428.5 L40.9 428.5 L41.4 428.5 L41.9 428.5 L42.4 428.5 L42.9 428.5 L43.4 428.5 L43.9 428.5 L44.4 428.5 L44.9 428.5 L45.4 428.5 L45.9 428.5 L46.4 428.5 L46.9 428.5 L47.4 428.5 L47.9 428.5 L48.4 428.5 L48.9 428.5 L49.4 428.5 L49.9 428.5 L50.4 428.5 L50.9 428.5 L51.4 428.5 L51.9 428.5 L52.4 428.5 L52.9 428.5 L53.4 428.5 L53.9 428.5 L54.4 428.5 L54.9 428.5 L55.4 428.5 L55.9 428.5 L56.4 428.5 L56.9 428.5 L57.4 428.5 L57.9 428.5 L58.4 428.5 L58.9 428.5 L59.4 428.5 L59.9 428.5 L60.4 428.5 L60.9 428.5 L61.4 428.5 L61.9 428.5 L62.4 428.5 L62.9 428.5 L62.9 428.5" fill="none" stroke="#6fa3d8" stroke-width="0.55"/>
<line x1="15.2" y1="428.5" x2="62.9" y2="428.5" stroke="#6fa3d8" stroke-width="0.8"/>
<line x1="14.8" y1="429.5" x2="61.7" y2="429.5" stroke="#444" stroke-width="0.5"/>
<path d="M20.10 430.00v2.2M29.90 430.00v2.2M40.70 430.00v2.2M50.40 430.00v2.2M60.00 430.00v2.2M23.05 430.00v1.5M24.78 430.00v1.5M26.00 430.00v1.5M26.95 430.00v1.5M27.73 430.00v1.5M28.38 430.00v1.5M28.95 430.00v1.5M29.45 430.00v1.5M33.15 430.00v1.5M35.05 430.00v1.5M36.40 430.00v1.5M37.45 430.00v1.5M38.30 430.00v1.5M39.03 430.00v1.5M39.65 430.00v1.5M40.21 430.00v1.5M43.62 430.00v1.5M45.33 430.00v1.5M46.54 430.00v1.5M47.48 430.00v1.5M48.25 430.00v1.5M48.90 430.00v1.5M49.46 430.00v1.5M49.96 430.00v1.5M53.29 430.00v1.5M54.98 430.00v1.5M56.18 430.00v1.5M57.11 430.00v1.5M57.87 430.00v1.5M58.51 430.00v1.5M59.07 430.00v1.5M59.56 430.00v1.5M16.20 430.00v1.5M17.15 430.00v1.5M17.93 430.00v1.5M18.58 430.00v1.5M19.15 430.00v1.5M19.65 430.00v1.5" stroke="#111" stroke-width="0.6" fill="none"/>
<text x="20.1" y="439.7" font-size="4.6" text-anchor="middle" fill="#8a8a8a">10<tspan font-size="2.85" dy="-1.75">1</tspan></text>
<text x="29.9" y="439.7" font-size="4.6" text-anchor="middle" fill="#8a8a8a">10<tspan font-size="2.85" dy="-1.75">2</tspan></text>
<text x="40.7" y="439.7" font-size="4.6" text-anchor="middle" fill="#8a8a8a">10<tspan font-size="2.85" dy="-1.75">3</tspan></text>
<text x="50.4" y="439.7" font-size="4.6" text-anchor="middle" fill="#8a8a8a">10<tspan font-size="2.85" dy="-1.75">4</tspan></text>
<text x="60" y="439.7" font-size="4.6" text-anchor="middle" fill="#8a8a8a">10<tspan font-size="2.85" dy="-1.75">5</tspan></text>
<text x="26.2" y="449.3" font-size="7.19" stroke="#231f20" stroke-width="0.2" textLength="27.5" lengthAdjust="spacingAndGlyphs">Anti-CD38</text>
<path d="M83.4 429.5 L94.71 422 M130.3 429.5 L143.11 422" fill="none" stroke="#111" stroke-width="0.7"/>
<path d="M95.31 422.5 L95.3 422.3 L95.8 421.2 L96.3 422.5 L96.8 421.6 L97.3 422.4 L97.8 422.5 L98.3 422.1 L98.8 422.5 L99.3 422.3 L99.8 422.5 L100.3 422.5 L100.8 422.5 L101.3 422.5 L101.8 422.5 L102.3 422.5 L102.8 422.3 L103.3 422.5 L103.8 422.5 L104.3 421.9 L104.8 422.5 L105.3 421.2 L105.8 422.4 L106.3 421.3 L106.8 421.5 L107.3 421.7 L107.8 420.7 L108.3 421.9 L108.8 420.4 L109.3 421.3 L109.8 420.5 L110.3 419.9 L110.8 420.2 L111.3 418.3 L111.8 418.8 L112.3 416.7 L112.8 416.1 L113.3 414.9 L113.8 412.9 L114.3 412.6 L114.8 409.8 L115.3 409.5 L115.8 407.4 L116.3 406.0 L116.8 405.3 L117.3 402.8 L117.8 402.9 L118.3 400.4 L118.8 400.0 L119.3 398.6 L119.8 396.9 L120.3 396.5 L120.8 393.2 L121.3 391.9 L121.8 388.4 L122.3 387.2 L122.8 387.9 L123.3 388.2 L123.8 390.0 L124.3 388.5 L124.8 390.1 L125.3 392.4 L125.8 396.5 L126.3 401.9 L126.8 404.6 L127.3 409.3 L127.8 411.2 L128.3 414.2 L128.8 416.4 L129.3 417.2 L129.8 419.7 L130.3 419.3 L130.8 421.1 L131.3 421.0 L131.8 421.4 L132.3 422.4 L132.8 421.5 L133.3 422.5 L133.8 422.1 L134.3 422.5 L134.8 422.5 L135.3 422.5 L135.8 422.5 L136.3 422.5 L136.8 422.5 L137.3 422.5 L137.8 422.5 L138.3 422.5 L138.8 422.0 L139.3 422.5 L139.8 421.7 L140.3 422.4 L140.8 422.0 L141.3 421.5 L141.8 422.4 L142.3 421.1 L142.8 422.5 L142.81 422.5 Z" fill="#c25c60" fill-opacity="0.72"/>
<path d="M95.3 422.3 L95.8 421.2 L96.3 422.5 L96.8 421.6 L97.3 422.4 L97.8 422.5 L98.3 422.1 L98.8 422.5 L99.3 422.3 L99.8 422.5 L100.3 422.5 L100.8 422.5 L101.3 422.5 L101.8 422.5 L102.3 422.5 L102.8 422.3 L103.3 422.5 L103.8 422.5 L104.3 421.9 L104.8 422.5 L105.3 421.2 L105.8 422.4 L106.3 421.3 L106.8 421.5 L107.3 421.7 L107.8 420.7 L108.3 421.9 L108.8 420.4 L109.3 421.3 L109.8 420.5 L110.3 419.9 L110.8 420.2 L111.3 418.3 L111.8 418.8 L112.3 416.7 L112.8 416.1 L113.3 414.9 L113.8 412.9 L114.3 412.6 L114.8 409.8 L115.3 409.5 L115.8 407.4 L116.3 406.0 L116.8 405.3 L117.3 402.8 L117.8 402.9 L118.3 400.4 L118.8 400.0 L119.3 398.6 L119.8 396.9 L120.3 396.5 L120.8 393.2 L121.3 391.9 L121.8 388.4 L122.3 387.2 L122.8 387.9 L123.3 388.2 L123.8 390.0 L124.3 388.5 L124.8 390.1 L125.3 392.4 L125.8 396.5 L126.3 401.9 L126.8 404.6 L127.3 409.3 L127.8 411.2 L128.3 414.2 L128.8 416.4 L129.3 417.2 L129.8 419.7 L130.3 419.3 L130.8 421.1 L131.3 421.0 L131.8 421.4 L132.3 422.4 L132.8 421.5 L133.3 422.5 L133.8 422.1 L134.3 422.5 L134.8 422.5 L135.3 422.5 L135.8 422.5 L136.3 422.5 L136.8 422.5 L137.3 422.5 L137.8 422.5 L138.3 422.5 L138.8 422.0 L139.3 422.5 L139.8 421.7 L140.3 422.4 L140.8 422.0 L141.3 421.5 L141.8 422.4 L142.3 421.1 L142.8 422.5 L142.81 422.5" fill="none" stroke="#b0333c" stroke-width="0.55"/>
<line x1="95.11" y1="422.5" x2="142.81" y2="422.5" stroke="#b0333c" stroke-width="0.8"/>
<path d="M91.54 424.5 L91.5 401.6 L91.6 393.9 L91.8 384.7 L91.9 381.0 L92.0 382.1 L92.1 383.8 L92.2 393.4 L92.4 409.0 L92.5 414.5 L92.7 421.4 L93.0 423.5 L93.5 424.5 L94.0 423.7 L94.5 424.0 L95.0 423.9 L95.5 423.4 L96.0 424.0 L96.5 423.2 L97.0 423.7 L97.5 423.2 L98.0 423.1 L98.5 423.2 L99.0 422.4 L99.5 422.9 L100.0 421.8 L100.5 421.9 L101.0 421.3 L101.5 420.5 L102.0 420.5 L102.5 419.1 L103.0 419.0 L103.5 417.6 L104.0 416.8 L104.5 415.7 L105.0 413.8 L105.5 412.8 L106.0 410.1 L106.5 408.5 L107.0 405.9 L107.5 403.2 L108.0 401.1 L108.5 397.8 L109.0 396.3 L109.5 393.7 L110.0 392.5 L110.5 391.7 L111.0 391.1 L111.5 392.5 L112.0 393.5 L112.5 396.8 L113.0 399.8 L113.5 403.5 L114.0 407.6 L114.5 410.5 L115.0 414.5 L115.5 416.5 L116.0 419.1 L116.5 420.6 L117.0 421.5 L117.5 423.0 L118.0 422.8 L118.5 423.9 L119.0 423.6 L119.5 424.0 L120.0 424.3 L120.5 423.9 L121.0 424.5 L121.5 424.1 L122.0 424.5 L122.5 424.5 L123.0 424.5 L123.5 424.5 L124.0 424.5 L124.5 424.5 L125.0 424.5 L125.5 424.5 L126.0 424.5 L126.5 424.4 L127.0 424.5 L127.5 424.1 L128.0 424.5 L128.5 424.2 L129.0 424.1 L129.5 424.4 L130.0 423.7 L130.5 424.5 L131.0 423.8 L131.5 424.3 L132.0 424.3 L132.5 424.1 L133.0 424.5 L133.5 424.2 L134.0 424.5 L134.5 424.5 L135.0 424.5 L135.5 424.5 L136.0 424.5 L136.5 424.5 L137.0 424.5 L137.5 424.5 L138.0 424.5 L138.5 424.4 L139.0 424.5 L139.04 424.5 Z" fill="#ebb15e" fill-opacity="0.72"/>
<path d="M91.5 401.6 L91.6 393.9 L91.8 384.7 L91.9 381.0 L92.0 382.1 L92.1 383.8 L92.2 393.4 L92.4 409.0 L92.5 414.5 L92.7 421.4 L93.0 423.5 L93.5 424.5 L94.0 423.7 L94.5 424.0 L95.0 423.9 L95.5 423.4 L96.0 424.0 L96.5 423.2 L97.0 423.7 L97.5 423.2 L98.0 423.1 L98.5 423.2 L99.0 422.4 L99.5 422.9 L100.0 421.8 L100.5 421.9 L101.0 421.3 L101.5 420.5 L102.0 420.5 L102.5 419.1 L103.0 419.0 L103.5 417.6 L104.0 416.8 L104.5 415.7 L105.0 413.8 L105.5 412.8 L106.0 410.1 L106.5 408.5 L107.0 405.9 L107.5 403.2 L108.0 401.1 L108.5 397.8 L109.0 396.3 L109.5 393.7 L110.0 392.5 L110.5 391.7 L111.0 391.1 L111.5 392.5 L112.0 393.5 L112.5 396.8 L113.0 399.8 L113.5 403.5 L114.0 407.6 L114.5 410.5 L115.0 414.5 L115.5 416.5 L116.0 419.1 L116.5 420.6 L117.0 421.5 L117.5 423.0 L118.0 422.8 L118.5 423.9 L119.0 423.6 L119.5 424.0 L120.0 424.3 L120.5 423.9 L121.0 424.5 L121.5 424.1 L122.0 424.5 L122.5 424.5 L123.0 424.5 L123.5 424.5 L124.0 424.5 L124.5 424.5 L125.0 424.5 L125.5 424.5 L126.0 424.5 L126.5 424.4 L127.0 424.5 L127.5 424.1 L128.0 424.5 L128.5 424.2 L129.0 424.1 L129.5 424.4 L130.0 423.7 L130.5 424.5 L131.0 423.8 L131.5 424.3 L132.0 424.3 L132.5 424.1 L133.0 424.5 L133.5 424.2 L134.0 424.5 L134.5 424.5 L135.0 424.5 L135.5 424.5 L136.0 424.5 L136.5 424.5 L137.0 424.5 L137.5 424.5 L138.0 424.5 L138.5 424.4 L139.0 424.5 L139.04 424.5" fill="none" stroke="#e09a30" stroke-width="0.55"/>
<line x1="91.34" y1="424.5" x2="139.04" y2="424.5" stroke="#e09a30" stroke-width="0.8"/>
<path d="M87.77 426.5 L87.8 403.1 L87.9 395.8 L88.0 386.0 L88.2 382.5 L88.3 384.5 L88.3 386.4 L88.5 394.9 L88.7 409.5 L88.8 415.7 L89.0 422.1 L89.3 425.0 L89.8 425.3 L90.3 424.1 L90.8 424.3 L91.3 422.9 L91.8 422.5 L92.3 421.6 L92.8 420.3 L93.3 419.9 L93.8 418.1 L94.3 417.7 L94.8 416.2 L95.3 415.1 L95.8 414.3 L96.3 412.5 L96.8 412.1 L97.3 410.3 L97.8 409.6 L98.3 408.4 L98.8 406.9 L99.3 406.4 L99.8 404.4 L100.3 403.9 L100.8 402.1 L101.3 400.9 L101.8 399.9 L102.3 398.0 L102.8 397.5 L103.3 395.6 L103.8 395.1 L104.3 394.0 L104.8 393.1 L105.3 393.0 L105.8 392.0 L106.3 392.6 L106.8 392.6 L107.3 395.2 L107.8 398.8 L108.3 402.8 L108.8 408.2 L109.3 411.9 L109.8 416.6 L110.3 419.5 L110.8 422.1 L111.3 424.3 L111.8 424.8 L112.3 426.4 L112.8 426.1 L113.3 426.5 L113.8 426.5 L114.3 426.5 L114.8 426.5 L115.3 426.2 L115.8 426.5 L116.3 426.2 L116.8 426.2 L117.3 426.4 L117.8 425.8 L118.3 426.5 L118.8 425.8 L119.3 426.3 L119.8 426.2 L120.3 426.1 L120.8 426.5 L121.3 426.1 L121.8 426.5 L122.3 426.4 L122.8 426.5 L123.3 426.5 L123.8 426.5 L124.3 426.5 L124.8 426.5 L125.3 426.5 L125.8 426.5 L126.3 426.5 L126.8 426.5 L127.3 426.1 L127.8 426.5 L128.3 426.0 L128.8 426.3 L129.3 426.2 L129.8 425.9 L130.3 426.5 L130.8 425.7 L131.3 426.5 L131.8 426.1 L132.3 426.2 L132.8 426.5 L133.3 426.1 L133.8 426.5 L134.3 426.4 L134.8 426.5 L135.3 426.5 L135.27 426.5 Z" fill="#7e7a8c" fill-opacity="0.72"/>
<path d="M87.8 403.1 L87.9 395.8 L88.0 386.0 L88.2 382.5 L88.3 384.5 L88.3 386.4 L88.5 394.9 L88.7 409.5 L88.8 415.7 L89.0 422.1 L89.3 425.0 L89.8 425.3 L90.3 424.1 L90.8 424.3 L91.3 422.9 L91.8 422.5 L92.3 421.6 L92.8 420.3 L93.3 419.9 L93.8 418.1 L94.3 417.7 L94.8 416.2 L95.3 415.1 L95.8 414.3 L96.3 412.5 L96.8 412.1 L97.3 410.3 L97.8 409.6 L98.3 408.4 L98.8 406.9 L99.3 406.4 L99.8 404.4 L100.3 403.9 L100.8 402.1 L101.3 400.9 L101.8 399.9 L102.3 398.0 L102.8 397.5 L103.3 395.6 L103.8 395.1 L104.3 394.0 L104.8 393.1 L105.3 393.0 L105.8 392.0 L106.3 392.6 L106.8 392.6 L107.3 395.2 L107.8 398.8 L108.3 402.8 L108.8 408.2 L109.3 411.9 L109.8 416.6 L110.3 419.5 L110.8 422.1 L111.3 424.3 L111.8 424.8 L112.3 426.4 L112.8 426.1 L113.3 426.5 L113.8 426.5 L114.3 426.5 L114.8 426.5 L115.3 426.2 L115.8 426.5 L116.3 426.2 L116.8 426.2 L117.3 426.4 L117.8 425.8 L118.3 426.5 L118.8 425.8 L119.3 426.3 L119.8 426.2 L120.3 426.1 L120.8 426.5 L121.3 426.1 L121.8 426.5 L122.3 426.4 L122.8 426.5 L123.3 426.5 L123.8 426.5 L124.3 426.5 L124.8 426.5 L125.3 426.5 L125.8 426.5 L126.3 426.5 L126.8 426.5 L127.3 426.1 L127.8 426.5 L128.3 426.0 L128.8 426.3 L129.3 426.2 L129.8 425.9 L130.3 426.5 L130.8 425.7 L131.3 426.5 L131.8 426.1 L132.3 426.2 L132.8 426.5 L133.3 426.1 L133.8 426.5 L134.3 426.4 L134.8 426.5 L135.3 426.5 L135.27 426.5" fill="none" stroke="#4d5d8a" stroke-width="0.55"/>
<line x1="87.57" y1="426.5" x2="135.27" y2="426.5" stroke="#4d5d8a" stroke-width="0.8"/>
<path d="M84 428.5 L84.0 396.9 L84.2 388.3 L84.3 384.7 L84.5 387.9 L84.5 390.8 L84.6 397.9 L84.8 410.9 L85.0 419.5 L85.1 422.9 L85.5 424.8 L86.0 422.8 L86.5 420.4 L87.0 418.6 L87.5 414.8 L88.0 413.3 L88.5 410.0 L89.0 408.8 L89.5 407.6 L90.0 406.3 L90.5 407.0 L91.0 405.8 L91.5 407.2 L92.0 407.3 L92.5 408.5 L93.0 410.6 L93.5 411.5 L94.0 414.7 L94.5 415.8 L95.0 418.6 L95.5 420.6 L96.0 422.1 L96.5 424.6 L97.0 424.9 L97.5 427.0 L98.0 427.1 L98.5 428.0 L99.0 428.5 L99.5 428.2 L100.0 428.5 L100.5 428.5 L101.0 428.5 L101.5 428.5 L102.0 428.5 L102.5 428.5 L103.0 428.2 L103.5 428.5 L104.0 428.1 L104.5 428.4 L105.0 428.4 L105.5 427.6 L106.0 428.5 L106.5 427.3 L107.0 428.3 L107.5 427.8 L108.0 427.9 L108.5 428.5 L109.0 427.7 L109.5 428.5 L110.0 428.2 L110.5 428.5 L111.0 428.5 L111.5 428.5 L112.0 428.5 L112.5 428.5 L113.0 428.5 L113.5 428.5 L114.0 428.5 L114.5 428.5 L115.0 428.1 L115.5 428.5 L116.0 427.9 L116.5 428.5 L117.0 428.1 L117.5 427.7 L118.0 428.4 L118.5 427.3 L119.0 428.5 L119.5 427.6 L120.0 428.1 L120.5 428.4 L121.0 427.9 L121.5 428.5 L122.0 428.1 L122.5 428.5 L123.0 428.5 L123.5 428.5 L124.0 428.5 L124.5 428.5 L125.0 428.5 L125.5 428.5 L126.0 428.5 L126.5 428.5 L127.0 428.2 L127.5 428.5 L128.0 427.7 L128.5 428.5 L129.0 427.8 L129.5 427.9 L130.0 428.3 L130.5 427.4 L131.0 428.5 L131.5 427.5 L131.5 428.5 Z" fill="#a7c6ea" fill-opacity="0.72"/>
<path d="M84.0 396.9 L84.2 388.3 L84.3 384.7 L84.5 387.9 L84.5 390.8 L84.6 397.9 L84.8 410.9 L85.0 419.5 L85.1 422.9 L85.5 424.8 L86.0 422.8 L86.5 420.4 L87.0 418.6 L87.5 414.8 L88.0 413.3 L88.5 410.0 L89.0 408.8 L89.5 407.6 L90.0 406.3 L90.5 407.0 L91.0 405.8 L91.5 407.2 L92.0 407.3 L92.5 408.5 L93.0 410.6 L93.5 411.5 L94.0 414.7 L94.5 415.8 L95.0 418.6 L95.5 420.6 L96.0 422.1 L96.5 424.6 L97.0 424.9 L97.5 427.0 L98.0 427.1 L98.5 428.0 L99.0 428.5 L99.5 428.2 L100.0 428.5 L100.5 428.5 L101.0 428.5 L101.5 428.5 L102.0 428.5 L102.5 428.5 L103.0 428.2 L103.5 428.5 L104.0 428.1 L104.5 428.4 L105.0 428.4 L105.5 427.6 L106.0 428.5 L106.5 427.3 L107.0 428.3 L107.5 427.8 L108.0 427.9 L108.5 428.5 L109.0 427.7 L109.5 428.5 L110.0 428.2 L110.5 428.5 L111.0 428.5 L111.5 428.5 L112.0 428.5 L112.5 428.5 L113.0 428.5 L113.5 428.5 L114.0 428.5 L114.5 428.5 L115.0 428.1 L115.5 428.5 L116.0 427.9 L116.5 428.5 L117.0 428.1 L117.5 427.7 L118.0 428.4 L118.5 427.3 L119.0 428.5 L119.5 427.6 L120.0 428.1 L120.5 428.4 L121.0 427.9 L121.5 428.5 L122.0 428.1 L122.5 428.5 L123.0 428.5 L123.5 428.5 L124.0 428.5 L124.5 428.5 L125.0 428.5 L125.5 428.5 L126.0 428.5 L126.5 428.5 L127.0 428.2 L127.5 428.5 L128.0 427.7 L128.5 428.5 L129.0 427.8 L129.5 427.9 L130.0 428.3 L130.5 427.4 L131.0 428.5 L131.5 427.5 L131.5 428.5" fill="none" stroke="#6fa3d8" stroke-width="0.55"/>
<line x1="83.8" y1="428.5" x2="131.5" y2="428.5" stroke="#6fa3d8" stroke-width="0.8"/>
<line x1="83.4" y1="429.5" x2="130.3" y2="429.5" stroke="#444" stroke-width="0.5"/>
<path d="M88.70 430.00v2.2M98.50 430.00v2.2M109.30 430.00v2.2M119.00 430.00v2.2M128.60 430.00v2.2M91.65 430.00v1.5M93.38 430.00v1.5M94.60 430.00v1.5M95.55 430.00v1.5M96.33 430.00v1.5M96.98 430.00v1.5M97.55 430.00v1.5M98.05 430.00v1.5M101.75 430.00v1.5M103.65 430.00v1.5M105.00 430.00v1.5M106.05 430.00v1.5M106.90 430.00v1.5M107.63 430.00v1.5M108.25 430.00v1.5M108.81 430.00v1.5M112.22 430.00v1.5M113.93 430.00v1.5M115.14 430.00v1.5M116.08 430.00v1.5M116.85 430.00v1.5M117.50 430.00v1.5M118.06 430.00v1.5M118.56 430.00v1.5M121.89 430.00v1.5M123.58 430.00v1.5M124.78 430.00v1.5M125.71 430.00v1.5M126.47 430.00v1.5M127.11 430.00v1.5M127.67 430.00v1.5M128.16 430.00v1.5M84.80 430.00v1.5M85.75 430.00v1.5M86.53 430.00v1.5M87.18 430.00v1.5M87.75 430.00v1.5M88.25 430.00v1.5" stroke="#111" stroke-width="0.6" fill="none"/>
<text x="88.7" y="439.7" font-size="4.6" text-anchor="middle" fill="#8a8a8a">10<tspan font-size="2.85" dy="-1.75">1</tspan></text>
<text x="98.5" y="439.7" font-size="4.6" text-anchor="middle" fill="#8a8a8a">10<tspan font-size="2.85" dy="-1.75">2</tspan></text>
<text x="109.3" y="439.7" font-size="4.6" text-anchor="middle" fill="#8a8a8a">10<tspan font-size="2.85" dy="-1.75">3</tspan></text>
<text x="119" y="439.7" font-size="4.6" text-anchor="middle" fill="#8a8a8a">10<tspan font-size="2.85" dy="-1.75">4</tspan></text>
<text x="128.6" y="439.7" font-size="4.6" text-anchor="middle" fill="#8a8a8a">10<tspan font-size="2.85" dy="-1.75">5</tspan></text>
<text x="94.8" y="449.3" font-size="7.19" stroke="#231f20" stroke-width="0.2" textLength="26.9" lengthAdjust="spacingAndGlyphs">Anti-CD38</text>
<path d="M156.8 429.5 L168.11 422 M203.7 429.5 L216.51 422" fill="none" stroke="#111" stroke-width="0.7"/>
<path d="M168.71 422.5 L168.7 422.5 L169.2 422.5 L169.7 422.5 L170.2 422.5 L170.7 422.5 L171.2 422.5 L171.7 422.5 L172.2 422.5 L172.7 422.5 L173.2 422.5 L173.7 422.5 L174.2 422.5 L174.7 422.5 L175.2 422.5 L175.7 422.5 L176.2 422.5 L176.7 422.5 L177.2 422.5 L177.7 422.5 L178.2 422.5 L178.7 422.5 L179.2 422.5 L179.7 422.5 L180.2 422.5 L180.7 422.5 L181.2 422.5 L181.7 422.5 L182.2 422.4 L182.7 422.4 L183.2 422.4 L183.7 422.3 L184.2 422.3 L184.7 422.2 L185.2 422.1 L185.7 422.0 L186.2 421.8 L186.7 421.6 L187.2 421.4 L187.7 421.2 L188.2 420.9 L188.7 420.6 L189.2 420.3 L189.7 420.0 L190.2 419.6 L190.7 419.1 L191.2 418.6 L191.7 418.0 L192.2 417.3 L192.7 416.4 L193.2 415.3 L193.7 413.9 L194.2 412.1 L194.7 410.0 L195.2 407.4 L195.7 404.4 L196.2 401.0 L196.7 397.5 L197.2 393.8 L197.7 390.3 L198.2 387.2 L198.7 384.8 L199.2 383.1 L199.7 382.4 L200.2 383.0 L200.7 385.7 L201.2 390.3 L201.7 396.0 L202.2 402.0 L202.7 407.6 L203.2 412.3 L203.7 415.9 L204.2 418.5 L204.7 420.2 L205.2 421.3 L205.7 421.9 L206.2 422.2 L206.7 422.4 L207.2 422.4 L207.7 422.5 L208.2 422.5 L208.7 422.5 L209.2 422.5 L209.7 422.5 L210.2 422.5 L210.7 422.5 L211.2 422.5 L211.7 422.5 L212.2 422.5 L212.7 422.5 L213.2 422.5 L213.7 422.5 L214.2 422.5 L214.7 422.5 L215.2 422.5 L215.7 422.5 L216.2 422.5 L216.21 422.5 Z" fill="#c25c60" fill-opacity="0.72"/>
<path d="M168.7 422.5 L169.2 422.5 L169.7 422.5 L170.2 422.5 L170.7 422.5 L171.2 422.5 L171.7 422.5 L172.2 422.5 L172.7 422.5 L173.2 422.5 L173.7 422.5 L174.2 422.5 L174.7 422.5 L175.2 422.5 L175.7 422.5 L176.2 422.5 L176.7 422.5 L177.2 422.5 L177.7 422.5 L178.2 422.5 L178.7 422.5 L179.2 422.5 L179.7 422.5 L180.2 422.5 L180.7 422.5 L181.2 422.5 L181.7 422.5 L182.2 422.4 L182.7 422.4 L183.2 422.4 L183.7 422.3 L184.2 422.3 L184.7 422.2 L185.2 422.1 L185.7 422.0 L186.2 421.8 L186.7 421.6 L187.2 421.4 L187.7 421.2 L188.2 420.9 L188.7 420.6 L189.2 420.3 L189.7 420.0 L190.2 419.6 L190.7 419.1 L191.2 418.6 L191.7 418.0 L192.2 417.3 L192.7 416.4 L193.2 415.3 L193.7 413.9 L194.2 412.1 L194.7 410.0 L195.2 407.4 L195.7 404.4 L196.2 401.0 L196.7 397.5 L197.2 393.8 L197.7 390.3 L198.2 387.2 L198.7 384.8 L199.2 383.1 L199.7 382.4 L200.2 383.0 L200.7 385.7 L201.2 390.3 L201.7 396.0 L202.2 402.0 L202.7 407.6 L203.2 412.3 L203.7 415.9 L204.2 418.5 L204.7 420.2 L205.2 421.3 L205.7 421.9 L206.2 422.2 L206.7 422.4 L207.2 422.4 L207.7 422.5 L208.2 422.5 L208.7 422.5 L209.2 422.5 L209.7 422.5 L210.2 422.5 L210.7 422.5 L211.2 422.5 L211.7 422.5 L212.2 422.5 L212.7 422.5 L213.2 422.5 L213.7 422.5 L214.2 422.5 L214.7 422.5 L215.2 422.5 L215.7 422.5 L216.2 422.5 L216.21 422.5" fill="none" stroke="#b0333c" stroke-width="0.55"/>
<line x1="168.51" y1="422.5" x2="216.21" y2="422.5" stroke="#b0333c" stroke-width="0.8"/>
<path d="M164.94 424.5 L164.9 401.3 L165.0 393.9 L165.2 385.1 L165.3 381.1 L165.4 382.8 L165.5 385.0 L165.6 395.0 L165.8 408.3 L165.9 413.8 L166.1 421.7 L166.4 424.2 L166.9 424.1 L167.4 424.3 L167.9 424.5 L168.4 424.2 L168.9 424.5 L169.4 424.4 L169.9 424.5 L170.4 424.5 L170.9 424.5 L171.4 424.5 L171.9 424.4 L172.4 424.5 L172.9 424.4 L173.4 424.5 L173.9 424.5 L174.4 423.8 L174.9 424.3 L175.4 423.2 L175.9 423.4 L176.4 422.6 L176.9 421.9 L177.4 421.6 L177.9 420.0 L178.4 419.6 L178.9 417.6 L179.4 416.4 L179.9 414.6 L180.4 412.2 L180.9 410.7 L181.4 407.6 L181.9 406.0 L182.4 403.4 L182.9 401.5 L183.4 400.1 L183.9 398.2 L184.4 398.1 L184.9 397.0 L185.4 397.8 L185.9 398.6 L186.4 399.7 L186.9 402.1 L187.4 403.4 L187.9 406.4 L188.4 408.1 L188.9 410.4 L189.4 412.5 L189.9 413.8 L190.4 416.0 L190.9 416.6 L191.4 418.3 L191.9 419.1 L192.4 419.8 L192.9 421.0 L193.4 420.9 L193.9 422.2 L194.4 422.0 L194.9 422.7 L195.4 423.0 L195.9 422.8 L196.4 423.7 L196.9 423.1 L197.4 423.8 L197.9 423.5 L198.4 423.6 L198.9 424.0 L199.4 423.4 L199.9 424.2 L200.4 423.5 L200.9 424.1 L201.4 424.0 L201.9 423.9 L202.4 424.5 L202.9 423.9 L203.4 424.5 L203.9 424.4 L204.4 424.5 L204.9 424.5 L205.4 424.5 L205.9 424.5 L206.4 424.5 L206.9 424.5 L207.4 424.5 L207.9 424.5 L208.4 424.5 L208.9 424.2 L209.4 424.5 L209.9 424.1 L210.4 424.3 L210.9 424.3 L211.4 423.8 L211.9 424.5 L212.4 423.7 L212.44 424.5 Z" fill="#ebb15e" fill-opacity="0.72"/>
<path d="M164.9 401.3 L165.0 393.9 L165.2 385.1 L165.3 381.1 L165.4 382.8 L165.5 385.0 L165.6 395.0 L165.8 408.3 L165.9 413.8 L166.1 421.7 L166.4 424.2 L166.9 424.1 L167.4 424.3 L167.9 424.5 L168.4 424.2 L168.9 424.5 L169.4 424.4 L169.9 424.5 L170.4 424.5 L170.9 424.5 L171.4 424.5 L171.9 424.4 L172.4 424.5 L172.9 424.4 L173.4 424.5 L173.9 424.5 L174.4 423.8 L174.9 424.3 L175.4 423.2 L175.9 423.4 L176.4 422.6 L176.9 421.9 L177.4 421.6 L177.9 420.0 L178.4 419.6 L178.9 417.6 L179.4 416.4 L179.9 414.6 L180.4 412.2 L180.9 410.7 L181.4 407.6 L181.9 406.0 L182.4 403.4 L182.9 401.5 L183.4 400.1 L183.9 398.2 L184.4 398.1 L184.9 397.0 L185.4 397.8 L185.9 398.6 L186.4 399.7 L186.9 402.1 L187.4 403.4 L187.9 406.4 L188.4 408.1 L188.9 410.4 L189.4 412.5 L189.9 413.8 L190.4 416.0 L190.9 416.6 L191.4 418.3 L191.9 419.1 L192.4 419.8 L192.9 421.0 L193.4 420.9 L193.9 422.2 L194.4 422.0 L194.9 422.7 L195.4 423.0 L195.9 422.8 L196.4 423.7 L196.9 423.1 L197.4 423.8 L197.9 423.5 L198.4 423.6 L198.9 424.0 L199.4 423.4 L199.9 424.2 L200.4 423.5 L200.9 424.1 L201.4 424.0 L201.9 423.9 L202.4 424.5 L202.9 423.9 L203.4 424.5 L203.9 424.4 L204.4 424.5 L204.9 424.5 L205.4 424.5 L205.9 424.5 L206.4 424.5 L206.9 424.5 L207.4 424.5 L207.9 424.5 L208.4 424.5 L208.9 424.2 L209.4 424.5 L209.9 424.1 L210.4 424.3 L210.9 424.3 L211.4 423.8 L211.9 424.5 L212.4 423.7 L212.44 424.5" fill="none" stroke="#e09a30" stroke-width="0.55"/>
<line x1="164.74" y1="424.5" x2="212.44" y2="424.5" stroke="#e09a30" stroke-width="0.8"/>
<path d="M161.17 426.5 L161.2 404.0 L161.3 395.8 L161.4 386.1 L161.6 383.0 L161.7 384.7 L161.7 386.7 L161.9 396.2 L162.1 410.8 L162.2 415.9 L162.4 422.4 L162.7 425.9 L163.2 425.4 L163.7 425.8 L164.2 425.1 L164.7 425.0 L165.2 425.0 L165.7 424.2 L166.2 424.5 L166.7 423.6 L167.2 423.7 L167.7 423.1 L168.2 422.5 L168.7 422.5 L169.2 421.2 L169.7 421.3 L170.2 420.1 L170.7 419.5 L171.2 418.8 L171.7 417.4 L172.2 417.1 L172.7 415.4 L173.2 414.9 L173.7 413.6 L174.2 412.5 L174.7 411.9 L175.2 410.4 L175.7 410.3 L176.2 409.0 L176.7 408.7 L177.2 408.2 L177.7 407.5 L178.2 407.9 L178.7 407.2 L179.2 407.9 L179.7 407.8 L180.2 408.4 L180.7 409.5 L181.2 409.8 L181.7 411.5 L182.2 412.0 L182.7 413.6 L183.2 414.7 L183.7 415.7 L184.2 417.4 L184.7 417.9 L185.2 419.5 L185.7 420.0 L186.2 421.1 L186.7 422.0 L187.2 422.3 L187.7 423.5 L188.2 423.4 L188.7 424.4 L189.2 424.6 L189.7 424.9 L190.2 425.6 L190.7 425.3 L191.2 426.2 L191.7 425.9 L192.2 426.4 L192.7 426.5 L193.2 426.3 L193.7 426.5 L194.2 426.4 L194.7 426.5 L195.2 426.5 L195.7 426.5 L196.2 426.5 L196.7 426.3 L197.2 426.5 L197.7 426.2 L198.2 426.5 L198.7 426.4 L199.2 426.0 L199.7 426.5 L200.2 425.8 L200.7 426.4 L201.2 426.0 L201.7 426.2 L202.2 426.5 L202.7 426.1 L203.2 426.5 L203.7 426.2 L204.2 426.5 L204.7 426.5 L205.2 426.5 L205.7 426.5 L206.2 426.5 L206.7 426.5 L207.2 426.5 L207.7 426.5 L208.2 426.5 L208.7 426.3 L208.67 426.5 Z" fill="#7e7a8c" fill-opacity="0.72"/>
<path d="M161.2 404.0 L161.3 395.8 L161.4 386.1 L161.6 383.0 L161.7 384.7 L161.7 386.7 L161.9 396.2 L162.1 410.8 L162.2 415.9 L162.4 422.4 L162.7 425.9 L163.2 425.4 L163.7 425.8 L164.2 425.1 L164.7 425.0 L165.2 425.0 L165.7 424.2 L166.2 424.5 L166.7 423.6 L167.2 423.7 L167.7 423.1 L168.2 422.5 L168.7 422.5 L169.2 421.2 L169.7 421.3 L170.2 420.1 L170.7 419.5 L171.2 418.8 L171.7 417.4 L172.2 417.1 L172.7 415.4 L173.2 414.9 L173.7 413.6 L174.2 412.5 L174.7 411.9 L175.2 410.4 L175.7 410.3 L176.2 409.0 L176.7 408.7 L177.2 408.2 L177.7 407.5 L178.2 407.9 L178.7 407.2 L179.2 407.9 L179.7 407.8 L180.2 408.4 L180.7 409.5 L181.2 409.8 L181.7 411.5 L182.2 412.0 L182.7 413.6 L183.2 414.7 L183.7 415.7 L184.2 417.4 L184.7 417.9 L185.2 419.5 L185.7 420.0 L186.2 421.1 L186.7 422.0 L187.2 422.3 L187.7 423.5 L188.2 423.4 L188.7 424.4 L189.2 424.6 L189.7 424.9 L190.2 425.6 L190.7 425.3 L191.2 426.2 L191.7 425.9 L192.2 426.4 L192.7 426.5 L193.2 426.3 L193.7 426.5 L194.2 426.4 L194.7 426.5 L195.2 426.5 L195.7 426.5 L196.2 426.5 L196.7 426.3 L197.2 426.5 L197.7 426.2 L198.2 426.5 L198.7 426.4 L199.2 426.0 L199.7 426.5 L200.2 425.8 L200.7 426.4 L201.2 426.0 L201.7 426.2 L202.2 426.5 L202.7 426.1 L203.2 426.5 L203.7 426.2 L204.2 426.5 L204.7 426.5 L205.2 426.5 L205.7 426.5 L206.2 426.5 L206.7 426.5 L207.2 426.5 L207.7 426.5 L208.2 426.5 L208.7 426.3 L208.67 426.5" fill="none" stroke="#4d5d8a" stroke-width="0.55"/>
<line x1="160.97" y1="426.5" x2="208.67" y2="426.5" stroke="#4d5d8a" stroke-width="0.8"/>
<path d="M157.4 428.5 L157.4 397.6 L157.6 387.6 L157.7 382.4 L157.8 386.5 L157.9 389.5 L158.0 396.4 L158.2 409.9 L158.4 419.7 L158.5 421.7 L158.9 424.5 L159.4 423.1 L159.9 422.7 L160.4 420.4 L160.9 419.8 L161.4 417.8 L161.9 416.5 L162.4 415.6 L162.9 413.7 L163.4 413.8 L163.9 412.4 L164.4 412.8 L164.9 412.7 L165.4 413.1 L165.9 414.8 L166.4 415.2 L166.9 417.7 L167.4 418.7 L167.9 420.6 L168.4 422.4 L168.9 423.3 L169.4 425.5 L169.9 425.6 L170.4 427.2 L170.9 427.5 L171.4 427.8 L171.9 428.5 L172.4 427.9 L172.9 428.5 L173.4 428.2 L173.9 428.5 L174.4 428.5 L174.9 427.9 L175.4 428.5 L175.9 427.6 L176.4 428.4 L176.9 427.8 L177.4 427.9 L177.9 428.4 L178.4 427.7 L178.9 428.5 L179.4 428.0 L179.9 428.5 L180.4 428.5 L180.9 428.5 L181.4 428.5 L181.9 428.4 L182.4 428.5 L182.9 428.5 L183.4 428.5 L183.9 428.5 L184.4 428.4 L184.9 428.5 L185.4 428.2 L185.9 428.5 L186.4 428.3 L186.9 428.0 L187.4 428.5 L187.9 427.5 L188.4 428.5 L188.9 427.7 L189.4 428.1 L189.9 428.3 L190.4 427.8 L190.9 428.5 L191.4 428.0 L191.9 428.5 L192.4 428.5 L192.9 428.5 L193.4 428.5 L193.9 428.5 L194.4 428.5 L194.9 428.5 L195.4 428.5 L195.9 428.5 L196.4 428.5 L196.9 428.5 L197.4 428.0 L197.9 428.5 L198.4 428.1 L198.9 428.1 L199.4 428.4 L199.9 427.6 L200.4 428.5 L200.9 427.6 L201.4 428.3 L201.9 428.1 L202.4 428.0 L202.9 428.5 L203.4 428.0 L203.9 428.5 L204.4 428.5 L204.9 428.5 L204.9 428.5 Z" fill="#a7c6ea" fill-opacity="0.72"/>
<path d="M157.4 397.6 L157.6 387.6 L157.7 382.4 L157.8 386.5 L157.9 389.5 L158.0 396.4 L158.2 409.9 L158.4 419.7 L158.5 421.7 L158.9 424.5 L159.4 423.1 L159.9 422.7 L160.4 420.4 L160.9 419.8 L161.4 417.8 L161.9 416.5 L162.4 415.6 L162.9 413.7 L163.4 413.8 L163.9 412.4 L164.4 412.8 L164.9 412.7 L165.4 413.1 L165.9 414.8 L166.4 415.2 L166.9 417.7 L167.4 418.7 L167.9 420.6 L168.4 422.4 L168.9 423.3 L169.4 425.5 L169.9 425.6 L170.4 427.2 L170.9 427.5 L171.4 427.8 L171.9 428.5 L172.4 427.9 L172.9 428.5 L173.4 428.2 L173.9 428.5 L174.4 428.5 L174.9 427.9 L175.4 428.5 L175.9 427.6 L176.4 428.4 L176.9 427.8 L177.4 427.9 L177.9 428.4 L178.4 427.7 L178.9 428.5 L179.4 428.0 L179.9 428.5 L180.4 428.5 L180.9 428.5 L181.4 428.5 L181.9 428.4 L182.4 428.5 L182.9 428.5 L183.4 428.5 L183.9 428.5 L184.4 428.4 L184.9 428.5 L185.4 428.2 L185.9 428.5 L186.4 428.3 L186.9 428.0 L187.4 428.5 L187.9 427.5 L188.4 428.5 L188.9 427.7 L189.4 428.1 L189.9 428.3 L190.4 427.8 L190.9 428.5 L191.4 428.0 L191.9 428.5 L192.4 428.5 L192.9 428.5 L193.4 428.5 L193.9 428.5 L194.4 428.5 L194.9 428.5 L195.4 428.5 L195.9 428.5 L196.4 428.5 L196.9 428.5 L197.4 428.0 L197.9 428.5 L198.4 428.1 L198.9 428.1 L199.4 428.4 L199.9 427.6 L200.4 428.5 L200.9 427.6 L201.4 428.3 L201.9 428.1 L202.4 428.0 L202.9 428.5 L203.4 428.0 L203.9 428.5 L204.4 428.5 L204.9 428.5 L204.9 428.5" fill="none" stroke="#6fa3d8" stroke-width="0.55"/>
<line x1="157.2" y1="428.5" x2="204.9" y2="428.5" stroke="#6fa3d8" stroke-width="0.8"/>
<line x1="156.8" y1="429.5" x2="203.7" y2="429.5" stroke="#444" stroke-width="0.5"/>
<path d="M162.10 430.00v2.2M171.90 430.00v2.2M182.70 430.00v2.2M192.40 430.00v2.2M202.00 430.00v2.2M165.05 430.00v1.5M166.78 430.00v1.5M168.00 430.00v1.5M168.95 430.00v1.5M169.73 430.00v1.5M170.38 430.00v1.5M170.95 430.00v1.5M171.45 430.00v1.5M175.15 430.00v1.5M177.05 430.00v1.5M178.40 430.00v1.5M179.45 430.00v1.5M180.30 430.00v1.5M181.03 430.00v1.5M181.65 430.00v1.5M182.21 430.00v1.5M185.62 430.00v1.5M187.33 430.00v1.5M188.54 430.00v1.5M189.48 430.00v1.5M190.25 430.00v1.5M190.90 430.00v1.5M191.46 430.00v1.5M191.96 430.00v1.5M195.29 430.00v1.5M196.98 430.00v1.5M198.18 430.00v1.5M199.11 430.00v1.5M199.87 430.00v1.5M200.51 430.00v1.5M201.07 430.00v1.5M201.56 430.00v1.5M158.20 430.00v1.5M159.15 430.00v1.5M159.93 430.00v1.5M160.58 430.00v1.5M161.15 430.00v1.5M161.65 430.00v1.5" stroke="#111" stroke-width="0.6" fill="none"/>
<text x="162.1" y="439.2" font-size="4.6" text-anchor="middle" fill="#8a8a8a">10<tspan font-size="2.85" dy="-1.75">1</tspan></text>
<text x="171.9" y="439.2" font-size="4.6" text-anchor="middle" fill="#8a8a8a">10<tspan font-size="2.85" dy="-1.75">2</tspan></text>
<text x="182.7" y="439.2" font-size="4.6" text-anchor="middle" fill="#8a8a8a">10<tspan font-size="2.85" dy="-1.75">3</tspan></text>
<text x="192.4" y="439.2" font-size="4.6" text-anchor="middle" fill="#8a8a8a">10<tspan font-size="2.85" dy="-1.75">4</tspan></text>
<text x="202" y="439.2" font-size="4.6" text-anchor="middle" fill="#8a8a8a">10<tspan font-size="2.85" dy="-1.75">5</tspan></text>
<text x="167.5" y="449" font-size="7.03" stroke="#231f20" stroke-width="0.2" textLength="26.9" lengthAdjust="spacingAndGlyphs">Anti-CD38</text>
<path d="M14.8 497.5 L26.11 490 M61.7 497.5 L74.51 490" fill="none" stroke="#111" stroke-width="0.7"/>
<path d="M26.71 490.5 L26.7 490.5 L27.2 490.5 L27.7 490.5 L28.2 490.5 L28.7 490.5 L29.2 490.5 L29.7 490.5 L30.2 490.5 L30.7 490.5 L31.2 490.5 L31.7 490.5 L32.2 490.5 L32.7 490.5 L33.2 490.5 L33.7 490.5 L34.2 490.4 L34.7 490.3 L35.2 489.9 L35.7 489.2 L36.2 486.9 L36.6 481.6 L36.7 479.8 L36.9 475.7 L37.1 472.0 L37.2 470.6 L37.3 470.1 L37.4 469.4 L37.6 469.9 L37.7 471.6 L37.9 474.2 L37.9 475.1 L38.0 471.6 L38.2 476.0 L38.5 480.9 L38.7 483.0 L39.2 485.8 L39.7 487.2 L40.2 488.2 L40.7 488.9 L41.2 489.3 L41.7 489.5 L42.2 489.7 L42.7 489.8 L43.2 489.9 L43.7 489.9 L44.2 489.9 L44.7 490.0 L45.2 490.0 L45.7 490.0 L46.2 490.0 L46.7 490.0 L47.2 490.0 L47.7 490.0 L48.2 490.0 L48.7 490.0 L49.2 490.0 L49.7 490.0 L50.2 490.0 L50.7 490.0 L51.2 490.0 L51.7 490.0 L52.2 490.0 L52.7 490.0 L53.2 490.5 L53.7 490.5 L54.2 490.5 L54.7 490.5 L55.2 490.5 L55.7 490.5 L56.2 490.5 L56.7 490.5 L57.2 490.5 L57.7 490.5 L58.2 490.5 L58.7 490.5 L59.2 490.5 L59.7 490.5 L60.2 490.5 L60.7 490.5 L61.2 490.5 L61.7 490.5 L62.2 490.5 L62.7 490.5 L63.2 490.5 L63.7 490.5 L64.2 490.5 L64.7 490.5 L65.2 490.5 L65.7 490.5 L66.2 490.5 L66.7 490.5 L67.2 490.5 L67.7 490.5 L68.2 490.5 L68.7 490.5 L69.2 490.5 L69.7 490.5 L70.2 490.5 L70.7 490.5 L71.2 490.5 L71.7 490.5 L72.2 490.5 L72.7 490.5 L73.2 490.5 L73.7 490.5 L74.2 490.5 L74.21 490.5 Z" fill="#c25c60" fill-opacity="0.72"/>
<path d="M26.7 490.5 L27.2 490.5 L27.7 490.5 L28.2 490.5 L28.7 490.5 L29.2 490.5 L29.7 490.5 L30.2 490.5 L30.7 490.5 L31.2 490.5 L31.7 490.5 L32.2 490.5 L32.7 490.5 L33.2 490.5 L33.7 490.5 L34.2 490.4 L34.7 490.3 L35.2 489.9 L35.7 489.2 L36.2 486.9 L36.6 481.6 L36.7 479.8 L36.9 475.7 L37.1 472.0 L37.2 470.6 L37.3 470.1 L37.4 469.4 L37.6 469.9 L37.7 471.6 L37.9 474.2 L37.9 475.1 L38.0 471.6 L38.2 476.0 L38.5 480.9 L38.7 483.0 L39.2 485.8 L39.7 487.2 L40.2 488.2 L40.7 488.9 L41.2 489.3 L41.7 489.5 L42.2 489.7 L42.7 489.8 L43.2 489.9 L43.7 489.9 L44.2 489.9 L44.7 490.0 L45.2 490.0 L45.7 490.0 L46.2 490.0 L46.7 490.0 L47.2 490.0 L47.7 490.0 L48.2 490.0 L48.7 490.0 L49.2 490.0 L49.7 490.0 L50.2 490.0 L50.7 490.0 L51.2 490.0 L51.7 490.0 L52.2 490.0 L52.7 490.0 L53.2 490.5 L53.7 490.5 L54.2 490.5 L54.7 490.5 L55.2 490.5 L55.7 490.5 L56.2 490.5 L56.7 490.5 L57.2 490.5 L57.7 490.5 L58.2 490.5 L58.7 490.5 L59.2 490.5 L59.7 490.5 L60.2 490.5 L60.7 490.5 L61.2 490.5 L61.7 490.5 L62.2 490.5 L62.7 490.5 L63.2 490.5 L63.7 490.5 L64.2 490.5 L64.7 490.5 L65.2 490.5 L65.7 490.5 L66.2 490.5 L66.7 490.5 L67.2 490.5 L67.7 490.5 L68.2 490.5 L68.7 490.5 L69.2 490.5 L69.7 490.5 L70.2 490.5 L70.7 490.5 L71.2 490.5 L71.7 490.5 L72.2 490.5 L72.7 490.5 L73.2 490.5 L73.7 490.5 L74.2 490.5 L74.21 490.5" fill="none" stroke="#b0333c" stroke-width="0.55"/>
<line x1="26.51" y1="490.5" x2="74.21" y2="490.5" stroke="#b0333c" stroke-width="0.8"/>
<path d="M22.94 492.5 L22.9 492.5 L23.4 492.5 L23.9 492.5 L24.4 492.5 L24.9 492.5 L25.4 492.5 L25.9 492.5 L26.4 492.5 L26.9 492.5 L27.4 492.5 L27.9 492.5 L28.4 492.5 L28.9 492.5 L29.4 492.5 L29.9 492.5 L30.4 492.4 L30.9 492.2 L31.4 491.8 L31.9 491.1 L32.4 489.7 L32.9 483.9 L33.2 474.7 L33.4 467.4 L33.5 464.4 L33.6 463.3 L33.7 461.6 L33.9 463.0 L33.9 464.0 L34.0 466.8 L34.2 472.0 L34.2 473.8 L34.3 477.2 L34.4 480.2 L34.5 482.7 L34.8 487.0 L34.9 487.8 L35.4 489.6 L35.9 490.7 L36.4 491.6 L36.9 492.1 L37.4 492.3 L37.9 492.4 L38.4 492.5 L38.9 492.5 L39.4 492.5 L39.9 492.5 L40.4 492.5 L40.9 492.5 L41.4 492.5 L41.9 492.5 L42.4 492.5 L42.9 492.5 L43.4 492.5 L43.9 492.5 L44.4 492.5 L44.9 492.5 L45.4 492.5 L45.9 492.5 L46.4 492.5 L46.9 492.5 L47.4 492.5 L47.9 492.5 L48.4 492.5 L48.9 492.5 L49.4 492.5 L49.9 492.5 L50.4 492.5 L50.9 492.5 L51.4 492.5 L51.9 492.5 L52.4 492.5 L52.9 492.5 L53.4 492.5 L53.9 492.5 L54.4 492.5 L54.9 492.5 L55.4 492.5 L55.9 492.5 L56.4 492.5 L56.9 492.5 L57.4 492.5 L57.9 492.5 L58.4 492.5 L58.9 492.5 L59.4 492.5 L59.9 492.5 L60.4 492.5 L60.9 492.5 L61.4 492.5 L61.9 492.5 L62.4 492.5 L62.9 492.5 L63.4 492.5 L63.9 492.5 L64.4 492.5 L64.9 492.5 L65.4 492.5 L65.9 492.5 L66.4 492.5 L66.9 492.5 L67.4 492.5 L67.9 492.5 L68.4 492.5 L68.9 492.5 L69.4 492.5 L69.9 492.5 L70.4 492.5 L70.44 492.5 Z" fill="#ebb15e" fill-opacity="0.72"/>
<path d="M22.9 492.5 L23.4 492.5 L23.9 492.5 L24.4 492.5 L24.9 492.5 L25.4 492.5 L25.9 492.5 L26.4 492.5 L26.9 492.5 L27.4 492.5 L27.9 492.5 L28.4 492.5 L28.9 492.5 L29.4 492.5 L29.9 492.5 L30.4 492.4 L30.9 492.2 L31.4 491.8 L31.9 491.1 L32.4 489.7 L32.9 483.9 L33.2 474.7 L33.4 467.4 L33.5 464.4 L33.6 463.3 L33.7 461.6 L33.9 463.0 L33.9 464.0 L34.0 466.8 L34.2 472.0 L34.2 473.8 L34.3 477.2 L34.4 480.2 L34.5 482.7 L34.8 487.0 L34.9 487.8 L35.4 489.6 L35.9 490.7 L36.4 491.6 L36.9 492.1 L37.4 492.3 L37.9 492.4 L38.4 492.5 L38.9 492.5 L39.4 492.5 L39.9 492.5 L40.4 492.5 L40.9 492.5 L41.4 492.5 L41.9 492.5 L42.4 492.5 L42.9 492.5 L43.4 492.5 L43.9 492.5 L44.4 492.5 L44.9 492.5 L45.4 492.5 L45.9 492.5 L46.4 492.5 L46.9 492.5 L47.4 492.5 L47.9 492.5 L48.4 492.5 L48.9 492.5 L49.4 492.5 L49.9 492.5 L50.4 492.5 L50.9 492.5 L51.4 492.5 L51.9 492.5 L52.4 492.5 L52.9 492.5 L53.4 492.5 L53.9 492.5 L54.4 492.5 L54.9 492.5 L55.4 492.5 L55.9 492.5 L56.4 492.5 L56.9 492.5 L57.4 492.5 L57.9 492.5 L58.4 492.5 L58.9 492.5 L59.4 492.5 L59.9 492.5 L60.4 492.5 L60.9 492.5 L61.4 492.5 L61.9 492.5 L62.4 492.5 L62.9 492.5 L63.4 492.5 L63.9 492.5 L64.4 492.5 L64.9 492.5 L65.4 492.5 L65.9 492.5 L66.4 492.5 L66.9 492.5 L67.4 492.5 L67.9 492.5 L68.4 492.5 L68.9 492.5 L69.4 492.5 L69.9 492.5 L70.4 492.5 L70.44 492.5" fill="none" stroke="#e09a30" stroke-width="0.55"/>
<line x1="22.74" y1="492.5" x2="70.44" y2="492.5" stroke="#e09a30" stroke-width="0.8"/>
<path d="M19.17 494.5 L19.2 494.5 L19.7 494.5 L20.2 494.5 L20.7 494.5 L21.2 494.5 L21.7 494.5 L22.2 494.5 L22.7 494.5 L23.2 494.5 L23.7 494.5 L24.2 494.5 L24.7 494.5 L25.2 494.5 L25.7 494.5 L26.2 494.5 L26.7 494.4 L27.2 494.2 L27.7 493.8 L28.2 493.0 L28.7 491.6 L29.2 485.4 L29.5 475.7 L29.7 468.0 L29.8 464.8 L29.8 463.6 L30.0 461.9 L30.1 463.3 L30.2 464.5 L30.3 467.4 L30.4 472.9 L30.5 474.8 L30.6 478.4 L30.7 481.6 L30.8 484.2 L31.1 488.7 L31.2 489.5 L31.7 491.4 L32.2 492.6 L32.7 493.5 L33.2 494.0 L33.7 494.3 L34.2 494.4 L34.7 494.5 L35.2 494.5 L35.7 494.5 L36.2 494.5 L36.7 494.5 L37.2 494.5 L37.7 494.5 L38.2 494.5 L38.7 494.5 L39.2 494.5 L39.7 494.5 L40.2 494.5 L40.7 494.5 L41.2 494.5 L41.7 494.5 L42.2 494.5 L42.7 494.5 L43.2 494.5 L43.7 494.5 L44.2 494.5 L44.7 494.5 L45.2 494.5 L45.7 494.5 L46.2 494.5 L46.7 494.5 L47.2 494.5 L47.7 494.5 L48.2 494.5 L48.7 494.5 L49.2 494.5 L49.7 494.5 L50.2 494.5 L50.7 494.5 L51.2 494.5 L51.7 494.5 L52.2 494.5 L52.7 494.5 L53.2 494.5 L53.7 494.5 L54.2 494.5 L54.7 494.5 L55.2 494.5 L55.7 494.5 L56.2 494.5 L56.7 494.5 L57.2 494.5 L57.7 494.5 L58.2 494.5 L58.7 494.5 L59.2 494.5 L59.7 494.5 L60.2 494.5 L60.7 494.5 L61.2 494.5 L61.7 494.5 L62.2 494.5 L62.7 494.5 L63.2 494.5 L63.7 494.5 L64.2 494.5 L64.7 494.5 L65.2 494.5 L65.7 494.5 L66.2 494.5 L66.7 494.5 L66.67 494.5 Z" fill="#7e7a8c" fill-opacity="0.72"/>
<path d="M19.2 494.5 L19.7 494.5 L20.2 494.5 L20.7 494.5 L21.2 494.5 L21.7 494.5 L22.2 494.5 L22.7 494.5 L23.2 494.5 L23.7 494.5 L24.2 494.5 L24.7 494.5 L25.2 494.5 L25.7 494.5 L26.2 494.5 L26.7 494.4 L27.2 494.2 L27.7 493.8 L28.2 493.0 L28.7 491.6 L29.2 485.4 L29.5 475.7 L29.7 468.0 L29.8 464.8 L29.8 463.6 L30.0 461.9 L30.1 463.3 L30.2 464.5 L30.3 467.4 L30.4 472.9 L30.5 474.8 L30.6 478.4 L30.7 481.6 L30.8 484.2 L31.1 488.7 L31.2 489.5 L31.7 491.4 L32.2 492.6 L32.7 493.5 L33.2 494.0 L33.7 494.3 L34.2 494.4 L34.7 494.5 L35.2 494.5 L35.7 494.5 L36.2 494.5 L36.7 494.5 L37.2 494.5 L37.7 494.5 L38.2 494.5 L38.7 494.5 L39.2 494.5 L39.7 494.5 L40.2 494.5 L40.7 494.5 L41.2 494.5 L41.7 494.5 L42.2 494.5 L42.7 494.5 L43.2 494.5 L43.7 494.5 L44.2 494.5 L44.7 494.5 L45.2 494.5 L45.7 494.5 L46.2 494.5 L46.7 494.5 L47.2 494.5 L47.7 494.5 L48.2 494.5 L48.7 494.5 L49.2 494.5 L49.7 494.5 L50.2 494.5 L50.7 494.5 L51.2 494.5 L51.7 494.5 L52.2 494.5 L52.7 494.5 L53.2 494.5 L53.7 494.5 L54.2 494.5 L54.7 494.5 L55.2 494.5 L55.7 494.5 L56.2 494.5 L56.7 494.5 L57.2 494.5 L57.7 494.5 L58.2 494.5 L58.7 494.5 L59.2 494.5 L59.7 494.5 L60.2 494.5 L60.7 494.5 L61.2 494.5 L61.7 494.5 L62.2 494.5 L62.7 494.5 L63.2 494.5 L63.7 494.5 L64.2 494.5 L64.7 494.5 L65.2 494.5 L65.7 494.5 L66.2 494.5 L66.7 494.5 L66.67 494.5" fill="none" stroke="#4d5d8a" stroke-width="0.55"/>
<line x1="18.97" y1="494.5" x2="66.67" y2="494.5" stroke="#4d5d8a" stroke-width="0.8"/>
<path d="M15.4 496.5 L15.4 496.5 L15.9 496.5 L16.4 496.5 L16.9 496.5 L17.4 496.5 L17.9 496.5 L18.4 496.5 L18.9 496.5 L19.4 496.5 L19.9 496.5 L20.4 496.5 L20.9 496.5 L21.4 496.5 L21.9 496.5 L22.4 496.5 L22.9 496.4 L23.4 496.2 L23.9 495.8 L24.4 495.1 L24.9 493.9 L25.4 490.0 L25.6 485.6 L25.9 473.8 L26.1 464.6 L26.2 460.8 L26.2 459.3 L26.4 457.3 L26.6 459.0 L26.7 463.9 L26.9 470.5 L26.9 472.8 L27.0 477.1 L27.2 484.1 L27.4 488.3 L27.5 489.6 L27.9 492.1 L28.4 493.7 L28.9 494.9 L29.4 495.7 L29.9 496.2 L30.4 496.4 L30.9 496.5 L31.4 496.5 L31.9 496.5 L32.4 496.5 L32.9 496.5 L33.4 496.5 L33.9 496.5 L34.4 496.5 L34.9 496.5 L35.4 496.5 L35.9 496.5 L36.4 496.5 L36.9 496.5 L37.4 496.5 L37.9 496.5 L38.4 496.5 L38.9 496.5 L39.4 496.5 L39.9 496.5 L40.4 496.5 L40.9 496.5 L41.4 496.5 L41.9 496.5 L42.4 496.5 L42.9 496.5 L43.4 496.5 L43.9 496.5 L44.4 496.5 L44.9 496.5 L45.4 496.5 L45.9 496.5 L46.4 496.5 L46.9 496.5 L47.4 496.5 L47.9 496.5 L48.4 496.5 L48.9 496.5 L49.4 496.5 L49.9 496.5 L50.4 496.5 L50.9 496.5 L51.4 496.5 L51.9 496.5 L52.4 496.5 L52.9 496.5 L53.4 496.5 L53.9 496.5 L54.4 496.5 L54.9 496.5 L55.4 496.5 L55.9 496.5 L56.4 496.5 L56.9 496.5 L57.4 496.5 L57.9 496.5 L58.4 496.5 L58.9 496.5 L59.4 496.5 L59.9 496.5 L60.4 496.5 L60.9 496.5 L61.4 496.5 L61.9 496.5 L62.4 496.5 L62.9 496.5 L62.9 496.5 Z" fill="#a7c6ea" fill-opacity="0.72"/>
<path d="M15.4 496.5 L15.9 496.5 L16.4 496.5 L16.9 496.5 L17.4 496.5 L17.9 496.5 L18.4 496.5 L18.9 496.5 L19.4 496.5 L19.9 496.5 L20.4 496.5 L20.9 496.5 L21.4 496.5 L21.9 496.5 L22.4 496.5 L22.9 496.4 L23.4 496.2 L23.9 495.8 L24.4 495.1 L24.9 493.9 L25.4 490.0 L25.6 485.6 L25.9 473.8 L26.1 464.6 L26.2 460.8 L26.2 459.3 L26.4 457.3 L26.6 459.0 L26.7 463.9 L26.9 470.5 L26.9 472.8 L27.0 477.1 L27.2 484.1 L27.4 488.3 L27.5 489.6 L27.9 492.1 L28.4 493.7 L28.9 494.9 L29.4 495.7 L29.9 496.2 L30.4 496.4 L30.9 496.5 L31.4 496.5 L31.9 496.5 L32.4 496.5 L32.9 496.5 L33.4 496.5 L33.9 496.5 L34.4 496.5 L34.9 496.5 L35.4 496.5 L35.9 496.5 L36.4 496.5 L36.9 496.5 L37.4 496.5 L37.9 496.5 L38.4 496.5 L38.9 496.5 L39.4 496.5 L39.9 496.5 L40.4 496.5 L40.9 496.5 L41.4 496.5 L41.9 496.5 L42.4 496.5 L42.9 496.5 L43.4 496.5 L43.9 496.5 L44.4 496.5 L44.9 496.5 L45.4 496.5 L45.9 496.5 L46.4 496.5 L46.9 496.5 L47.4 496.5 L47.9 496.5 L48.4 496.5 L48.9 496.5 L49.4 496.5 L49.9 496.5 L50.4 496.5 L50.9 496.5 L51.4 496.5 L51.9 496.5 L52.4 496.5 L52.9 496.5 L53.4 496.5 L53.9 496.5 L54.4 496.5 L54.9 496.5 L55.4 496.5 L55.9 496.5 L56.4 496.5 L56.9 496.5 L57.4 496.5 L57.9 496.5 L58.4 496.5 L58.9 496.5 L59.4 496.5 L59.9 496.5 L60.4 496.5 L60.9 496.5 L61.4 496.5 L61.9 496.5 L62.4 496.5 L62.9 496.5 L62.9 496.5" fill="none" stroke="#6fa3d8" stroke-width="0.55"/>
<line x1="15.2" y1="496.5" x2="62.9" y2="496.5" stroke="#6fa3d8" stroke-width="0.8"/>
<line x1="14.8" y1="497.5" x2="61.7" y2="497.5" stroke="#444" stroke-width="0.5"/>
<path d="M20.85 498.00v1.6M21.26 498.00v1.6M21.68 498.00v1.6M22.10 498.00v1.6M22.54 498.00v1.6M23.00 498.00v1.6M23.47 498.00v1.6M23.96 498.00v1.6M24.47 498.00v1.6M25.02 498.00v1.6M25.62 498.00v1.6M26.30 498.00v1.6M27.30 498.00v1.6M28.30 498.00v1.6M28.98 498.00v1.6M29.58 498.00v1.6M30.13 498.00v1.6M30.64 498.00v1.6M31.13 498.00v1.6M31.60 498.00v1.6M32.06 498.00v1.6M32.50 498.00v1.6M32.92 498.00v1.6M33.34 498.00v1.6M33.75 498.00v1.6M20.00 498.00v2.2M27.30 498.00v2.2M34.80 498.00v2.2M47.30 498.00v2.2M59.20 498.00v2.2M38.56 498.00v1.5M40.76 498.00v1.5M42.33 498.00v1.5M43.54 498.00v1.5M44.53 498.00v1.5M45.36 498.00v1.5M46.09 498.00v1.5M46.73 498.00v1.5M50.88 498.00v1.5M52.98 498.00v1.5M54.46 498.00v1.5M55.62 498.00v1.5M56.56 498.00v1.5M57.36 498.00v1.5M58.05 498.00v1.5M58.66 498.00v1.5" stroke="#111" stroke-width="0.6" fill="none"/>
<text x="20" y="506.5" font-size="4.6" text-anchor="middle" fill="#8a8a8a">-10<tspan font-size="2.85" dy="-1.75">3</tspan></text>
<text x="27.3" y="506.5" font-size="4.6" text-anchor="middle" fill="#8a8a8a">0</text>
<text x="34.8" y="506.5" font-size="4.6" text-anchor="middle" fill="#8a8a8a">10<tspan font-size="2.85" dy="-1.75">3</tspan></text>
<text x="47.3" y="506.5" font-size="4.6" text-anchor="middle" fill="#8a8a8a">10<tspan font-size="2.85" dy="-1.75">4</tspan></text>
<text x="59.2" y="506.5" font-size="4.6" text-anchor="middle" fill="#8a8a8a">10<tspan font-size="2.85" dy="-1.75">5</tspan></text>
<text x="25.5" y="516.9" font-size="7.03" stroke="#231f20" stroke-width="0.2" textLength="27.3" lengthAdjust="spacingAndGlyphs">Anti-CD25</text>
<path d="M83.4 497.5 L94.71 490 M130.3 497.5 L143.11 490" fill="none" stroke="#111" stroke-width="0.7"/>
<path d="M95.31 490.5 L95.3 490.5 L95.8 490.3 L96.3 490.5 L96.8 490.5 L97.3 490.5 L97.8 490.5 L98.3 490.5 L98.8 490.5 L99.3 490.5 L99.8 490.5 L100.3 490.5 L100.8 490.3 L101.3 490.5 L101.8 490.0 L102.3 490.5 L102.8 490.1 L103.3 490.0 L103.8 490.4 L104.3 489.7 L104.8 490.5 L105.3 489.9 L105.8 490.4 L106.3 490.4 L106.8 490.2 L107.3 490.5 L107.8 490.3 L108.3 490.5 L108.8 490.5 L109.3 490.5 L109.8 490.5 L110.3 490.5 L110.8 490.5 L111.3 490.4 L111.8 490.5 L112.3 490.5 L112.8 490.2 L113.3 490.5 L113.8 489.7 L114.3 490.3 L114.8 489.5 L115.3 489.6 L115.8 489.6 L116.3 488.9 L116.8 489.4 L117.3 488.4 L117.8 488.8 L118.3 488.2 L118.8 487.9 L119.3 488.1 L119.8 487.2 L120.3 487.8 L120.8 486.9 L121.3 487.1 L121.8 487.0 L122.3 486.6 L122.8 487.2 L123.3 486.5 L123.8 487.3 L124.3 486.9 L124.8 487.1 L125.3 487.3 L125.8 486.6 L126.3 487.0 L126.8 485.7 L127.3 485.3 L127.8 483.8 L128.3 482.0 L128.8 480.5 L129.3 477.4 L129.8 475.5 L130.3 472.1 L130.8 469.5 L131.3 467.0 L131.8 464.2 L132.3 463.1 L132.8 461.2 L133.3 461.4 L133.8 461.9 L134.3 463.9 L134.8 467.6 L135.3 470.7 L135.8 475.4 L136.3 478.6 L136.8 482.1 L137.3 484.8 L137.8 486.3 L138.3 488.3 L138.8 488.4 L139.3 489.7 L139.8 489.6 L140.3 489.9 L140.8 490.4 L141.3 489.9 L141.8 490.5 L142.3 490.2 L142.8 490.5 L142.81 490.5 Z" fill="#c25c60" fill-opacity="0.72"/>
<path d="M95.3 490.5 L95.8 490.3 L96.3 490.5 L96.8 490.5 L97.3 490.5 L97.8 490.5 L98.3 490.5 L98.8 490.5 L99.3 490.5 L99.8 490.5 L100.3 490.5 L100.8 490.3 L101.3 490.5 L101.8 490.0 L102.3 490.5 L102.8 490.1 L103.3 490.0 L103.8 490.4 L104.3 489.7 L104.8 490.5 L105.3 489.9 L105.8 490.4 L106.3 490.4 L106.8 490.2 L107.3 490.5 L107.8 490.3 L108.3 490.5 L108.8 490.5 L109.3 490.5 L109.8 490.5 L110.3 490.5 L110.8 490.5 L111.3 490.4 L111.8 490.5 L112.3 490.5 L112.8 490.2 L113.3 490.5 L113.8 489.7 L114.3 490.3 L114.8 489.5 L115.3 489.6 L115.8 489.6 L116.3 488.9 L116.8 489.4 L117.3 488.4 L117.8 488.8 L118.3 488.2 L118.8 487.9 L119.3 488.1 L119.8 487.2 L120.3 487.8 L120.8 486.9 L121.3 487.1 L121.8 487.0 L122.3 486.6 L122.8 487.2 L123.3 486.5 L123.8 487.3 L124.3 486.9 L124.8 487.1 L125.3 487.3 L125.8 486.6 L126.3 487.0 L126.8 485.7 L127.3 485.3 L127.8 483.8 L128.3 482.0 L128.8 480.5 L129.3 477.4 L129.8 475.5 L130.3 472.1 L130.8 469.5 L131.3 467.0 L131.8 464.2 L132.3 463.1 L132.8 461.2 L133.3 461.4 L133.8 461.9 L134.3 463.9 L134.8 467.6 L135.3 470.7 L135.8 475.4 L136.3 478.6 L136.8 482.1 L137.3 484.8 L137.8 486.3 L138.3 488.3 L138.8 488.4 L139.3 489.7 L139.8 489.6 L140.3 489.9 L140.8 490.4 L141.3 489.9 L141.8 490.5 L142.3 490.2 L142.8 490.5 L142.81 490.5" fill="none" stroke="#b0333c" stroke-width="0.55"/>
<line x1="95.11" y1="490.5" x2="142.81" y2="490.5" stroke="#b0333c" stroke-width="0.8"/>
<path d="M91.54 492.5 L91.5 492.4 L92.0 491.8 L92.5 492.5 L93.0 491.8 L93.5 492.4 L94.0 492.2 L94.5 492.2 L95.0 492.5 L95.5 492.2 L96.0 492.5 L96.5 492.5 L97.0 492.5 L97.5 492.5 L98.0 492.5 L98.5 492.5 L99.0 492.5 L99.5 492.5 L100.0 492.5 L100.5 492.5 L101.0 492.5 L101.5 492.0 L102.0 492.5 L102.5 491.9 L103.0 492.3 L103.5 492.2 L104.0 491.8 L104.5 492.3 L105.0 491.5 L105.5 492.0 L106.0 491.2 L106.5 490.7 L107.0 490.1 L107.5 488.1 L108.0 486.9 L108.5 483.6 L109.0 480.8 L109.5 476.9 L110.0 472.5 L110.5 468.9 L111.0 464.3 L111.5 462.1 L112.0 459.6 L112.5 459.3 L113.0 460.3 L113.5 461.8 L114.0 465.5 L114.5 468.4 L115.0 473.0 L115.5 476.6 L116.0 480.2 L116.5 483.8 L117.0 485.7 L117.5 488.5 L118.0 489.4 L118.5 490.8 L119.0 491.6 L119.5 491.8 L120.0 492.5 L120.5 492.3 L121.0 492.5 L121.5 492.5 L122.0 492.5 L122.5 492.5 L123.0 492.4 L123.5 492.5 L124.0 492.3 L124.5 492.5 L125.0 492.5 L125.5 492.1 L126.0 492.5 L126.5 491.8 L127.0 492.5 L127.5 491.9 L128.0 492.1 L128.5 492.3 L129.0 491.9 L129.5 492.5 L130.0 492.0 L130.5 492.5 L131.0 492.5 L131.5 492.5 L132.0 492.5 L132.5 492.4 L133.0 492.5 L133.5 492.5 L134.0 492.5 L134.5 492.5 L135.0 492.5 L135.5 492.5 L136.0 492.2 L136.5 492.5 L137.0 492.3 L137.5 492.2 L138.0 492.5 L138.5 491.8 L139.0 492.5 L139.04 492.5 Z" fill="#ebb15e" fill-opacity="0.72"/>
<path d="M91.5 492.4 L92.0 491.8 L92.5 492.5 L93.0 491.8 L93.5 492.4 L94.0 492.2 L94.5 492.2 L95.0 492.5 L95.5 492.2 L96.0 492.5 L96.5 492.5 L97.0 492.5 L97.5 492.5 L98.0 492.5 L98.5 492.5 L99.0 492.5 L99.5 492.5 L100.0 492.5 L100.5 492.5 L101.0 492.5 L101.5 492.0 L102.0 492.5 L102.5 491.9 L103.0 492.3 L103.5 492.2 L104.0 491.8 L104.5 492.3 L105.0 491.5 L105.5 492.0 L106.0 491.2 L106.5 490.7 L107.0 490.1 L107.5 488.1 L108.0 486.9 L108.5 483.6 L109.0 480.8 L109.5 476.9 L110.0 472.5 L110.5 468.9 L111.0 464.3 L111.5 462.1 L112.0 459.6 L112.5 459.3 L113.0 460.3 L113.5 461.8 L114.0 465.5 L114.5 468.4 L115.0 473.0 L115.5 476.6 L116.0 480.2 L116.5 483.8 L117.0 485.7 L117.5 488.5 L118.0 489.4 L118.5 490.8 L119.0 491.6 L119.5 491.8 L120.0 492.5 L120.5 492.3 L121.0 492.5 L121.5 492.5 L122.0 492.5 L122.5 492.5 L123.0 492.4 L123.5 492.5 L124.0 492.3 L124.5 492.5 L125.0 492.5 L125.5 492.1 L126.0 492.5 L126.5 491.8 L127.0 492.5 L127.5 491.9 L128.0 492.1 L128.5 492.3 L129.0 491.9 L129.5 492.5 L130.0 492.0 L130.5 492.5 L131.0 492.5 L131.5 492.5 L132.0 492.5 L132.5 492.4 L133.0 492.5 L133.5 492.5 L134.0 492.5 L134.5 492.5 L135.0 492.5 L135.5 492.5 L136.0 492.2 L136.5 492.5 L137.0 492.3 L137.5 492.2 L138.0 492.5 L138.5 491.8 L139.0 492.5 L139.04 492.5" fill="none" stroke="#e09a30" stroke-width="0.55"/>
<line x1="91.34" y1="492.5" x2="139.04" y2="492.5" stroke="#e09a30" stroke-width="0.8"/>
<path d="M87.77 494.5 L87.8 494.5 L88.3 494.5 L88.8 494.5 L89.3 494.2 L89.8 494.5 L90.3 494.0 L90.8 494.4 L91.3 494.2 L91.8 493.9 L92.3 494.4 L92.8 493.7 L93.3 494.5 L93.8 494.0 L94.3 494.3 L94.8 494.5 L95.3 494.2 L95.8 494.5 L96.3 494.3 L96.8 494.5 L97.3 494.5 L97.8 494.5 L98.3 494.5 L98.8 494.5 L99.3 494.5 L99.8 494.4 L100.3 494.5 L100.8 494.4 L101.3 493.8 L101.8 494.0 L102.3 492.6 L102.8 492.4 L103.3 490.8 L103.8 489.2 L104.3 487.4 L104.8 484.1 L105.3 481.6 L105.8 477.1 L106.3 473.6 L106.8 469.4 L107.3 465.4 L107.8 462.8 L108.3 459.8 L108.8 459.5 L109.3 459.2 L109.8 461.4 L110.3 465.0 L110.8 468.9 L111.3 474.5 L111.8 478.4 L112.3 483.3 L112.8 486.4 L113.3 489.0 L113.8 491.3 L114.3 491.9 L114.8 493.4 L115.3 493.3 L115.8 493.9 L116.3 494.1 L116.8 493.8 L117.3 494.5 L117.8 493.9 L118.3 494.5 L118.8 494.4 L119.3 494.5 L119.8 494.5 L120.3 494.4 L120.8 494.5 L121.3 494.5 L121.8 494.5 L122.3 494.5 L122.8 494.5 L123.3 494.5 L123.8 494.3 L124.3 494.5 L124.8 494.3 L125.3 494.4 L125.8 494.5 L126.3 493.9 L126.8 494.5 L127.3 493.8 L127.8 494.3 L128.3 494.1 L128.8 494.0 L129.3 494.5 L129.8 493.9 L130.3 494.5 L130.8 494.3 L131.3 494.5 L131.8 494.5 L132.3 494.5 L132.8 494.5 L133.3 494.5 L133.8 494.5 L134.3 494.5 L134.8 494.5 L135.3 494.5 L135.27 494.5 Z" fill="#7e7a8c" fill-opacity="0.72"/>
<path d="M87.8 494.5 L88.3 494.5 L88.8 494.5 L89.3 494.2 L89.8 494.5 L90.3 494.0 L90.8 494.4 L91.3 494.2 L91.8 493.9 L92.3 494.4 L92.8 493.7 L93.3 494.5 L93.8 494.0 L94.3 494.3 L94.8 494.5 L95.3 494.2 L95.8 494.5 L96.3 494.3 L96.8 494.5 L97.3 494.5 L97.8 494.5 L98.3 494.5 L98.8 494.5 L99.3 494.5 L99.8 494.4 L100.3 494.5 L100.8 494.4 L101.3 493.8 L101.8 494.0 L102.3 492.6 L102.8 492.4 L103.3 490.8 L103.8 489.2 L104.3 487.4 L104.8 484.1 L105.3 481.6 L105.8 477.1 L106.3 473.6 L106.8 469.4 L107.3 465.4 L107.8 462.8 L108.3 459.8 L108.8 459.5 L109.3 459.2 L109.8 461.4 L110.3 465.0 L110.8 468.9 L111.3 474.5 L111.8 478.4 L112.3 483.3 L112.8 486.4 L113.3 489.0 L113.8 491.3 L114.3 491.9 L114.8 493.4 L115.3 493.3 L115.8 493.9 L116.3 494.1 L116.8 493.8 L117.3 494.5 L117.8 493.9 L118.3 494.5 L118.8 494.4 L119.3 494.5 L119.8 494.5 L120.3 494.4 L120.8 494.5 L121.3 494.5 L121.8 494.5 L122.3 494.5 L122.8 494.5 L123.3 494.5 L123.8 494.3 L124.3 494.5 L124.8 494.3 L125.3 494.4 L125.8 494.5 L126.3 493.9 L126.8 494.5 L127.3 493.8 L127.8 494.3 L128.3 494.1 L128.8 494.0 L129.3 494.5 L129.8 493.9 L130.3 494.5 L130.8 494.3 L131.3 494.5 L131.8 494.5 L132.3 494.5 L132.8 494.5 L133.3 494.5 L133.8 494.5 L134.3 494.5 L134.8 494.5 L135.3 494.5 L135.27 494.5" fill="none" stroke="#4d5d8a" stroke-width="0.55"/>
<line x1="87.57" y1="494.5" x2="135.27" y2="494.5" stroke="#4d5d8a" stroke-width="0.8"/>
<path d="M84 496.5 L84.0 496.2 L84.5 496.5 L85.0 496.5 L85.5 496.5 L86.0 496.5 L86.5 496.5 L87.0 496.5 L87.5 496.5 L88.0 496.5 L88.5 496.5 L89.0 496.4 L89.5 496.5 L90.0 496.0 L90.5 496.5 L91.0 496.0 L91.5 496.2 L92.0 496.3 L92.5 495.8 L93.0 496.5 L93.5 495.8 L94.0 496.5 L94.5 496.2 L95.0 496.2 L95.5 496.5 L96.0 495.8 L96.5 496.4 L97.0 495.4 L97.5 495.2 L98.0 494.4 L98.5 492.9 L99.0 492.0 L99.5 489.2 L100.0 487.4 L100.5 484.1 L101.0 480.8 L101.5 477.5 L102.0 473.1 L102.5 470.2 L103.0 466.1 L103.5 463.6 L104.0 461.3 L104.5 459.8 L105.0 460.1 L105.5 460.7 L106.0 464.5 L106.5 468.2 L107.0 473.4 L107.5 478.7 L108.0 482.9 L108.5 487.6 L109.0 490.1 L109.5 493.0 L110.0 494.4 L110.5 495.3 L111.0 496.4 L111.5 496.0 L112.0 496.5 L112.5 496.2 L113.0 496.5 L113.5 496.5 L114.0 496.0 L114.5 496.5 L115.0 495.8 L115.5 496.4 L116.0 496.0 L116.5 496.0 L117.0 496.4 L117.5 495.9 L118.0 496.5 L118.5 496.1 L119.0 496.5 L119.5 496.5 L120.0 496.5 L120.5 496.5 L121.0 496.5 L121.5 496.5 L122.0 496.5 L122.5 496.5 L123.0 496.5 L123.5 496.4 L124.0 496.5 L124.5 496.2 L125.0 496.5 L125.5 496.3 L126.0 496.1 L126.5 496.5 L127.0 495.7 L127.5 496.5 L128.0 495.9 L128.5 496.2 L129.0 496.3 L129.5 496.0 L130.0 496.5 L130.5 496.1 L131.0 496.5 L131.5 496.5 L131.5 496.5 Z" fill="#a7c6ea" fill-opacity="0.72"/>
<path d="M84.0 496.2 L84.5 496.5 L85.0 496.5 L85.5 496.5 L86.0 496.5 L86.5 496.5 L87.0 496.5 L87.5 496.5 L88.0 496.5 L88.5 496.5 L89.0 496.4 L89.5 496.5 L90.0 496.0 L90.5 496.5 L91.0 496.0 L91.5 496.2 L92.0 496.3 L92.5 495.8 L93.0 496.5 L93.5 495.8 L94.0 496.5 L94.5 496.2 L95.0 496.2 L95.5 496.5 L96.0 495.8 L96.5 496.4 L97.0 495.4 L97.5 495.2 L98.0 494.4 L98.5 492.9 L99.0 492.0 L99.5 489.2 L100.0 487.4 L100.5 484.1 L101.0 480.8 L101.5 477.5 L102.0 473.1 L102.5 470.2 L103.0 466.1 L103.5 463.6 L104.0 461.3 L104.5 459.8 L105.0 460.1 L105.5 460.7 L106.0 464.5 L106.5 468.2 L107.0 473.4 L107.5 478.7 L108.0 482.9 L108.5 487.6 L109.0 490.1 L109.5 493.0 L110.0 494.4 L110.5 495.3 L111.0 496.4 L111.5 496.0 L112.0 496.5 L112.5 496.2 L113.0 496.5 L113.5 496.5 L114.0 496.0 L114.5 496.5 L115.0 495.8 L115.5 496.4 L116.0 496.0 L116.5 496.0 L117.0 496.4 L117.5 495.9 L118.0 496.5 L118.5 496.1 L119.0 496.5 L119.5 496.5 L120.0 496.5 L120.5 496.5 L121.0 496.5 L121.5 496.5 L122.0 496.5 L122.5 496.5 L123.0 496.5 L123.5 496.4 L124.0 496.5 L124.5 496.2 L125.0 496.5 L125.5 496.3 L126.0 496.1 L126.5 496.5 L127.0 495.7 L127.5 496.5 L128.0 495.9 L128.5 496.2 L129.0 496.3 L129.5 496.0 L130.0 496.5 L130.5 496.1 L131.0 496.5 L131.5 496.5 L131.5 496.5" fill="none" stroke="#6fa3d8" stroke-width="0.55"/>
<line x1="83.8" y1="496.5" x2="131.5" y2="496.5" stroke="#6fa3d8" stroke-width="0.8"/>
<line x1="83.4" y1="497.5" x2="130.3" y2="497.5" stroke="#444" stroke-width="0.5"/>
<path d="M89.45 498.00v1.6M89.86 498.00v1.6M90.28 498.00v1.6M90.70 498.00v1.6M91.14 498.00v1.6M91.60 498.00v1.6M92.07 498.00v1.6M92.56 498.00v1.6M93.07 498.00v1.6M93.62 498.00v1.6M94.22 498.00v1.6M94.90 498.00v1.6M95.90 498.00v1.6M96.90 498.00v1.6M97.58 498.00v1.6M98.18 498.00v1.6M98.73 498.00v1.6M99.24 498.00v1.6M99.73 498.00v1.6M100.20 498.00v1.6M100.66 498.00v1.6M101.10 498.00v1.6M101.52 498.00v1.6M101.94 498.00v1.6M102.35 498.00v1.6M88.60 498.00v2.2M95.90 498.00v2.2M103.40 498.00v2.2M115.90 498.00v2.2M127.80 498.00v2.2M107.16 498.00v1.5M109.36 498.00v1.5M110.93 498.00v1.5M112.14 498.00v1.5M113.13 498.00v1.5M113.96 498.00v1.5M114.69 498.00v1.5M115.33 498.00v1.5M119.48 498.00v1.5M121.58 498.00v1.5M123.06 498.00v1.5M124.22 498.00v1.5M125.16 498.00v1.5M125.96 498.00v1.5M126.65 498.00v1.5M127.26 498.00v1.5" stroke="#111" stroke-width="0.6" fill="none"/>
<text x="88.6" y="506.5" font-size="4.6" text-anchor="middle" fill="#8a8a8a">-10<tspan font-size="2.85" dy="-1.75">3</tspan></text>
<text x="95.9" y="506.5" font-size="4.6" text-anchor="middle" fill="#8a8a8a">0</text>
<text x="103.4" y="506.5" font-size="4.6" text-anchor="middle" fill="#8a8a8a">10<tspan font-size="2.85" dy="-1.75">3</tspan></text>
<text x="115.9" y="506.5" font-size="4.6" text-anchor="middle" fill="#8a8a8a">10<tspan font-size="2.85" dy="-1.75">4</tspan></text>
<text x="127.8" y="506.5" font-size="4.6" text-anchor="middle" fill="#8a8a8a">10<tspan font-size="2.85" dy="-1.75">5</tspan></text>
<text x="94.1" y="516.9" font-size="7.03" stroke="#231f20" stroke-width="0.2" textLength="27.6" lengthAdjust="spacingAndGlyphs">Anti-CD25</text>
<path d="M156.8 497.5 L168.11 490 M203.7 497.5 L216.51 490" fill="none" stroke="#111" stroke-width="0.7"/>
<path d="M168.71 490.5 L168.7 490.5 L169.2 490.5 L169.7 490.5 L170.2 490.5 L170.7 490.5 L171.2 490.2 L171.7 490.5 L172.2 490.3 L172.7 490.2 L173.2 490.4 L173.7 489.9 L174.2 490.5 L174.7 490.0 L175.2 490.3 L175.7 490.3 L176.2 490.2 L176.7 490.5 L177.2 490.2 L177.7 490.5 L178.2 490.5 L178.7 490.5 L179.2 490.5 L179.7 490.5 L180.2 490.5 L180.7 490.5 L181.2 490.5 L181.7 490.5 L182.2 490.5 L182.7 490.5 L183.2 490.2 L183.7 490.5 L184.2 490.1 L184.7 490.3 L185.2 490.3 L185.7 489.9 L186.2 490.4 L186.7 489.8 L187.2 490.3 L187.7 490.1 L188.2 490.1 L188.7 490.4 L189.2 489.9 L189.7 490.4 L190.2 489.9 L190.7 490.1 L191.2 489.9 L191.7 489.4 L192.2 489.6 L192.7 488.6 L193.2 488.6 L193.7 487.6 L194.2 487.0 L194.7 486.4 L195.2 485.0 L195.7 484.6 L196.2 483.1 L196.7 482.4 L197.2 481.3 L197.7 480.1 L198.2 479.6 L198.7 478.2 L199.2 478.0 L199.7 476.8 L200.2 476.3 L200.7 475.7 L201.2 474.7 L201.7 474.6 L202.2 473.4 L202.7 473.3 L203.2 472.4 L203.7 471.8 L204.2 471.6 L204.7 470.6 L205.2 470.7 L205.7 469.7 L206.2 469.7 L206.7 469.4 L207.2 468.9 L207.7 469.3 L208.2 468.9 L208.7 470.3 L209.2 471.4 L209.7 473.5 L210.2 476.1 L210.7 478.2 L211.2 481.2 L211.7 482.9 L212.2 485.2 L212.7 486.7 L213.2 487.8 L213.7 489.2 L214.2 489.3 L214.7 490.3 L215.2 490.2 L215.7 490.5 L216.2 490.5 L216.21 490.5 Z" fill="#c25c60" fill-opacity="0.72"/>
<path d="M168.7 490.5 L169.2 490.5 L169.7 490.5 L170.2 490.5 L170.7 490.5 L171.2 490.2 L171.7 490.5 L172.2 490.3 L172.7 490.2 L173.2 490.4 L173.7 489.9 L174.2 490.5 L174.7 490.0 L175.2 490.3 L175.7 490.3 L176.2 490.2 L176.7 490.5 L177.2 490.2 L177.7 490.5 L178.2 490.5 L178.7 490.5 L179.2 490.5 L179.7 490.5 L180.2 490.5 L180.7 490.5 L181.2 490.5 L181.7 490.5 L182.2 490.5 L182.7 490.5 L183.2 490.2 L183.7 490.5 L184.2 490.1 L184.7 490.3 L185.2 490.3 L185.7 489.9 L186.2 490.4 L186.7 489.8 L187.2 490.3 L187.7 490.1 L188.2 490.1 L188.7 490.4 L189.2 489.9 L189.7 490.4 L190.2 489.9 L190.7 490.1 L191.2 489.9 L191.7 489.4 L192.2 489.6 L192.7 488.6 L193.2 488.6 L193.7 487.6 L194.2 487.0 L194.7 486.4 L195.2 485.0 L195.7 484.6 L196.2 483.1 L196.7 482.4 L197.2 481.3 L197.7 480.1 L198.2 479.6 L198.7 478.2 L199.2 478.0 L199.7 476.8 L200.2 476.3 L200.7 475.7 L201.2 474.7 L201.7 474.6 L202.2 473.4 L202.7 473.3 L203.2 472.4 L203.7 471.8 L204.2 471.6 L204.7 470.6 L205.2 470.7 L205.7 469.7 L206.2 469.7 L206.7 469.4 L207.2 468.9 L207.7 469.3 L208.2 468.9 L208.7 470.3 L209.2 471.4 L209.7 473.5 L210.2 476.1 L210.7 478.2 L211.2 481.2 L211.7 482.9 L212.2 485.2 L212.7 486.7 L213.2 487.8 L213.7 489.2 L214.2 489.3 L214.7 490.3 L215.2 490.2 L215.7 490.5 L216.2 490.5 L216.21 490.5" fill="none" stroke="#b0333c" stroke-width="0.55"/>
<line x1="168.51" y1="490.5" x2="216.21" y2="490.5" stroke="#b0333c" stroke-width="0.8"/>
<path d="M164.94 492.5 L164.9 492.0 L165.4 492.5 L165.9 492.3 L166.4 492.5 L166.9 492.5 L167.4 492.5 L167.9 492.5 L168.4 492.5 L168.9 492.5 L169.4 492.5 L169.9 492.5 L170.4 492.5 L170.9 492.2 L171.4 492.5 L171.9 492.1 L172.4 492.4 L172.9 492.3 L173.4 491.9 L173.9 492.5 L174.4 491.7 L174.9 492.5 L175.4 492.0 L175.9 492.2 L176.4 492.5 L176.9 492.1 L177.4 492.5 L177.9 492.3 L178.4 492.5 L178.9 492.5 L179.4 492.5 L179.9 492.5 L180.4 492.5 L180.9 492.5 L181.4 492.4 L181.9 492.4 L182.4 492.0 L182.9 490.8 L183.4 490.3 L183.9 487.9 L184.4 486.2 L184.9 482.7 L185.4 478.9 L185.9 475.0 L186.4 469.8 L186.9 466.2 L187.4 461.8 L187.9 459.7 L188.4 458.7 L188.9 458.7 L189.4 460.8 L189.9 462.4 L190.4 466.1 L190.9 469.0 L191.4 472.5 L191.9 476.1 L192.4 478.5 L192.9 481.9 L193.4 483.3 L193.9 485.5 L194.4 486.6 L194.9 487.3 L195.4 488.6 L195.9 488.4 L196.4 489.5 L196.9 489.3 L197.4 489.9 L197.9 490.4 L198.4 490.2 L198.9 491.3 L199.4 490.8 L199.9 491.7 L200.4 491.7 L200.9 491.9 L201.4 492.5 L201.9 492.0 L202.4 492.5 L202.9 492.4 L203.4 492.5 L203.9 492.5 L204.4 492.5 L204.9 492.5 L205.4 492.3 L205.9 492.5 L206.4 492.4 L206.9 492.4 L207.4 492.5 L207.9 491.9 L208.4 492.5 L208.9 491.8 L209.4 492.3 L209.9 492.1 L210.4 491.9 L210.9 492.5 L211.4 491.9 L211.9 492.5 L212.4 492.3 L212.44 492.5 Z" fill="#ebb15e" fill-opacity="0.72"/>
<path d="M164.9 492.0 L165.4 492.5 L165.9 492.3 L166.4 492.5 L166.9 492.5 L167.4 492.5 L167.9 492.5 L168.4 492.5 L168.9 492.5 L169.4 492.5 L169.9 492.5 L170.4 492.5 L170.9 492.2 L171.4 492.5 L171.9 492.1 L172.4 492.4 L172.9 492.3 L173.4 491.9 L173.9 492.5 L174.4 491.7 L174.9 492.5 L175.4 492.0 L175.9 492.2 L176.4 492.5 L176.9 492.1 L177.4 492.5 L177.9 492.3 L178.4 492.5 L178.9 492.5 L179.4 492.5 L179.9 492.5 L180.4 492.5 L180.9 492.5 L181.4 492.4 L181.9 492.4 L182.4 492.0 L182.9 490.8 L183.4 490.3 L183.9 487.9 L184.4 486.2 L184.9 482.7 L185.4 478.9 L185.9 475.0 L186.4 469.8 L186.9 466.2 L187.4 461.8 L187.9 459.7 L188.4 458.7 L188.9 458.7 L189.4 460.8 L189.9 462.4 L190.4 466.1 L190.9 469.0 L191.4 472.5 L191.9 476.1 L192.4 478.5 L192.9 481.9 L193.4 483.3 L193.9 485.5 L194.4 486.6 L194.9 487.3 L195.4 488.6 L195.9 488.4 L196.4 489.5 L196.9 489.3 L197.4 489.9 L197.9 490.4 L198.4 490.2 L198.9 491.3 L199.4 490.8 L199.9 491.7 L200.4 491.7 L200.9 491.9 L201.4 492.5 L201.9 492.0 L202.4 492.5 L202.9 492.4 L203.4 492.5 L203.9 492.5 L204.4 492.5 L204.9 492.5 L205.4 492.3 L205.9 492.5 L206.4 492.4 L206.9 492.4 L207.4 492.5 L207.9 491.9 L208.4 492.5 L208.9 491.8 L209.4 492.3 L209.9 492.1 L210.4 491.9 L210.9 492.5 L211.4 491.9 L211.9 492.5 L212.4 492.3 L212.44 492.5" fill="none" stroke="#e09a30" stroke-width="0.55"/>
<line x1="164.74" y1="492.5" x2="212.44" y2="492.5" stroke="#e09a30" stroke-width="0.8"/>
<path d="M161.17 494.5 L161.2 494.0 L161.7 494.5 L162.2 493.7 L162.7 494.5 L163.2 493.9 L163.7 494.2 L164.2 494.4 L164.7 494.0 L165.2 494.5 L165.7 494.2 L166.2 494.5 L166.7 494.5 L167.2 494.5 L167.7 494.5 L168.2 494.5 L168.7 494.5 L169.2 494.5 L169.7 494.5 L170.2 494.5 L170.7 494.4 L171.2 494.5 L171.7 494.0 L172.2 494.5 L172.7 494.1 L173.2 494.1 L173.7 494.3 L174.2 493.7 L174.7 494.5 L175.2 493.8 L175.7 494.4 L176.2 494.2 L176.7 494.0 L177.2 494.4 L177.7 493.4 L178.2 493.7 L178.7 492.3 L179.2 491.4 L179.7 489.7 L180.2 486.8 L180.7 484.3 L181.2 479.8 L181.7 476.3 L182.2 471.6 L182.7 467.5 L183.2 464.4 L183.7 461.3 L184.2 461.0 L184.7 460.6 L185.2 462.5 L185.7 465.0 L186.2 468.0 L186.7 472.5 L187.2 475.7 L187.7 480.2 L188.2 483.2 L188.7 486.3 L189.2 489.1 L189.7 490.4 L190.2 492.6 L190.7 492.9 L191.2 494.1 L191.7 494.3 L192.2 494.4 L192.7 494.5 L193.2 494.3 L193.7 494.5 L194.2 494.4 L194.7 494.5 L195.2 494.5 L195.7 494.0 L196.2 494.5 L196.7 493.8 L197.2 494.4 L197.7 494.0 L198.2 494.0 L198.7 494.4 L199.2 493.8 L199.7 494.5 L200.2 494.1 L200.7 494.5 L201.2 494.5 L201.7 494.4 L202.2 494.5 L202.7 494.5 L203.2 494.5 L203.7 494.5 L204.2 494.5 L204.7 494.5 L205.2 494.4 L205.7 494.5 L206.2 494.3 L206.7 494.5 L207.2 494.4 L207.7 494.1 L208.2 494.5 L208.7 493.7 L208.67 494.5 Z" fill="#7e7a8c" fill-opacity="0.72"/>
<path d="M161.2 494.0 L161.7 494.5 L162.2 493.7 L162.7 494.5 L163.2 493.9 L163.7 494.2 L164.2 494.4 L164.7 494.0 L165.2 494.5 L165.7 494.2 L166.2 494.5 L166.7 494.5 L167.2 494.5 L167.7 494.5 L168.2 494.5 L168.7 494.5 L169.2 494.5 L169.7 494.5 L170.2 494.5 L170.7 494.4 L171.2 494.5 L171.7 494.0 L172.2 494.5 L172.7 494.1 L173.2 494.1 L173.7 494.3 L174.2 493.7 L174.7 494.5 L175.2 493.8 L175.7 494.4 L176.2 494.2 L176.7 494.0 L177.2 494.4 L177.7 493.4 L178.2 493.7 L178.7 492.3 L179.2 491.4 L179.7 489.7 L180.2 486.8 L180.7 484.3 L181.2 479.8 L181.7 476.3 L182.2 471.6 L182.7 467.5 L183.2 464.4 L183.7 461.3 L184.2 461.0 L184.7 460.6 L185.2 462.5 L185.7 465.0 L186.2 468.0 L186.7 472.5 L187.2 475.7 L187.7 480.2 L188.2 483.2 L188.7 486.3 L189.2 489.1 L189.7 490.4 L190.2 492.6 L190.7 492.9 L191.2 494.1 L191.7 494.3 L192.2 494.4 L192.7 494.5 L193.2 494.3 L193.7 494.5 L194.2 494.4 L194.7 494.5 L195.2 494.5 L195.7 494.0 L196.2 494.5 L196.7 493.8 L197.2 494.4 L197.7 494.0 L198.2 494.0 L198.7 494.4 L199.2 493.8 L199.7 494.5 L200.2 494.1 L200.7 494.5 L201.2 494.5 L201.7 494.4 L202.2 494.5 L202.7 494.5 L203.2 494.5 L203.7 494.5 L204.2 494.5 L204.7 494.5 L205.2 494.4 L205.7 494.5 L206.2 494.3 L206.7 494.5 L207.2 494.4 L207.7 494.1 L208.2 494.5 L208.7 493.7 L208.67 494.5" fill="none" stroke="#4d5d8a" stroke-width="0.55"/>
<line x1="160.97" y1="494.5" x2="208.67" y2="494.5" stroke="#4d5d8a" stroke-width="0.8"/>
<path d="M157.4 496.5 L157.4 496.5 L157.9 496.5 L158.4 496.5 L158.9 496.5 L159.4 496.1 L159.9 496.5 L160.4 496.1 L160.9 496.3 L161.4 496.3 L161.9 495.8 L162.4 496.5 L162.9 495.7 L163.4 496.4 L163.9 496.1 L164.4 496.2 L164.9 496.5 L165.4 496.1 L165.9 496.5 L166.4 496.4 L166.9 496.5 L167.4 496.5 L167.9 496.5 L168.4 496.5 L168.9 496.5 L169.4 496.5 L169.9 496.5 L170.4 496.5 L170.9 496.5 L171.4 496.0 L171.9 496.5 L172.4 495.5 L172.9 495.5 L173.4 494.6 L173.9 493.4 L174.4 492.4 L174.9 489.5 L175.4 487.3 L175.9 483.1 L176.4 478.9 L176.9 474.0 L177.4 468.3 L177.9 464.0 L178.4 458.9 L178.9 456.3 L179.4 454.4 L179.9 454.7 L180.4 458.0 L180.9 462.1 L181.4 468.8 L181.9 474.5 L182.4 480.8 L182.9 485.7 L183.4 489.2 L183.9 492.5 L184.4 493.5 L184.9 495.2 L185.4 495.3 L185.9 495.7 L186.4 496.2 L186.9 495.7 L187.4 496.5 L187.9 495.9 L188.4 496.5 L188.9 496.5 L189.4 496.4 L189.9 496.5 L190.4 496.4 L190.9 496.5 L191.4 496.5 L191.9 496.5 L192.4 496.5 L192.9 496.5 L193.4 496.5 L193.9 496.3 L194.4 496.5 L194.9 496.4 L195.4 496.2 L195.9 496.5 L196.4 495.8 L196.9 496.5 L197.4 495.8 L197.9 496.2 L198.4 496.2 L198.9 495.9 L199.4 496.5 L199.9 495.9 L200.4 496.5 L200.9 496.4 L201.4 496.5 L201.9 496.5 L202.4 496.4 L202.9 496.5 L203.4 496.5 L203.9 496.5 L204.4 496.5 L204.9 496.5 L204.9 496.5 Z" fill="#a7c6ea" fill-opacity="0.72"/>
<path d="M157.4 496.5 L157.9 496.5 L158.4 496.5 L158.9 496.5 L159.4 496.1 L159.9 496.5 L160.4 496.1 L160.9 496.3 L161.4 496.3 L161.9 495.8 L162.4 496.5 L162.9 495.7 L163.4 496.4 L163.9 496.1 L164.4 496.2 L164.9 496.5 L165.4 496.1 L165.9 496.5 L166.4 496.4 L166.9 496.5 L167.4 496.5 L167.9 496.5 L168.4 496.5 L168.9 496.5 L169.4 496.5 L169.9 496.5 L170.4 496.5 L170.9 496.5 L171.4 496.0 L171.9 496.5 L172.4 495.5 L172.9 495.5 L173.4 494.6 L173.9 493.4 L174.4 492.4 L174.9 489.5 L175.4 487.3 L175.9 483.1 L176.4 478.9 L176.9 474.0 L177.4 468.3 L177.9 464.0 L178.4 458.9 L178.9 456.3 L179.4 454.4 L179.9 454.7 L180.4 458.0 L180.9 462.1 L181.4 468.8 L181.9 474.5 L182.4 480.8 L182.9 485.7 L183.4 489.2 L183.9 492.5 L184.4 493.5 L184.9 495.2 L185.4 495.3 L185.9 495.7 L186.4 496.2 L186.9 495.7 L187.4 496.5 L187.9 495.9 L188.4 496.5 L188.9 496.5 L189.4 496.4 L189.9 496.5 L190.4 496.4 L190.9 496.5 L191.4 496.5 L191.9 496.5 L192.4 496.5 L192.9 496.5 L193.4 496.5 L193.9 496.3 L194.4 496.5 L194.9 496.4 L195.4 496.2 L195.9 496.5 L196.4 495.8 L196.9 496.5 L197.4 495.8 L197.9 496.2 L198.4 496.2 L198.9 495.9 L199.4 496.5 L199.9 495.9 L200.4 496.5 L200.9 496.4 L201.4 496.5 L201.9 496.5 L202.4 496.4 L202.9 496.5 L203.4 496.5 L203.9 496.5 L204.4 496.5 L204.9 496.5 L204.9 496.5" fill="none" stroke="#6fa3d8" stroke-width="0.55"/>
<line x1="157.2" y1="496.5" x2="204.9" y2="496.5" stroke="#6fa3d8" stroke-width="0.8"/>
<line x1="156.8" y1="497.5" x2="203.7" y2="497.5" stroke="#444" stroke-width="0.5"/>
<path d="M162.85 498.00v1.6M163.26 498.00v1.6M163.68 498.00v1.6M164.10 498.00v1.6M164.54 498.00v1.6M165.00 498.00v1.6M165.47 498.00v1.6M165.96 498.00v1.6M166.47 498.00v1.6M167.02 498.00v1.6M167.62 498.00v1.6M168.30 498.00v1.6M169.30 498.00v1.6M170.30 498.00v1.6M170.98 498.00v1.6M171.58 498.00v1.6M172.13 498.00v1.6M172.64 498.00v1.6M173.13 498.00v1.6M173.60 498.00v1.6M174.06 498.00v1.6M174.50 498.00v1.6M174.92 498.00v1.6M175.34 498.00v1.6M175.75 498.00v1.6M162.00 498.00v2.2M169.30 498.00v2.2M176.80 498.00v2.2M189.30 498.00v2.2M201.20 498.00v2.2M180.56 498.00v1.5M182.76 498.00v1.5M184.33 498.00v1.5M185.54 498.00v1.5M186.53 498.00v1.5M187.36 498.00v1.5M188.09 498.00v1.5M188.73 498.00v1.5M192.88 498.00v1.5M194.98 498.00v1.5M196.46 498.00v1.5M197.62 498.00v1.5M198.56 498.00v1.5M199.36 498.00v1.5M200.05 498.00v1.5M200.66 498.00v1.5" stroke="#111" stroke-width="0.6" fill="none"/>
<text x="162" y="506.5" font-size="4.6" text-anchor="middle" fill="#8a8a8a">-10<tspan font-size="2.85" dy="-1.75">3</tspan></text>
<text x="169.3" y="506.5" font-size="4.6" text-anchor="middle" fill="#8a8a8a">0</text>
<text x="176.8" y="506.5" font-size="4.6" text-anchor="middle" fill="#8a8a8a">10<tspan font-size="2.85" dy="-1.75">3</tspan></text>
<text x="189.3" y="506.5" font-size="4.6" text-anchor="middle" fill="#8a8a8a">10<tspan font-size="2.85" dy="-1.75">4</tspan></text>
<text x="201.2" y="506.5" font-size="4.6" text-anchor="middle" fill="#8a8a8a">10<tspan font-size="2.85" dy="-1.75">5</tspan></text>
<text x="168.2" y="516.9" font-size="7.03" stroke="#231f20" stroke-width="0.2" textLength="26.9" lengthAdjust="spacingAndGlyphs">Anti-CD25</text>
<path d="M217.30 304.92 L217.49 304.84 L217.69 304.74 L217.88 304.64 L218.08 304.53 L218.27 304.41 L218.47 304.29 L218.66 304.15 L218.86 304.01 L219.05 303.86 L219.25 303.69 L219.44 303.47 L219.64 303.15 L219.83 302.67 L220.03 301.95 L220.22 300.93 L220.42 299.63 L220.61 298.16 L220.81 296.77 L221.00 295.77 L221.20 295.40 L221.39 295.77 L221.59 296.77 L221.78 298.16 L221.98 299.63 L222.17 300.93 L222.37 301.95 L222.56 302.67 L222.76 303.15 L222.95 303.47 L223.15 303.69 L223.34 303.86 L223.54 304.01 L223.73 304.15 L223.93 304.29 L224.12 304.41 L224.32 304.53 L224.51 304.64 L224.71 304.74 L224.91 304.84 L225.10 304.92 Z" fill="#c25c60" stroke="#b0333c" stroke-width="0.6"/>
<line x1="217.3" y1="305.4" x2="225.1" y2="305.4" stroke="#b0333c" stroke-width="0.7"/>
<path d="M217.30 318.01 L217.49 317.93 L217.69 317.83 L217.88 317.73 L218.08 317.61 L218.27 317.49 L218.47 317.36 L218.66 317.23 L218.86 317.09 L219.05 316.93 L219.25 316.76 L219.44 316.53 L219.64 316.21 L219.83 315.72 L220.03 314.98 L220.22 313.94 L220.42 312.61 L220.61 311.11 L220.81 309.70 L221.00 308.68 L221.20 308.30 L221.39 308.68 L221.59 309.70 L221.78 311.11 L221.98 312.61 L222.17 313.94 L222.37 314.98 L222.56 315.72 L222.76 316.21 L222.95 316.53 L223.15 316.76 L223.34 316.93 L223.54 317.09 L223.73 317.23 L223.93 317.36 L224.12 317.49 L224.32 317.61 L224.51 317.73 L224.71 317.83 L224.91 317.93 L225.10 318.01 Z" fill="#ebb15e" stroke="#e09a30" stroke-width="0.6"/>
<line x1="217.3" y1="318.5" x2="225.1" y2="318.5" stroke="#e09a30" stroke-width="0.7"/>
<path d="M217.30 330.32 L217.49 330.24 L217.69 330.14 L217.88 330.04 L218.08 329.93 L218.27 329.81 L218.47 329.69 L218.66 329.55 L218.86 329.41 L219.05 329.26 L219.25 329.09 L219.44 328.87 L219.64 328.55 L219.83 328.07 L220.03 327.35 L220.22 326.33 L220.42 325.03 L220.61 323.56 L220.81 322.17 L221.00 321.17 L221.20 320.80 L221.39 321.17 L221.59 322.17 L221.78 323.56 L221.98 325.03 L222.17 326.33 L222.37 327.35 L222.56 328.07 L222.76 328.55 L222.95 328.87 L223.15 329.09 L223.34 329.26 L223.54 329.41 L223.73 329.55 L223.93 329.69 L224.12 329.81 L224.32 329.93 L224.51 330.04 L224.71 330.14 L224.91 330.24 L225.10 330.32 Z" fill="#7e7a8c" stroke="#4d5d8a" stroke-width="0.6"/>
<line x1="217.3" y1="330.8" x2="225.1" y2="330.8" stroke="#4d5d8a" stroke-width="0.7"/>
<path d="M217.30 343.01 L217.49 342.93 L217.69 342.83 L217.88 342.73 L218.08 342.61 L218.27 342.49 L218.47 342.36 L218.66 342.23 L218.86 342.09 L219.05 341.93 L219.25 341.76 L219.44 341.53 L219.64 341.21 L219.83 340.72 L220.03 339.98 L220.22 338.94 L220.42 337.61 L220.61 336.11 L220.81 334.70 L221.00 333.68 L221.20 333.30 L221.39 333.68 L221.59 334.70 L221.78 336.11 L221.98 337.61 L222.17 338.94 L222.37 339.98 L222.56 340.72 L222.76 341.21 L222.95 341.53 L223.15 341.76 L223.34 341.93 L223.54 342.09 L223.73 342.23 L223.93 342.36 L224.12 342.49 L224.32 342.61 L224.51 342.73 L224.71 342.83 L224.91 342.93 L225.10 343.01 Z" fill="#a7c6ea" stroke="#6fa3d8" stroke-width="0.6"/>
<line x1="217.3" y1="343.5" x2="225.1" y2="343.5" stroke="#6fa3d8" stroke-width="0.7"/>
<text x="227.3" y="303.5" font-size="9.27" stroke="#231f20" stroke-width="0.2" textLength="63.5" lengthAdjust="spacingAndGlyphs">Anti-CD3/Anti-CD28</text>
<text x="227.3" y="316" font-size="9.11" stroke="#231f20" stroke-width="0.2" textLength="21.2" lengthAdjust="spacingAndGlyphs">PBMCs</text>
<text x="227.3" y="328.5" font-size="9.11" stroke="#231f20" stroke-width="0.2" textLength="52.3" lengthAdjust="spacingAndGlyphs">Neutro+RBC-ops</text>
<text x="227.3" y="341" font-size="9.11" stroke="#231f20" stroke-width="0.2" textLength="23.1" lengthAdjust="spacingAndGlyphs">Isotype</text>
</svg>
</body></html>
